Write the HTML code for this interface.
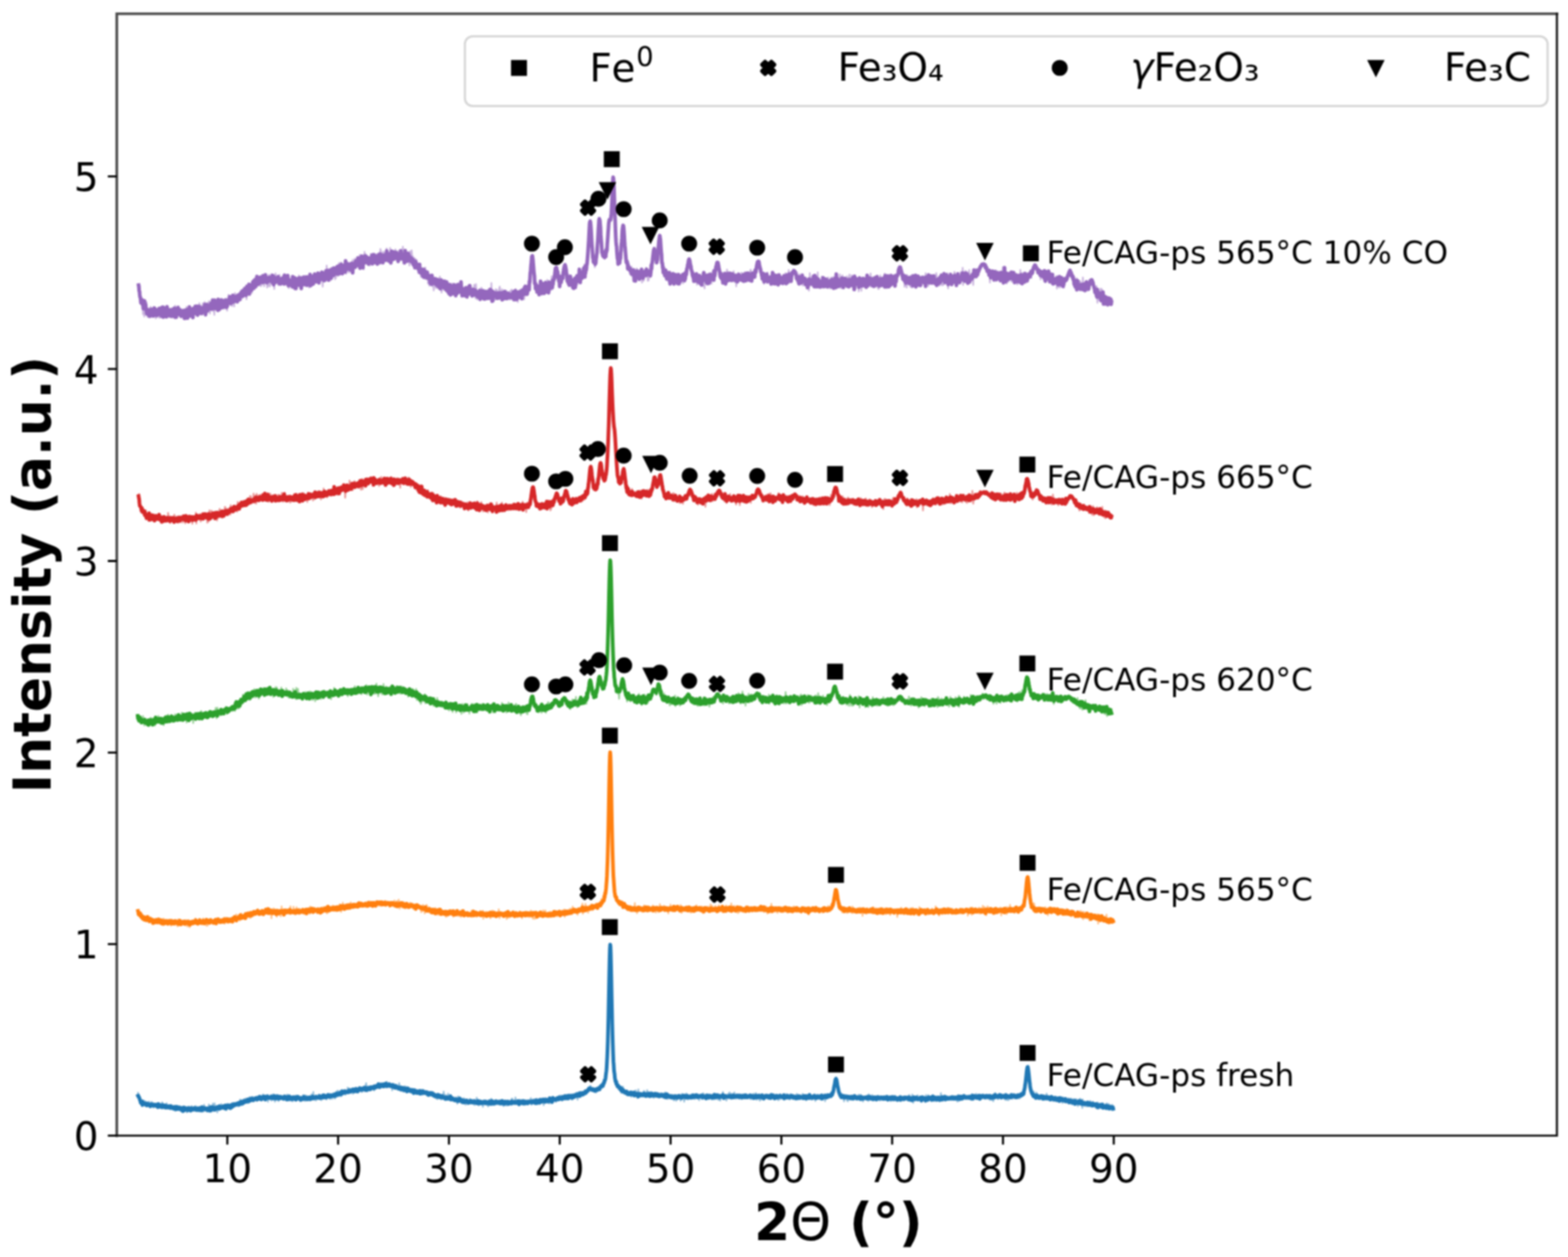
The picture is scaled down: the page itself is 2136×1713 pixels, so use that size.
<!DOCTYPE html>
<html><head><meta charset="utf-8"><title>XRD patterns</title>
<style>html,body{margin:0;padding:0;background:#fff;width:2136px;height:1713px;overflow:hidden}svg{display:block;filter:blur(0.9px)}</style>
</head><body>
<svg width="2136" height="1713" viewBox="0 0 2136 1713">
<rect width="2136" height="1713" fill="#fff"/>
<g fill="none" stroke-width="5.0" stroke-linejoin="round" stroke-linecap="square">
<path stroke="#1f77b4" stroke-width="2.2" stroke-opacity="0.5" d="M188.0,1489.2l.6,2.8 .6,1.8 .6,4 .6,.3 .6,2.3 .6,3 .6,1.1 .6,0 .6-1.8 .6-.5 .6,0 .6,1.2 .6,.8 .6-1.9 .6-.3 .6,3.4 .6-4.8 .6,3.9 .6,1.5 .6-3.2 .6-.2 .6,.9 .6,3.3 .6-1.7 .6-3.9 .6,3.3 .6,3.4 .6,0 .6-.8 .6-1.9 .6-3.7 .6,4.7 .6-.8 .6,.6 .6,3.5 .6-3.1 .6,.2 .6,.8 .6-1.9 .6-.9 .6-.1 .6,3.5 .6-.5 .6-2.3 .6,3.9 .6-2.2 .6-3.4 .6,4.5 .6-1.6 .6-2.6 .6,4.3 .6-1.9 .6,0 .6,2.3 .6-6.3 .6,2.2 .6,2 .6,1.7 .6-2 .6-.7 .6,0 .6,2.2 .6,1.9 .6-4.8 .6-1.3 .6,4.2 .6-.2 .6-1.1 .6,3.6 .6,.6 .6-3.1 .6,.6 .6,2.2 .6-2.2 .6-2.2 .6,3.2 .6-1.8 .6,2.9 .6-1.9 .6,.9 .6,1.7 .6-1.4 .6-1.1 .6-.8 .6,6.4 .6-1.4 .6-5.9 .6,1.1 .6,3.8 .6-2.6 .6,1.5 .6,1.9 .6-1.6 .6-.5 .6-.7 .6,.9 .6,1.2 .6,3.1 .6-1.5 .6-2.8 .6,2.6 .6-1.8 .6-3.7 .6,3.2 .6,2.6 .6-3.7 .6,3.6 .6-2.8 .6,.8 .6-2.8 .6,7.5 .6-3.7 .6,1.3 .6-3.3 .6-2.3 .6,6.1 .6-4.4 .6,5.5 .6-4.2 .6,4.2 .6-5.4 .6-2.4 .6,5.7 .6-1.7 .6,.1 .6,2.4 .6-4.4 .6-.9 .6,.3 .6-1.2 .6-.3 .6,1.2 .6,.8 .6,1.1 .6-1.7 .6,2.5 .6,2 .6-2.3 .6,1.5 .6-3.1 .6,2.7 .6,.4 .6-2.6 .6-2.1 .6,3.1 .6,.3 .6,3.3 .6-4.3 .6,4.7 .6-9.3 .6,4.7 .6-.4 .6,.2 .6-.4 .6,1 .6,3.9 .6-4.2 .6,3 .6-2.9 .6,.4 .6-5.7 .6,5.6 .6,1.1 .6-4 .6,1.2 .6-.6 .6,6.7 .6-7.1 .6,.5 .6-4.6 .6,2.6 .6,4 .6-3.4 .6-3.5 .6,5.6 .6,.8 .6,.3 .6,.2 .6-2.3 .6,7.7 .6-7.7 .6,2.3 .6-4 .6,1.4 .6-2.1 .6,3.9 .6-1.5 .6-1.4 .6-2.3 .6,5.7 .6,.6 .6-.1 .6-2.1 .6,1.7 .6,.4 .6-.9 .6,2 .6-3.7 .6,.7 .6-4 .6,8.1 .6-6.5 .6,2.3 .6,.6 .6-3.4 .6,1.6 .6,1.5 .6-1.9 .6-.7 .6-.1 .6-1.1 .6,1.1 .6,1 .6,.1 .6,1.2 .6-2.5 .6-1.5 .6,2.9 .6-1.3 .6,1.3 .6-2 .6,.6 .6-.5 .6,.6 .6-4.1 .6,1.8 .6,.5 .6,3.3 .6-4.3 .6,1 .6-1.6 .6-4.5 .6,7.4 .6-1.5 .6,1.1 .6-6.1 .6,3.6 .6-.4 .6-4.1 .6,4.4 .6-2.6 .6,2.3 .6-5 .6,1.6 .6,.2 .6-2.1 .6,3.4 .6,2.7 .6-3.2 .6,1.3 .6,1.7 .6-2.2 .6-2.3 .6-3.7 .6,5 .6-1.8 .6-.4 .6,2.5 .6-.6 .6-4.9 .6,3.9 .6-1.4 .6,2.5 .6-2.1 .6,2.1 .6-3.8 .6,.5 .6-.4 .6,.7 .6-.2 .6,3.2 .6-5.1 .6,2.4 .6-3 .6-.7 .6,1.9 .6-2.2 .6,3.8 .6-2.2 .6,.4 .6,2.2 .6,2.4 .6-4.8 .6-3.3 .6,3.5 .6,.8 .6,2.5 .6-2.7 .6-2 .6,4.1 .6,.3 .6-2.9 .6,1.1 .6,.1 .6,5.1 .6-7.3 .6,.4 .6,.8 .6,1.8 .6-2.3 .6,1.9 .6,.9 .6,2.4 .6-4.8 .6-.4 .6,0 .6-3.5 .6,1.6 .6,3 .6,0 .6,5.6 .6-3 .6-1.1 .6,1.6 .6-4.8 .6,.2 .6-.4 .6,1.4 .6,5.3 .6-5.5 .6-.9 .6,1.6 .6,1.9 .6-.8 .6,.8 .6-4.6 .6,.8 .6,1.4 .6,.8 .6,2.9 .6-5.9 .6,4.3 .6-1.9 .6,1.9 .6-2.8 .6-1.7 .6,5.9 .6-2 .6-5.1 .6,6.1 .6-3.9 .6,2.1 .6,.2 .6-3 .6,5.6 .6-3.7 .6,5 .6-2.6 .6,0 .6-.5 .6,3.9 .6-6.8 .6,.6 .6,.3 .6,4.1 .6-.2 .6-2.2 .6,.5 .6-4.4 .6,7.2 .6-3.9 .6,.8 .6-1 .6,2.2 .6-2 .6,.8 .6,0 .6-1.4 .6-.2 .6,2.3 .6,0 .6,.8 .6,1.6 .6-6.2 .6-1.3 .6,3.2 .6,3.9 .6-3.1 .6-4 .6,7.8 .6-2.5 .6-4.6 .6,1.5 .6,2.1 .6-1.5 .6,.9 .6,1.5 .6-1.2 .6,3.1 .6-3.7 .6,3.9 .6-4.8 .6-1.4 .6-2.2 .6,2.8 .6,2.2 .6,1.9 .6-10.1 .6,7.7 .6-2.2 .6,3.9 .6-2.9 .6,1.8 .6,3.4 .6-3.9 .6-.7 .6,2.6 .6-1.7 .6-1.1 .6-3.3 .6,2.8 .6-3.1 .6,4.2 .6,.8 .6-1.2 .6,4 .6-6.9 .6,3.5 .6-.9 .6-2.9 .6,3.8 .6,.7 .6,.6 .6-3 .6,1.8 .6-3.1 .6,4.9 .6,.6 .6-3.8 .6,.1 .6-3 .6,2.4 .6-1 .6,1.3 .6-3.8 .6,7.2 .6-3.8 .6,2 .6-1.5 .6-1.9 .6,4.9 .6-1.9 .6-6.1 .6,3.2 .6-.6 .6-1.5 .6,6.6 .6-7.8 .6,6.1 .6-7.6 .6,6.9 .6-4.5 .6-4.1 .6,5.6 .6,.3 .6-3.3 .6,4.4 .6-6.5 .6,6.2 .6-1.4 .6,2.6 .6-5.2 .6,2.8 .6-3.5 .6,3.1 .6-1.5 .6,1.1 .6-4.9 .6,3.9 .6-.4 .6,2.4 .6-4.3 .6,.2 .6,1.7 .6-.3 .6-7.1 .6,5 .6,2.5 .6-2.9 .6-3.6 .6,3.4 .6,.6 .6-2.3 .6,2.3 .6-2.8 .6,2 .6,.5 .6,3.8 .6-3.4 .6,2 .6-2.5 .6-3.2 .6-.2 .6,4.4 .6-5.6 .6-.1 .6,5.7 .6-4.1 .6-.8 .6,6.3 .6-5.9 .6,3.3 .6-1.6 .6,.3 .6-.3 .6,2.2 .6,.9 .6-5.6 .6,5.6 .6-4.1 .6,0 .6,1.8 .6-2.9 .6-.9 .6,5.5 .6-4.9 .6-3.6 .6-2.8 .6,8.1 .6-1.1 .6,4.2 .6-6.8 .6-.2 .6,2.8 .6,2.8 .6,.1 .6-3.3 .6-1.7 .6,1.7 .6,3 .6-3.8 .6-.9 .6,1.9 .6-.7 .6-.4 .6,4.4 .6-3.3 .6-1.4 .6-1.2 .6,0 .6,1.7 .6,.3 .6-3.2 .6,.1 .6,.5 .6-1.6 .6,4.5 .6-4.7 .6,2.3 .6,1.8 .6-4.6 .6,.2 .6,1.6 .6,1.3 .6-.8 .6-.3 .6,2.6 .6-4.2 .6-.3 .6,3 .6-1.2 .6,1.8 .6,.3 .6-5 .6-2.2 .6,6 .6-1.3 .6,.7 .6-2.6 .6,3.9 .6-2.2 .6,1.8 .6,.9 .6-1.7 .6-.3 .6-1.3 .6,7.9 .6-9.2 .6,4.9 .6-4.9 .6,1.7 .6,5.3 .6-4.7 .6,4.2 .6-3.1 .6,3.1 .6-5.1 .6,.8 .6,6.1 .6-2.4 .6-2.9 .6,1.4 .6-5 .6,5.8 .6-2.1 .6,1 .6,5.8 .6-4.5 .6,0 .6-1 .6,4.3 .6-.1 .6-3.1 .6-1.7 .6,3.5 .6,.9 .6-4.7 .6,7.3 .6-4.6 .6,2.4 .6-1.9 .6,.2 .6,3.9 .6-1.8 .6-3.6 .6,4.4 .6,1.2 .6-2.2 .6,3 .6-4.5 .6,4.4 .6-1.6 .6-.1 .6,2.9 .6-1.5 .6-2.2 .6,2 .6-2.6 .6,2.8 .6,1.9 .6-.1 .6-4.4 .6,1.2 .6,2.1 .6,0 .6-3 .6,2.3 .6,.5 .6,2.7 .6-2.9 .6-.6 .6-2.2 .6-.6 .6,5.4 .6-1.8 .6-1.1 .6,3.4 .6-1.1 .6-1.2 .6,2 .6-2.4 .6,2.7 .6-.7 .6-1.7 .6,.2 .6-.6 .6,3.8 .6-2.2 .6-1.9 .6,4.1 .6-.4 .6-.9 .6,.6 .6-1.2 .6-.4 .6,3.5 .6-4.4 .6-.8 .6,.6 .6,5.2 .6-4.3 .6,1.9 .6-.9 .6-.5 .6,2.1 .6,.2 .6,4.9 .6-5 .6,1.5 .6,4.1 .6-1.2 .6-1.6 .6,.8 .6-2 .6,2.1 .6-1.1 .6-2.4 .6,6 .6-3.8 .6,1.4 .6-2.3 .6-1.5 .6-1.1 .6-3.4 .6,9.1 .6-5.3 .6,2.9 .6,1.4 .6-3.3 .6,2.3 .6,2.2 .6-1.3 .6,2 .6-7.3 .6,7.5 .6,.7 .6-4.9 .6,5 .6-2.6 .6,.5 .6,1.9 .6-4.5 .6,5.4 .6-3.5 .6,3.6 .6-1.8 .6,.9 .6-2.4 .6,1.9 .6-2.5 .6,1.2 .6-1.5 .6,3.2 .6-2 .6,7.7 .6-7.2 .6-2.9 .6,7.7 .6-3.3 .6,2.1 .6-.9 .6-1.8 .6,.5 .6-1 .6,5.8 .6-1.6 .6-4.4 .6,5.3 .6-.8 .6-5 .6,2 .6,2.9 .6-.2 .6,4.1 .6-4.6 .6,2.3 .6-3.2 .6,.9 .6,.3 .6-.1 .6,.7 .6-.2 .6-3.9 .6,5.4 .6-4.1 .6,4.5 .6-.3 .6,.1 .6-2.9 .6,2.1 .6,1 .6-2.8 .6-2.2 .6,7.4 .6-4.5 .6-.6 .6-1.1 .6-.5 .6-3.3 .6,3.7 .6,0 .6,.5 .6,6.4 .6-4.7 .6-.6 .6,1.1 .6-1.9 .6,4.8 .6-.1 .6-4.6 .6,4 .6-.5 .6,4.4 .6-3.2 .6-6.1 .6,2.3 .6,2.8 .6-.5 .6,1.6 .6-3.2 .6,.9 .6,2.8 .6-2 .6-1.4 .6,5.6 .6-5.7 .6,.6 .6-2.4 .6,2.6 .6-4.5 .6,7.5 .6-8.7 .6,7.1 .6-3.9 .6,2.8 .6,2.6 .6-3.4 .6,1.1 .6-2.6 .6,.7 .6,3.5 .6-4.4 .6,3.7 .6-1.6 .6-1.4 .6,3.2 .6-4.4 .6,2.9 .6-3.8 .6,2.5 .6-2.4 .6,3.4 .6,1.6 .6,.3 .6-1.4 .6-.4 .6-1.6 .6,.2 .6-1.3 .6,6.9 .6-5 .6-.1 .6,.6 .6-2.2 .6,5.7 .6-4.8 .6-1.3 .6,6.4 .6-1.4 .6-1.2 .6-2.6 .6,4.4 .6-3.3 .6,.6 .6,2 .6-2.3 .6-1.4 .6-3.9 .6,7.5 .6-7.8 .6,3.4 .6-.4 .6,.8 .6,.2 .6,2 .6-1.9 .6-5.7 .6,6.4 .6-2.8 .6,1.8 .6-2 .6,2.6 .6-.4 .6,2.5 .6-.8 .6,1.2 .6-5.6 .6,6.5 .6-4.3 .6,2.1 .6,.6 .6,.2 .6-2.1 .6-2.9 .6,5.1 .6,1.1 .6-.2 .6-.1 .6,1.1 .6-1.6 .6-3 .6,2.6 .6-4.2 .6,2.3 .6,.4 .6,2.3 .6-3.3 .6,.2 .6-.8 .6,2.3 .6-5.1 .6-1.2 .6,8.9 .6-1.1 .6-1.3 .6-.7 .6-2.3 .6-2.1 .6,4.4 .6-3.6 .6,4.6 .6-1.6 .6-3.8 .6,3.7 .6-4.6 .6,2.3 .6,3.7 .6-3.8 .6,.9 .6-.9 .6,.2 .6,3.4 .6-1.3 .6,.1 .6-4.7 .6,2.9 .6-1.2 .6,2 .6-2.7 .6,4.4 .6,3.9 .6-5.9 .6-1.6 .6,3 .6-5.6 .6,2.4 .6,3.1 .6-2.9 .6,.7 .6,3.2 .6-2.7 .6,.7 .6-3.6 .6,7 .6-5.8 .6,1.8 .6-.9 .6-.4 .6-2.7 .6,2.1 .6,.8 .6,2.8 .6-2.8 .6-1.5 .6,1.4 .6-.2 .6-.6 .6,.7 .6,3 .6-3.8 .6-3 .6,1.6 .6,.5 .6-1.1 .6,1.9 .6,1.7 .6-6.7 .6,1.9 .6,1.3 .6,2.4 .6-5.6 .6,6.2 .6,1.1 .6-.9 .6-2.2 .6-3.6 .6,1.7 .6-.5 .6,1.6 .6,1.7 .6-.8 .6-3.4 .6,4 .6,.4 .6-4.9 .6-.2 .6,1 .6,1.7 .6-3.1 .6,4.8 .6-2.4 .6,1.4 .6-3.3 .6-.8 .6,2.8 .6,3.6 .6-3 .6,1.2 .6-4.1 .6-.5 .6,1.2 .6,1.3 .6-1.5 .6-2.9 .6-1 .6,4 .6-1.1 .6,6.4 .6-7.7 .6-.9 .6,3.6 .6-2.5 .6,.6 .6,2 .6-4.7 .6,1 .6-.6 .6-.3 .6-.1 .6,.7 .6,3.5 .6-3.7 .6-2 .6,1.6 .6-1.4 .6,1.3 .6-.7 .6-1.8 .6,.4 .6,.7 .6,.2 .6-2.8 .6,.9 .6-1.2 .6-3 .6,.6 .6-2.8 .6,2.6 .6,1.4 .6-.4 .6,1.7 .6-.4 .6,1.5 .6-1.5 .6,1.8 .6-.6 .6,.2 .6,1.4 .6-3.9 .6,5.6 .6-4.2 .6,.6 .6-1.4 .6-.8 .6-2.4 .6,1.7 .6-2.5 .6,0 .6,5.9 .6-3.9 .6-1.1 .6-2.2 .6,1.6 .6-.7 .6,.6 .6-2.6 .6-.4 .6,1.2 .6-3.1 .6-.7 .6-8.4 .6-.4 .6-1.7 .6-9.1 .6-7.9 .6-17.4 .6-17.5 .6-28.5 .6-27.9 .6-30 .6-26.5 .6-12.7 .6,7.5 .6,23.1 .6,29.5 .6,28.8 .6,27.9 .6,19.4 .6,14.5 .6,16.2 .6,8.1 .6,4.5 .6,.8 .6-.2 .6,9.2 .6,.1 .6,3.9 .6-5 .6-.8 .6,8.4 .6,2.2 .6-.5 .6-.4 .6-.5 .6,1.7 .6-2.4 .6,6.8 .6-.8 .6-7.4 .6,7.4 .6-7.8 .6,6.5 .6-1.2 .6,4.7 .6-2.8 .6-.5 .6,3.7 .6-4.3 .6,.2 .6,5.4 .6-1.8 .6-.5 .6-1.5 .6,1.3 .6-.4 .6,1.8 .6-.2 .6-.6 .6,.3 .6,3.7 .6-1.9 .6-.6 .6-1.1 .6,1 .6-.8 .6,.7 .6,.5 .6-2.5 .6-.1 .6-4 .6,3 .6,2.8 .6,4.5 .6,.2 .6-5.3 .6-6.5 .6,7.7 .6,.2 .6,2.5 .6-5.1 .6,1.1 .6,.1 .6,.7 .6-2.9 .6,3.8 .6-2.5 .6,1.9 .6-.5 .6-5 .6,5.7 .6-3.3 .6,.4 .6,.1 .6-.9 .6,2.6 .6-5.6 .6,4.6 .6,1.8 .6,.6 .6,1.7 .6,.1 .6-.2 .6-2.7 .6-1.4 .6-2.2 .6,2.7 .6,1.5 .6-1 .6-1.3 .6,4.3 .6,2.2 .6-4.9 .6,3.7 .6-1.7 .6-3.5 .6,2.5 .6-1.7 .6,4.3 .6,0 .6-1.7 .6-1.8 .6,1.9 .6-.3 .6,2.1 .6-.1 .6-.8 .6-4.6 .6,4.4 .6,1 .6-3.3 .6-1.2 .6,4 .6-4.5 .6,1.6 .6,.6 .6-1.5 .6-2.1 .6,8.6 .6-4.8 .6-2.3 .6,7.4 .6-3.6 .6,3 .6,.5 .6-5.7 .6,3.9 .6,.2 .6-3.7 .6-.2 .6,4.9 .6-2.1 .6-2.9 .6,.7 .6,1.9 .6-1.6 .6,6.1 .6,.7 .6-3 .6-3.1 .6-1.4 .6,1.3 .6,6.8 .6-2.2 .6-5.1 .6,1.1 .6,3.3 .6-3.2 .6-.1 .6,2.1 .6,.8 .6-1.8 .6,5.1 .6-5 .6-.9 .6-3.6 .6,1.7 .6,2.2 .6-.2 .6-2.7 .6,9.6 .6-5.2 .6-.5 .6-1.1 .6-.1 .6-4.3 .6,4.8 .6-2.6 .6-.6 .6,6.8 .6-3.7 .6,.7 .6-1 .6-.9 .6-1.7 .6,4.6 .6-4.1 .6-.5 .6,0 .6,3.7 .6,.2 .6,.5 .6-1.9 .6-.1 .6,3.4 .6-6.4 .6,4.9 .6-1.2 .6-1.5 .6-.9 .6-1.6 .6,.2 .6,.7 .6,1.9 .6,5.5 .6-6.2 .6,1.1 .6-.7 .6-2.2 .6,1.1 .6,5.6 .6-3.4 .6-3.5 .6-1.3 .6,7.9 .6-3.9 .6-2.4 .6,4.9 .6-2.3 .6-1 .6,1.4 .6,3.3 .6-5.4 .6,4 .6-1.5 .6-1.5 .6,4.8 .6-4.4 .6,1.2 .6-1.5 .6-1.9 .6,3.7 .6-3.2 .6,6.5 .6-.4 .6-4.9 .6-.1 .6-.6 .6,5.9 .6-6.7 .6,.2 .6,.3 .6,.2 .6,5.4 .6-4.2 .6,1.3 .6-.9 .6,.1 .6,4.9 .6-.4 .6-3 .6-2.7 .6,6.9 .6-5.1 .6-2.4 .6,.2 .6,2 .6,1.5 .6-8 .6,7.3 .6-1.1 .6,1.4 .6-3.2 .6,4.3 .6-3.4 .6,3.7 .6,2.8 .6-4.8 .6,.2 .6-.1 .6-4.6 .6,5 .6-4.6 .6-2.4 .6,5.8 .6,1.6 .6-3.5 .6-1.9 .6,7 .6-6.9 .6,6.2 .6-3.1 .6-2 .6,3.3 .6-6.4 .6,4 .6,1.6 .6-.1 .6,3.3 .6-5.6 .6,3.7 .6-1.6 .6,2.1 .6-.8 .6,1.7 .6-2.9 .6,3.6 .6-3.3 .6-1.7 .6,1.8 .6,.3 .6,3.2 .6-6.2 .6,2.7 .6-2.9 .6,5 .6-.1 .6-.5 .6-4.8 .6,.8 .6,2.3 .6,1 .6,.8 .6-2.7 .6,1.4 .6-1.2 .6-.2 .6,.3 .6-1.7 .6,4.7 .6,1 .6-1.8 .6-2.4 .6,4.4 .6-5.6 .6,4.9 .6-.4 .6,.5 .6-6.8 .6,4.9 .6-2 .6,3 .6-1.4 .6-5.3 .6,6.4 .6,2.7 .6-3.1 .6,.7 .6-1.4 .6,.9 .6-2.4 .6,5 .6,1.6 .6-7 .6,2.8 .6-2 .6,4.7 .6-3.2 .6,1.4 .6-2.4 .6,3 .6-.7 .6-1 .6,.5 .6-4.6 .6,5.3 .6-4.3 .6,1 .6,1.4 .6,1.6 .6,.4 .6-1.4 .6-.1 .6,1.1 .6-3.5 .6,1.9 .6-1.6 .6-2.4 .6,1.3 .6,5.1 .6-3.8 .6-2.5 .6,3.9 .6-1.5 .6,.3 .6,.3 .6,1.4 .6-.2 .6-.8 .6,.8 .6-.6 .6,1 .6,.8 .6-1.7 .6,4.7 .6-6.8 .6,1.1 .6,.8 .6,3.5 .6-.7 .6-1.4 .6-2.7 .6,2.9 .6-1.1 .6-.6 .6,3.5 .6,.7 .6-2.7 .6-2.2 .6,2 .6-2.8 .6-1.2 .6-.8 .6,3.5 .6-.2 .6-1 .6,.5 .6,.4 .6-1.7 .6,3.2 .6,2.8 .6-4.1 .6-3.4 .6,3.8 .6,.6 .6,.9 .6,1.1 .6-.6 .6,.6 .6-2.5 .6,1 .6-2.4 .6,.5 .6,2.8 .6-2.2 .6-2.8 .6-1.1 .6,6 .6-2.5 .6-.4 .6-.6 .6,2.7 .6-1.1 .6-.4 .6,0 .6,.3 .6,2.4 .6-1.6 .6,2.5 .6-7.2 .6,2.6 .6,3.5 .6-3.5 .6,1.3 .6-.4 .6,1 .6,.5 .6,3.7 .6-2.1 .6-1.9 .6,.8 .6,0 .6-1.2 .6-1.3 .6,2.4 .6,.5 .6-3.1 .6,1.3 .6,1.2 .6,0 .6,2.9 .6-4.3 .6-1.1 .6,2.7 .6-3.4 .6,1.8 .6-3.7 .6,5.2 .6,4.2 .6-6.1 .6,.1 .6,2.1 .6,.9 .6-5.8 .6,3 .6,.8 .6-.2 .6,.6 .6-1 .6-.2 .6-2 .6,6.3 .6-3.8 .6,2.5 .6-2.7 .6,.4 .6-.6 .6,1.6 .6-1.2 .6-3.6 .6,9.3 .6-5.4 .6-2.1 .6-1.8 .6,1.5 .6,1.2 .6-1.6 .6,3.3 .6-4.8 .6,3.5 .6,.1 .6-3 .6-.3 .6,.2 .6,1.6 .6-1.7 .6-.9 .6-.1 .6-.4 .6-4.9 .6-3.4 .6-2.2 .6-3.6 .6-2.7 .6-2.4 .6-.6 .6,1.3 .6,4.1 .6,2.5 .6,4.5 .6,3.3 .6,3.3 .6-.4 .6,5.5 .6,.2 .6-1.8 .6,.7 .6-3.3 .6,5.1 .6,.8 .6-3 .6,2 .6-2.3 .6,8.2 .6-6.9 .6,1.5 .6,1.1 .6-1.9 .6,1.7 .6,1.2 .6,2.5 .6-1.9 .6,2.5 .6-7.5 .6,.9 .6-.8 .6,2.5 .6-1.1 .6,.1 .6,1.2 .6,.5 .6-2.6 .6,2.3 .6-.4 .6-.3 .6,3.2 .6-6.7 .6,2.8 .6-.1 .6,.2 .6,0 .6-.6 .6,.4 .6,2.5 .6-.1 .6-4 .6-1.2 .6,2.7 .6-2.5 .6,4.3 .6,.2 .6-4.8 .6,5.4 .6-1.5 .6-2.1 .6,4.8 .6,2.7 .6-5.2 .6,.9 .6-2.8 .6,3.3 .6-1.9 .6,2.4 .6-1.8 .6,1.1 .6-1.8 .6-2.1 .6,4.1 .6,3.1 .6-9.2 .6,5.9 .6-2.8 .6-1 .6,3.7 .6-.8 .6,.6 .6,.5 .6-5 .6,7.6 .6-.3 .6-4.5 .6,1.3 .6-2.6 .6,3.2 .6-.3 .6,.3 .6-1 .6,1.7 .6-1 .6-.6 .6,1 .6,.8 .6,.2 .6-.6 .6,2.1 .6-3.8 .6,3.7 .6-3.9 .6,.2 .6,0 .6,2.9 .6-3 .6-1.3 .6,3.2 .6-2.7 .6,1.2 .6,.5 .6,.2 .6,2.1 .6-2.6 .6-2.6 .6,4.7 .6-3.5 .6-.8 .6,1.6 .6,2.6 .6-4.7 .6,1.3 .6,4 .6,1.6 .6-3.8 .6,1.9 .6-1.4 .6-.5 .6-2.2 .6,2.5 .6-1.4 .6,.6 .6,.8 .6,.5 .6-2.7 .6,.8 .6,2.7 .6,2.1 .6-3.4 .6,1.5 .6,0 .6-2.7 .6,2.7 .6-3.2 .6-1.4 .6,1.7 .6,2.2 .6-2.7 .6,3.6 .6-3.3 .6,2.8 .6-1.7 .6,3.4 .6-3.7 .6,.5 .6-.1 .6-1.9 .6,3.2 .6-2.9 .6,0 .6,1.1 .6,0 .6,3.9 .6-4.1 .6,4 .6-7.9 .6,6.4 .6-1.9 .6,4.4 .6-6.4 .6,2.3 .6,.3 .6-5.6 .6,5 .6,6.5 .6-6 .6,1.6 .6-2.1 .6,3.6 .6-4.9 .6-.6 .6,4 .6-4.5 .6,2.9 .6-4.5 .6,5.7 .6-2.4 .6,1.2 .6,.1 .6,.4 .6-1.6 .6-.4 .6,3.1 .6,.8 .6-5.9 .6,1.7 .6,.7 .6-.6 .6,3.6 .6-2.2 .6-.6 .6,1.5 .6,2.2 .6-7.5 .6,5.7 .6-1.6 .6-.4 .6,.6 .6-4.2 .6,4.2 .6,.9 .6-1.6 .6-1.9 .6,1.2 .6,3.3 .6,1.9 .6-3.6 .6,1.5 .6,1.3 .6-2.1 .6-2.7 .6,2.7 .6,3.1 .6-5.2 .6,.4 .6-1.6 .6,2.9 .6-2.4 .6,3.8 .6,.1 .6-3.1 .6,.5 .6,.8 .6-2.5 .6,1.1 .6,5.2 .6-3.9 .6-7.1 .6,10 .6-2.9 .6-.1 .6,3.2 .6-.3 .6-.4 .6,.4 .6-6.8 .6,5.8 .6-3.5 .6,1.2 .6,2.5 .6-.1 .6-1.5 .6-2 .6,3.7 .6-3.2 .6,1.2 .6,.1 .6,.4 .6-3.2 .6,3.7 .6-.5 .6-2.3 .6,2.1 .6,1.9 .6-5.5 .6,2.3 .6-1.6 .6,.8 .6,2.9 .6-2.6 .6-.8 .6,4 .6-1.4 .6,.7 .6,3.3 .6-5.7 .6-3.3 .6,8.4 .6-4.6 .6,.5 .6,1.3 .6-.5 .6-4 .6,.5 .6-.1 .6,.6 .6,1.7 .6,1.2 .6,0 .6-3.5 .6,1.9 .6-1.4 .6,.5 .6,2.6 .6-1.3 .6-2.4 .6,3.1 .6-.1 .6-.1 .6-.9 .6,.2 .6,2 .6-2.8 .6,1.5 .6-2.3 .6,3 .6,1.4 .6-3.3 .6,.7 .6,0 .6-.9 .6,3.8 .6-3.1 .6-3.1 .6,4.9 .6-3.4 .6,3.2 .6-6.7 .6,7 .6-4.6 .6,1.4 .6,1.2 .6,.7 .6-3.6 .6,3.7 .6,.3 .6-1.7 .6,.1 .6,2.4 .6-3.7 .6,2.4 .6-.8 .6-.6 .6-1.4 .6-1 .6,3.5 .6,.3 .6,.4 .6-2.1 .6,.8 .6-.3 .6,.6 .6-1.2 .6,3.1 .6-3.8 .6-1.7 .6,2.5 .6-.6 .6,5.2 .6-5.7 .6-1 .6,4.8 .6,1.5 .6,.6 .6-6.2 .6-.3 .6,7.8 .6-6.5 .6-2.3 .6,4.2 .6-6.5 .6,.6 .6,3.6 .6,1.8 .6-1.3 .6,.8 .6,1.7 .6,1.3 .6-5.5 .6,.2 .6,2.2 .6-1.7 .6-.7 .6,1.3 .6-2 .6,2.8 .6,1.4 .6-2.1 .6-1 .6-1.6 .6,1 .6-.1 .6,5.5 .6,1 .6-5.3 .6,1.4 .6,4.2 .6-6.7 .6,6.8 .6-5.9 .6-.8 .6,6.8 .6-6.1 .6,2 .6,1.2 .6-2 .6-2.2 .6,1.1 .6,2.7 .6,1.6 .6-1.8 .6-5 .6,4.6 .6-2.5 .6,4.2 .6-.9 .6-3.3 .6-1.1 .6,.9 .6,1.7 .6,.9 .6-3.3 .6,1.7 .6,3.2 .6-.2 .6-4.8 .6,5.1 .6-1.3 .6-2 .6,.9 .6-4.1 .6,1.9 .6,0 .6-.3 .6-4.1 .6,2.5 .6-4.2 .6-4.5 .6,.1 .6-5.4 .6-6.9 .6-6.2 .6-4.8 .6-4.2 .6-.8 .6,4.2 .6,5.7 .6,4.8 .6,5.5 .6,3.7 .6,3.2 .6,3.2 .6,5.4 .6,.2 .6,1.2 .6,2.7 .6-1.7 .6,3.3 .6-7.6 .6,5.9 .6,2.7 .6,2 .6-2.4 .6,.9 .6-7.6 .6,6.8 .6-.9 .6-2.4 .6,2.6 .6,.1 .6-.8 .6,2.2 .6,1.9 .6-1.5 .6,0 .6-3.5 .6,3.1 .6-.5 .6,.5 .6,1.7 .6-2.1 .6-2.4 .6,3.7 .6-2.9 .6,.9 .6-.1 .6,.7 .6-5.5 .6,3.6 .6,1.9 .6,.1 .6-.3 .6,.8 .6,.5 .6-2.9 .6,5.6 .6-3.6 .6,.7 .6-.6 .6-2.5 .6,.1 .6,2.6 .6,4 .6-5.7 .6,3 .6-3 .6,2.7 .6-2.4 .6-.4 .6,.2 .6,1 .6,1.6 .6-.7 .6-.8 .6,3 .6,0 .6-1.2 .6,1.9 .6-1.6 .6-2.4 .6,5.3 .6-3.1 .6-.1 .6,5.5 .6-7.8 .6,1.4 .6,.4 .6,4.4 .6-.6 .6-.1 .6-3.1 .6,.3 .6-.9 .6,4.3 .6-3.8 .6,.8 .6-1.9 .6,4.6 .6-1.7 .6,4.3 .6-2.2 .6-3.1 .6-1.6 .6,.7 .6,3.3 .6-1 .6,0 .6,1.4 .6-3.6 .6,.1 .6,1.9 .6,.3 .6-2 .6,6.2 .6-3.6 .6-2.8 .6,4.3 .6,1.6 .6,3.8 .6-6.5 .6,1.5 .6-2.6 .6,.4 .6-3.2 .6,4.5 .6,1.4 .6-4.1 .6,5.9 .6,5.1 .6-11.5 .6,5 .6-1.5 .6,1.1 .6-.2 .6,4.7 .6-3.1 .6,.2 .6,2.7 .6-3.7 .6,4.4 .6-5.8 .6,.3 .6,2.4 .6-.9 .6,.2 .6-.5 .6-3.3 .6,5.7 .6-2 .6,1.5 .6-1.4 .6,1.5 .6-4.3 .6,2.4 .6,.5 .6,1.1 .6,2.8 .6-1.1 .6,2.3 .6,.1 .6-3.7 .6,3.2 .6-1.2 .6-5.5 .6,3.8 .6,3.9 .6,.9 .6-4.6 .6-1 .6,2.9 .6-1 .6-.6 .6,1.5 .6-4.4 .6,5.4 .6,1 .6-2.7 .6-1.4 .6,2.6 .6,.8 .6-2 .6,1.6 .6-3.2 .6-2.2 .6,6.5 .6-1 .6,.5 .6-5.5 .6,3.5 .6,2.9 .6-4.8 .6,2.2 .6-1.8 .6,4.9 .6-.8 .6,2.3 .6-6.9 .6,3.9 .6-1.3"/>
<path stroke="#1f77b4" d="M188.0,1493.3l.4-.2 .4,1 .4,1 .4,.6 .4,.9 .4,1.5 .4,1.7 .4-.3 .4,3.1 .4-.2 .4,.4 .4,1.2 .4-.4 .4-1 .4,3.3 .4-4.9 .4,3 .4,.7 .4-.3 .4-1.2 .4,.7 .4,0 .4,.4 .4,0 .4,1.1 .4-1 .4-.5 .4,1.5 .4,.1 .4,.9 .4-2.6 .4,.8 .4-.4 .4,1 .4-.6 .4,1.5 .4-.7 .4-.5 .4,1.1 .4-.5 .4,.6 .4,1.6 .4-2.8 .4,.2 .4-.4 .4,1.7 .4-.2 .4-.3 .4,.4 .4-1.3 .4,1.6 .4-1 .4,1 .4-1.2 .4,.7 .4-.8 .4,1.4 .4-.2 .4-.4 .4,.4 .4-.7 .4-.3 .4,2 .4-.4 .4,0 .4-.6 .4,.6 .4,1.8 .4-4.5 .4,2.7 .4,.5 .4-1.4 .4,.5 .4,.2 .4,1.4 .4-1.9 .4,.3 .4,1.6 .4-1 .4-1 .4-.3 .4,3.1 .4-1.4 .4,.4 .4-.7 .4,.2 .4-1.5 .4,2.7 .4-2.4 .4,.1 .4,.3 .4,1.6 .4-.9 .4,2 .4-2.7 .4,2.4 .4-1.3 .4-.5 .4,.9 .4,.6 .4-.9 .4,1.4 .4-.6 .4,0 .4-1.3 .4,.6 .4-.6 .4,.9 .4,1.1 .4,.5 .4-2.4 .4-.3 .4,2.1 .4-.5 .4-.7 .4,1.8 .4-1.4 .4,.1 .4,.4 .4,.1 .4,1.7 .4-1.2 .4,.6 .4-1.2 .4-.7 .4,2.9 .4,.3 .4-2.2 .4-.8 .4-.1 .4,.8 .4-1 .4,3.3 .4-3.1 .4,2.3 .4-.7 .4-1.1 .4,1 .4,1.3 .4-1.6 .4,1.1 .4-1.7 .4,1 .4,.1 .4,.2 .4,1.9 .4-2.2 .4-.1 .4,.4 .4-.4 .4,1.1 .4,1.2 .4,1.9 .4-2.2 .4-1.6 .4,2.3 .4-3.4 .4,3.9 .4-3 .4,.4 .4-.2 .4,1.3 .4-1.3 .4,1 .4,.2 .4-.7 .4,.6 .4-.7 .4,2.5 .4-1.1 .4-.6 .4-1.6 .4,1.7 .4-1.5 .4,.3 .4,2.2 .4-1.3 .4-1.2 .4,2.2 .4,1.1 .4-3.5 .4,.8 .4,.3 .4,.8 .4-1 .4-.2 .4-.1 .4,1.6 .4-1.4 .4,1.1 .4-1.5 .4,1 .4-1.5 .4,.6 .4,.9 .4,0 .4-.4 .4,1.7 .4,.1 .4-1.5 .4-.9 .4,.2 .4,.2 .4,.7 .4,.4 .4,.6 .4-.4 .4,.8 .4-1.6 .4-1.5 .4,1.2 .4,1 .4,.9 .4-1.5 .4,.9 .4-.6 .4,1.7 .4-4.6 .4,1.8 .4,.5 .4,.9 .4-.8 .4-.6 .4,.6 .4,.4 .4-.7 .4-1.1 .4,.8 .4-.3 .4,1.7 .4-1.5 .4,.9 .4,0 .4-.8 .4,.8 .4,0 .4,1.8 .4-3 .4,.8 .4,.7 .4-1.2 .4-.1 .4,.2 .4,1.2 .4,1.9 .4-3.7 .4-1.2 .4,2.4 .4-1.5 .4-.5 .4,.3 .4-1 .4,3.8 .4-.2 .4-.4 .4-.3 .4-.7 .4-.8 .4-.6 .4,1.5 .4,1.7 .4-.3 .4-2.1 .4,1.2 .4-1.2 .4,1.2 .4-1.3 .4-.9 .4-.4 .4,1.7 .4,.2 .4-.7 .4-1.3 .4,0 .4,.2 .4,2.4 .4-3.7 .4,1.8 .4-.1 .4,.3 .4-1 .4,1.9 .4-.8 .4-.6 .4,.2 .4,0 .4,.2 .4-.9 .4-1 .4,1 .4,1.2 .4-1.2 .4-.5 .4,2.1 .4-2.4 .4,2.2 .4-3.3 .4,2.7 .4,1.6 .4-1.2 .4-1.7 .4,.5 .4,.4 .4,.2 .4-.7 .4-2.4 .4,2.5 .4-.5 .4-.9 .4,.5 .4-.7 .4,2.8 .4-3.1 .4,2.4 .4,1.2 .4-3 .4,1 .4-2.4 .4,3.2 .4-2.5 .4,.4 .4-.1 .4-2.1 .4,1 .4,1.6 .4-1.1 .4,.4 .4-2.2 .4,0 .4,1.5 .4-.5 .4-.5 .4,0 .4-.6 .4,1.3 .4-1.4 .4,.5 .4-.2 .4-.4 .4,.7 .4-1.5 .4,.5 .4,1.1 .4-1.4 .4,1.9 .4-2.8 .4,.5 .4-.2 .4-.3 .4,1.2 .4-2.3 .4,.4 .4,2.4 .4-1.7 .4,1.6 .4-2.8 .4,2.4 .4-1.9 .4,.1 .4,1 .4-1.4 .4-1.2 .4,1.7 .4-2.1 .4,1.2 .4,.4 .4-.1 .4-1.1 .4,1 .4-.7 .4,.1 .4-1.3 .4,0 .4-1.3 .4,1.3 .4-.3 .4,1.8 .4-.8 .4-1 .4-1.3 .4,2.3 .4-2.4 .4,1.2 .4,.4 .4-.4 .4-1.7 .4,.1 .4-.5 .4,1.3 .4,.9 .4-.9 .4,.3 .4,.9 .4-1.5 .4-.4 .4-.1 .4-.4 .4,0 .4-.3 .4,1 .4-1.4 .4,.8 .4,1 .4-.5 .4,1.1 .4-2.7 .4,1 .4-1.3 .4,.6 .4,1.4 .4-1.7 .4,.4 .4,.9 .4-.4 .4-2.3 .4,1.2 .4,1.8 .4,.3 .4-1.3 .4,1.6 .4-1.3 .4-.6 .4-.7 .4,.3 .4,0 .4-1.5 .4,1.3 .4,.2 .4,.1 .4-.7 .4,2.4 .4-3.5 .4,.4 .4,3.9 .4-3.3 .4,.8 .4-.8 .4-.5 .4,.2 .4,.1 .4-1.1 .4,2.2 .4-.2 .4-.9 .4,.6 .4,.8 .4-.5 .4-.1 .4,.2 .4,.2 .4-.8 .4,1 .4-.1 .4-2.4 .4,.9 .4,1.3 .4-.5 .4-.3 .4-.8 .4,2.5 .4-1.9 .4,.2 .4,.5 .4-2.4 .4,3.7 .4-1.6 .4,.1 .4-.5 .4,1.2 .4-2.2 .4,.8 .4,2.1 .4-1.5 .4-1.8 .4,1.9 .4-1 .4-.2 .4,2 .4-1.2 .4,2.2 .4-2.4 .4,1.3 .4-1.8 .4,0 .4,1.9 .4-1.4 .4,1.1 .4-.2 .4,.6 .4-.8 .4-.1 .4,.4 .4,.3 .4,0 .4-.8 .4,2.1 .4-2.3 .4,.3 .4-1.5 .4,1.4 .4,.7 .4,.7 .4-.5 .4,1 .4-.3 .4-1.3 .4,2.8 .4-1 .4,0 .4-2.8 .4,2.2 .4-2 .4,1.6 .4,1.5 .4-4.1 .4,2.5 .4,.8 .4-1.6 .4,.1 .4-.2 .4,1.3 .4,.1 .4,.6 .4-1.4 .4,1.9 .4-2.5 .4-.3 .4,.4 .4-.6 .4,.5 .4,.7 .4,.9 .4,.2 .4-.4 .4,.3 .4-2.2 .4,1.7 .4,1.8 .4-2.5 .4,.6 .4-.1 .4,.6 .4-.3 .4-2.4 .4,1.6 .4-.1 .4,.9 .4-1.1 .4,.1 .4,.9 .4,.3 .4,1 .4-2.1 .4,3.1 .4-2.2 .4,1.4 .4-1.3 .4-.5 .4,.9 .4-.8 .4,.9 .4-1.5 .4-.4 .4,2.1 .4-3.2 .4,2.5 .4-1.3 .4,1.4 .4-.8 .4-.1 .4,.2 .4-.3 .4,1.7 .4-.6 .4-1.4 .4,.1 .4,2.3 .4-1.7 .4,.9 .4-.9 .4,0 .4-1 .4,2.1 .4,.1 .4-2.3 .4,1.6 .4,.8 .4-1.3 .4-.6 .4-.5 .4,2 .4-1.2 .4,.3 .4-1.2 .4-.9 .4,.5 .4,.5 .4,.8 .4,.8 .4-.8 .4-.5 .4,.5 .4-.9 .4,.6 .4-1.2 .4,1.3 .4-1.6 .4,.7 .4,.4 .4,.4 .4-.3 .4,.1 .4,.3 .4-.4 .4,.4 .4-.3 .4-.2 .4-1.9 .4,2.9 .4-1.4 .4-.6 .4,1.7 .4-.8 .4-1.1 .4,.4 .4,.7 .4-.5 .4,1.1 .4-1 .4-2.3 .4,3.1 .4-2.4 .4-.8 .4,1.2 .4,1.2 .4-1.9 .4,.6 .4,1.6 .4,.3 .4-.6 .4-1.3 .4,.6 .4,.9 .4-1.2 .4,.8 .4-.6 .4-2.2 .4,1.2 .4,1.4 .4-1.2 .4-.6 .4,1.5 .4-1.3 .4,1.7 .4-1.9 .4,1.1 .4-1.1 .4,1.4 .4-1.6 .4,.6 .4-.6 .4,.8 .4-.6 .4,.6 .4-.8 .4-.3 .4,1.3 .4-.7 .4,.7 .4-2.2 .4,2.2 .4-1.5 .4-.4 .4-.9 .4-.3 .4,1.3 .4,.4 .4-.7 .4,.4 .4-1.7 .4,1 .4-.5 .4,1.4 .4-2.5 .4-.1 .4,1 .4-.1 .4-.4 .4,.3 .4,.2 .4-1 .4,1.9 .4-2.8 .4,1.7 .4-3.3 .4,3.3 .4-1.9 .4,.9 .4-.2 .4-.9 .4,.4 .4-.4 .4,0 .4,1 .4-2.3 .4,2 .4-1.4 .4,1.3 .4-.5 .4,.3 .4-.8 .4,.3 .4-.6 .4,.2 .4,.4 .4,.5 .4-.7 .4-.9 .4-1.1 .4,1 .4,.3 .4-.4 .4,1.2 .4,0 .4-.9 .4-1.3 .4,1.1 .4-.7 .4-1.2 .4,1.2 .4-.3 .4,.9 .4-2.3 .4,.1 .4,1.7 .4,1.2 .4-1.3 .4-.1 .4,0 .4-.7 .4-1.3 .4,1.5 .4-.3 .4-.9 .4,2.9 .4-2.8 .4,1.5 .4,1.4 .4-2.2 .4-.3 .4-.3 .4,1.2 .4-.6 .4-.1 .4-2.4 .4,2.4 .4-.6 .4,.7 .4-1.7 .4,1 .4,.2 .4,.1 .4,.2 .4-1.7 .4,1.8 .4-.3 .4-1.8 .4,1.1 .4,.1 .4-.3 .4-1.8 .4,1.9 .4,.8 .4-2.6 .4,1.8 .4,1.4 .4-2.2 .4,1.7 .4,.7 .4-2.1 .4,.8 .4,.2 .4-1.8 .4,.7 .4,.6 .4-.3 .4-.8 .4-.5 .4,1.6 .4,.7 .4-1.4 .4-.1 .4-1.7 .4-.1 .4,.3 .4,1 .4,.2 .4-.7 .4-.7 .4,.3 .4,.3 .4-.8 .4-.4 .4,2.3 .4-2.9 .4,.8 .4,1.5 .4-1.5 .4,1.1 .4-.7 .4-1.3 .4,.3 .4-.8 .4,1.2 .4,.2 .4-1.4 .4,1.2 .4-1.1 .4-2.4 .4,.6 .4,2.5 .4,.7 .4,.4 .4-2.9 .4,1.7 .4-.9 .4,0 .4-1.7 .4,2.4 .4-.9 .4,0 .4,.8 .4-.6 .4-1.5 .4,2.6 .4-3.2 .4,1.6 .4-.4 .4,1.8 .4-2.2 .4-.8 .4,1.9 .4-1.6 .4-1.2 .4,1.2 .4,1 .4-.8 .4,2.5 .4-2.6 .4,.3 .4,.2 .4,.9 .4,.4 .4-1.1 .4,.5 .4-1.6 .4,2.5 .4-.5 .4,0 .4,.7 .4-.5 .4-.9 .4,.3 .4,1 .4,.7 .4-2.1 .4,1.3 .4-1.2 .4,2.7 .4-.3 .4-1.9 .4,2.4 .4-2.1 .4,.7 .4,1 .4,1.1 .4-2.5 .4,2.4 .4-1 .4-.3 .4,.1 .4,.5 .4-.1 .4,0 .4,.6 .4-.4 .4,1.9 .4,.2 .4-.7 .4-.3 .4,1.1 .4-1.7 .4,1.3 .4,0 .4,1.3 .4-2.7 .4,1.8 .4,.9 .4-1.1 .4,.5 .4-.2 .4-1.3 .4,.6 .4,1.3 .4,1.4 .4-3 .4,1.3 .4,1.7 .4-1 .4,.1 .4-.1 .4-.7 .4-.8 .4,2.3 .4,.5 .4,1.1 .4-.9 .4-3.5 .4,2.7 .4-.7 .4,1 .4,.5 .4-1.8 .4,2 .4-.5 .4,.7 .4-.2 .4,.1 .4-1.6 .4,1.1 .4,.9 .4-1 .4,1.5 .4-2.3 .4,1.3 .4,.7 .4,.6 .4-1.5 .4,3.3 .4-2.4 .4-1.2 .4-.5 .4,.5 .4,.6 .4,.7 .4-.5 .4,2.2 .4-.3 .4-.3 .4,.9 .4-2.4 .4,.1 .4,.8 .4-.1 .4,.2 .4,1.6 .4-.1 .4-1.3 .4-1 .4-.6 .4,2.5 .4,1.4 .4-1.6 .4-.8 .4-.1 .4-.2 .4,1.3 .4-.7 .4,1.6 .4-3.3 .4,1.8 .4,1 .4-.9 .4,.1 .4,.7 .4-.1 .4-1.2 .4,1.3 .4-.5 .4,1 .4-1.7 .4,1.5 .4-1.3 .4,.1 .4,1.3 .4,0 .4,2.1 .4-1.6 .4,1.3 .4,.6 .4-2.7 .4,1.8 .4-.4 .4-1.4 .4,1.4 .4-.5 .4-1 .4,2.2 .4,0 .4-.2 .4-.1 .4,.3 .4,.5 .4-2.2 .4,2.8 .4-1.7 .4,2.1 .4-1.1 .4,0 .4,.2 .4,1.9 .4-.2 .4-1.5 .4,.3 .4,.6 .4-.5 .4,.3 .4-.5 .4,2.2 .4-2.7 .4-.2 .4,.5 .4,.7 .4,.5 .4-.3 .4,1.9 .4-2.5 .4,.6 .4,2 .4-1.3 .4,.6 .4,1.1 .4-1.7 .4,1 .4-.8 .4-.7 .4,.8 .4,.6 .4,1.3 .4-.2 .4,0 .4,0 .4-.7 .4,.3 .4-.2 .4,.5 .4,1.8 .4-1.5 .4-.1 .4,.8 .4-.5 .4-1.2 .4,1 .4,1.2 .4-.5 .4-.4 .4-.5 .4,0 .4,.5 .4,.4 .4-.8 .4,1.2 .4,.6 .4-4.1 .4,4.6 .4-.7 .4-.1 .4,.5 .4-1.7 .4,1.8 .4-1.7 .4,1.1 .4-.3 .4,1.3 .4-.2 .4-.1 .4,.3 .4,.9 .4-.7 .4-.4 .4,1.2 .4-1.1 .4-.3 .4,1.3 .4-.1 .4,.7 .4-2 .4,.3 .4,.4 .4,1.3 .4,.5 .4-.4 .4-.9 .4-.4 .4,0 .4-2 .4,3.1 .4-1.9 .4,.6 .4,.7 .4,1.6 .4-1.2 .4,.7 .4,1.4 .4-1.6 .4-.8 .4,1.9 .4-.2 .4-1.1 .4,2.4 .4-2.2 .4,.7 .4,.1 .4-1.3 .4,.4 .4,.7 .4,1 .4-.1 .4-.3 .4-1.9 .4,1.8 .4-.1 .4,1.3 .4-1.1 .4,1.6 .4-.8 .4-.5 .4-.6 .4,.7 .4-.8 .4,1.3 .4-2.3 .4,1.3 .4,.3 .4-1.6 .4,2 .4,.4 .4-.1 .4-.4 .4-.7 .4,0 .4,.8 .4,.7 .4-.7 .4-1.6 .4,1.2 .4,.1 .4,.6 .4-1 .4,.7 .4,.1 .4-.3 .4,1.5 .4-.9 .4,.4 .4-1.3 .4,.9 .4-2.2 .4,3.5 .4-1.9 .4,1 .4-1.8 .4,2.8 .4-2.8 .4,.5 .4,.5 .4,0 .4-.8 .4,.7 .4,1.5 .4-.9 .4,.9 .4-.1 .4-1 .4,.3 .4-.1 .4-1 .4,.9 .4,.5 .4-.9 .4,.5 .4-1.3 .4,2.2 .4-1.5 .4-.8 .4,2.1 .4,0 .4-.7 .4,.4 .4,0 .4-.5 .4,.2 .4-.2 .4,1.5 .4-1.7 .4-1.5 .4,1.5 .4,2 .4-2.6 .4-.4 .4,1 .4,2 .4-2.8 .4,1.1 .4-2.2 .4,2.1 .4-.9 .4,2.3 .4-2.9 .4,1.1 .4-.5 .4,2.1 .4,.3 .4-1.9 .4,.6 .4-.2 .4,.6 .4-1.4 .4-1.2 .4,1.8 .4-.4 .4,0 .4,0 .4-.6 .4,1.7 .4-.3 .4-.3 .4-.2 .4-.2 .4-.5 .4,1.8 .4,.5 .4-2.2 .4,.4 .4-.9 .4,1.6 .4,1.2 .4-1.3 .4,.8 .4-3.1 .4,.2 .4,3.4 .4-2.3 .4,.4 .4,0 .4,2.2 .4-2.3 .4-.6 .4,3 .4-1.8 .4,0 .4-1.4 .4,2.3 .4-.4 .4-.6 .4-.5 .4,1.3 .4-.6 .4-.4 .4-1.2 .4,1.7 .4,1.7 .4-2 .4,.8 .4-.7 .4-.1 .4,.7 .4-1.2 .4-.2 .4-.4 .4,1.7 .4,1 .4-3 .4,1.3 .4-.5 .4,.5 .4,.2 .4-.1 .4,.5 .4-.4 .4,.4 .4-1.6 .4,2 .4-1.4 .4,.3 .4,.2 .4-.4 .4,.2 .4,.9 .4,.2 .4-.5 .4,0 .4-1.8 .4,1.5 .4-2 .4,.3 .4,.4 .4,3.8 .4-2.9 .4-1.1 .4,2.2 .4,0 .4-.7 .4,.3 .4-1.5 .4,1.9 .4-2.4 .4,.7 .4,.4 .4-1.1 .4,.7 .4,2.5 .4-3.2 .4,2.5 .4-2.6 .4,.8 .4,2.3 .4-.6 .4-2.2 .4,2.3 .4-1.6 .4,1.3 .4-.3 .4-.5 .4-.1 .4-.5 .4,2.1 .4-2 .4-.6 .4,1.3 .4-1.4 .4,.8 .4,.5 .4-.8 .4-.4 .4,.8 .4-.2 .4-.3 .4-.4 .4,1.6 .4,.2 .4-1.3 .4-.5 .4,.4 .4-.9 .4,.7 .4,.3 .4-.2 .4,0 .4-.3 .4,1.9 .4-2.1 .4-.2 .4,2.8 .4-4 .4,3 .4-1.5 .4,1.6 .4,.8 .4-1.1 .4-1.8 .4,.1 .4-.7 .4,1.4 .4,.8 .4-1.8 .4,2.8 .4-2.6 .4-1.5 .4,2.9 .4-.5 .4,.1 .4-2.1 .4,1.3 .4-.6 .4,1.4 .4-.2 .4-1.2 .4,.4 .4-2.1 .4,1.4 .4,.3 .4,.4 .4,.5 .4-2 .4,.9 .4,1.8 .4-.3 .4-.3 .4-1.8 .4-.7 .4,1 .4-.6 .4,.9 .4,.2 .4,1.1 .4-2.4 .4,1.6 .4,.5 .4-1.4 .4-.2 .4-2.8 .4,3.2 .4-.2 .4,1.1 .4-2.6 .4,1 .4-.9 .4-.5 .4,4.5 .4-3.7 .4,2 .4-4.4 .4,3.1 .4-1.3 .4,1.4 .4-1.1 .4,.1 .4,.1 .4-.5 .4,.7 .4,.1 .4,.5 .4-1 .4-.1 .4-.1 .4-.3 .4-1.2 .4,.4 .4,1.2 .4,.4 .4-1 .4,.8 .4-2.6 .4,2.2 .4-.6 .4-.3 .4-.1 .4-.3 .4,.5 .4,.7 .4-.2 .4-.4 .4-1.4 .4-.5 .4,2.5 .4-2.9 .4,.5 .4,0 .4,1 .4-.5 .4-.1 .4-1 .4-1.1 .4,3.4 .4-.3 .4-1.4 .4,.6 .4-1.2 .4,1.5 .4,.5 .4-1.1 .4-2.2 .4,.4 .4,3.2 .4-.9 .4-2.5 .4,2 .4-2.5 .4,1.3 .4-.7 .4,1.4 .4,0 .4-1.7 .4,.8 .4,.9 .4,1.1 .4-1.8 .4,.2 .4-1.6 .4,.6 .4,2.1 .4-1.6 .4-.4 .4-.3 .4,1.7 .4-2 .4-.9 .4,.5 .4,.6 .4,0 .4-1.2 .4,1.5 .4-.5 .4,.6 .4-.9 .4-1.9 .4,.6 .4,1.3 .4-1.7 .4,.9 .4-1.1 .4,.8 .4,2.2 .4-4.2 .4,2.5 .4,.9 .4-2 .4,.9 .4-.1 .4-1 .4-.8 .4-.5 .4,1.5 .4,.5 .4-1.4 .4-.8 .4,1.4 .4-1.3 .4,.3 .4,.7 .4-1.8 .4,.9 .4-2.4 .4,2.5 .4-1 .4-1.6 .4,1 .4-.7 .4-.5 .4-1 .4,.9 .4-1.9 .4-.1 .4-.5 .4-1 .4,.2 .4-.2 .4-.3 .4,.5 .4-.3 .4,.1 .4,1.7 .4-.7 .4,.4 .4,.1 .4,.6 .4-1 .4-.2 .4,1 .4,.2 .4-.2 .4,0 .4,1.3 .4-1.5 .4,1.8 .4-1.3 .4,.1 .4-.1 .4-1 .4-.3 .4,1 .4-.5 .4,1 .4-1.4 .4-.6 .4-.2 .4,.4 .4-.1 .4-.7 .4,.5 .4,.9 .4-1.5 .4-1.1 .4-.1 .4-.4 .4-1.6 .4,1 .4,.3 .4-1.4 .4-1.1 .4-.3 .4,1.9 .4-1.6 .4-2.2 .4,.6 .4-2 .4,.4 .4-3.2 .4,.3 .4-1.1 .4-1.5 .4-3.7 .4-3.6 .4-2.7 .4-4.7 .4-7.5 .4-7.5 .4-10.5 .4-11.2 .4-15.8 .4-16.4 .4-19.9 .4-19.9 .4-20.5 .4-18.9 .4-13.5 .4-6.3 .4,2.1 .4,10.4 .4,16.6 .4,19.8 .4,21.1 .4,18.9 .4,19.5 .4,15.3 .4,13.1 .4,11.8 .4,10.4 .4,5.1 .4,7.1 .4,2.9 .4,2.6 .4,5.2 .4,1.6 .4,3.1 .4-.1 .4-.2 .4,3.8 .4,.3 .4,.3 .4,1.3 .4,1.3 .4,.3 .4-1.6 .4,1.4 .4,1.1 .4,.1 .4,.6 .4,.1 .4-.9 .4,2.4 .4-.4 .4-1 .4,3.3 .4-1.6 .4,1.2 .4-1.1 .4,1.3 .4,0 .4,2.2 .4-2.9 .4,2.2 .4-.4 .4,1 .4-.2 .4-.4 .4,1.5 .4-.6 .4,1.2 .4-.2 .4-.8 .4,1.4 .4-2.3 .4,1.5 .4,1.2 .4,.9 .4-1.7 .4-.2 .4,2.4 .4,.1 .4-.6 .4-.2 .4-.8 .4,1.3 .4-1 .4-.8 .4-.9 .4,3.1 .4-.3 .4-2.4 .4,1.4 .4-.1 .4-.1 .4-.5 .4,1.9 .4-.5 .4-.4 .4-2 .4,4.2 .4-1.9 .4,1.8 .4-1 .4-.7 .4-.2 .4,.8 .4,.7 .4-1.5 .4,1.4 .4-2.1 .4,1.4 .4,1 .4,.9 .4,.8 .4-2.8 .4-.4 .4-.4 .4-.1 .4-.1 .4,2.1 .4-.6 .4,.5 .4-1.4 .4,1.2 .4-.3 .4,.6 .4-.9 .4,.1 .4-.5 .4,1.5 .4-1.1 .4-.6 .4-1.1 .4,2.5 .4-1.4 .4,1 .4-.3 .4,1.7 .4-2.1 .4,.6 .4,1.6 .4-2 .4,.6 .4-1.3 .4,2.1 .4-.4 .4-.7 .4,1.2 .4-.9 .4,1.2 .4-3.4 .4,3.1 .4-1 .4,1.8 .4-.8 .4-.4 .4,.6 .4-2.3 .4,1.5 .4,.1 .4-2.2 .4,1.7 .4,1.1 .4-.6 .4-.5 .4,1.1 .4-1 .4,.6 .4-2 .4,1.7 .4-.1 .4-2 .4,.4 .4,2.4 .4-1.3 .4,1.5 .4-.2 .4-1.7 .4-.5 .4,1.1 .4-.1 .4-.7 .4,1.1 .4,.4 .4,1.4 .4-2 .4,.1 .4,1.5 .4,0 .4-1.5 .4-.2 .4-.2 .4,1.4 .4-1 .4-.3 .4,.5 .4,.9 .4-.3 .4,.2 .4,.9 .4-1.4 .4-.4 .4,2.7 .4-2.5 .4,.8 .4-1.9 .4,2.2 .4-.3 .4,2 .4-3.1 .4-1.1 .4,1.3 .4,.3 .4-.5 .4,2 .4,0 .4-1.2 .4,1.1 .4-.6 .4,.5 .4-.4 .4,1.5 .4-1.3 .4,.4 .4,.7 .4-.9 .4,.1 .4,1.8 .4-.8 .4-.1 .4-1.1 .4,1.5 .4-.2 .4-.4 .4,.1 .4-.6 .4,1.8 .4-2.4 .4,1.5 .4-1.3 .4,0 .4,.6 .4,.4 .4,.2 .4-.7 .4,0 .4,1.8 .4-2.5 .4,.6 .4,.8 .4-.8 .4,.9 .4-2 .4,1.2 .4-.6 .4,1.2 .4-1 .4,1.8 .4-1.3 .4,1 .4-.8 .4,1.5 .4-2.2 .4-.4 .4,1.3 .4-1.9 .4,1 .4-.3 .4,.5 .4-.2 .4-1.1 .4,.4 .4,1.7 .4,.4 .4-2 .4,.9 .4,.9 .4-.5 .4,1.2 .4-.4 .4-2.3 .4,2.1 .4-.4 .4,.1 .4,.6 .4,0 .4-.8 .4-.5 .4-.1 .4,.8 .4-.5 .4,1.3 .4-1.1 .4-.7 .4,.1 .4,1.5 .4,.1 .4-2.4 .4-.9 .4,2.6 .4-.8 .4-.5 .4-.7 .4,1.9 .4-.3 .4,.3 .4-2.2 .4,2.1 .4-.7 .4,.2 .4-.6 .4-1.4 .4,2.3 .4-.3 .4,.2 .4,.9 .4-1.2 .4-.8 .4,1 .4,.3 .4-.3 .4,.2 .4-.2 .4,.1 .4-1.2 .4,.7 .4,.4 .4-.2 .4-.3 .4,.8 .4-2.1 .4,.9 .4,2 .4-1.9 .4,1.1 .4-.2 .4-.8 .4,1.4 .4-.5 .4-.5 .4,1.2 .4-.7 .4-.7 .4,0 .4,2.9 .4-.8 .4-1.3 .4-2.2 .4,1.9 .4-1.1 .4,1.9 .4-.4 .4-.3 .4,1 .4-2.7 .4,2.7 .4-.9 .4-1.2 .4,1.7 .4-.2 .4,.3 .4-.8 .4-.4 .4-.2 .4,2.2 .4-1.2 .4-.2 .4-.8 .4,1.4 .4,.1 .4-2.9 .4,3.2 .4-4 .4,1.9 .4,0 .4,1.8 .4-.2 .4-1.4 .4,1.2 .4-1.1 .4,.4 .4-2.1 .4,2.8 .4-1.5 .4,1.2 .4,.4 .4-1.2 .4-.8 .4,1.3 .4,1 .4-.5 .4-.8 .4,1.1 .4-1.1 .4,.1 .4,.5 .4,.1 .4-1.8 .4,1.7 .4-.1 .4-.9 .4-1.7 .4,1.7 .4,1.9 .4,.9 .4-1.4 .4,.5 .4-1.1 .4,.1 .4,.2 .4-1.5 .4,1 .4,.4 .4-.3 .4,.1 .4-.3 .4-.1 .4,.5 .4-.5 .4,.9 .4-.3 .4-1.2 .4,1.4 .4-.3 .4-.9 .4,.3 .4,1 .4-1.9 .4,1.9 .4,.6 .4-1.7 .4,1.6 .4-.9 .4-.4 .4,.7 .4-.8 .4,.1 .4-1.6 .4,2.9 .4-2.1 .4,.1 .4,1.3 .4-.6 .4-.6 .4,.9 .4-.7 .4,.4 .4,.2 .4-.2 .4-1.5 .4,2 .4-.8 .4,.8 .4-1 .4,.4 .4,1.2 .4-2.3 .4-.2 .4,1 .4,.7 .4-.1 .4,.5 .4-.8 .4,1.2 .4-2 .4,1.3 .4,1 .4-1 .4-1.2 .4,1 .4-.8 .4,.3 .4-.3 .4-.2 .4-.5 .4,2.6 .4-.1 .4-1.5 .4-1.3 .4,2.6 .4-2.5 .4,1.2 .4,1 .4-1 .4,1.6 .4-1.4 .4-.1 .4,.1 .4,.6 .4-1 .4-.4 .4,.2 .4,.7 .4-.9 .4-.7 .4,1.9 .4,.5 .4-1.2 .4,.6 .4-.3 .4,0 .4-.9 .4,.5 .4,.3 .4,.5 .4-.3 .4,2.3 .4-2.2 .4,1.4 .4-.2 .4-1.9 .4-.3 .4,2.7 .4-2.9 .4-.1 .4,2.3 .4-.9 .4,.3 .4-.3 .4-.6 .4-.4 .4,2.2 .4-.6 .4,0 .4-2.1 .4,1.5 .4,.1 .4,.7 .4,.1 .4-1.3 .4,.4 .4,.3 .4,.6 .4-1.1 .4-1.7 .4,2.8 .4-2.2 .4,.5 .4,1.2 .4,0 .4,2.4 .4-2.5 .4,1.4 .4-2.1 .4,1.6 .4-1.9 .4,1.4 .4-1.9 .4,.4 .4,.3 .4,.2 .4-1.1 .4,.3 .4,1.3 .4,.6 .4-1.7 .4,2.5 .4-1.2 .4,0 .4-.7 .4,1.4 .4-1 .4-1.4 .4,3.3 .4-1.2 .4-.3 .4-2.9 .4,1.9 .4,.5 .4,.8 .4-.1 .4-1.1 .4,.4 .4-1.7 .4,1.7 .4-.4 .4,.5 .4,2.6 .4-1.3 .4-.1 .4-.5 .4-.8 .4,.2 .4,1.3 .4-2.8 .4,1.5 .4-.2 .4,1.6 .4-.3 .4-1.8 .4,1.5 .4-.8 .4-.5 .4,.5 .4-.6 .4-.6 .4-.5 .4,.8 .4,.1 .4,1.2 .4-.1 .4-1 .4,.6 .4,.3 .4,.6 .4-.8 .4,0 .4-1.3 .4,.9 .4-1.8 .4,4.5 .4-2.1 .4,1.2 .4-1.4 .4,1.3 .4-1 .4,.8 .4-.8 .4,.8 .4-1 .4-.4 .4-1.1 .4,2.5 .4-.8 .4-.3 .4,1 .4-1 .4-.1 .4,1.4 .4-1.6 .4,.2 .4,.4 .4-1.6 .4,1.4 .4-1.4 .4,2 .4-.9 .4-.3 .4-.7 .4,1.6 .4,.4 .4,.6 .4-1.8 .4,.2 .4,.3 .4,1.4 .4-1.9 .4,2.4 .4-.4 .4,.6 .4-.6 .4,0 .4-1.2 .4,.6 .4,.5 .4,.6 .4-2.1 .4-.7 .4,1.9 .4-.4 .4-1.7 .4,1.2 .4,.1 .4,1.4 .4-1.9 .4,1.1 .4-1.3 .4,.6 .4,.6 .4-.3 .4,.2 .4,.1 .4,0 .4,0 .4,0 .4,1.1 .4-3 .4,1.5 .4,.4 .4-.1 .4,.3 .4,.7 .4-3 .4,1.3 .4,.9 .4,1.5 .4-2.3 .4,.4 .4-.3 .4,1.1 .4-2.6 .4,2.3 .4-.5 .4-.8 .4,2 .4-.8 .4-3.5 .4,3.3 .4,.8 .4-.8 .4-1.3 .4,1.3 .4,.5 .4-.7 .4-.7 .4,.5 .4,.3 .4,.9 .4-.9 .4-1 .4-.6 .4,.7 .4,1.3 .4-.1 .4-1.2 .4-.7 .4,2.7 .4-2.5 .4,.7 .4,.2 .4,.5 .4,1 .4-.1 .4-2.3 .4,1.5 .4,0 .4-.5 .4-.6 .4,.1 .4,1.1 .4-.3 .4-1.3 .4,2.3 .4-1.6 .4,1.4 .4-1.4 .4-.2 .4-1.6 .4,1.1 .4,3.3 .4-1.2 .4-.2 .4-1.1 .4-.5 .4,1.7 .4-.6 .4-.5 .4-.6 .4-1.1 .4,1.6 .4-.3 .4-.4 .4-1 .4,2.8 .4-.8 .4-1.1 .4-.6 .4,1.9 .4-1.7 .4-1.2 .4,2.3 .4-.8 .4-.7 .4,.6 .4,.3 .4-1 .4-.5 .4,.6 .4,.3 .4,.4 .4-1.5 .4-.4 .4-2.1 .4,2.4 .4-1.8 .4-.9 .4-.9 .4-1.7 .4-1.9 .4-3 .4-1.5 .4-2.1 .4-2.2 .4-2.6 .4-2.1 .4-1.1 .4-.4 .4,.6 .4,1.3 .4,1.7 .4,2.9 .4,2.3 .4,1.9 .4,1.9 .4,2.1 .4,2.5 .4,.7 .4,1.8 .4,.8 .4,.5 .4,1.7 .4,.3 .4-.3 .4,1.4 .4,1.3 .4-2 .4,0 .4,.6 .4-1 .4,1.8 .4,.7 .4-1.1 .4,.2 .4-1.1 .4,2.5 .4-2.3 .4,1.1 .4,.2 .4,.4 .4-.3 .4-.5 .4,1 .4-1.6 .4,.8 .4,.2 .4-.3 .4,.8 .4-.9 .4,1.1 .4,.4 .4-.4 .4-1.1 .4,.9 .4,.6 .4-.6 .4,.5 .4,1 .4,0 .4,0 .4-.5 .4-2.1 .4,2.2 .4-.1 .4,.2 .4,.5 .4-1.2 .4,0 .4,0 .4-.2 .4-2.3 .4,1.7 .4,1 .4-1 .4-.4 .4,.5 .4,.6 .4-.9 .4,2.3 .4-1.9 .4,1.3 .4-.9 .4,.8 .4-1.3 .4,1.6 .4-1.1 .4-.2 .4,1.1 .4-.1 .4-1.5 .4-.2 .4,3 .4-2 .4-1 .4,1.5 .4-.2 .4,.6 .4-.7 .4-.4 .4,.6 .4,1.1 .4-1.4 .4-.2 .4,.3 .4,.2 .4-.6 .4,.4 .4-.7 .4-.1 .4,.5 .4,1.3 .4,.1 .4-.5 .4-.7 .4,.1 .4-1.5 .4,2.7 .4-1.9 .4-.1 .4,.7 .4,.4 .4-.3 .4-1.6 .4,2.8 .4-1.5 .4-.4 .4,.8 .4,1.1 .4,.1 .4-.7 .4-.4 .4,.6 .4-.8 .4,.3 .4-1 .4,2.6 .4-2.3 .4,.6 .4-.3 .4,.8 .4-.4 .4-1.1 .4,.1 .4,.6 .4,2.3 .4,.2 .4-1.8 .4-.4 .4-.7 .4,.8 .4-1.6 .4,.4 .4,1.2 .4,.8 .4-.5 .4-1.1 .4,.9 .4-.5 .4-.1 .4,.7 .4-1.2 .4,1.1 .4-.5 .4,.2 .4-.7 .4,1.6 .4-.7 .4,1.1 .4-1.2 .4-.5 .4,1.8 .4-2.3 .4,1.3 .4-.8 .4-.1 .4,1.8 .4-.1 .4-.8 .4-.1 .4-1 .4-.9 .4,1.3 .4,1.4 .4,0 .4,1.4 .4-2.4 .4,.1 .4,.1 .4-.5 .4,1.7 .4-1.1 .4-.4 .4,.3 .4,.8 .4-2 .4,1.3 .4-.4 .4,1.8 .4-1 .4-.9 .4-1.3 .4,2.9 .4-2.1 .4,1.4 .4,1.2 .4-2.4 .4,1.9 .4-2.8 .4,1.6 .4,.2 .4,1.2 .4,.1 .4-1.1 .4-.4 .4,1.4 .4-1.2 .4,.9 .4,1.3 .4-2.5 .4,.1 .4-.3 .4,.1 .4,1.7 .4-1.8 .4,.7 .4,.5 .4-2.4 .4,3.9 .4-.9 .4-.8 .4,.6 .4-.9 .4-.5 .4,.8 .4-1.2 .4,.3 .4,1.1 .4,.5 .4-1.8 .4,.9 .4-1.5 .4,2.3 .4-1.9 .4,1.1 .4-.1 .4,.1 .4-1.4 .4,.6 .4,.7 .4-.1 .4-1 .4,.3 .4,.1 .4,1.6 .4,.5 .4-3 .4,.9 .4-.4 .4,2.3 .4-1.9 .4,2.5 .4-1.9 .4,.5 .4,.2 .4,0 .4-.9 .4,2.8 .4-2.4 .4-.6 .4,.8 .4,.4 .4,.2 .4-2.5 .4,1.1 .4-.6 .4,2.2 .4,0 .4-.4 .4-1.7 .4,1.1 .4-.6 .4-.8 .4,.5 .4,1.7 .4-.6 .4,1 .4-.7 .4,.8 .4-.5 .4-.9 .4,.9 .4-.6 .4-.6 .4,1 .4,.4 .4-2.5 .4,2.8 .4-.8 .4,2.5 .4-3.6 .4,1.3 .4-.7 .4-1.7 .4,2.1 .4,.7 .4-1.7 .4-.1 .4-.1 .4,.5 .4-.3 .4,.1 .4,1.5 .4,2.1 .4-3.8 .4,1.7 .4-.6 .4,.5 .4-.3 .4,1.3 .4-1 .4,1 .4-2.1 .4-1.6 .4,1.8 .4-.8 .4,1.1 .4-1.1 .4-.1 .4,.1 .4,.4 .4-.3 .4,1.6 .4-2.7 .4,3.7 .4-1.9 .4,1.1 .4-1 .4-3.1 .4,2.9 .4,1.6 .4-2.7 .4,.6 .4,1.5 .4-1.6 .4-.1 .4-.5 .4,1.4 .4,0 .4,1 .4-.6 .4,1.4 .4-2 .4-1 .4,.1 .4,0 .4,.3 .4-.6 .4,2 .4,.5 .4-.3 .4,1.3 .4-1.4 .4-1.2 .4,.7 .4-1.2 .4,1.6 .4-2.1 .4,2.8 .4,.2 .4-3.5 .4,1.6 .4-.4 .4,1.3 .4-1.3 .4,.1 .4-.4 .4,.8 .4-2 .4,1.3 .4,1.2 .4,1.2 .4-3.4 .4,.7 .4,.6 .4,1 .4-.5 .4,.4 .4-1.3 .4,1.2 .4-1 .4,1.2 .4,0 .4-1.3 .4,.6 .4,.5 .4-.8 .4-.1 .4,.3 .4,.5 .4,.1 .4-1.9 .4,1.6 .4-.2 .4-.8 .4-.7 .4,2 .4-1.1 .4,1.2 .4-.2 .4-1.2 .4-.3 .4,1.9 .4-2.1 .4,1.1 .4-.3 .4,.3 .4,.6 .4,0 .4-1 .4,1.3 .4-2.4 .4,1.9 .4-2 .4,0 .4,1.2 .4,.1 .4-1.9 .4,2.4 .4,1.1 .4-.6 .4-2.1 .4-.2 .4-.6 .4,1.1 .4-.8 .4,2.9 .4-2.9 .4,2.4 .4-.7 .4,.5 .4-1 .4-.2 .4-.6 .4-1.6 .4,1.7 .4,.1 .4,.2 .4,0 .4-.5 .4,1.2 .4-1.2 .4,1.1 .4-.8 .4-.4 .4,1.2 .4-.6 .4-.2 .4,.2 .4,.6 .4,.2 .4-1 .4-.9 .4,1.6 .4-.6 .4-.7 .4,.5 .4,.8 .4-.3 .4,1.6 .4-1.2 .4-1.7 .4-1.4 .4,3.3 .4,1 .4-2.9 .4,.6 .4-.5 .4,1.4 .4-2.6 .4,2.1 .4-.9 .4,.1 .4,.5 .4-.8 .4,1.2 .4,.5 .4-.9 .4-1.2 .4,2.3 .4-1.6 .4,1.9 .4-2.4 .4,2.1 .4-.8 .4-2.3 .4,.9 .4,2.7 .4,.9 .4-2.1 .4-.8 .4-1.2 .4,.4 .4,.5 .4,.1 .4-.7 .4,1.1 .4,.3 .4-2.1 .4,1.6 .4-.5 .4,.1 .4-.1 .4,1.1 .4-.5 .4,.6 .4,.5 .4-2.2 .4,1.2 .4-1.2 .4-.3 .4,.8 .4-.1 .4-.6 .4,1.3 .4,.5 .4-.9 .4,.4 .4,.1 .4,.4 .4-.6 .4-1.4 .4,1.1 .4,1.4 .4-.9 .4-.9 .4,2.4 .4-1 .4-.3 .4,.5 .4-.8 .4,.9 .4-1.1 .4,1.5 .4-1.4 .4-1.6 .4,.8 .4,1.4 .4-.2 .4,.7 .4-3.8 .4,3.1 .4-1.4 .4,.2 .4,.3 .4,.3 .4-1.1 .4,.9 .4,0 .4,.9 .4-1.3 .4,1.1 .4-1.3 .4-.2 .4,.5 .4-1.8 .4,2.7 .4-.8 .4,0 .4-1.6 .4,1 .4,2.5 .4-1 .4-1.3 .4,.8 .4-.9 .4,.1 .4,0 .4,1.2 .4,.1 .4,0 .4,.3 .4-1.1 .4,.6 .4-1.7 .4,.6 .4,1.3 .4-2.8 .4,3.5 .4-1.2 .4,.8 .4-1 .4,.1 .4-.1 .4,0 .4,.2 .4-.7 .4,.3 .4,1 .4-.6 .4,.1 .4,.9 .4-.6 .4,.7 .4-2.4 .4-1 .4,1 .4-.4 .4,.8 .4,1.1 .4,0 .4-1.4 .4,1 .4,0 .4-.5 .4-1.1 .4,1.9 .4-.7 .4,1.2 .4-1.8 .4,.2 .4,.5 .4,.2 .4,1.4 .4-2.1 .4,1.7 .4-1 .4-.9 .4-.9 .4,2 .4-.6 .4,0 .4-.5 .4,.2 .4-.8 .4,.2 .4-.3 .4,1 .4-2.4 .4,1.7 .4-.7 .4,.5 .4-1.8 .4-.1 .4,1.2 .4-2.7 .4,1.7 .4-.2 .4-3 .4-2.3 .4-1.2 .4-2 .4-3.6 .4-2 .4-3.4 .4-4 .4-3.6 .4-4 .4-3.2 .4-2.8 .4-1.5 .4-.2 .4,1.7 .4,2.8 .4,3.1 .4,4 .4,4 .4,4 .4,2.6 .4,4 .4,2.4 .4,1.7 .4,2.3 .4,.4 .4,2.2 .4,.2 .4,1.5 .4-.1 .4,1 .4,1.1 .4,1 .4-2.4 .4,2.3 .4,.6 .4-1.5 .4,1.2 .4-.7 .4,2.1 .4-1.1 .4,2 .4-2 .4-1.7 .4,1.8 .4-1.2 .4-.2 .4,3 .4-1.8 .4-.2 .4,1.7 .4-.4 .4,1 .4-1.4 .4,.6 .4-.1 .4-1.3 .4,0 .4,1.5 .4-2.1 .4,1.2 .4,.4 .4,1.3 .4-2.1 .4,.6 .4,2.7 .4-2.6 .4-1 .4,1.5 .4,.3 .4,.2 .4-.7 .4,1.8 .4-.6 .4-.7 .4-.9 .4,.9 .4-1 .4,1.6 .4,.8 .4-.5 .4-.9 .4,.1 .4-.8 .4,.6 .4,1.5 .4-.3 .4-.9 .4-.5 .4,.1 .4,3 .4-.4 .4-1.6 .4,.1 .4-2.1 .4,3.4 .4-2 .4,1.7 .4-.4 .4,.1 .4-.3 .4-.5 .4,.6 .4,1.4 .4-2.3 .4,1.3 .4-1 .4-.5 .4,1.9 .4-.2 .4,.1 .4,1.4 .4-2.2 .4,.5 .4,.6 .4,.1 .4,.3 .4,1 .4-3 .4,2.4 .4,.7 .4,.6 .4-2.1 .4-2 .4,.5 .4,2.2 .4-1.5 .4-.6 .4,1.4 .4,1 .4,0 .4,.3 .4-1.7 .4,.7 .4,1.1 .4-1.2 .4,1.3 .4-1.2 .4,.1 .4,1.1 .4-.4 .4-1.8 .4,3.5 .4-.2 .4-1 .4-.1 .4,.5 .4,.1 .4,.6 .4-1.3 .4,1.1 .4,.2 .4-1.2 .4-.3 .4,3.1 .4-3.2 .4,2.8 .4-.7 .4,.5 .4-1.1 .4-.2 .4,.9 .4-1.5 .4,.5 .4,1.2 .4,1.4 .4-1.6 .4,0 .4,.3 .4,1.3 .4-2.6 .4,0 .4,1.1 .4-1.4 .4,4.3 .4-1.9 .4,0 .4-.5 .4,0 .4-.8 .4,1.6 .4-1.3 .4,.1 .4,.8 .4,0 .4,1 .4-.7 .4-.7 .4-1.8 .4,3.4 .4-1.9 .4,1.5 .4,.6 .4-2 .4,1.2 .4-2.4 .4,2.2 .4,.7 .4,1.1 .4-1 .4-.1 .4-1.1 .4,.9 .4-.4 .4,.9 .4-1 .4,2 .4-1.9 .4,.1 .4,0 .4,.9 .4,.4 .4-1 .4,.1 .4,1.1 .4-.3 .4-1.6 .4-.3 .4,.7 .4,.7 .4,1.9 .4-.6 .4,.8 .4-1.8 .4,.9 .4-1.7 .4,2.4 .4-.9 .4,1 .4-.7 .4,.8 .4,.8 .4-1 .4,1 .4-3 .4,1.7 .4,1 .4-.4 .4-.9 .4-.5 .4,.5 .4,.4 .4-.4 .4,0 .4,1.1 .4-1.7 .4,.9 .4,.3 .4,1.6 .4,1 .4-3.2 .4,4.1 .4-1.8 .4-1.4 .4,1.3 .4,.2 .4-.7 .4-.9 .4,.7 .4-.1 .4,1.4 .4,.1 .4-.1 .4-2.6 .4,2.7 .4-1.6 .4,2.7 .4-2.1 .4-1.7 .4,2.9 .4,1.6 .4-1.7 .4-.9 .4,1.4 .4,.4 .4-.4 .4,.5 .4-.1 .4,.7 .4-.8 .4-2.1 .4,3.4 .4-1.7 .4,1 .4,0 .4-.8 .4,1.3 .4-2.5 .4,2.1 .4-1.2 .4,1 .4,1.5 .4-.7 .4-.4 .4-1.3 .4,1.5 .4-1.4 .4,.4 .4,.8 .4-.2 .4,.6 .4-1.4 .4,.7 .4-.6 .4,2.2"/>
<path stroke="#ff7f0e" stroke-width="2.2" stroke-opacity="0.5" d="M188.0,1242.6l.6,4.7 .6,1 .6-3.3 .6,1.2 .6,0 .6,3.3 .6-1 .6,2.5 .6-6 .6,9 .6-3.8 .6,2.3 .6-1.7 .6-.3 .6,2.4 .6,1.1 .6-2.3 .6,.3 .6,2.2 .6-3.7 .6-1.5 .6,4.9 .6-2.6 .6-3 .6,2.9 .6,1 .6-1.7 .6-.6 .6,3.9 .6,2.3 .6-2.7 .6-1.2 .6,2.9 .6,1 .6-2.5 .6,2.2 .6,1.4 .6-3 .6-1.5 .6,3 .6-.1 .6,2.2 .6-5.9 .6,1.7 .6-.4 .6-2.1 .6,4.7 .6,1.1 .6-3.1 .6,5.4 .6-1.4 .6-.4 .6-.5 .6,1.5 .6-5.7 .6,5 .6,0 .6-5.8 .6,5.3 .6-1.4 .6,2.6 .6-3 .6,1.1 .6,1 .6-3 .6,3.7 .6-1.7 .6,1.5 .6-2.5 .6,4.1 .6-1.2 .6-1.9 .6,2.1 .6,1.6 .6,1.4 .6-8.4 .6,6.2 .6-1.1 .6-1.3 .6-2.3 .6,5.7 .6-6.3 .6,4.6 .6,1.9 .6-7.3 .6,3.3 .6-2.5 .6,3.9 .6,3.2 .6,1.2 .6-9.5 .6,3.1 .6,3.2 .6,2.1 .6-2.8 .6-3 .6,2.6 .6-.7 .6-.5 .6-1.4 .6,2.8 .6-.2 .6-1 .6-.3 .6-2.7 .6,2 .6,4.3 .6-3.5 .6-3.2 .6,6.9 .6-2 .6,4 .6-5.2 .6-1.3 .6-2.5 .6,6.9 .6,3.1 .6-8.4 .6,.4 .6,3.1 .6-3.6 .6,1.4 .6-.3 .6,1.4 .6,2.2 .6-2.7 .6,2.2 .6-3.3 .6,1.8 .6-6.2 .6,1.7 .6,5.6 .6-3.5 .6,2.9 .6-.1 .6,1.9 .6-1.3 .6,.5 .6-2.8 .6-1.5 .6-.1 .6,.5 .6-1.6 .6,1.4 .6,1.1 .6,.9 .6-1.5 .6-4 .6,4.6 .6,.7 .6,2.1 .6-1.3 .6-3.1 .6-.2 .6,6.8 .6-3.2 .6,2.7 .6,.7 .6-7.4 .6,2.9 .6,.2 .6,.2 .6-.1 .6-.9 .6-.1 .6-4.2 .6,3.3 .6-1.5 .6,2.1 .6-1.5 .6,2.7 .6,.4 .6-1.3 .6,0 .6-.6 .6-1.4 .6,.7 .6-.9 .6,2.2 .6-1 .6,1.4 .6-4.9 .6,5.5 .6-4.1 .6,0 .6,1.3 .6-1 .6,2.1 .6-2.2 .6-1.3 .6,.5 .6,5.4 .6-3.2 .6-3.1 .6,2.9 .6-4 .6,8.3 .6-8.3 .6,4.9 .6,.2 .6-5.1 .6,4.3 .6,1.7 .6-1.3 .6-.6 .6,1.6 .6-2 .6,.3 .6-1.2 .6,1.8 .6-4.1 .6,4.2 .6-3.3 .6-1.6 .6,3.5 .6,3.2 .6-2 .6-3.8 .6,2.9 .6-3 .6,.6 .6,.4 .6-6.2 .6,6.2 .6-3.3 .6,.7 .6-2.1 .6-.3 .6,1.3 .6,4.2 .6,1.9 .6-4.4 .6,2.6 .6-3.6 .6-4.3 .6,5 .6,.6 .6-2.4 .6,1.6 .6,.5 .6-3.8 .6-1.7 .6,3 .6-.2 .6-.6 .6,3.2 .6,1.7 .6-5.6 .6,2.6 .6,.5 .6-.8 .6,.7 .6-3.8 .6,2.6 .6,3.1 .6-3.3 .6-3.7 .6,2.9 .6,1.5 .6-2.4 .6-2.5 .6,5.1 .6-7.1 .6,4.2 .6-1.4 .6-3.1 .6,5.9 .6-2.3 .6-3.9 .6,4.3 .6-2.7 .6-3.7 .6,2.9 .6,2.3 .6,.8 .6-1.2 .6-.4 .6,1 .6-1.8 .6,3.4 .6-2.6 .6,.4 .6,.5 .6-4 .6,.9 .6,5.5 .6-3 .6-1.5 .6,1.5 .6-2.1 .6,1.9 .6-2.4 .6,2.3 .6-4.6 .6,7.2 .6-4.6 .6-2.7 .6,3.4 .6-.4 .6,1.3 .6-3.3 .6,3.9 .6,8 .6-12.3 .6,4.1 .6-1.7 .6,1.3 .6-5.1 .6,1.7 .6,4 .6-1.3 .6,4.2 .6-5.9 .6,2.2 .6,6.8 .6-9.2 .6-.3 .6,2.1 .6,0 .6,2.2 .6-1.8 .6-2.2 .6,2.4 .6,6.1 .6-3.5 .6-10.1 .6,6.6 .6-1.9 .6,3.8 .6-2 .6,5.2 .6-2.5 .6-.1 .6-1.8 .6-.6 .6,1 .6,2.4 .6-1.9 .6-2.3 .6,4.1 .6-2.7 .6-.7 .6-1.8 .6,.5 .6-.1 .6-5.4 .6,9.5 .6-1.2 .6-1.9 .6,3.1 .6-1.5 .6-.2 .6-7.1 .6,5.6 .6,1.9 .6,2.7 .6,.5 .6-1 .6-6.5 .6-2.6 .6,6.9 .6-1.4 .6,2.4 .6-2.8 .6,.9 .6-4.3 .6,4.8 .6-2.2 .6,2 .6,.2 .6-1.4 .6,1 .6-.8 .6,1.9 .6-.7 .6-2.6 .6-.1 .6,5.8 .6-4.6 .6,2.7 .6-1.5 .6-2.4 .6-.5 .6,2.1 .6,.4 .6,.8 .6-4.7 .6,1.7 .6,1.2 .6,4.2 .6-9.9 .6,7 .6-2.5 .6,2.4 .6-2.4 .6,2.2 .6,2.9 .6-3 .6,.1 .6-.2 .6-2.8 .6,3.2 .6-1.9 .6-1.6 .6,1.9 .6-.5 .6,2.4 .6-2.1 .6-1.2 .6,4.9 .6-1.2 .6,.6 .6-1.7 .6-1.8 .6-.9 .6,.3 .6,3 .6-2.1 .6-4.1 .6,3.6 .6-3.5 .6,3.9 .6-3.5 .6-.2 .6,3.4 .6-.6 .6-4 .6,5.9 .6,3.5 .6-9.2 .6,8.2 .6-6.4 .6,.5 .6,.7 .6-3.3 .6,6.8 .6-2.1 .6-3.2 .6,1.1 .6-3.1 .6,2.8 .6,3.1 .6-6.7 .6,3.1 .6,1.4 .6,2.2 .6,.7 .6-4.6 .6-.8 .6,2.9 .6-2.2 .6,.1 .6,3.4 .6,1.4 .6-3.6 .6-1.2 .6,1.8 .6-6.3 .6,4.6 .6-2.7 .6,8.6 .6-4.3 .6-1.5 .6-.9 .6-5.9 .6,8 .6,2.2 .6-6 .6,3.4 .6,0 .6-5.7 .6,6.1 .6,1 .6-2.9 .6-.8 .6,2 .6-5.9 .6,4 .6,2.3 .6-5.8 .6,5.5 .6-3.6 .6-4.3 .6,4.9 .6-2.2 .6,3.1 .6-3.8 .6,5.5 .6-4.6 .6,2.7 .6-2.5 .6,.6 .6,3.7 .6-2.5 .6-1.6 .6-2.2 .6,5.9 .6-1.1 .6-2.7 .6,1.3 .6-3.2 .6-.1 .6,.4 .6,2.9 .6-.2 .6-2.7 .6,3.7 .6,0 .6-1.6 .6,2.1 .6-3.3 .6,.3 .6,1.4 .6-1.3 .6,2 .6-5.1 .6,6.6 .6-5.6 .6,1.5 .6-3.1 .6,4.9 .6,1.7 .6-.6 .6-.6 .6-6.1 .6,1.9 .6,.8 .6-1.2 .6,5.1 .6-2.4 .6-.6 .6,1.3 .6-3.7 .6,.1 .6,.1 .6,3.4 .6-.4 .6,.5 .6,1.2 .6-6.1 .6,2 .6,1.8 .6-3.8 .6,2 .6,3.9 .6,.2 .6-.1 .6-2.6 .6-.6 .6,3.2 .6-3.6 .6,1.7 .6,2.5 .6-4.2 .6-.6 .6,1.5 .6,1.5 .6-.3 .6-.8 .6,1 .6-5.3 .6,1.8 .6,2.6 .6-2.7 .6-1 .6,.3 .6,.8 .6,1.8 .6-2 .6,3.1 .6,3.7 .6-4.6 .6,3.6 .6-2.4 .6-3.5 .6,2.2 .6-1.8 .6,4.4 .6-4.8 .6,6.3 .6-1.9 .6-6.4 .6,7 .6,2 .6-5.8 .6,4.5 .6-7 .6,5.2 .6-4.7 .6,5.4 .6-5.7 .6-2 .6,7.6 .6,4.8 .6-7.2 .6,3.6 .6-1.7 .6-1.1 .6,2.4 .6,2.6 .6-7.1 .6,4.5 .6-.5 .6-4.4 .6,7.7 .6,.9 .6-7.2 .6,6.8 .6-4.2 .6-.5 .6,4.3 .6-3.1 .6,.3 .6,3.1 .6-.5 .6-.9 .6-5.7 .6-.3 .6,6.9 .6-5.1 .6,2.8 .6-2.9 .6,2.3 .6-2.6 .6,7.4 .6-6.5 .6,2.4 .6,0 .6,3.6 .6-6.4 .6,3.6 .6-.3 .6,2 .6,0 .6-2.2 .6,1.9 .6-1.4 .6,2.3 .6-1.3 .6-1.3 .6,1.8 .6,1.1 .6,4.9 .6-6.7 .6,2.1 .6,3.1 .6-8.7 .6,1 .6,1.5 .6,2.9 .6,6.5 .6-5 .6,2.2 .6-3.4 .6-5.5 .6,.6 .6,8.4 .6-1.9 .6-3.6 .6,6.2 .6-6.5 .6,6.9 .6,.9 .6-5.4 .6-.7 .6,5 .6-4.8 .6,5.1 .6-5.1 .6,5.2 .6-1.7 .6-1.2 .6-1 .6,2.9 .6-5.2 .6,4.1 .6-.2 .6,2.8 .6-4.8 .6,7.5 .6-4.9 .6-2 .6,6.3 .6,.8 .6-4.6 .6-1.7 .6,2.3 .6-1.7 .6,1 .6,4.8 .6-2.9 .6-.6 .6,.6 .6-1 .6,2.3 .6,.1 .6-3 .6,1.2 .6,5.8 .6-4.9 .6-1.5 .6,5.6 .6-5 .6-2.7 .6,4.4 .6-3.8 .6,1 .6,2.1 .6-1.1 .6-1.5 .6,.5 .6,0 .6,4.4 .6-4.7 .6,.5 .6,6.5 .6-6.4 .6,5.1 .6-.4 .6-3.6 .6-3.1 .6,4.7 .6,.6 .6,.8 .6-2.2 .6,2.8 .6,.5 .6-6 .6,6.2 .6-3.1 .6-1.8 .6,.7 .6,5.5 .6-2.2 .6-6.9 .6,4.7 .6-.5 .6-.1 .6-.8 .6-2.3 .6,5.8 .6-4.5 .6,1.5 .6-.6 .6-.2 .6,3.7 .6-.9 .6-2.6 .6-.7 .6,1.3 .6,3.6 .6-2.1 .6,.3 .6-1.4 .6,.2 .6,1.2 .6-5.1 .6,8.7 .6-6 .6,.6 .6,4.7 .6-2.7 .6-.5 .6-1.5 .6-2.4 .6,4.4 .6,2.5 .6-5.2 .6,5.7 .6-6.2 .6,1 .6,3.1 .6-1.3 .6,1.8 .6-3.6 .6-.7 .6-2.1 .6,1.7 .6,.3 .6-.9 .6,4.4 .6-2.4 .6-3.3 .6,11.1 .6-8.2 .6-1.1 .6,6.3 .6-.2 .6-5.8 .6-.8 .6,1.2 .6,5.3 .6-3.6 .6-1.3 .6,2 .6,3.1 .6-6.5 .6,2.5 .6-2.5 .6,8.9 .6-.9 .6-2.2 .6-2.7 .6,2 .6-6.9 .6,6 .6-4.1 .6,.1 .6,1.5 .6,.9 .6,2.3 .6,.3 .6-1.1 .6-3 .6,4.1 .6-2 .6,3.2 .6-5.2 .6-4.6 .6,5.7 .6,6.5 .6-4.2 .6-1.6 .6,2.7 .6-1 .6-.1 .6-2.4 .6,1.5 .6,.3 .6-2.1 .6-1.2 .6,3.1 .6,2.1 .6-.8 .6-.4 .6,0 .6,5.2 .6-5.8 .6,2 .6,2.3 .6-4.8 .6,.5 .6,2 .6,1.6 .6-3.5 .6,.2 .6-.7 .6-3.3 .6,5.8 .6-3.4 .6-3.6 .6,3.9 .6-4 .6,1.8 .6,2.6 .6-2.3 .6,4.9 .6-6.3 .6,4.3 .6,.8 .6,2.2 .6-1.3 .6-1.7 .6-.4 .6-.4 .6,3 .6-4.5 .6,3 .6-1.6 .6,.9 .6-1.3 .6,6 .6-7 .6,2.3 .6,.1 .6,.8 .6-.4 .6-.1 .6,1.4 .6-6.2 .6,3.8 .6-3.1 .6,3.6 .6-3.5 .6,.6 .6,2.2 .6,3.7 .6-2.1 .6-.7 .6,2.8 .6-5.9 .6-2.9 .6,4.2 .6,.4 .6,3.7 .6,2.3 .6-8.7 .6,9.6 .6-2.3 .6-1.8 .6-1.2 .6,5.1 .6-5.8 .6-1.4 .6,1.5 .6-3.8 .6,4.6 .6-1.4 .6,1.1 .6,.1 .6-3.6 .6,5.9 .6-5.8 .6,4.8 .6-6.2 .6,4.9 .6-3 .6,2.1 .6-1.7 .6-3.8 .6,2.7 .6,2.9 .6,1.4 .6-5.2 .6-1.7 .6,3.2 .6,1.6 .6-1.1 .6-.4 .6,4.2 .6,.2 .6-.5 .6-4.2 .6,2.5 .6-.7 .6-3.1 .6,5.7 .6-2 .6-1.4 .6,4.7 .6-1.7 .6,.2 .6,.8 .6-1.2 .6-5 .6,2.1 .6,3.5 .6-4.5 .6,1.9 .6,.9 .6,2.5 .6-.4 .6-1 .6-2.8 .6,2.7 .6-1 .6-1.8 .6,3.7 .6-2.2 .6-3.2 .6,4.9 .6-3.8 .6,2 .6-5.4 .6,3.7 .6-2.4 .6-.1 .6-2.5 .6,10.1 .6-5.9 .6,.9 .6,2.1 .6-3.2 .6,1.5 .6-4.7 .6,3.7 .6-1.6 .6,2.2 .6-.9 .6-4 .6-1.3 .6,2 .6,4.3 .6-.9 .6-.2 .6-6.1 .6-1.8 .6,5 .6,.7 .6-.8 .6,2.2 .6-1.4 .6-2.6 .6,.6 .6,2.5 .6-.3 .6-.5 .6,5.7 .6-6.4 .6,.8 .6-2.9 .6,1.5 .6,2.1 .6-.1 .6-1.9 .6,1.3 .6-1 .6-5 .6-3.6 .6,13.9 .6-3.9 .6-2.3 .6-4.3 .6,1 .6,6.4 .6-10.5 .6,6.1 .6,2.8 .6-1.9 .6,1.4 .6-2.4 .6,6.2 .6-8.7 .6-1 .6,4 .6,2.7 .6-3.8 .6,2.6 .6-4.1 .6-1.8 .6,6.3 .6,.3 .6-.3 .6-5.1 .6-1.9 .6-.3 .6,2.2 .6,1.8 .6-.4 .6-5.1 .6,3.9 .6-.7 .6-.1 .6-.6 .6-.8 .6,1.6 .6-1.5 .6-.2 .6-2.7 .6,2.2 .6-1.8 .6-5.6 .6,5.9 .6-2.6 .6,2.1 .6-3.7 .6-.9 .6-.6 .6-2.2 .6-3.1 .6-6 .6,4.9 .6-13.3 .6-5 .6-9.4 .6-16.8 .6-21.4 .6-27.2 .6-31.4 .6-33.2 .6-24.7 .6-11.8 .6,10.6 .6,25.5 .6,32 .6,32.5 .6,29 .6,18.3 .6,15.9 .6,14.3 .6,7.5 .6,8.8 .6,1.6 .6,.7 .6,.6 .6,2.9 .6,.2 .6-1.9 .6,4.3 .6,.3 .6,.5 .6,.1 .6,5.8 .6-2 .6,1.1 .6-3.3 .6-.6 .6,2.3 .6,1.7 .6-1 .6,.8 .6,3.3 .6-1.3 .6-2.8 .6,1.8 .6-.3 .6,2.5 .6-3.1 .6,2.8 .6,2.5 .6-1.4 .6-2.2 .6,1 .6,2 .6,1.1 .6,.9 .6-2.3 .6-2.9 .6,6.9 .6-2.8 .6,.3 .6-.2 .6-3.3 .6,1.8 .6,1.5 .6,1.9 .6-2.4 .6-7.9 .6,7.2 .6,1.5 .6,2.4 .6-1.4 .6,4.4 .6-2.6 .6-.2 .6-1 .6-5.8 .6,5.6 .6-.6 .6-2.8 .6,2.8 .6-.4 .6-2.2 .6,.9 .6-.4 .6,1.3 .6-1.7 .6,2.5 .6-6.2 .6,4.1 .6-3.5 .6,3.1 .6,2.5 .6-1.3 .6-.3 .6,.5 .6,3.7 .6-6.7 .6,5 .6-6 .6,2.7 .6,1.5 .6-2.5 .6,2.7 .6,1.3 .6-4.8 .6,2.8 .6-.8 .6-3.9 .6,4.4 .6-1.5 .6,5.3 .6-5.5 .6,6.4 .6-5.5 .6,6.1 .6-3.5 .6-.2 .6,.9 .6,.3 .6,1.2 .6,.8 .6-5.1 .6-2.3 .6-3.6 .6,5.8 .6,2.8 .6-.9 .6-.7 .6-1.1 .6-.8 .6,.9 .6,1.7 .6-5.4 .6,6.3 .6-5.5 .6,3.3 .6-1.2 .6,.6 .6-1.7 .6-.2 .6,2.3 .6-2.2 .6,8.9 .6-7.2 .6-.6 .6,.3 .6-1.3 .6-3.5 .6,5.5 .6,1.4 .6-4.5 .6,3.8 .6-3.1 .6,3 .6,1 .6,.3 .6-.1 .6-2.9 .6,4 .6-3.3 .6,2 .6,.8 .6-2.5 .6-2.4 .6,4.7 .6-4.3 .6,.6 .6-.6 .6,4.9 .6-2.5 .6-5.2 .6,7.4 .6,3.4 .6-.7 .6-5.9 .6,1.6 .6,1.1 .6,.9 .6-2.1 .6-2.8 .6,4.6 .6-.4 .6-4.8 .6,2.4 .6,1.6 .6-.7 .6,1.3 .6,.7 .6-.6 .6-1.7 .6-3.1 .6,4.9 .6,2 .6,1.4 .6-5 .6,0 .6,3.7 .6,0 .6-2.7 .6,.9 .6-3.7 .6,3.4 .6-3.6 .6,1.7 .6,.1 .6-.9 .6-4.1 .6,3.2 .6,2.9 .6-.9 .6-.9 .6,2.1 .6,.6 .6,.4 .6-4.1 .6,2.1 .6-.9 .6-1.4 .6-1.5 .6,3.5 .6-2 .6,7.6 .6-5.6 .6-.4 .6-.4 .6,5.7 .6-7 .6,1.9 .6-1.5 .6,1.6 .6,.2 .6,2.9 .6-6.3 .6,3.5 .6,4.1 .6-5.4 .6,.9 .6-1.8 .6-4.3 .6,6.2 .6,3.3 .6-4.2 .6-3.4 .6,5.3 .6-.5 .6,2.3 .6-.2 .6-3 .6,1.7 .6-5.5 .6,7.3 .6-2.3 .6,2.2 .6,0 .6-3.4 .6,.3 .6-1.8 .6-3 .6,4.9 .6,.7 .6-3.1 .6,4.5 .6-1.5 .6,.9 .6-3.1 .6-2.5 .6,6.4 .6-.5 .6-1.8 .6-.7 .6,.3 .6,.4 .6-1 .6-3.7 .6,7 .6-5.7 .6,2.9 .6,.1 .6,1.4 .6-4.7 .6,7 .6-1.3 .6,.2 .6,1.3 .6-5.2 .6-5.8 .6,8.7 .6,2.4 .6-.4 .6-4.2 .6,1.1 .6,1 .6-5.3 .6,2.9 .6,.1 .6,5.5 .6-5.6 .6,5.6 .6-3.9 .6-4.2 .6,9.7 .6-8 .6,4 .6,2.7 .6-5.6 .6-1.7 .6,5.7 .6-2.5 .6-3.2 .6,.4 .6,1.7 .6,3.4 .6-3.1 .6,2.3 .6,2.5 .6-.9 .6,.4 .6-.5 .6-7.1 .6,7.1 .6-2.3 .6-1.1 .6-2.4 .6-1.3 .6,1.2 .6,2.8 .6-2.9 .6,.9 .6,.5 .6,3.2 .6-2.4 .6,.4 .6,3.6 .6-4.1 .6,2.3 .6-4.1 .6,3.5 .6-.6 .6,.2 .6-1.6 .6-1.4 .6,1.8 .6-.4 .6,3.8 .6-.4 .6-5.2 .6,4.6 .6-2.8 .6,2.3 .6-2.3 .6-2.5 .6,6.2 .6-1.4 .6-4.1 .6-1.7 .6,3.4 .6-1.6 .6,2 .6,2.5 .6,2.1 .6-4.5 .6,4.3 .6-.5 .6-4 .6-3.1 .6,6.3 .6-.6 .6,4.4 .6-2.3 .6-1.6 .6,2.2 .6-6.8 .6,3.1 .6-1.2 .6,5.1 .6-2.9 .6-9.1 .6,11.1 .6-5.7 .6,4.2 .6-3.1 .6,1.8 .6,1 .6-1.1 .6-2.9 .6,5.9 .6-2.5 .6-1 .6,1.8 .6-3.1 .6,6.1 .6-4.2 .6,.4 .6-.1 .6-3.1 .6-.6 .6,3.4 .6,.4 .6,2.5 .6-2.3 .6-3.8 .6,4 .6,.8 .6,.5 .6-1.7 .6-3.9 .6,6 .6-4.8 .6,3.3 .6-5.3 .6,5.8 .6-3.9 .6,4.7 .6,1.7 .6-1.5 .6-5.8 .6,.6 .6,.2 .6,3.8 .6-.8 .6-.5 .6,.4 .6,.7 .6,.2 .6,2.6 .6-4.4 .6,.7 .6-5.1 .6,1.3 .6,1.6 .6-1.3 .6,3.6 .6,2 .6-3.7 .6-.1 .6-.1 .6,1.7 .6-1.7 .6,2.4 .6-.3 .6,.1 .6,1.1 .6-1.9 .6,.3 .6,4.1 .6-4.5 .6,2.1 .6-1.9 .6-1.3 .6,0 .6-.9 .6,2.1 .6-1.5 .6,.4 .6,4.2 .6-3.4 .6,3.2 .6-2.2 .6,1.5 .6-3.7 .6,1.9 .6,6.2 .6-4.5 .6,.5 .6-2 .6,1.6 .6-5 .6,.7 .6,3.2 .6,1 .6-3.1 .6,.6 .6-.4 .6,.4 .6-2.5 .6-.6 .6,3.4 .6-4.2 .6,1.9 .6,.8 .6-1 .6,3.2 .6-1.7 .6,.9 .6-2.3 .6,.7 .6,3.1 .6-.4 .6-2.1 .6,2.1 .6-.5 .6-.1 .6,3.6 .6-5 .6,2 .6,0 .6-1.6 .6-2.4 .6,4.6 .6-1.1 .6-.6 .6-.1 .6-.1 .6-2.3 .6,2.8 .6-5.3 .6,4.3 .6-3.8 .6,2.7 .6,2.5 .6-2.7 .6-.9 .6,1.9 .6-2.5 .6-1.3 .6-1.3 .6,1.5 .6-4.2 .6-3.5 .6-5.4 .6-2.4 .6-4.7 .6-1.5 .6-1 .6,3.1 .6,1.4 .6,6 .6,3.7 .6,0 .6,4.8 .6,5.2 .6,1.3 .6-4.9 .6,3.2 .6-1 .6,.7 .6,1.3 .6,6.4 .6-4.1 .6-.7 .6-.1 .6,2.6 .6,.1 .6-3.9 .6,6.1 .6-6.3 .6,2 .6,1.9 .6,3.2 .6-5.1 .6,1.7 .6,2.5 .6-1.6 .6,1.3 .6-.2 .6-1.9 .6,.9 .6,.8 .6-2.3 .6,4 .6-8.9 .6,2.7 .6,5.9 .6-2.5 .6-2.6 .6,2.5 .6,1.8 .6-4.1 .6,3.4 .6-2.2 .6,0 .6,.1 .6,3 .6-5.5 .6,1.9 .6,2.5 .6-4.6 .6-.9 .6,5.4 .6-1.4 .6-.4 .6,.8 .6-2.8 .6,9.7 .6-9.7 .6,1.4 .6-2.5 .6,2.6 .6,4.8 .6-3.7 .6,1.4 .6-2.7 .6,5.8 .6-4.1 .6-3.5 .6,5 .6-2.8 .6,2.5 .6-1.2 .6,.3 .6-.3 .6-2.6 .6-1.4 .6,6.2 .6-2.8 .6,1.1 .6-1.9 .6-3.9 .6,1.9 .6,6.7 .6-5.4 .6,1 .6-2.7 .6,2.3 .6,.4 .6,.4 .6,.4 .6-1.4 .6,.2 .6,1.4 .6,.8 .6-1.1 .6,4.7 .6-3.8 .6-.1 .6-2 .6,4.2 .6-5.1 .6-1.5 .6,1.6 .6,4 .6-4.4 .6,6.1 .6-3.3 .6-3.7 .6,3.2 .6,5.1 .6-6.6 .6-1.1 .6,4.5 .6,2 .6-.7 .6-3.3 .6,1.3 .6,.3 .6,2.2 .6,2.4 .6-5.6 .6,3.5 .6-4.1 .6,2.3 .6-3.7 .6,.4 .6,2.9 .6-3.2 .6,4.4 .6-3.5 .6,1.5 .6-.4 .6-.6 .6,1.2 .6,2.4 .6,5.1 .6-10.8 .6,3.8 .6-1.2 .6-1.9 .6,3.1 .6-3 .6,2.1 .6,3.3 .6-8.2 .6,5.7 .6,.5 .6-3.5 .6,3.7 .6-.4 .6-1.8 .6,4 .6-6.3 .6,4.8 .6-2.1 .6-2.1 .6,2.2 .6-.4 .6,2.9 .6-5.8 .6,3.3 .6-.7 .6,5.1 .6-6.7 .6,5.4 .6-7 .6,5.3 .6-1.2 .6,1.3 .6-2.7 .6-3.2 .6,1.1 .6,7.1 .6-2.7 .6-2.7 .6,4.4 .6-4.1 .6,0 .6-1.2 .6,6 .6,1.9 .6-7.3 .6,3.2 .6,1.7 .6,2.8 .6-11.3 .6,6.4 .6,1.3 .6-5.4 .6,4.8 .6-.6 .6,1.4 .6-3.3 .6,2.5 .6-2.6 .6,3.1 .6-1.2 .6-1.3 .6-2.6 .6,7.7 .6-1.4 .6-.6 .6-3.8 .6,.8 .6,5 .6-2.3 .6-4 .6,2.2 .6,.3 .6-.9 .6-1.8 .6,5.5 .6-1.7 .6-2 .6-3.4 .6,2.5 .6,1.4 .6,2.2 .6-3.1 .6,3.7 .6-2.5 .6-2.2 .6-5.1 .6,4 .6-.7 .6,3.3 .6,1.2 .6,2.6 .6-3.5 .6-2.8 .6,8.7 .6-5.1 .6-1.4 .6,0 .6-2.8 .6,5 .6-.7 .6,3.1 .6-1.3 .6-.5 .6,.9 .6-3.8 .6-.4 .6,.9 .6-3 .6,2.8 .6-.5 .6,2.5 .6-1.7 .6-4.8 .6,4.9 .6,3.4 .6-8.1 .6,2.7 .6,1.9 .6-3.4 .6,2 .6,1.5 .6-3.5 .6,4 .6,.3 .6-4.2 .6,3.3 .6,2.6 .6-3.2 .6,1.5 .6,.6 .6-2.3 .6,3.1 .6-1.5 .6-3.5 .6,3.8 .6,.8 .6-.1 .6-3.7 .6,2.8 .6,2.3 .6-2.9 .6,2.4 .6,.3 .6-3.4 .6,1.7 .6-2.4 .6,3.4 .6-2.9 .6-1.1 .6,1.3 .6-.2 .6,1.2 .6,.2 .6-4.1 .6,1.2 .6,2.5 .6,.3 .6-1 .6,6.4 .6-3.8 .6-3 .6,2 .6,1.5 .6-2.4 .6-5.3 .6,4.6 .6-.1 .6,5.2 .6-10 .6,8.5 .6-4.3 .6,2.7 .6-3.1 .6,1.2 .6,2.4 .6-2.6 .6,2.4 .6-2.9 .6-.8 .6,.4 .6-.7 .6,1 .6,3.7 .6-6.4 .6-1.2 .6,4.1 .6,4.2 .6-1.6 .6,.7 .6-.2 .6-4.9 .6,2.1 .6-7 .6,5.1 .6,3.1 .6-5.5 .6-1.2 .6,1.9 .6,3.7 .6,2.4 .6,3.5 .6-2.9 .6-7.3 .6-2 .6,6.1 .6,2.3 .6-6.7 .6,2.7 .6,.2 .6,1.2 .6-.5 .6,1.7 .6,1.3 .6-2.4 .6,1.7 .6,3.1 .6-7.6 .6,0 .6,3.8 .6,3.4 .6-4.2 .6,2.3 .6-3.5 .6,3 .6-3.8 .6,3.2 .6-.7 .6,0 .6,2.5 .6-.8 .6-4.2 .6,3.7 .6-6.4 .6,6.7 .6,4.4 .6-5.6 .6,0 .6-1.2 .6,2 .6-3.2 .6,2.8 .6-2.4 .6-.4 .6,1.4 .6-.5 .6-4.2 .6,9.5 .6-4.8 .6-4.6 .6,6.9 .6-2.8 .6,.6 .6,1.2 .6-4 .6-5.1 .6,7.1 .6,.8 .6,1.9 .6-4.4 .6,1.2 .6,1.6 .6-1.8 .6,.1 .6,1.2 .6-3.1 .6,6.4 .6-6.3 .6,2.3 .6-1 .6-1 .6,3.1 .6,1.1 .6,1 .6-2.3 .6-2.7 .6,3.1 .6-5.9 .6,3.5 .6,.9 .6-.2 .6-4.6 .6-1.2 .6,7 .6-6 .6-3.7 .6-.6 .6,.3 .6-1.2 .6-6.2 .6-3.7 .6-7.4 .6-6.4 .6-5.8 .6-4.6 .6-.3 .6,2.6 .6,5.3 .6,7.4 .6,4.8 .6,6.6 .6,3.1 .6,4.6 .6,1.7 .6,5.4 .6-1 .6,1 .6,4.5 .6-10.7 .6,4.7 .6-3.7 .6,7 .6,1.3 .6,.7 .6-.8 .6-2.7 .6,6.7 .6-3.5 .6-1.4 .6-2 .6,3.9 .6-2.2 .6,.1 .6,1.7 .6,.1 .6-2.6 .6,5.2 .6-5.6 .6-.2 .6,3.6 .6-.5 .6-.1 .6-1.2 .6,1.2 .6-1.5 .6-2.7 .6,6 .6-4.3 .6,2 .6,2.4 .6-1.7 .6,6.8 .6-10.3 .6,1.6 .6,2.2 .6,3.2 .6-4 .6-2.9 .6,6.5 .6-5.1 .6,1.8 .6,2.8 .6-3.8 .6,.6 .6,2.4 .6-1.7 .6,1.3 .6-3 .6,2.1 .6-2.3 .6-1.1 .6,8.3 .6-3.2 .6,1.3 .6-4.7 .6,2.4 .6-.3 .6-3 .6,5 .6-3.1 .6,1.4 .6-3.2 .6,6.3 .6-.5 .6-.8 .6-3.2 .6,1.1 .6,4.5 .6-3.7 .6,1.4 .6-.2 .6-3 .6,6.7 .6-8.7 .6,5.6 .6-.7 .6-3.7 .6,4.9 .6,.6 .6-1.1 .6-2.1 .6,3.3 .6,1.8 .6-2.2 .6,3.9 .6-2.1 .6-.1 .6,1.6 .6-5 .6,.4 .6,2.7 .6,.1 .6,2.6 .6-.8 .6-2.4 .6,.2 .6-1.1 .6-.1 .6-.2 .6,3.5 .6-3.3 .6,.4 .6,1.3 .6-1.6 .6,.8 .6-4.7 .6,6.4 .6-1.6 .6,1.4 .6,.5 .6-5.4 .6,10.7 .6-5.5 .6,.2 .6-4.8 .6,6.1 .6-.4 .6-1.8 .6,1.7 .6,2.7 .6-3.9 .6-1.3 .6,5.7 .6-2.6 .6-1 .6,6.3 .6-5.2 .6-.7 .6,1.2 .6-1.6 .6,1.7 .6-.1 .6-1.9 .6,1.1 .6,1.6 .6,.3 .6,.6 .6,.6 .6-1.2 .6,.7 .6-2.1 .6,.4 .6,3.4 .6-7.4 .6,5.9 .6,7.1 .6-12.4 .6,8.5 .6-8 .6,5.4 .6,3.3 .6-.3 .6-5.9 .6-.8 .6-.2 .6,5.5 .6-2.7 .6,1.1 .6,.8 .6,.5 .6,.4 .6-.9 .6-4.2 .6,7.8 .6-10.4 .6,10.1 .6-4.5 .6,1.2 .6-.7 .6,.5 .6,1 .6-.5 .6-1.9 .6,5 .6-3.4 .6,4.9 .6-3.6 .6-1.2 .6,3 .6,1.2"/>
<path stroke="#ff7f0e" d="M188.0,1241.4l.4,1.7 .4,3 .4-2 .4,.9 .4,1.7 .4-1.2 .4-1.1 .4,1.4 .4,2.8 .4,.7 .4,.3 .4,.1 .4-1.7 .4,2.6 .4,.9 .4-2 .4,2.3 .4-1.4 .4,.9 .4,.4 .4-2 .4,3.7 .4-2.6 .4,1.1 .4-.3 .4,1.2 .4,.1 .4-.4 .4,1.8 .4-1.3 .4-.7 .4-2.9 .4,3.2 .4,.1 .4-.6 .4,0 .4,1.9 .4,.6 .4,1.1 .4-.8 .4-2.2 .4,1.3 .4-1.9 .4,2.6 .4-.4 .4-1.1 .4,.7 .4-.1 .4-.4 .4,2.4 .4,2.2 .4-2.6 .4,.3 .4-1 .4-.5 .4,3.1 .4-3 .4,1 .4-.6 .4,.9 .4-.7 .4,.9 .4-2.2 .4,1.4 .4,1.9 .4-2.9 .4,.5 .4,2.5 .4-1.1 .4,.9 .4-3.9 .4,2.9 .4-1.7 .4-.1 .4,2.3 .4,.9 .4-3.1 .4,.5 .4,.7 .4,.6 .4-1.4 .4,4.3 .4-1.9 .4-1.1 .4-.2 .4,3.5 .4-.1 .4-3.2 .4,1 .4,1.1 .4-2.9 .4,.8 .4,2.4 .4-2.5 .4,.4 .4-1.1 .4,.8 .4,1.7 .4-1.7 .4-.6 .4,.8 .4,3 .4-1.9 .4-.9 .4,.9 .4,.4 .4-.4 .4-2.3 .4,2.6 .4-.6 .4,1.3 .4-2.6 .4,2.9 .4-1.9 .4-1.4 .4,3.7 .4-2.2 .4,1.1 .4-.7 .4,1.6 .4,0 .4,0 .4-.5 .4-2.8 .4,0 .4,2.3 .4-1.4 .4,1.7 .4-.4 .4-1.9 .4,.5 .4-.1 .4,.3 .4,.8 .4,1.1 .4,.8 .4-2.8 .4,.5 .4,2.6 .4-.8 .4-.8 .4-3.1 .4,1.6 .4,1.4 .4-.9 .4,3.1 .4-2.3 .4,.2 .4-1.6 .4,0 .4,.5 .4,0 .4,.5 .4,.7 .4-.1 .4,.9 .4-2.9 .4,1.9 .4,0 .4,1.7 .4-2.2 .4,.6 .4-1.4 .4,1.5 .4,0 .4-1.3 .4,.3 .4,.4 .4,.8 .4-2.1 .4,2.4 .4-1.5 .4,2.7 .4-.5 .4-2.3 .4-.2 .4,3.7 .4-2.2 .4-.1 .4-1.2 .4,.3 .4,1.1 .4-.2 .4-1.8 .4,2.5 .4-1.1 .4-1.6 .4,2.4 .4-1.5 .4,1.2 .4-1.6 .4,1.1 .4-2.5 .4,2.4 .4-2.3 .4,2.1 .4-3.3 .4,2.9 .4,1 .4-.3 .4,.8 .4-2.7 .4,3.1 .4,.1 .4-3.4 .4,.4 .4,.3 .4,.6 .4,.3 .4-3.3 .4,3.7 .4-1 .4-1 .4,2.4 .4-1.6 .4,1.8 .4-.8 .4-1 .4,1.8 .4-.5 .4-1.6 .4-1.4 .4,1.3 .4,1.4 .4-1.1 .4,2.4 .4-1.8 .4-.1 .4,.2 .4-1.6 .4,.9 .4-.6 .4-2.1 .4,.7 .4,3 .4-1.5 .4,.4 .4-1.7 .4,1.1 .4,1.6 .4-.8 .4-.8 .4,2.4 .4-1.9 .4-.4 .4,1.8 .4-3.5 .4,2.7 .4-2 .4,.4 .4,.1 .4,.9 .4,0 .4,.2 .4-.2 .4,1.4 .4,.4 .4-1.3 .4,.1 .4-1.4 .4-.9 .4,2 .4-.7 .4,1 .4-3.3 .4,5.4 .4-4.8 .4,1.5 .4,1.2 .4-2.9 .4,.9 .4-1.8 .4,.7 .4-.6 .4,2.4 .4,.2 .4-.8 .4,1.9 .4,.2 .4-1.8 .4-.3 .4-.1 .4-.2 .4,2.1 .4-1.3 .4-.7 .4,0 .4,.9 .4-1.1 .4,.8 .4-.4 .4,1.6 .4-.3 .4-3.1 .4,1.5 .4,1 .4-1.4 .4,1.4 .4-.6 .4,.3 .4-.8 .4,.4 .4,.2 .4-2.4 .4,.6 .4-.1 .4,3.2 .4-1.7 .4,0 .4-.3 .4-.9 .4-.3 .4,1.8 .4-1.5 .4,2.3 .4-1.8 .4-.1 .4-.5 .4,.1 .4,.1 .4,1.7 .4,.9 .4-4.3 .4,1.6 .4,.4 .4-2 .4,.2 .4,.2 .4-2.5 .4,3.6 .4-.9 .4-.2 .4,.1 .4,.1 .4,2.4 .4-2.7 .4,.7 .4-1.8 .4,1 .4-.9 .4,0 .4-1 .4,0 .4,1.4 .4,.3 .4-.5 .4-1.5 .4,1.1 .4-3.6 .4,4.1 .4-1.3 .4,.2 .4,1 .4-2.1 .4,1.6 .4-1.8 .4,1 .4-1.2 .4,.7 .4,1.2 .4-2.6 .4-.1 .4,.2 .4,.7 .4,2.8 .4-4.2 .4-1.8 .4,1.5 .4-1.2 .4,1.1 .4,.5 .4-1.3 .4,.3 .4-1.6 .4,2.3 .4-1.2 .4,2.1 .4-.2 .4-2.4 .4,.5 .4,.4 .4,.7 .4-3 .4,1.8 .4,2.2 .4-2.4 .4,.2 .4-.4 .4-1.5 .4,2.5 .4-.9 .4-.3 .4,.6 .4,0 .4-3.3 .4,2.7 .4-1.4 .4,.8 .4-1.1 .4-.3 .4,2.1 .4-1.2 .4-.4 .4-.1 .4,.4 .4-.2 .4-2.9 .4,1.7 .4,.7 .4,1.1 .4,.7 .4-2.8 .4,3.4 .4-2.3 .4,.5 .4-1.3 .4-.1 .4,2.4 .4-2 .4,.1 .4,1.5 .4,.6 .4-3.9 .4,1.6 .4,.2 .4,2.1 .4,.8 .4-3 .4,.5 .4,.5 .4,.4 .4-1.8 .4,1.4 .4-1.9 .4-2.4 .4,1.5 .4,2 .4,.6 .4-3.6 .4,.5 .4,2.1 .4-4 .4,4.7 .4,.6 .4-4.9 .4,4.5 .4-1.2 .4,2 .4-1.4 .4-.6 .4,.4 .4,1 .4-1 .4-.1 .4-1.8 .4,2.3 .4-.6 .4,2.2 .4-2.3 .4-.1 .4-.6 .4,1.6 .4-1.1 .4-.6 .4,2.7 .4,.2 .4-2.7 .4-.7 .4,2.6 .4-2.3 .4,4.4 .4-3.6 .4,1.3 .4-2.7 .4,1.5 .4,1.3 .4-.8 .4-1.1 .4,3.5 .4-2 .4-1.2 .4-.5 .4,.4 .4,2 .4-2.6 .4,1 .4-1.1 .4,2.5 .4-1.7 .4,1.3 .4-.4 .4-1.4 .4,1.5 .4,.3 .4-2.5 .4,2.2 .4,3.5 .4-4.7 .4,1.1 .4-2.4 .4,2.2 .4-1.3 .4,1.7 .4-1 .4-1.4 .4,2.7 .4-1.6 .4-.9 .4,1.3 .4-1.3 .4,1.7 .4-.6 .4-.4 .4,1.3 .4-2.4 .4,2.7 .4-3.6 .4,4.4 .4-1.8 .4-.5 .4-.6 .4,1.6 .4-.9 .4,0 .4,1.4 .4-1.7 .4,.2 .4,.8 .4,.8 .4-1.5 .4,.3 .4-.1 .4,.8 .4,.9 .4-2.9 .4,.9 .4,.1 .4,.8 .4,1.1 .4-1.8 .4,.2 .4,1.1 .4-2.9 .4,.6 .4,.4 .4,.5 .4,.3 .4-.9 .4,2.7 .4-3 .4,.6 .4,1.6 .4-.4 .4-1 .4,.5 .4,.5 .4-1 .4,.8 .4-1.9 .4,1.2 .4-2.1 .4,.9 .4-.3 .4,2.9 .4-2.1 .4,.9 .4-1.5 .4,.9 .4-.2 .4-.7 .4,2.1 .4-3.1 .4,2.8 .4,2.5 .4-4.3 .4,1 .4-1.9 .4,1.8 .4-2.1 .4,2.9 .4-1.4 .4-1.7 .4,.7 .4-.4 .4,1.6 .4,1.4 .4-1.6 .4-1 .4,.4 .4,1.2 .4-3.2 .4,3.7 .4-.3 .4-3.5 .4,4.4 .4-3.4 .4,1.7 .4,1.7 .4-3.5 .4-.3 .4,.9 .4,0 .4,1.1 .4-.5 .4,0 .4,0 .4,.3 .4-.8 .4,1.4 .4-.4 .4-1.3 .4,3.4 .4-3.8 .4,2.4 .4-1.8 .4,1.3 .4,.2 .4,.4 .4,.6 .4-2.8 .4,4.5 .4-3 .4-1.6 .4-.7 .4,4.5 .4-.9 .4-2 .4,.9 .4,.6 .4-1.5 .4-.7 .4,.4 .4,1.1 .4-1.1 .4-1.6 .4,2.4 .4-3 .4,1.1 .4,2.4 .4-1.3 .4,0 .4-.2 .4,1.1 .4-1.4 .4-2.4 .4,2.6 .4-4.1 .4,1.2 .4,4.4 .4-.7 .4-1.9 .4,.5 .4,.1 .4,1.1 .4-2.3 .4-.1 .4,.2 .4,.9 .4,.1 .4-.8 .4,1.3 .4-2.2 .4,1.1 .4-.8 .4-.5 .4,2.7 .4-1.9 .4-.9 .4,1.2 .4-1.3 .4,1.9 .4,.2 .4,.2 .4-2.6 .4,1 .4,2.4 .4-2.5 .4,1.7 .4,.3 .4-3.6 .4,3.1 .4-.6 .4,.1 .4,.9 .4-1.6 .4-.5 .4,.6 .4-1.2 .4,.9 .4-3.1 .4,4.5 .4-2.8 .4,1.3 .4-.4 .4-.3 .4,0 .4-.1 .4-2.2 .4,1.3 .4,2.1 .4-2.8 .4-.1 .4,3.8 .4-1.1 .4,.3 .4-1.9 .4,.2 .4,.6 .4-.3 .4-.9 .4-1.7 .4,.8 .4-1 .4,3.7 .4-2.4 .4,.2 .4,.5 .4-.4 .4,.6 .4-1.5 .4-1.2 .4,4 .4-3.1 .4,.3 .4-.5 .4,.2 .4,.7 .4,.8 .4-2.2 .4,1.6 .4-1.3 .4,2.3 .4-3.1 .4,1.6 .4,.7 .4-2.6 .4,1.8 .4-.1 .4-1.2 .4,.7 .4,1.4 .4-.9 .4-.9 .4,.2 .4,.7 .4,1 .4-.6 .4-.2 .4,1 .4-3.8 .4,.1 .4-1.1 .4,3.7 .4-3.8 .4,2.7 .4,.9 .4-2.7 .4,.9 .4,.4 .4,1.2 .4-2.8 .4,2.2 .4,.4 .4-.7 .4,0 .4,1.2 .4-1.3 .4-.3 .4-.4 .4,1.1 .4-1.1 .4,1.1 .4-.7 .4,1.2 .4-2.4 .4,1 .4,.3 .4,.1 .4,.8 .4-.9 .4,.5 .4,1.3 .4-1.4 .4-2.3 .4-.5 .4,2.5 .4-1.3 .4,.8 .4-.6 .4,1.7 .4-.1 .4-2.8 .4,1.6 .4-.7 .4-1.2 .4,2.3 .4-1 .4,.7 .4,2.4 .4-1.4 .4-.3 .4-1.8 .4-1 .4,2.9 .4-1.9 .4,.4 .4-.5 .4,.6 .4,2.7 .4-3.2 .4,0 .4,.5 .4,.1 .4-1.8 .4-.7 .4,1.5 .4,.4 .4-.7 .4-.3 .4,.1 .4,.6 .4,.3 .4-1.8 .4,1.3 .4,1.1 .4-.6 .4-1.5 .4,1.2 .4,.4 .4,1 .4-2.9 .4,2.8 .4-1.4 .4,.8 .4,.6 .4-1.9 .4,.1 .4,.9 .4,1 .4-1.5 .4-1.1 .4,.9 .4,1.3 .4,.9 .4-2 .4,.3 .4,.2 .4,0 .4-.9 .4,.6 .4,.8 .4-.1 .4-.1 .4-1.2 .4,.5 .4-.1 .4,2.1 .4,.5 .4-1.3 .4,1.5 .4-2.2 .4,0 .4-1.2 .4,1.8 .4-.8 .4,.7 .4,.5 .4-.8 .4-1.1 .4,1.4 .4,0 .4,.1 .4,.8 .4-1 .4-.1 .4,2.4 .4-.7 .4-1.4 .4-1 .4,.7 .4,1 .4,.5 .4,1.9 .4-3.1 .4,.5 .4-.6 .4,.6 .4-.5 .4-.8 .4,2.5 .4-1 .4,1.4 .4-2.1 .4,.9 .4,.5 .4-2.9 .4,.7 .4,2.4 .4-.7 .4-2.3 .4,1.4 .4-.4 .4,.7 .4,2.5 .4-2.5 .4,3.1 .4-2.6 .4-.6 .4,2.8 .4-.7 .4,.5 .4,.7 .4-1 .4,.3 .4-3.5 .4,1.1 .4,1.6 .4-.2 .4,.6 .4-1.3 .4,1.9 .4,1.2 .4-1.7 .4,.4 .4-.3 .4,.5 .4-.7 .4-.8 .4,.9 .4-.1 .4-1.8 .4,2.1 .4-.1 .4,.3 .4-.8 .4,1.3 .4,.2 .4-1.5 .4,1.3 .4,.7 .4,0 .4-1.9 .4,0 .4,1.3 .4-1.2 .4,4.3 .4-3.8 .4,.1 .4,1.8 .4-1.2 .4-2.2 .4,2.7 .4-.9 .4,.7 .4-1.2 .4,.9 .4,1 .4,.2 .4-1.2 .4,.6 .4-.1 .4,1.3 .4-.2 .4-1.2 .4,2.3 .4-1.5 .4,1.4 .4-1.4 .4,1.5 .4-.4 .4,.3 .4,.7 .4,0 .4-.2 .4,.1 .4-1.6 .4,1.5 .4-2.4 .4,0 .4,2.4 .4,.2 .4,2.2 .4-.9 .4,.6 .4-1.6 .4,1 .4,1 .4-.7 .4-.1 .4-.2 .4-1.1 .4,.1 .4-.5 .4,2.2 .4-.7 .4-.3 .4,1.3 .4-1 .4,2 .4,1.1 .4-1.7 .4-1.2 .4-.9 .4,4.2 .4-1.7 .4-1.9 .4,2.8 .4-3.2 .4,1.5 .4,.3 .4-.1 .4-.8 .4,4.3 .4-3.3 .4,1 .4-.4 .4-1.8 .4,1.3 .4,.9 .4,.9 .4-1.4 .4,.9 .4-.8 .4,1.1 .4-3.6 .4,3.7 .4-1.4 .4,.1 .4-2.6 .4,2.1 .4,2 .4,2.1 .4-3.6 .4,.1 .4,1.4 .4-.2 .4-1 .4,.5 .4-.2 .4,1.2 .4,.3 .4,1.2 .4-1 .4-.3 .4-.5 .4,.9 .4-2.2 .4,3.7 .4-2.2 .4,1.4 .4-2.6 .4,2.2 .4-.7 .4-.7 .4-.5 .4-.2 .4,3.2 .4-.7 .4-1.3 .4,.2 .4-1.1 .4-1.3 .4,.1 .4,1.4 .4,.6 .4-1.2 .4,2.4 .4-.3 .4-.4 .4-2.3 .4,1.9 .4,.2 .4-1.4 .4-1.1 .4,5 .4-1.6 .4-1.1 .4,2.4 .4-.6 .4-.8 .4-.2 .4,.7 .4,.8 .4-1.6 .4-.3 .4,1 .4-4.1 .4,3.5 .4-.6 .4,.5 .4-.1 .4,.6 .4-.2 .4-.1 .4-.2 .4,.8 .4-1.2 .4,1.8 .4-3.1 .4,2.2 .4,.4 .4-2.1 .4,1.1 .4,2.1 .4-1.7 .4-.9 .4-2.5 .4,4 .4-.3 .4,.7 .4,1.7 .4-2.4 .4,.2 .4-1 .4,.8 .4,0 .4,1 .4-.2 .4-1.6 .4,.4 .4,2.2 .4-2.8 .4,2.1 .4,1.1 .4-1.2 .4-.4 .4,1.3 .4-1.2 .4-.4 .4-.2 .4,1.6 .4-.5 .4,1 .4-2.2 .4,0 .4-.1 .4,.9 .4-1.2 .4,2 .4-.7 .4-1.6 .4-2.4 .4,1.4 .4,4 .4-1.8 .4,.2 .4-.6 .4,1 .4-2.8 .4-.1 .4,.5 .4,2 .4,.8 .4-.3 .4-.7 .4-1.4 .4,2.5 .4-1.2 .4,.3 .4-.1 .4-.4 .4-.3 .4,.1 .4-.8 .4,1.9 .4-.5 .4,1.4 .4-3.4 .4,3.6 .4-1.5 .4-.1 .4-.8 .4,0 .4-.8 .4,2.9 .4-1.3 .4,1.1 .4,.1 .4-1.6 .4,.4 .4-.2 .4,1.7 .4-1.1 .4,.1 .4,.6 .4-.9 .4,2.5 .4-3.5 .4,2.6 .4,.2 .4-3.1 .4,2.4 .4-.7 .4,.7 .4-2.5 .4,1.8 .4-1.5 .4,.8 .4,2.1 .4-1.9 .4-2.5 .4,1 .4,.3 .4,2.6 .4-2.1 .4-1 .4,3.2 .4-1 .4,.1 .4-1.4 .4,2.7 .4-1.9 .4-2.2 .4,1 .4,.4 .4,.8 .4,1.1 .4-1.8 .4,.1 .4,3.4 .4-2.5 .4-.8 .4,.7 .4-1.5 .4,2.1 .4,.5 .4-1.8 .4,1.9 .4-1.6 .4,.7 .4-1.2 .4-.1 .4-.8 .4,2 .4-.6 .4,.1 .4-1.1 .4,0 .4,.6 .4,1.3 .4-.2 .4-1.2 .4,1.2 .4,1.8 .4-2 .4,2.3 .4-1.9 .4,1.1 .4-2.3 .4,2.1 .4-2.9 .4,1.8 .4-.7 .4-2 .4,.7 .4,3 .4-.8 .4,1 .4-1.3 .4-3.7 .4,3.8 .4-1 .4,.1 .4,0 .4-.4 .4-.2 .4,2.6 .4-.9 .4-1.3 .4,.2 .4,1.7 .4-.7 .4-.2 .4-1.7 .4,.9 .4-.8 .4-1 .4,3.4 .4-1.4 .4-.1 .4-.7 .4,2.1 .4,1.6 .4-1.9 .4,.5 .4-2.7 .4,1.8 .4,0 .4,1.5 .4-1.7 .4-1.2 .4,1.1 .4-.5 .4,2.3 .4-1 .4-.4 .4-.1 .4,.7 .4-1.6 .4-.5 .4-1.1 .4,3.7 .4-.9 .4,.2 .4-.7 .4,1.9 .4-3.1 .4,2.6 .4-2.5 .4,.5 .4-.9 .4,1.5 .4-.4 .4,.8 .4-1.2 .4-1 .4,2.4 .4,.9 .4-.7 .4-.9 .4,.5 .4-2.5 .4,1.6 .4,1.8 .4-.8 .4-1.6 .4,2 .4-1.2 .4,1.1 .4-2.6 .4,1.1 .4,1 .4,0 .4,.3 .4-.7 .4-.2 .4,.8 .4,.4 .4-2.8 .4,1.4 .4,.2 .4,.4 .4,1 .4-2.8 .4,2.2 .4-2.7 .4,1.2 .4,.3 .4,.3 .4-.4 .4,.1 .4,.2 .4,.1 .4-1.9 .4,.5 .4,1.2 .4,1.1 .4,.6 .4,2.2 .4-3.3 .4-1 .4,1.1 .4,.6 .4-.6 .4-1.5 .4,1.2 .4,0 .4-1.6 .4,.2 .4,2.9 .4-4.1 .4,2.9 .4-.5 .4,1.9 .4-.9 .4-1.7 .4,2.5 .4-2.2 .4,3.1 .4-.4 .4-2.1 .4,1 .4-.7 .4-1.3 .4,2.3 .4-.7 .4,.5 .4,.3 .4,.4 .4-.5 .4-1.3 .4,.2 .4,.4 .4-.7 .4-.1 .4,2.5 .4-1.6 .4,1.6 .4-3.2 .4,.9 .4-.5 .4,.1 .4,.1 .4,.2 .4-.4 .4,2.6 .4-1.3 .4-1.7 .4,.2 .4,1.5 .4-.3 .4-1.4 .4,1.8 .4-2.8 .4,1.1 .4,2.6 .4-5.2 .4,2.9 .4,1.3 .4-1.3 .4-.8 .4-.2 .4-1.4 .4,.8 .4,1.6 .4-.8 .4,.7 .4-.2 .4,.4 .4-2.3 .4,1.6 .4-.1 .4,0 .4-.8 .4-1.6 .4,3.4 .4,.1 .4,1.8 .4-2 .4,1.1 .4-1.3 .4-1.2 .4,1 .4-2.1 .4,1.6 .4-.4 .4-1.2 .4,2.7 .4-.2 .4-.9 .4,.4 .4,.9 .4-2.1 .4-1.5 .4,.4 .4,1.9 .4-.6 .4-2.1 .4,3.2 .4-1.4 .4,1.6 .4-.6 .4-1.9 .4,.6 .4-1.1 .4-.2 .4,.6 .4,.9 .4,.9 .4-2.7 .4,1.8 .4-.8 .4-.4 .4,1.5 .4-1.8 .4,2 .4-2.1 .4-.8 .4,1.9 .4-2.7 .4,.3 .4,1.1 .4,.1 .4-.4 .4-2.1 .4,.7 .4,2.2 .4-.1 .4-1.9 .4,1.4 .4-.1 .4,.9 .4-2.2 .4,2.5 .4-2.1 .4,2 .4-.7 .4-2.4 .4,.8 .4,.6 .4,.8 .4-3 .4,1 .4,1.3 .4-.3 .4-1.9 .4,.1 .4,1.5 .4-1.8 .4,1.4 .4,.7 .4-1.1 .4-3.3 .4,4.5 .4-.1 .4,.2 .4-.7 .4-3.1 .4,3.6 .4-1.4 .4,.6 .4-1.4 .4-.2 .4,0 .4,2.1 .4-1.7 .4-.7 .4-1.3 .4,2 .4-.7 .4,.1 .4,.9 .4-.4 .4-.9 .4,.1 .4-.2 .4,.6 .4-.1 .4-.7 .4-1.3 .4,1.9 .4,0 .4-2.5 .4,1.7 .4-1.1 .4-2.2 .4,2.4 .4,1.1 .4-2.1 .4-.1 .4,2 .4-2.7 .4,.1 .4,.6 .4,1 .4-.1 .4-1.5 .4,.1 .4,.3 .4-.7 .4-.7 .4-.5 .4,2 .4-1.3 .4,3.5 .4-2.9 .4-1.9 .4,.7 .4,.2 .4-.2 .4-.2 .4-.3 .4-1 .4,.7 .4,1.5 .4-3.5 .4-.3 .4,.9 .4,.2 .4-1 .4,0 .4-2.1 .4-.8 .4,.4 .4-.7 .4,.4 .4-1.1 .4-5 .4,1.8 .4-3.1 .4-3.4 .4,.8 .4-3.3 .4-3.5 .4-5.4 .4-5.2 .4-6.3 .4-10.2 .4-10.1 .4-13.6 .4-16.5 .4-18.5 .4-20.9 .4-22.3 .4-21.2 .4-18.1 .4-12.7 .4-4.8 .4,4.5 .4,13 .4,17.9 .4,21.5 .4,22 .4,20.9 .4,18.6 .4,16.3 .4,13 .4,11.8 .4,9.8 .4,5 .4,6.1 .4,5.2 .4,5.4 .4,1.7 .4,3.2 .4,1.4 .4-.7 .4,1.6 .4-.4 .4,3.7 .4,.2 .4,.5 .4,.7 .4,.3 .4,.2 .4,.5 .4,1.5 .4-2 .4,.1 .4,1.6 .4,1.7 .4-.8 .4-.2 .4,1.6 .4-.6 .4-2.1 .4,1.4 .4-1 .4,2.5 .4,0 .4,1.4 .4,2.2 .4-2.9 .4,1 .4-.2 .4-2.7 .4,2.7 .4,.3 .4,1.4 .4-1.1 .4-.3 .4,2.5 .4-.6 .4-.8 .4,.3 .4,.8 .4,1.5 .4,.8 .4-3.1 .4,3.1 .4-1.2 .4,.4 .4,.9 .4-2.3 .4,2.2 .4-2.5 .4,1 .4-.4 .4,3.1 .4-.1 .4-1 .4-.3 .4-1.2 .4,2.7 .4-.3 .4-.6 .4-1.2 .4-.3 .4,.4 .4,1.7 .4-2.7 .4,1.3 .4,1.8 .4-.9 .4,1.1 .4-1.6 .4,0 .4,1.2 .4-.9 .4-.3 .4-1 .4-1.2 .4,3.6 .4-2.3 .4-.4 .4,2 .4-2.1 .4-.6 .4,1 .4,.6 .4,.4 .4,.3 .4,.6 .4-1.3 .4,.6 .4-.6 .4-.6 .4,1.2 .4,0 .4,1.8 .4-1.5 .4-1.5 .4,1.5 .4-1 .4,2.2 .4-3.9 .4,1.2 .4,0 .4,1 .4-.3 .4-1.8 .4-.3 .4,2.5 .4,1.5 .4,0 .4-2.2 .4,1 .4-1.6 .4-.6 .4,3.1 .4-.6 .4-1.2 .4-.1 .4,1.6 .4-.7 .4-.8 .4,.7 .4-.3 .4-.5 .4-.3 .4,1.9 .4-1.6 .4-.9 .4,3.6 .4-.7 .4-.8 .4-.7 .4,.3 .4-2 .4,1.7 .4,.4 .4-.6 .4,.8 .4-1.4 .4,1.1 .4-2.1 .4,1.8 .4-.7 .4-.8 .4,1.1 .4,.5 .4-.7 .4,1.8 .4-2 .4,2 .4-.3 .4-1.5 .4,2.4 .4-3.3 .4,2.2 .4-.5 .4,.8 .4-2.8 .4,.5 .4,.4 .4,1 .4,.1 .4-.1 .4-.3 .4-.6 .4-.7 .4,1.1 .4,1.1 .4,.6 .4-1.8 .4,1.8 .4-2.8 .4,2.5 .4-2.2 .4,1.6 .4-1.4 .4-.1 .4,.5 .4,2.4 .4-2.5 .4,1.5 .4-.5 .4,.1 .4,.1 .4,.3 .4-2.1 .4,1.4 .4,.4 .4-1.1 .4,1.1 .4-1.6 .4,2.1 .4-1.7 .4,.5 .4,1.2 .4,.4 .4-2 .4,0 .4,1.9 .4-4.6 .4,5 .4-.1 .4-2.7 .4,2.6 .4-1 .4,.1 .4-3.2 .4,2.1 .4,.4 .4-.3 .4,.1 .4,.1 .4-3 .4,3.1 .4-.6 .4,.7 .4-.5 .4,.6 .4,.3 .4,1.8 .4-3 .4,2.9 .4-2.3 .4-.7 .4-.7 .4,2.7 .4-2.8 .4,2.9 .4-.7 .4-1 .4-.2 .4,1.4 .4-.4 .4,.7 .4-.9 .4-.6 .4,1.3 .4-2.1 .4,2.4 .4-.9 .4-1.4 .4,.1 .4,.8 .4-1.7 .4,3.8 .4-.5 .4-2.5 .4,1.2 .4,2.1 .4-1.5 .4-1.7 .4-1.3 .4,.6 .4,3.3 .4-1 .4-1.9 .4,2.4 .4-1.3 .4-.4 .4,.2 .4,.1 .4,2.5 .4-3.1 .4,.7 .4,2 .4,.2 .4-2.9 .4,3.6 .4-1.2 .4-3 .4,3.9 .4-3.9 .4,2.5 .4-2.1 .4-.8 .4,3.2 .4-.6 .4-.6 .4,.4 .4-.4 .4-.2 .4-.9 .4,1.9 .4-.6 .4-.3 .4-.4 .4,.3 .4-1.5 .4,1.5 .4-.8 .4,2.7 .4-2.7 .4,.6 .4,.6 .4,.9 .4-.4 .4-.5 .4,2.5 .4-2.6 .4,.4 .4,2.9 .4-4.3 .4,2.2 .4-.6 .4-2.1 .4,.8 .4,1.7 .4-2.7 .4,1.5 .4,1.4 .4-1.4 .4,.6 .4-1.1 .4,0 .4,0 .4,.3 .4,1.2 .4-.7 .4,2.3 .4-1.7 .4-.3 .4,2.3 .4-2.8 .4-.8 .4,1.1 .4-1.4 .4,1.9 .4,1 .4-.9 .4-1.2 .4,.3 .4,.7 .4,.9 .4-1.9 .4,0 .4,1.8 .4-1.1 .4,.2 .4,.1 .4-1.5 .4,.8 .4,1.4 .4-1.4 .4-.1 .4,.6 .4,.1 .4,2.6 .4-4 .4,1.1 .4,2.3 .4-2.4 .4,.4 .4-2.2 .4,2.9 .4-.1 .4-.1 .4-1.1 .4,.6 .4-.5 .4,1.1 .4-1 .4,.9 .4-2.5 .4,1.2 .4-3 .4,3.2 .4,1.1 .4-1.2 .4,3.1 .4-4 .4,.8 .4-.7 .4,.5 .4,0 .4-1.2 .4,.6 .4,3.6 .4-2.7 .4,1.4 .4-2.6 .4,1.3 .4,.8 .4-.8 .4-.4 .4,.3 .4,.3 .4,1 .4,.4 .4-3 .4-.9 .4,2.2 .4,.3 .4,.8 .4,.4 .4-2 .4,3.2 .4-2.1 .4-2.4 .4,3.2 .4-.8 .4,0 .4-2.2 .4,1.5 .4,.6 .4-.4 .4,1 .4,.7 .4,.3 .4-.3 .4-1.7 .4,2.2 .4-1.7 .4,.7 .4-1.3 .4-1.4 .4-1 .4,2.9 .4-1 .4,.8 .4,1 .4-2.9 .4-.2 .4,2.4 .4,.1 .4-.7 .4-.3 .4-1.3 .4,1.8 .4-.8 .4,1.4 .4,.6 .4-1.8 .4,1.2 .4-.3 .4,.6 .4,1 .4-1 .4,0 .4,.1 .4-1.4 .4,.5 .4,.4 .4,1.1 .4,0 .4,1.2 .4-4 .4,1.3 .4-2.1 .4,1.5 .4-1.4 .4,3.4 .4-.5 .4-2.2 .4,1.7 .4,.5 .4,1.2 .4-1.1 .4-.8 .4-.3 .4,.9 .4-.4 .4-.9 .4-.9 .4,2.7 .4-2.1 .4,.5 .4,1.3 .4-1 .4,1.4 .4-2.7 .4,2.3 .4-2.5 .4-.2 .4,.5 .4,1.4 .4-.9 .4-.9 .4,3.1 .4-2.6 .4,1 .4,.5 .4-.9 .4,1 .4,.3 .4-.8 .4,1.3 .4-1.9 .4-.6 .4,1.5 .4-1.4 .4,1.6 .4-.5 .4-.5 .4,1.3 .4,0 .4-4.2 .4,3.1 .4,.6 .4,.4 .4-1.2 .4-.7 .4,1.5 .4,.6 .4-3.2 .4,.6 .4,1.1 .4-2.3 .4,2.3 .4,1.7 .4-2.2 .4,1.4 .4-1.2 .4,1.6 .4,.2 .4,.8 .4-1.4 .4,1.1 .4-.7 .4-1.1 .4,2.4 .4-2.5 .4,.9 .4,2.7 .4-1.9 .4-2 .4,1.4 .4-1 .4,.4 .4-1.6 .4,2.1 .4-2.1 .4,2.3 .4,0 .4,.6 .4,1.6 .4-4.6 .4,.5 .4,.3 .4,.5 .4,1.7 .4-1.4 .4-.3 .4-.7 .4,.6 .4,.3 .4,.4 .4-1.6 .4,1.6 .4,.8 .4-.3 .4-1.9 .4,2.5 .4,0 .4-.6 .4-1.8 .4-.3 .4,1.8 .4-1.3 .4-.4 .4,2.7 .4,0 .4-.3 .4,.8 .4-.5 .4-2.4 .4,2.7 .4-1.2 .4,.4 .4,1.4 .4-1.4 .4,1.4 .4-1.8 .4-.6 .4-.3 .4,.6 .4-1.8 .4,1.9 .4,0 .4-.5 .4-2 .4,.1 .4,3.4 .4-2 .4,2.8 .4-2.5 .4,1.3 .4-2.2 .4,1 .4,.5 .4,1 .4,1.3 .4-.9 .4-2.9 .4,1.8 .4-.2 .4-.6 .4,1.5 .4,1.2 .4-2.4 .4,1.9 .4,.3 .4-2.9 .4,3.4 .4-.1 .4-1.7 .4,1.7 .4-1.8 .4,1.1 .4-.6 .4-1.8 .4,1.4 .4-.5 .4-.4 .4-.8 .4,.4 .4-.5 .4,2.9 .4-3.8 .4,2.5 .4-.8 .4-.8 .4,2.4 .4-1.8 .4,2.4 .4-1.7 .4,.6 .4-.5 .4,.9 .4,.4 .4-1.7 .4,.5 .4,2.2 .4-2.8 .4,2.8 .4-2.6 .4-.2 .4-1.4 .4,1.1 .4-1.1 .4,1.4 .4,1.5 .4-.9 .4-.6 .4-.5 .4,.4 .4-.9 .4,.2 .4,3.8 .4-2 .4-1.4 .4,1.9 .4,1 .4-2.5 .4,.6 .4-1.4 .4-.4 .4,3.6 .4,2.5 .4-5 .4-1.1 .4,3.7 .4-.5 .4-.7 .4,1.2 .4-2.1 .4,.7 .4,.6 .4-1.3 .4,.9 .4-.8 .4,.8 .4-.3 .4-2.6 .4,2.5 .4-1.8 .4,.7 .4-1 .4,3 .4-1.4 .4-.1 .4,2 .4-.7 .4-1.1 .4-2.2 .4,3.3 .4-1.1 .4-.2 .4,1.4 .4-1.7 .4,.7 .4,1.1 .4-.3 .4-1.5 .4,2.5 .4-.4 .4,.9 .4-2.3 .4,.3 .4,1 .4-.7 .4-.4 .4-.3 .4-.2 .4-.5 .4,0 .4,1.3 .4-.9 .4-1.3 .4,1.7 .4,1.9 .4-.3 .4-4.1 .4,1.4 .4,1.9 .4-.9 .4,0 .4-.3 .4,.2 .4-1.3 .4,2.6 .4-2.7 .4,1 .4,2 .4-.6 .4-1.4 .4,0 .4-.8 .4,0 .4,.2 .4,1.8 .4-2.2 .4,1 .4-.4 .4-.2 .4-1.1 .4,.8 .4-1.1 .4-.6 .4-1.3 .4-2.5 .4,1.7 .4-1.4 .4-2.6 .4-1.7 .4-1.9 .4-3 .4-1.8 .4-2.7 .4-2.5 .4-2.2 .4-2 .4,0 .4,.3 .4,1.8 .4,2.2 .4,2.5 .4,2.3 .4,4 .4,1.1 .4,1.5 .4,3.3 .4-.3 .4,4.3 .4,.4 .4,1.2 .4,.5 .4-.1 .4-1.4 .4,1.1 .4,1.7 .4-.7 .4,.9 .4-1.1 .4,0 .4,1.4 .4,.7 .4-.8 .4-1.1 .4-.7 .4,4.5 .4-3.7 .4,.4 .4,.2 .4,2 .4-2 .4,1.6 .4-.2 .4-1.7 .4,1.6 .4-1.6 .4,1.3 .4,1.1 .4-1.1 .4-.8 .4,.6 .4,.3 .4,.6 .4-3.1 .4,.6 .4,2.8 .4-.7 .4,.2 .4,.2 .4-.4 .4-.3 .4,.6 .4,.7 .4-.4 .4-.3 .4-1.3 .4,1.6 .4-1.7 .4,.6 .4,1 .4,0 .4,1.2 .4-.3 .4-.4 .4-1 .4,.4 .4-.3 .4,2.4 .4-1.5 .4-1.3 .4-.2 .4,2.5 .4-2.5 .4,1.5 .4-.3 .4,1.1 .4-2.3 .4,1.6 .4-.3 .4,.7 .4,.7 .4-1.5 .4-.3 .4,1.3 .4-2.7 .4,1.9 .4-1.4 .4-.2 .4-.5 .4-.1 .4,3 .4,.1 .4-.9 .4,1.1 .4-1.2 .4-.6 .4-.7 .4,2.2 .4,.1 .4,.5 .4-2.4 .4,.6 .4-1.3 .4,3 .4-.5 .4-.2 .4-.6 .4-.2 .4-.2 .4,1.7 .4-2 .4,1.8 .4-.7 .4-1.5 .4-.5 .4,.8 .4,.8 .4-1.4 .4,2.3 .4,.6 .4-.7 .4-2.7 .4-.7 .4,3.8 .4,.7 .4-2.2 .4,1.1 .4-.9 .4-.5 .4,2 .4-1.8 .4,1.6 .4,1.1 .4-2.2 .4,2.4 .4-3.8 .4,2.7 .4-1.1 .4,3 .4-3 .4-.9 .4,2.9 .4-3.8 .4,2.4 .4-1.5 .4,2.6 .4-1.8 .4,1.2 .4-1.1 .4-1.2 .4-1.3 .4,4.7 .4-1.8 .4-1.7 .4,1 .4,1.6 .4-2.9 .4,4.5 .4-3 .4-.2 .4,2 .4-1.3 .4-1.4 .4,2.3 .4-.6 .4,.8 .4-2.4 .4-.2 .4,2.1 .4-1.3 .4-2 .4,1.8 .4,1.5 .4-1.6 .4,2.4 .4-2.1 .4,.5 .4-1.9 .4,1 .4,.8 .4,.9 .4-.5 .4,1.1 .4-3.9 .4,2.7 .4-.2 .4-1.1 .4,1.2 .4-.8 .4,1.4 .4-.9 .4,1 .4-1.7 .4,2.6 .4-1 .4,1.6 .4-2.3 .4-.4 .4,.8 .4-.7 .4-.7 .4,1.3 .4-.1 .4-.7 .4,.3 .4-.7 .4,1.3 .4-1.7 .4,3.6 .4-2 .4,1.1 .4-2.5 .4,1.8 .4-.5 .4,1.3 .4-.1 .4-3 .4,3.3 .4-3.2 .4,3.5 .4-1.7 .4-1.4 .4,2.3 .4-.8 .4-1.2 .4,.3 .4,1.5 .4-2.3 .4,.7 .4,3.2 .4-3.1 .4,1.4 .4,0 .4,.7 .4-.1 .4-4.1 .4,2.4 .4,2.1 .4-2.4 .4,3.1 .4-1.9 .4-1.7 .4,2.1 .4,1.7 .4-3.1 .4,1.4 .4-1.7 .4,.4 .4,.8 .4,.5 .4-.2 .4-.2 .4,2.7 .4-4.2 .4-.9 .4,2.9 .4-.5 .4-1.9 .4,3.8 .4-2.9 .4-.9 .4,2.2 .4,.3 .4,2.1 .4-4.7 .4,.3 .4,1.2 .4-.2 .4,.5 .4-.8 .4-1 .4,1.3 .4,1.4 .4,.1 .4-1.7 .4,1.4 .4-.1 .4-1.1 .4,.1 .4,.5 .4,3.4 .4-3.2 .4-1.3 .4,.9 .4-.5 .4,2.1 .4-4 .4,1.3 .4,2.3 .4-.5 .4-.5 .4,.9 .4-2.5 .4,2 .4-1.8 .4-.2 .4,2.2 .4-1.6 .4,.6 .4,1.1 .4-2 .4,2 .4,2 .4-3 .4,1.5 .4-.3 .4-2.4 .4-.2 .4,1.7 .4-2.6 .4,2.6 .4,.3 .4,.3 .4-.1 .4,1.1 .4-2 .4,2 .4-1 .4,0 .4-.8 .4,1.3 .4-2 .4,1.8 .4,.4 .4-2.1 .4-.4 .4,.2 .4,.9 .4,.5 .4,.6 .4,1.3 .4-.4 .4-1.6 .4-.8 .4-1 .4,2.4 .4-.3 .4-1 .4,.1 .4,.1 .4-3 .4,3 .4,.5 .4-.6 .4-1.1 .4,1.3 .4,.6 .4,1.6 .4-.9 .4-.6 .4-.8 .4-1.6 .4,1.1 .4-1.1 .4,1.5 .4,1.4 .4,0 .4-.2 .4-1.1 .4,1.2 .4-1.5 .4-2.1 .4,2.6 .4-.2 .4-2.1 .4,1.4 .4-2.3 .4,2.4 .4,2 .4-2.2 .4,2.3 .4-1.3 .4-1.2 .4-1.2 .4,3 .4-.1 .4-2.6 .4,1.3 .4,1.8 .4-2.2 .4,1.3 .4-2.8 .4,1.2 .4,2 .4-2.3 .4-.3 .4,0 .4,1.3 .4-1.5 .4,1.8 .4,.8 .4,1.1 .4-2.3 .4,2.4 .4-1.3 .4-.9 .4,.9 .4,1.2 .4-.1 .4-.9 .4-1 .4,1.1 .4-.7 .4-.1 .4,.1 .4,1.9 .4-3.7 .4,1.4 .4-1.3 .4,2.4 .4,.3 .4,.3 .4-2.1 .4,.5 .4,.8 .4-.7 .4,.1 .4-.1 .4,.1 .4-.5 .4,.7 .4-2.3 .4,1.2 .4-1.1 .4,1.5 .4-.8 .4,1.5 .4,.9 .4-3 .4,.5 .4,1.4 .4,1.3 .4-.8 .4-.4 .4-.7 .4-.4 .4,1 .4,.1 .4-.4 .4-.9 .4-1.3 .4,.9 .4,.6 .4-1 .4,1.8 .4-2.1 .4,1.3 .4,.8 .4,.6 .4-.7 .4,1.1 .4-2.2 .4-.2 .4,2.3 .4-2.4 .4,.8 .4-1.9 .4,3.5 .4-.5 .4-1.8 .4-1.2 .4,2.4 .4,0 .4,1.1 .4,.8 .4-2 .4-.6 .4,0 .4-.1 .4-1.3 .4,.6 .4,1 .4-1.9 .4,.4 .4,3 .4-2.3 .4,1.8 .4,.3 .4-1.3 .4,1 .4-1.2 .4-.9 .4,.9 .4,.2 .4,.1 .4-.1 .4-.5 .4,1.7 .4-1.5 .4-.3 .4,1.6 .4-2.3 .4,1.2 .4,1.8 .4-1.8 .4,1.7 .4-2.1 .4-.3 .4,.4 .4-.4 .4,.2 .4-.1 .4,1.5 .4-.5 .4-.8 .4-.6 .4,4.8 .4-4.2 .4,2 .4-3.2 .4,.6 .4,2.3 .4-2.8 .4,0 .4,1.3 .4-.9 .4,.6 .4,.5 .4,.8 .4-.8 .4,.1 .4,1.3 .4,.1 .4-2.2 .4-1.8 .4,1 .4,2.5 .4-1.8 .4-.3 .4,.3 .4,2.4 .4-1.8 .4-.6 .4-.4 .4-.4 .4,4.7 .4-3.5 .4,.2 .4-.5 .4,1.6 .4-2.5 .4-1.1 .4,1.6 .4,1.1 .4,2.3 .4-2.8 .4-.9 .4,.7 .4-.6 .4-.1 .4,1.1 .4,.2 .4-1.1 .4,2.1 .4-1.4 .4,.2 .4-.8 .4,1.1 .4,0 .4,.3 .4-1.8 .4,1.8 .4-1.5 .4,.8 .4,.8 .4,.9 .4-2.4 .4-.8 .4,1.5 .4,1.3 .4-1.8 .4,3.3 .4-5.2 .4,4.1 .4-.5 .4,0 .4-2.4 .4,2.7 .4-.3 .4,.1 .4-1.8 .4,0 .4,1.8 .4-1.1 .4-.9 .4-.5 .4,1.3 .4-2 .4,2.3 .4-.5 .4-2.1 .4,2.4 .4,.9 .4-1.1 .4-2 .4,.9 .4,1.7 .4-2.6 .4,1.1 .4,1.8 .4-1.7 .4-.4 .4,1.7 .4,.9 .4-1.5 .4-2.1 .4-.4 .4,1.7 .4-2 .4,2.1 .4,1.2 .4-4.4 .4,3 .4,.5 .4-1.1 .4,1.1 .4,.1 .4,.6 .4,1.9 .4-3 .4-1.5 .4-.3 .4-.3 .4,2.2 .4-.6 .4,0 .4-.5 .4,1.5 .4-.8 .4-.3 .4-2.3 .4,0 .4-1.5 .4,.2 .4,.2 .4-2.2 .4-.4 .4,1.4 .4-3.9 .4-3.1 .4-2.1 .4-2 .4-2.7 .4-4.4 .4-3.7 .4-4.6 .4-4.7 .4-3.2 .4-3.3 .4-1.2 .4-.5 .4,1.7 .4,2.9 .4,3.9 .4,4.5 .4,4 .4,4.9 .4,3.4 .4,4.2 .4,1.8 .4,3.5 .4,2.1 .4,.3 .4,4.1 .4,0 .4-.2 .4-.1 .4,.6 .4,.3 .4,.9 .4-1.4 .4,1.7 .4-.6 .4,2.9 .4-.9 .4,1.2 .4,1 .4-2.2 .4,2 .4-1.9 .4,.4 .4-1.8 .4,1.3 .4,1.7 .4-1.1 .4-1 .4,.6 .4-.9 .4,.1 .4-.9 .4,3.2 .4,0 .4-1.4 .4-1.5 .4,1.4 .4,2.7 .4-4 .4,1 .4,.1 .4,1.5 .4-2.4 .4,1.8 .4-1.3 .4,.6 .4-1 .4,2.1 .4-1.2 .4-.1 .4,2.1 .4-.9 .4,2.4 .4-2.3 .4-.4 .4,.1 .4,3.2 .4-1.8 .4-1.8 .4,.7 .4-1 .4,1.5 .4-1.4 .4,0 .4,1.2 .4,1.1 .4-.5 .4-.1 .4-.9 .4-2.9 .4,2.7 .4,0 .4,1 .4,1.5 .4-1.2 .4-3 .4,2.2 .4-.3 .4,1.2 .4-.9 .4-2.2 .4,1.2 .4,.8 .4-2.1 .4,2.4 .4-.1 .4,1.6 .4-1.4 .4-.5 .4,.6 .4,.2 .4,1.2 .4-2.2 .4-1.6 .4,6.2 .4-2.4 .4-.8 .4,2.9 .4-4.3 .4,.5 .4,.5 .4,1.2 .4-1.1 .4,1.5 .4-1.3 .4,2.1 .4-1 .4-2.5 .4,2 .4-1.3 .4,1.3 .4,.2 .4,2.8 .4-3 .4-1.6 .4,2.2 .4-1.5 .4,3.7 .4-1.3 .4,1.1 .4-2.4 .4-.7 .4,1.7 .4-2 .4,.6 .4,.3 .4,.8 .4-1.6 .4-.6 .4,4.3 .4-2.3 .4,.5 .4,1 .4-.1 .4-1.3 .4,.3 .4,2.6 .4-.4 .4-.5 .4,1.1 .4-4.2 .4,2.5 .4-.4 .4-2 .4,2.8 .4,.5 .4-.4 .4-2.5 .4,2 .4,.6 .4-.5 .4,.7 .4,.3 .4,1.2 .4-1.4 .4,3 .4-2.8 .4,.1 .4,.7 .4-1 .4-.3 .4,2 .4-4.1 .4,.5 .4,4.8 .4-1.6 .4-.1 .4-.3 .4,.1 .4-1.5 .4,.9 .4-.9 .4,2.8 .4-.6 .4-.4 .4,.2 .4-.6 .4-1.1 .4,3.5 .4-1.2 .4-1 .4,1 .4,.9 .4,0 .4-.6 .4,.3 .4-1.2 .4,2 .4-.5 .4,.1 .4-2.7 .4,2.5 .4,.1 .4,.2 .4-4.1 .4,1 .4,2.7 .4-1.5 .4,1.7 .4-.5 .4,1.2 .4-1.6 .4-.6 .4,2 .4-.9 .4-1 .4-.9 .4,6.3 .4-4.2 .4,.2 .4-2 .4,1.2 .4,1.1 .4,.7 .4,.6 .4-1.8 .4,1.6 .4,.9 .4-1.9 .4,.6 .4-2.1 .4,1.3 .4-.6 .4,2.6 .4-1 .4,2.3 .4-1.7 .4,.9 .4-.3 .4-.3 .4-1.5 .4,3.4 .4-2 .4-2.1 .4,1.6 .4-.5 .4,2.9 .4-.1 .4,.7 .4,.9 .4-3.5 .4-1.4 .4,1.2 .4,1.8 .4-3.8 .4,2.7 .4,1.9 .4-2 .4,1 .4-.9 .4,3.4 .4,.3 .4-3.6 .4,.3 .4,1.3 .4,.8 .4-.2 .4,.3 .4,.6 .4,.3 .4,1 .4-2 .4-.7 .4,.6 .4,2.9 .4-1.6 .4-.1 .4,.9 .4,0 .4,1.5 .4-3.9 .4,1.4 .4,.7 .4,.2 .4-1.4 .4-1.5 .4,1.8 .4-.4 .4,.8 .4,1.6 .4-.4 .4-2.2 .4,.6 .4,1.2"/>
<path stroke="#2ca02c" stroke-width="2.2" stroke-opacity="0.5" d="M187.6,974.0l.6,4.9 .6,.5 .6,1.2 .6,3.7 .6-8.8 .6,2.4 .6-1.8 .6,4.4 .6,4 .6-3 .6,2.1 .6-7.7 .6,7.1 .6-3.2 .6,9 .6-2.7 .6,.4 .6-3.3 .6,2.3 .6,.2 .6-3.2 .6-.5 .6,1.2 .6-1.6 .6,0 .6,1 .6-1.5 .6,4.9 .6-7.8 .6,7.9 .6-4.8 .6,.2 .6-2.7 .6,3.9 .6-.4 .6,1.4 .6-2.5 .6,2 .6,5.6 .6-4.7 .6-3.4 .6,5 .6-3.7 .6,2.3 .6,0 .6-3.4 .6-5.2 .6,5.2 .6,2.8 .6-3.1 .6,2.6 .6,1.7 .6-5.2 .6,5.8 .6,1.2 .6-1.9 .6,.2 .6-.3 .6,3.7 .6-6.9 .6-.7 .6,1.9 .6-5.1 .6-2.2 .6,2.1 .6,4.1 .6,.2 .6-6.7 .6-1.2 .6,5.1 .6,.3 .6,.4 .6,2.3 .6,1.8 .6-3.4 .6,1.2 .6-5.7 .6-.3 .6,4.6 .6,1.4 .6,.1 .6-.5 .6,.6 .6,0 .6-8.5 .6,3.3 .6,3.9 .6,.4 .6-7 .6,8.8 .6-5.4 .6,.6 .6,1.6 .6,1.6 .6-7.3 .6,7.9 .6-3 .6-2.9 .6,1.6 .6-6.3 .6,5 .6,2.7 .6-3 .6,1.2 .6,.5 .6,.6 .6,3.2 .6-3.5 .6-.8 .6,2.5 .6,5.1 .6-8.1 .6,2.8 .6-7 .6,9.6 .6-2.3 .6,2.2 .6-4.7 .6-3.3 .6,6.4 .6-.5 .6-5.4 .6-2.1 .6,6.3 .6-2.1 .6,9.1 .6-10.7 .6,.2 .6,1.4 .6-5.2 .6,2.5 .6,8.3 .6-6 .6-1.6 .6-2.2 .6,6 .6,.2 .6-1.4 .6-2.2 .6,2.2 .6,.2 .6-3.6 .6,4.3 .6-9.1 .6,2.6 .6,3.2 .6,.6 .6-3.6 .6,4.8 .6,2.4 .6-2.1 .6-.8 .6,1.9 .6-1.5 .6-5.2 .6,3 .6,4.9 .6-8.2 .6,3.9 .6-1.6 .6-1.8 .6-.4 .6,3.5 .6,.6 .6-.1 .6-5.9 .6,3.7 .6,2 .6,1.9 .6-1.1 .6,.4 .6,.8 .6-1 .6-5.6 .6,2.8 .6-2.7 .6-5.6 .6,2.1 .6,12.3 .6-10.7 .6-3.9 .6,5.4 .6,6.8 .6-5.4 .6,1.4 .6-2.4 .6,.4 .6,4.3 .6-1.7 .6-3.1 .6,3.1 .6,.4 .6-4.4 .6,1.4 .6-.2 .6-3.2 .6,5.8 .6-4.6 .6-1.6 .6-3.7 .6,1.1 .6,9 .6-9 .6,4.9 .6-2.9 .6,2.7 .6,0 .6-4.8 .6,1.3 .6,1 .6-.2 .6-.8 .6-1.2 .6,2.8 .6,2 .6-2.9 .6-4.5 .6,3.4 .6-1.4 .6,1 .6,4.2 .6-7.2 .6,.3 .6-3.3 .6,1.6 .6-1.4 .6,6.8 .6-4.8 .6-3.3 .6,7.8 .6-11.3 .6,6.8 .6,0 .6-2 .6-3.2 .6-.1 .6-1.2 .6,3.2 .6-10.8 .6,5.5 .6,1.7 .6-2.9 .6-4.6 .6,4.7 .6-2.1 .6,4.6 .6,1.5 .6-4.8 .6-7 .6,5.3 .6-2.8 .6,4.9 .6,2.9 .6-4.9 .6,5.3 .6-2 .6-3 .6-5.4 .6,3.3 .6-5.4 .6,8 .6-3.2 .6,4 .6-3.8 .6-7.5 .6,8.4 .6,.7 .6,2.3 .6-8.9 .6,0 .6,3.1 .6-3.9 .6-1.2 .6,.7 .6,12 .6-10.8 .6-1.4 .6,1.7 .6,1.3 .6,4.2 .6-1.3 .6-.6 .6-2.6 .6,.3 .6-2.7 .6-2.9 .6,11.6 .6-8.2 .6,4.8 .6-4.4 .6,.7 .6-.2 .6-4 .6,4.3 .6,1.5 .6,1.6 .6-1.1 .6,1.8 .6-2.3 .6-1 .6-6.4 .6,4.8 .6,7 .6-4.6 .6,2.3 .6-3.3 .6-1.4 .6,9.1 .6-5.5 .6,3.9 .6-3.1 .6-2.6 .6-6.4 .6,7.8 .6-5.3 .6-2.1 .6,11.5 .6-1.6 .6-.2 .6-1.8 .6-.2 .6,1.6 .6-.8 .6-.2 .6,2.2 .6-10.4 .6,11.1 .6-5 .6,5 .6,1.1 .6-6.6 .6,5.5 .6,0 .6-4.9 .6,.7 .6,2.1 .6-7.6 .6,5.9 .6,2.2 .6-2 .6-3.8 .6,4.1 .6,6.4 .6-.6 .6-4.7 .6-2.2 .6,2.7 .6,.2 .6-2.2 .6,1.2 .6,3.2 .6,1.1 .6-11 .6,11.3 .6-2.7 .6,3.5 .6-3.8 .6,1.5 .6,4.1 .6-15.2 .6,15.2 .6-4.6 .6-6.6 .6-2.7 .6,9.9 .6-4.4 .6,6.8 .6-2.6 .6-1.1 .6,3.8 .6-2.6 .6,1.9 .6,.3 .6-1.6 .6,1.6 .6,0 .6-7.1 .6,3.6 .6,.6 .6-.8 .6-4 .6,3.4 .6,3 .6-.5 .6,4.4 .6-7 .6,.6 .6-.5 .6,.8 .6-.9 .6-4.2 .6,7.3 .6,2.1 .6,.4 .6-7.3 .6,2.9 .6,6.7 .6-6.5 .6,1.5 .6-1.7 .6,3.8 .6-.2 .6,4.5 .6-6.1 .6-.2 .6-5.6 .6,2.6 .6-1 .6,1.2 .6-3.3 .6,8.3 .6-7.6 .6,4.3 .6-5.1 .6,5.2 .6,4.3 .6-8.3 .6,3.9 .6-1.5 .6,1 .6,.4 .6-3.6 .6,1.5 .6-1.5 .6-.8 .6-1.4 .6,7.1 .6-5.7 .6,4.6 .6-.5 .6-5.2 .6,6.7 .6-6.4 .6,4.9 .6,2.6 .6-7.2 .6-.8 .6-.1 .6,10.6 .6-8.9 .6-3 .6,6.8 .6-3.4 .6,.4 .6-3.2 .6-4.2 .6,4.9 .6-1.1 .6-2 .6,1.7 .6,.4 .6,5.7 .6-.4 .6-.7 .6-3.5 .6-2.4 .6,5 .6,.5 .6,1.7 .6-3.5 .6-.4 .6,1.4 .6-4.1 .6,.3 .6,4.7 .6-6.4 .6,3.9 .6,2.7 .6-1.9 .6,.6 .6-5.1 .6,3.1 .6-.5 .6,2.8 .6-.7 .6-1.4 .6,6.1 .6-4.5 .6-2.8 .6-1.2 .6,1.8 .6-1.8 .6,7.2 .6-3.6 .6-3 .6-1.2 .6-1.4 .6,2.5 .6,5.2 .6-1.6 .6-3.1 .6,.6 .6-6.7 .6,8.6 .6-3.3 .6,5.2 .6-5.2 .6-1.1 .6,2.3 .6-2.9 .6,6.5 .6-3.6 .6,.2 .6-.2 .6-2.3 .6,2.7 .6-1.1 .6,5.2 .6-5.6 .6,.9 .6-2.7 .6,.2 .6,.2 .6,5.2 .6-4 .6,2.9 .6-4.1 .6-.4 .6-5.2 .6,9.1 .6,4 .6-7.5 .6,5.4 .6-1.9 .6-5.1 .6,4.7 .6-5.5 .6,2 .6,5 .6-3.5 .6-4.4 .6,8.5 .6-8.3 .6,3.1 .6-.6 .6,.6 .6-2.3 .6-2.6 .6,11.5 .6-9.2 .6,.2 .6-5.1 .6,8.3 .6,4 .6,.4 .6,4.5 .6-4.2 .6-3.6 .6-1.2 .6,4.6 .6-4.8 .6,.8 .6-3.8 .6,3.5 .6,6.2 .6-6.7 .6,1.5 .6-9.2 .6,12.4 .6-3.2 .6,3.4 .6-3.8 .6-3.6 .6-1.7 .6,6.1 .6-1.7 .6-3.1 .6,3 .6-1.9 .6,4.5 .6-3.8 .6-2.6 .6,3.7 .6-1.5 .6,6.7 .6-6.4 .6-2.8 .6,4.1 .6-.6 .6,1.7 .6-.1 .6-4.1 .6,3.2 .6-.1 .6-3.6 .6,2 .6,2.6 .6-5.9 .6,1.7 .6,2.1 .6,1.2 .6,2 .6-6.1 .6,5.5 .6,1.1 .6,3 .6-6.4 .6-1.6 .6-2 .6,6.9 .6,2.5 .6-6.4 .6,3.8 .6,1.5 .6,.5 .6-4.4 .6,3.7 .6-2.1 .6-2.8 .6,4.2 .6,.5 .6-4.2 .6,4.9 .6,5.3 .6-11.3 .6,7.5 .6,.9 .6-2.6 .6,1.2 .6-1.7 .6,5.5 .6-7.3 .6,2.9 .6-5.7 .6,7.7 .6,.4 .6-6.5 .6,2.9 .6,4.8 .6-3 .6-2.1 .6-4 .6,9.7 .6,5.5 .6-7.6 .6,3.2 .6,.2 .6-1.3 .6,.8 .6,.4 .6-3 .6,11.4 .6,1 .6-7.7 .6,5.2 .6-8.4 .6,2.2 .6,4.8 .6-7.3 .6-.2 .6,5.6 .6-7.4 .6,12.5 .6-3 .6-1.5 .6,1.7 .6-5 .6,.1 .6,6 .6,.6 .6-2.5 .6-.4 .6-1.5 .6,6.5 .6-9.3 .6,2.2 .6,1.3 .6-3.1 .6,.8 .6,1.1 .6,6.9 .6,2.8 .6-4.6 .6-6.3 .6,3.5 .6,1.7 .6-.3 .6-.2 .6,3.1 .6-7.9 .6,4.7 .6,2.7 .6,1.9 .6-1.3 .6-.7 .6-.3 .6-1.6 .6,2.6 .6-.8 .6-1.4 .6,6.4 .6,.1 .6-4.9 .6,3.4 .6,2.1 .6-3 .6-.3 .6,1.4 .6-6.9 .6,.9 .6,6.6 .6-.7 .6,3.7 .6-6 .6,5.4 .6,.1 .6,3.1 .6-9 .6,1.6 .6,2.2 .6,.1 .6-4 .6,1.5 .6-2.3 .6,12 .6-7.7 .6,.3 .6-1.9 .6,2.2 .6,2.6 .6-3.6 .6,1.1 .6,7.4 .6-4 .6-2.2 .6-2.1 .6,1.4 .6-2.3 .6,3.4 .6-3 .6-.2 .6,1.1 .6-2.1 .6,4.2 .6,7.7 .6-10.3 .6-3.4 .6,8.6 .6-3.5 .6,6.9 .6-5.2 .6,1.8 .6-5.6 .6-2.7 .6,4.6 .6,2.8 .6-5.1 .6-2.4 .6,3.3 .6,.5 .6,.3 .6,1 .6,8 .6-7.8 .6-1.8 .6-1.9 .6,6.2 .6-7.9 .6,10 .6-4.8 .6-4.9 .6,5.5 .6-.9 .6,4.4 .6-9 .6,5.6 .6-.7 .6,3 .6-6.7 .6,1.1 .6,9.1 .6-4.7 .6-6.7 .6,6 .6-3.7 .6,.3 .6-1.7 .6,7.2 .6-5 .6,2.4 .6-.4 .6-5.2 .6,2.5 .6,5 .6-7.7 .6,6 .6-1.2 .6,2.5 .6,.1 .6,.5 .6-2.5 .6,.6 .6-3.1 .6,.5 .6,4.8 .6-5 .6,5.4 .6-.1 .6-5.9 .6,4.5 .6-4.6 .6,3.8 .6-3.6 .6,3.6 .6-.5 .6-4 .6,10.2 .6-3.6 .6-8.4 .6,6.4 .6-2.6 .6,8.2 .6-6.9 .6,1.4 .6-1.8 .6,2.6 .6-3.8 .6-1.2 .6,1.3 .6,.3 .6,3.4 .6-1.8 .6-1.7 .6,.1 .6-1.7 .6,3.5 .6-7.1 .6,5.9 .6,4.7 .6-5.1 .6-1 .6,2.3 .6-3.2 .6,.6 .6,4.8 .6-4.3 .6,8.6 .6-4.7 .6-2 .6-1.7 .6,1.3 .6-6.6 .6,8.4 .6,2.2 .6-1 .6-3.2 .6,3.5 .6,.1 .6-2.4 .6,1.6 .6,2.4 .6-1.8 .6-2.7 .6,1.4 .6,.5 .6-5.7 .6,5.8 .6-.8 .6-6.6 .6,1.6 .6,11.6 .6-5.5 .6,4.1 .6-5.6 .6,6.4 .6-3.1 .6-4.1 .6,3.2 .6,4.3 .6,2.7 .6-6.1 .6-3.2 .6-1.3 .6,5.1 .6,1.3 .6-3.2 .6-.8 .6,3 .6-1.2 .6-.4 .6-6.4 .6,3.8 .6,7.1 .6-6.4 .6,7.5 .6-6.9 .6-2.6 .6,.9 .6-.4 .6-4.6 .6-.1 .6-3.5 .6-.8 .6-4.5 .6-1.5 .6-1.2 .6,1.3 .6,3.2 .6,1.7 .6,3.3 .6,3.1 .6,2.5 .6-3.9 .6,4 .6,3.1 .6-3.8 .6-1.8 .6,2.1 .6,7.7 .6-5.2 .6,5.1 .6-6.1 .6,5 .6-8.7 .6,3.9 .6,1.1 .6,5.4 .6-4.3 .6,2 .6-5.2 .6-.1 .6,5.5 .6,.4 .6-.8 .6-.3 .6-5.8 .6,8.7 .6-6.8 .6,3.5 .6-1.9 .6-8.5 .6-.8 .6,1 .6,4.9 .6,3.6 .6-4.7 .6,3.3 .6-6.9 .6,1.7 .6-1.1 .6,2.4 .6-3.7 .6,2.1 .6,.4 .6-2.9 .6-1.6 .6-.6 .6-1.4 .6-.2 .6,1.8 .6,.6 .6-1.2 .6,2.4 .6,2.3 .6,1.6 .6,.2 .6,1.3 .6-2.8 .6,0 .6-.9 .6,3.4 .6-1.5 .6,1 .6-3 .6-4.4 .6-1.8 .6-1 .6-.4 .6,.6 .6-.5 .6,.4 .6,3 .6,2.9 .6,1.4 .6,3.2 .6-3.4 .6-1.1 .6,.9 .6-3.1 .6,2.1 .6,6.5 .6,2.7 .6-2.7 .6-3.2 .6-1.8 .6,1.6 .6-7.1 .6,8.1 .6,.6 .6-3.1 .6,.5 .6-5.8 .6,8.1 .6,0 .6-11.9 .6,7.1 .6,2.9 .6,4.3 .6-8.6 .6,2.6 .6,4.8 .6-3.5 .6-2.5 .6-1 .6,1.3 .6-2.9 .6,5.7 .6-6.5 .6,4.5 .6,.9 .6,.7 .6-3.9 .6-.7 .6,.7 .6-1.2 .6,2.8 .6-4.5 .6,5.4 .6,1 .6-11.3 .6,.6 .6-6.1 .6,0 .6-4.8 .6-5 .6-4.1 .6-1.3 .6,1.7 .6,2.8 .6,2.8 .6,2.4 .6,4 .6,.8 .6,0 .6,1.9 .6,5.1 .6-.7 .6-.6 .6-4.5 .6-1.6 .6,5.5 .6-5.4 .6,.7 .6-6.9 .6-1.4 .6-5.2 .6-4.2 .6-2.2 .6,1.2 .6,1.6 .6,2.2 .6,3.8 .6-.2 .6,8.5 .6,1.2 .6-3.9 .6,2.6 .6-10.4 .6,10.9 .6-3 .6-2.8 .6-1.3 .6-6 .6-9.9 .6-7.9 .6-10.8 .6-14 .6-22.2 .6-25.1 .6-25.1 .6-26.2 .6-15.9 .6-6 .6,9.2 .6,21.8 .6,27 .6,25.7 .6,26 .6,12.4 .6,21.9 .6,7.1 .6,10.7 .6,8.3 .6-5 .6,2.1 .6,5.3 .6-2.6 .6,0 .6,7.8 .6,4.2 .6-4.9 .6,3.2 .6,8.7 .6-10.2 .6-2.9 .6-1.5 .6-1.6 .6-4 .6-2.3 .6-2.9 .6-.4 .6,1 .6,2.9 .6,2.9 .6,2.6 .6,4.8 .6,2.2 .6,3.6 .6,.5 .6,.1 .6,9 .6-5.5 .6,3.4 .6-7 .6,7 .6,.9 .6-2.2 .6-4.2 .6,7.3 .6-6.3 .6-2.6 .6-.1 .6,5.8 .6-1.7 .6,4.4 .6-.3 .6,2.5 .6-3.4 .6-.6 .6-.3 .6-2.5 .6-.1 .6,.4 .6,3.2 .6-3.6 .6,2.6 .6,3.9 .6-11.6 .6,5.1 .6-.4 .6,3.2 .6-4.9 .6,2.7 .6,9.8 .6-12.2 .6,4.2 .6,.9 .6-1.7 .6-3 .6,7.2 .6-9.7 .6,3.1 .6,2.3 .6-1.4 .6,5.9 .6-5.1 .6,7.3 .6-6.5 .6,4.9 .6-3.9 .6-2.4 .6-.4 .6,3.3 .6-5.1 .6,.4 .6-2.8 .6-3.3 .6,2 .6-2.2 .6-3 .6-.1 .6-.2 .6-.3 .6,1.7 .6,3.1 .6,1.4 .6-1.4 .6,3.2 .6-6.5 .6-3.8 .6-3 .6-.1 .6-1.5 .6,1.3 .6,2.2 .6,2.9 .6,3.3 .6,4 .6,2.4 .6,1.1 .6,2.8 .6-3.5 .6-1.2 .6,3.4 .6-6.3 .6,9.8 .6-.9 .6,.3 .6-5.2 .6,2.2 .6,1.9 .6-3.3 .6,0 .6,3.1 .6,1.3 .6-2.5 .6,5.8 .6,4.1 .6-5.3 .6-2.4 .6-.3 .6,6.5 .6-4.2 .6,1.1 .6-1.1 .6-2.6 .6,7 .6-5.8 .6,1.3 .6-7.6 .6,14.4 .6-4.7 .6-2.8 .6-2.2 .6,.6 .6-3.6 .6,7.2 .6-4.4 .6,4.3 .6,.1 .6,4.9 .6-5.7 .6,.3 .6,.6 .6-3.7 .6,1.2 .6,1.8 .6,2.4 .6-1.5 .6-3.3 .6,3.6 .6-4.7 .6-3 .6,5.1 .6-3.8 .6-1.8 .6-1.8 .6-.3 .6,.4 .6-1 .6,2 .6-.3 .6,2.5 .6,.2 .6,.4 .6,.9 .6,1.1 .6-1.8 .6,.1 .6,4.9 .6,3.1 .6-3.1 .6-.2 .6-3 .6,6.8 .6-.2 .6-7.2 .6,4.1 .6-1.3 .6-3.8 .6,10.3 .6-1.3 .6-2.9 .6,3.7 .6-6.4 .6,2.7 .6,3.6 .6-5.5 .6,2 .6-4.2 .6,5.4 .6,1.7 .6-7.1 .6,.6 .6,2.4 .6,4.8 .6-6.3 .6-1.1 .6,2.4 .6,4.1 .6-8.9 .6,4.5 .6,4.8 .6-4.5 .6-.9 .6,3.7 .6-6.9 .6,10.7 .6-5.3 .6-2.9 .6,1.4 .6-.7 .6-.9 .6-3.1 .6,2.9 .6-4.7 .6,8.5 .6-7.2 .6,.5 .6-.8 .6,1.8 .6-2.6 .6,.5 .6-3.1 .6-.6 .6-.8 .6-.1 .6,1.5 .6,1.3 .6,1.6 .6-2.5 .6,3.6 .6-2.2 .6,.2 .6-1.5 .6,2.4 .6,4.6 .6,2.7 .6,1.3 .6-8.4 .6,.9 .6,2.7 .6-.3 .6,.2 .6-6.5 .6,5.1 .6,2.5 .6-1 .6-1.4 .6-2 .6,2.1 .6,5.5 .6-3.7 .6,1.8 .6,2 .6-9.1 .6,5.8 .6-.7 .6,2.8 .6-5.2 .6,0 .6-1.4 .6,2.7 .6-1.5 .6,.4 .6,1.6 .6-2.3 .6-1.8 .6,1.7 .6-.5 .6,3.2 .6,2.7 .6-5.2 .6-7 .6,10 .6-2.1 .6-2.9 .6,2.3 .6,6.9 .6-11 .6,1 .6,3.7 .6-10.1 .6,8.7 .6,4.8 .6-1.5 .6-.5 .6-2.4 .6,.6 .6,9.6 .6-8.3 .6,3.7 .6-8.7 .6,5 .6,.4 .6-.7 .6-7.7 .6,5.7 .6,6.2 .6-3 .6-4.5 .6,5.4 .6-9 .6,7.8 .6-.9 .6-3.1 .6-1.3 .6-1.8 .6,3.5 .6,3.9 .6-2.9 .6-1.7 .6-.3 .6-2.9 .6,.5 .6-3.6 .6,2.2 .6,.4 .6,1.1 .6,.8 .6,2 .6-1.4 .6,4 .6-2.2 .6,3.4 .6-1.7 .6,2.4 .6-1 .6-3.2 .6,2.6 .6-4.8 .6,4.5 .6,1.1 .6-2.1 .6,.4 .6,3.8 .6,.7 .6,.8 .6-6.6 .6,.5 .6,4.1 .6,.3 .6-8.9 .6,12.5 .6-2.7 .6-7.9 .6,7.9 .6-5.1 .6,.9 .6-2.8 .6,.6 .6,1.4 .6,1.6 .6-4 .6,3.5 .6-2.1 .6,.6 .6-1.2 .6,.9 .6,7.3 .6-10.6 .6,1 .6,4.1 .6-1.4 .6-1.8 .6,4.8 .6-5.2 .6,3.8 .6,3.2 .6-1.3 .6-2.8 .6,.9 .6,.6 .6,1.4 .6-5.1 .6,7.3 .6-1.7 .6,3.7 .6-3.4 .6,.6 .6-13.1 .6,8.3 .6,7.6 .6-4.9 .6-2.8 .6,3.8 .6-2 .6,1.1 .6-3.7 .6,4.1 .6,3.3 .6-4.3 .6,.7 .6-3.8 .6,3.9 .6-2.9 .6-3.1 .6,3.1 .6,.6 .6,2.6 .6,1.3 .6-3.8 .6-.6 .6,3.3 .6-5.1 .6,1.9 .6,.3 .6,.3 .6-1.4 .6,7.3 .6-2.2 .6-3.7 .6-4.2 .6,3.1 .6,3.6 .6-8.4 .6,14.7 .6-8.5 .6,.1 .6,2.3 .6-6.8 .6,4.9 .6-.2 .6,2.4 .6-5.7 .6,5.4 .6,1.9 .6-2.9 .6-2.8 .6-1 .6-3 .6,4 .6,3.5 .6,3.3 .6-1.5 .6,.6 .6-5.5 .6,.1 .6-3.6 .6,2.9 .6-1.6 .6,3 .6,3 .6-2.6 .6-.6 .6,3.3 .6,2.8 .6-1.4 .6-9.2 .6,11.4 .6-7.2 .6-3.3 .6,3.6 .6,4.5 .6-12.1 .6,13.2 .6-3.6 .6,1.1 .6-6.4 .6,2.7 .6-1.9 .6,7.7 .6-6.5 .6,3.8 .6-3.4 .6-3.3 .6,8.4 .6,1 .6,1.1 .6-6.9 .6,2 .6,2.1 .6-1.2 .6-.5 .6,7 .6-9.2 .6,4.2 .6-4.8 .6,6.2 .6-5.6 .6-2.6 .6,4.9 .6-2.7 .6-2 .6-.6 .6-2.2 .6,.3 .6-2.6 .6-1 .6-4.8 .6-.7 .6-1.8 .6-1 .6,3 .6-.3 .6,4.5 .6-.7 .6,5.3 .6,.7 .6,1.6 .6-3.2 .6,3.8 .6,6.3 .6-1 .6-1.8 .6,.1 .6-1.5 .6,7.1 .6-4.7 .6,3.8 .6-8.4 .6-.1 .6,9.8 .6-7.3 .6,2.3 .6,2.3 .6,1.6 .6-.9 .6-.2 .6,3.6 .6-4.5 .6,2.2 .6-2.8 .6,.5 .6,5.8 .6-7.1 .6-7.6 .6,8.7 .6,.5 .6,5.4 .6-7.3 .6-2.5 .6,4.2 .6,5.8 .6-7.3 .6,5.4 .6-2.5 .6,.5 .6-4.9 .6,3 .6-2.9 .6,2.7 .6-2.3 .6,6 .6-5.5 .6,1 .6-6.6 .6,4.1 .6,11.5 .6-9.5 .6-4 .6,5.3 .6-.7 .6-.9 .6,.7 .6-.6 .6,4.7 .6-7.1 .6,4.8 .6,2.1 .6-5.8 .6,10.5 .6-7.3 .6-.5 .6-1.5 .6,4.5 .6-8 .6,7.3 .6,5.5 .6-6.2 .6,1.7 .6-5.9 .6,5.7 .6-5.1 .6,1.1 .6,1.5 .6,6.4 .6-8.3 .6-4.5 .6,6.9 .6,2.2 .6-.4 .6-1.4 .6,3.8 .6-1.6 .6-.1 .6-4.2 .6-3.4 .6,10.2 .6-8.2 .6,7.2 .6-.4 .6-7.8 .6,1.8 .6,3.5 .6,1.9 .6-6.4 .6,2.2 .6-2.5 .6-.6 .6,4.4 .6-1.9 .6-5.2 .6,8.1 .6-2.6 .6-.1 .6-3.1 .6,6.8 .6-1.3 .6-.1 .6-1.2 .6,1.4 .6,4.1 .6-4.7 .6,.2 .6-2.3 .6,3.7 .6-3 .6-1.6 .6,6.2 .6-4.4 .6-2.3 .6,.5 .6,.5 .6-1.8 .6,8.2 .6-2.9 .6-6.3 .6,7.9 .6-5 .6,1.6 .6-2.1 .6,1.6 .6-.8 .6-.1 .6-1 .6-5.5 .6,1.8 .6-.4 .6-.6 .6-.9 .6,1.2 .6,1 .6-1.5 .6,2.2 .6,3.5 .6-2.3 .6,1.8 .6,.8 .6,1.8 .6,1 .6,1.3 .6-2.8 .6,.4 .6-1 .6,1.2 .6-1 .6,3 .6-.1 .6-6.9 .6-2.9 .6,8.9 .6-3.1 .6-3.4 .6,8.3 .6,1.9 .6-8.8 .6,.7 .6,.9 .6-.4 .6,2.2 .6-3.3 .6,3.7 .6-1.3 .6,4.8 .6-3.8 .6,3.3 .6,2 .6-3.2 .6,.4 .6-3.8 .6,1.7 .6,7.5 .6-3 .6-4.4 .6-1.4 .6,.8 .6,4.1 .6-10.4 .6,7.6 .6-5.2 .6,9.1 .6-9.5 .6,7.8 .6-4 .6,1 .6,5.5 .6-5.5 .6,2.3 .6-1 .6-5.1 .6,3.7 .6,3.4 .6-2.1 .6-.5 .6-3 .6,7.5 .6-7 .6,7.8 .6-5.3 .6,1.7 .6-7.1 .6,5.1 .6-3.5 .6,3.4 .6,3.8 .6-2.9 .6-.3 .6,2.4 .6-7.2 .6,4.3 .6-2.4 .6,5.7 .6-6 .6,7.7 .6,1.4 .6-13.8 .6,6.5 .6-4.8 .6,9.4 .6-7 .6,5 .6-1.1 .6-4.2 .6-1.9 .6,8.7 .6-5.7 .6,2.9 .6,3.8 .6-4.9 .6-.9 .6-2.4 .6,4.9 .6-4.3 .6-2.9 .6,3.7 .6-.2 .6-3.4 .6,4.6 .6,3.5 .6-.8 .6,4.8 .6-3 .6-2.9 .6-7.7 .6,7.5 .6,3.3 .6-5 .6,5.7 .6-7.9 .6,3.9 .6,1.9 .6,2.9 .6-5.9 .6,6.7 .6-7.8 .6-4.8 .6,5.6 .6,4.9 .6-5.8 .6,6.7 .6-6.3 .6,7.1 .6-13.9 .6,15.1 .6-14.7 .6,6.7 .6-3.9 .6,5.1 .6-1.9 .6-.3 .6,3.1 .6,1.1 .6-4.4 .6,5.3 .6-10.2 .6,2.3 .6-1.1 .6,6.2 .6,1.4 .6-4.6 .6-.7 .6-2 .6,6.3 .6,1.6 .6-5.8 .6,1.2 .6-.8 .6,1.2 .6,1.6 .6-9.1 .6,5.6 .6,4.4 .6-5.7 .6,7 .6,.4 .6-7.7 .6,.4 .6,6.5 .6-9.3 .6,1.8 .6-1.8 .6,4.7 .6,.8 .6,.1 .6-.8 .6-4.6 .6,6.4 .6-3.4 .6-1 .6,4.5 .6-3.9 .6,.1 .6,.7 .6,1.9 .6-4.2 .6,1 .6-5.6 .6,2.2 .6,5 .6-.2 .6-3.7 .6-1.2 .6-.8 .6,.4 .6,1.2 .6-1.9 .6,3.2 .6,.1 .6-2 .6,0 .6,.4 .6,1.6 .6,.8 .6,2.2 .6-5.8 .6,3.7 .6,1.2 .6,.9 .6,1.7 .6-3.6 .6,5 .6,3.4 .6-5.7 .6,3.6 .6-1.7 .6-1.7 .6-2.1 .6,1.6 .6,5.9 .6-6.5 .6-2.9 .6,1 .6,4.2 .6-4.7 .6,5.2 .6-.6 .6-1.7 .6,4.8 .6-10.1 .6,2.5 .6,1.3 .6,1.9 .6-6 .6,2.7 .6,6.3 .6-5.8 .6,4.4 .6-4 .6-1.8 .6,4.3 .6,2.7 .6-4.7 .6-4.3 .6,1.7 .6,1.1 .6,.6 .6-2.3 .6,5.5 .6-6 .6,6.9 .6-7 .6,.2 .6,7.1 .6-1.4 .6-3.6 .6-1 .6,1.3 .6,.8 .6,.7 .6,2.6 .6-6.4 .6,2.8 .6,.1 .6-4.9 .6,8.5 .6,1.6 .6-5.8 .6-6 .6,3 .6,5.8 .6-10.2 .6-.1 .6,4.8 .6,3 .6,.9 .6,.1 .6-11.3 .6,5 .6-2 .6-1.2 .6,2.6 .6-3.3 .6-5 .6-1.8 .6-3.7 .6-2.8 .6-4.4 .6-.9 .6-.4 .6,2.8 .6,2.9 .6,4 .6,3.2 .6,5.9 .6-1.6 .6,1.4 .6,2.4 .6,4 .6,1.8 .6-1.7 .6-1.5 .6,1.2 .6-.7 .6,4.1 .6-1.5 .6,.9 .6-.4 .6,.1 .6,3.6 .6-5.2 .6,3 .6,.1 .6-3.8 .6,7.7 .6-4.5 .6-4.4 .6,6.8 .6-1.3 .6,.5 .6-2.9 .6-.5 .6,1.7 .6-4.9 .6,5 .6-.3 .6,2.7 .6-3.5 .6,2.6 .6-6.5 .6,2.2 .6,5 .6,2.3 .6-1.8 .6-7.7 .6,1.5 .6,1.5 .6,6 .6-5.9 .6,2.8 .6,.8 .6,0 .6-1.8 .6,1.6 .6,1.7 .6-2.1 .6-.6 .6,2.8 .6,2.4 .6,3.1 .6-11.5 .6,4.6 .6-.4 .6-3.8 .6,2.7 .6-1.2 .6-.9 .6,1.3 .6,4 .6-5.1 .6,1.6 .6,1.2 .6-2.5 .6-.6 .6-1 .6,2.5 .6,6 .6-8.4 .6,6.6 .6-4.5 .6-.1 .6,3.8 .6-.7 .6-.1 .6-1.5 .6,1.3 .6-2.8 .6,1.3 .6,.5 .6-1.6 .6-1.2 .6,2.9 .6-2.3 .6-.8 .6,2 .6,.9 .6-.4 .6-1.7 .6,2.1 .6,.8 .6,1.1 .6-2.7 .6,.6 .6,3.1 .6,.2 .6,1.4 .6,2.1 .6-5.4 .6,.8 .6,1.7 .6,5.8 .6-4.3 .6,3.6 .6-9.3 .6,7.8 .6,2.3 .6,1.8 .6-6.3 .6,8.7 .6-8.7 .6,7.5 .6,1 .6-5.5 .6-3.9 .6,11.6 .6-5.7 .6-5 .6,5.7 .6-4.9 .6,4.1 .6-4 .6-3.7 .6,9.8 .6-4.4 .6,2 .6,.9 .6-.8 .6-1.6 .6,3.6 .6,1 .6-1.1 .6-1.8 .6,1.5 .6,4.9 .6-.8 .6-4.6 .6,3 .6,.1 .6,.2 .6-1.6 .6,1.6 .6-2.5 .6,3.5 .6-.4 .6,.6 .6,.1 .6-.2 .6-4.2 .6-1.1 .6,4.4 .6-1.6 .6,3.8 .6-4.3 .6,.7 .6-2.8 .6,4.2 .6-.8 .6,5.2 .6-3.4 .6,4.5 .6-6.9 .6-2.5 .6,8.8 .6-1.7 .6,3.6 .6-7.1 .6-3.3 .6,11 .6-4 .6-2.7 .6,9.1 .6-6.6 .6-2.7 .6,4.1 .6-2.8 .6-.8 .6,4.2 .6-1.1 .6-.5 .6,.4 .6-3.9"/>
<path stroke="#2ca02c" d="M187.6,975.7l.4,3.4 .4-2.2 .4,2.9 .4,2.3 .4-3.7 .4-.4 .4-.2 .4,1.3 .4,2.7 .4-1.5 .4,2.9 .4-3.3 .4,4.8 .4-3.6 .4,.7 .4,.5 .4-.4 .4,.4 .4,1.6 .4-1.2 .4,1.2 .4-2.2 .4,.1 .4-1.1 .4,4.3 .4-3 .4,2.6 .4-.6 .4,.1 .4-.7 .4,1.6 .4-.2 .4,2.3 .4-3.7 .4-.3 .4-1.6 .4,6.6 .4-5.6 .4,2.9 .4-.1 .4-3.9 .4,1.1 .4,2.6 .4-1.4 .4-2.6 .4,2.7 .4,2.7 .4-2.3 .4,.4 .4,1.3 .4,1.7 .4-4.2 .4-1.3 .4,1 .4-.8 .4-1.8 .4,2.3 .4-1.7 .4,4.3 .4-2.7 .4-5 .4,3 .4,2.7 .4-1.9 .4-.6 .4,.4 .4-.6 .4,2.8 .4-2.2 .4-1 .4,3.4 .4-4.1 .4,2.7 .4-2.4 .4,1 .4-.2 .4-1.3 .4,1 .4,4 .4-5.2 .4,6.1 .4-2.4 .4,1.4 .4-4.1 .4,3 .4-1.8 .4,3.6 .4-5 .4,3.3 .4-3.7 .4,3.9 .4-3.6 .4-1.5 .4-.6 .4,1.5 .4,4.2 .4-5.8 .4,1.1 .4,1.2 .4,.2 .4,.4 .4,2.6 .4-3.6 .4-2.5 .4,4.3 .4-2.4 .4,.4 .4,.6 .4,2.9 .4-.7 .4-2.4 .4-.9 .4,1.6 .4-2.5 .4-2 .4,2.1 .4,3.3 .4-3.4 .4,.3 .4,3.9 .4,0 .4,0 .4-4.5 .4,2.5 .4,1.7 .4-.7 .4-2.9 .4,.3 .4-1.1 .4,.4 .4,1.8 .4-.1 .4-2.5 .4,3 .4-.9 .4,2.1 .4-3.7 .4,1.5 .4-4.9 .4,6 .4-.5 .4,.6 .4-1.7 .4-.1 .4-.2 .4,2.6 .4-4.4 .4,1.7 .4,1.3 .4-1.9 .4-1.2 .4,1.3 .4,1.1 .4,2.5 .4-4.2 .4-3.3 .4,6.3 .4-2.1 .4,1.2 .4-1.4 .4,.1 .4-3.8 .4,4.9 .4-3.4 .4,3.5 .4-5.2 .4,6.1 .4-2.7 .4-4.3 .4,4.8 .4-.1 .4,0 .4-2.5 .4,6.6 .4-5.5 .4,3 .4-7 .4,6.1 .4-.2 .4-1.1 .4,2.5 .4-3.7 .4,2 .4-1 .4,.6 .4-2.5 .4,3.2 .4-.3 .4-.5 .4,0 .4-1.4 .4-.5 .4,.7 .4,1.2 .4-3.2 .4,2.2 .4,3.2 .4-1.7 .4-3.3 .4,4.3 .4-5.8 .4,2.9 .4,2.5 .4-.9 .4-.7 .4-2.7 .4-1.3 .4,4.2 .4-.5 .4,2.7 .4-4.5 .4-1.1 .4,1.1 .4-2.6 .4,2.8 .4,.5 .4-.3 .4,3.9 .4,.1 .4-4.4 .4-.5 .4,3.6 .4-.5 .4-4.6 .4,.9 .4-.1 .4-1.1 .4,1.4 .4-1.4 .4,3.9 .4-.6 .4-4.4 .4,2.1 .4,0 .4,3.9 .4-4.1 .4,3 .4,1.4 .4-5 .4,2.7 .4-.9 .4,1.5 .4-4.5 .4,1.9 .4-2.6 .4,4.6 .4-5.4 .4,4 .4-3.4 .4,1.6 .4-.2 .4,1.7 .4,.8 .4,1.2 .4,.4 .4-2.8 .4-2.3 .4,4.5 .4-5 .4,2.4 .4-1.5 .4,.1 .4,1.5 .4-2.7 .4,2 .4-.1 .4,2.2 .4,.1 .4-.8 .4-1.6 .4,3.3 .4-1.6 .4-4.6 .4,3.1 .4,.2 .4-2.7 .4,2 .4-1.2 .4-1.3 .4,1.8 .4-1.4 .4-1.3 .4,2.3 .4-3.8 .4,5.9 .4-3.1 .4,.7 .4,1.7 .4-.2 .4-2.6 .4,1.1 .4,1.2 .4,.8 .4-4.6 .4,2.1 .4-2.9 .4,.2 .4,1.5 .4-.4 .4-1.9 .4,.3 .4,1.4 .4-2.8 .4,3 .4-2.9 .4,5.1 .4-2.7 .4,1 .4-2.4 .4,2.8 .4-1.4 .4,.3 .4-1.4 .4,.8 .4-1.6 .4,1.2 .4-2 .4-.2 .4,.7 .4-.3 .4-.5 .4-1.6 .4,.8 .4,2.2 .4-1.8 .4,.2 .4-1.9 .4,3.6 .4-3.5 .4,1.3 .4-1.3 .4,2.2 .4-5.8 .4-1.3 .4,3.2 .4-4.6 .4,3.1 .4-.1 .4,.6 .4,1.6 .4-4.4 .4,3.5 .4,1.1 .4,.5 .4-5.8 .4,1.2 .4,4.3 .4-6.2 .4,4 .4-1.9 .4,.1 .4-4.9 .4,.2 .4,.7 .4,2.7 .4,.1 .4-3.6 .4,1.9 .4-.7 .4-2.5 .4-.7 .4-2 .4,1.2 .4,.3 .4,3.8 .4-1.1 .4-2.4 .4,.7 .4-2.7 .4-3.3 .4,4.9 .4,.3 .4-3 .4,3.7 .4-.6 .4-.7 .4-5.7 .4,3.6 .4,.9 .4-3.3 .4,.5 .4,2.6 .4,2.2 .4-2.7 .4-1.4 .4-1.7 .4-1.3 .4,.3 .4,2.3 .4-1.9 .4,3.6 .4-5.6 .4,.3 .4,2.1 .4,.4 .4-.3 .4-2.5 .4,.6 .4,3.2 .4-2.7 .4-.4 .4,2.2 .4-.6 .4-.9 .4,3.2 .4-6.2 .4,3.4 .4-2.1 .4,3.1 .4-4 .4,3.1 .4-2.2 .4,5.8 .4-4.7 .4,3.8 .4-5.8 .4,0 .4,1.9 .4-4.3 .4,1.5 .4,4.8 .4-.9 .4-2.7 .4,2.6 .4-1.3 .4-.1 .4-2.9 .4,3.8 .4-3.1 .4,4.1 .4-5.1 .4,7.1 .4-6.4 .4-1.4 .4,.5 .4,3 .4-.2 .4-2 .4,3 .4,2.4 .4-3.7 .4,1.3 .4,.3 .4,0 .4-5.2 .4,6.6 .4-3.1 .4,.4 .4,2.2 .4-7.7 .4,7 .4-.9 .4,2.8 .4-2.6 .4,2.1 .4-.5 .4-4.5 .4,2.3 .4-1.2 .4,1.3 .4-1.5 .4-1.3 .4,2.9 .4-.3 .4,1.6 .4,2.5 .4-4 .4,.3 .4,3 .4-.5 .4-5 .4,3.2 .4-3 .4,1.4 .4,.7 .4,.8 .4-.3 .4,1.1 .4,.3 .4,2.5 .4-1.5 .4-3.6 .4,4.9 .4-2.1 .4-2.9 .4,.4 .4,2.1 .4,.2 .4,.5 .4-3.7 .4,2.5 .4,4.8 .4-7.6 .4,.9 .4,2.8 .4,.5 .4-1.7 .4,1.5 .4-.4 .4-1.5 .4,1.7 .4-.5 .4,1.4 .4,.7 .4-3.1 .4,1.6 .4-1.8 .4,1.4 .4,1 .4,1.3 .4-3 .4,2.9 .4-1.4 .4-.3 .4,.1 .4-.6 .4,1.9 .4-3.1 .4,3.4 .4-1.9 .4,4 .4-3.8 .4,1.7 .4,.8 .4,.2 .4,1.6 .4,.2 .4-3.4 .4-.6 .4,3.8 .4-1.9 .4-1 .4,.3 .4,1.8 .4-.1 .4-5.8 .4,2.8 .4,.5 .4-.9 .4,4.3 .4,.3 .4-2.7 .4,3.2 .4-3.4 .4,3.4 .4-1.1 .4-1 .4,.6 .4-1.9 .4,3.3 .4-3 .4,1.9 .4-2.6 .4,.1 .4,1.8 .4,.1 .4,2.3 .4-2.9 .4,1.1 .4,.1 .4,3.2 .4-3.6 .4-2.5 .4-.7 .4,2.1 .4,.9 .4-2.5 .4,0 .4,.4 .4,1.8 .4,1.2 .4-2.6 .4-.2 .4,4.1 .4,1 .4-2.4 .4-2.3 .4,0 .4,2.5 .4-4.8 .4,.3 .4,5 .4-4.7 .4,1.3 .4,5.6 .4-5.1 .4,3.6 .4-3.2 .4-1.6 .4,3 .4-1.1 .4,1.9 .4-4.6 .4,3.9 .4-.5 .4,1.1 .4-1.1 .4-2.5 .4,4.6 .4-.9 .4,.1 .4-.7 .4-.5 .4-1.9 .4-2.4 .4,.4 .4,2.7 .4-4.2 .4,3.2 .4,2.9 .4-3.6 .4,5.6 .4-7.2 .4,4.6 .4-5.2 .4,4.5 .4,2.5 .4-3.9 .4-1.9 .4,.2 .4,3.5 .4,.3 .4-.9 .4-1.9 .4-1.2 .4,.4 .4-.4 .4-1.2 .4,5.3 .4,.3 .4,0 .4,.8 .4-4.8 .4-2.4 .4,4 .4-1 .4-1.8 .4,3.1 .4-1.8 .4,2.1 .4-.5 .4-2.6 .4,1.6 .4-1.1 .4,1.7 .4-.9 .4-1.8 .4,2.7 .4-1.4 .4,.1 .4,.5 .4,4.1 .4-3.7 .4-1.2 .4-.9 .4-2.1 .4,3.2 .4,0 .4-1.1 .4,2.5 .4-.7 .4,.5 .4-1.9 .4,3.5 .4-1.9 .4-2.5 .4,1.3 .4,1.9 .4-3.3 .4,3.8 .4-3.4 .4-2.9 .4,5 .4-2.4 .4,1 .4-.4 .4,2.3 .4-2.1 .4,1.7 .4-3.5 .4,1.8 .4-1.4 .4,1.1 .4,4.3 .4-5.9 .4,2.3 .4-1.5 .4,1.4 .4-2.5 .4,.5 .4-2.3 .4,5.7 .4-2.3 .4,.3 .4-3.1 .4,5.4 .4-.8 .4-2.9 .4,1.2 .4-1.1 .4,2.3 .4-6.2 .4,4.6 .4,.1 .4,1.1 .4-3.7 .4,.5 .4-.7 .4,3.9 .4-1.1 .4,1.3 .4-.6 .4-.3 .4-3.6 .4,1.8 .4,3 .4-2 .4-2.6 .4,.2 .4,.8 .4,.3 .4,.7 .4-.3 .4,.8 .4,1.2 .4-.9 .4-3.3 .4,6 .4-4.5 .4-.9 .4,3.4 .4,.5 .4-1.8 .4,1.5 .4-2.9 .4,0 .4-1.9 .4,4.2 .4-1.7 .4,2.8 .4-3.9 .4,2.8 .4-2 .4,3 .4-3.3 .4,2.7 .4-4.8 .4,1.2 .4-.3 .4,3 .4-6.1 .4,1.7 .4,2.7 .4-.6 .4,0 .4,.8 .4-1.3 .4,1.7 .4,1.2 .4-4.4 .4,4.2 .4-4 .4-1.1 .4,2.3 .4-.1 .4,.7 .4-2.8 .4,1.9 .4-1 .4,3.3 .4-2.1 .4-1.3 .4-.9 .4,2 .4,3.7 .4-7.1 .4,2 .4,3.7 .4-.5 .4-2.4 .4,.1 .4-.6 .4-.9 .4,1.2 .4,1.5 .4-.3 .4-3.6 .4,2.5 .4-.9 .4,3.6 .4-5 .4,.4 .4-.4 .4,9.6 .4-3.6 .4-3.8 .4,2.3 .4-5.2 .4,2.9 .4,4.9 .4-4.8 .4-2.3 .4,1.4 .4,0 .4,.9 .4,0 .4-.7 .4-2 .4,2.9 .4,0 .4-3.1 .4,4.3 .4-1.4 .4,3.7 .4-2.4 .4-2.3 .4-.4 .4,5.3 .4-1.2 .4-1.2 .4,.6 .4-4.4 .4,5 .4-2.5 .4,.2 .4,2.1 .4-.9 .4-4.1 .4,4.4 .4-1.7 .4,2.7 .4-1.9 .4,.9 .4-3.1 .4,.3 .4-.6 .4,2.9 .4-2.4 .4,1.2 .4,5 .4-2.4 .4,3.1 .4-6.2 .4-.2 .4,.9 .4,2.2 .4-2.9 .4,5.6 .4-5.7 .4,4.5 .4-4.7 .4,.3 .4,2.4 .4-.8 .4-.6 .4-.3 .4,1.5 .4-1.7 .4,4.8 .4-2.1 .4-.6 .4-2.9 .4,7.6 .4-5.1 .4-1.9 .4-.5 .4-3.3 .4,3.8 .4-2.8 .4,1 .4,5.6 .4-3.4 .4-.9 .4,5 .4-4.7 .4,5.5 .4-4.7 .4,1.4 .4-1.5 .4-.4 .4,1.6 .4,2.4 .4-2.6 .4-2.1 .4-1.5 .4,5.9 .4-3.8 .4-.7 .4,3.1 .4,.1 .4,.3 .4-2.4 .4-2.6 .4,4.9 .4-1.1 .4,0 .4-1.7 .4,2.9 .4-.9 .4,.4 .4,2 .4-2.9 .4-.2 .4,.1 .4-2.5 .4,2.5 .4,2.8 .4-.4 .4-2.6 .4-1.2 .4,3.4 .4-.7 .4,.3 .4,2.8 .4-3.3 .4,2.8 .4-1.5 .4,1.2 .4-3 .4,1.4 .4,.9 .4-.8 .4,.6 .4-.6 .4,4.3 .4-7.9 .4,6.2 .4-1.2 .4-2.3 .4,1.2 .4-1.6 .4,4.4 .4,.4 .4-.5 .4,2.7 .4-6.5 .4,1 .4,1.8 .4,2.5 .4-.3 .4-2.9 .4,2.4 .4,1.6 .4-4.3 .4,4.3 .4,.9 .4,.5 .4,.1 .4-2.5 .4-3.5 .4,1.7 .4,1.1 .4,1.5 .4,2.2 .4-1.3 .4,.8 .4,2.4 .4-5.8 .4,3.9 .4,1 .4,1.4 .4,2.1 .4-2.2 .4-4 .4,3.5 .4-2.7 .4,2.7 .4-1.9 .4,.4 .4,1.8 .4-1.7 .4,1.6 .4-.1 .4,1.3 .4-2 .4-1 .4-1.1 .4,4.7 .4,.4 .4-3.2 .4-1.5 .4,5.3 .4-1.2 .4,1.7 .4-1.4 .4,2.6 .4-1.6 .4-.8 .4,2.2 .4-4.1 .4,2.3 .4,.4 .4-.7 .4,1.4 .4-1.4 .4-2.4 .4,7.3 .4-3.8 .4-.4 .4-2.2 .4,3 .4-.3 .4-2.3 .4,5.2 .4-.3 .4-5.4 .4,5.3 .4-2.9 .4,3.1 .4-.4 .4,1.1 .4-.8 .4,2 .4-3.5 .4,.1 .4,.2 .4-.2 .4,5.3 .4-3.8 .4,2.3 .4-1.9 .4-.6 .4,2.2 .4-3.1 .4,2.8 .4,1.3 .4-2.2 .4,.2 .4-1 .4,2.3 .4,.6 .4,.3 .4-2.8 .4,1 .4-1.6 .4,2.5 .4,.7 .4-1 .4-.3 .4,1 .4-.1 .4,.4 .4-2.2 .4-.1 .4,.7 .4-.7 .4,2.5 .4,3.4 .4-3.6 .4-3.4 .4,1.8 .4-.3 .4,3 .4-.4 .4,3.1 .4-3.2 .4-.4 .4,2.9 .4-4.3 .4,1.9 .4,2.4 .4-1.6 .4,.4 .4-2.6 .4-1.1 .4,2.5 .4,2.7 .4-3 .4-1 .4-.8 .4,6.8 .4-6.7 .4,1.9 .4-1 .4,3.8 .4-4.7 .4,.7 .4,3.2 .4-3.5 .4,4.3 .4,1.4 .4-2.1 .4-5.2 .4,3.8 .4,.9 .4,3.2 .4,.4 .4-.9 .4-1.9 .4-.5 .4,.3 .4-1 .4,.5 .4-.3 .4,1.2 .4,2.6 .4-5.2 .4,6.5 .4-2.5 .4,.6 .4-1.8 .4,0 .4,2.6 .4-3.2 .4-1 .4,1.7 .4-1 .4,3.9 .4-2.4 .4,.8 .4-.9 .4-.1 .4,2.3 .4-1.6 .4,2.3 .4-6.6 .4,4.6 .4,.9 .4-1.9 .4-3.5 .4,3.5 .4-.5 .4,3.2 .4-.2 .4-.3 .4-1.6 .4,.3 .4-.2 .4,1.7 .4-2 .4,1.2 .4,.5 .4-1.9 .4,.5 .4-1.6 .4-.9 .4,.9 .4-.2 .4-1.6 .4,3.3 .4,1.4 .4,.1 .4,1.2 .4-3.4 .4,4.9 .4-5.2 .4,1.1 .4,2.3 .4-5.9 .4,4 .4-.1 .4,3.6 .4-5.5 .4,1.6 .4-5.2 .4,4.8 .4-3.1 .4,.5 .4,3.8 .4-2.6 .4-1.4 .4,4.1 .4-1.1 .4-1.2 .4-2.3 .4,1.6 .4-1.1 .4,2 .4-.2 .4,.5 .4-1.1 .4,.7 .4,2.4 .4-2.8 .4,2.7 .4-.2 .4,0 .4-5.1 .4,5.1 .4-1.3 .4,.6 .4-1.4 .4,0 .4-1.7 .4-.2 .4,3 .4-2.4 .4,.8 .4,2.8 .4,.8 .4-2.9 .4-3.7 .4,4.7 .4,1.2 .4-1.7 .4-.9 .4-1.5 .4,2.6 .4,5.1 .4-4.1 .4-1.9 .4-1.2 .4,2.7 .4-3.6 .4,1.7 .4,.5 .4,0 .4,1.3 .4-.9 .4-2.3 .4-1.8 .4,4.4 .4-5.5 .4,2.5 .4,6.9 .4-5.6 .4,4.3 .4-4.1 .4,2 .4,.6 .4,.9 .4-2.8 .4-1.7 .4,2.2 .4-3 .4,.1 .4,4.9 .4-3.7 .4,4.2 .4-.1 .4-4 .4,.8 .4,.4 .4,2.5 .4-2 .4,2.4 .4-2.4 .4,2.4 .4-2.7 .4,3.1 .4-1 .4,1.1 .4-.7 .4-5.3 .4,7.1 .4-3.5 .4-3.1 .4,1.6 .4-.6 .4,3.1 .4-2 .4,.8 .4,1.9 .4-5 .4,.1 .4,3.4 .4-3.4 .4,4.7 .4-4 .4,.4 .4,3.5 .4,1.6 .4-3.1 .4-.8 .4-1.9 .4,2.1 .4-.1 .4-1.3 .4,1.3 .4,2.7 .4-1.4 .4-5.3 .4,8.4 .4-1 .4-4.7 .4,5.1 .4-4.8 .4,3.5 .4-.7 .4-2.2 .4,2.7 .4-.4 .4,.2 .4-2.9 .4,4.1 .4-1.9 .4,3.3 .4-1 .4-.3 .4-3.4 .4,6.1 .4-3.2 .4-.7 .4-1 .4,1.1 .4,2.3 .4-6.2 .4,5 .4-3.4 .4,.7 .4,2.8 .4,.1 .4-1.5 .4,1.2 .4,2.3 .4-2.7 .4-2.4 .4,1.5 .4,0 .4,3.5 .4-3.6 .4-2.6 .4,.7 .4,5 .4-1.4 .4-3.3 .4-.6 .4,4.3 .4-4.1 .4,1.9 .4,2 .4-.4 .4-3.2 .4,2.8 .4-4.3 .4,3.4 .4-1.8 .4-2.7 .4,5.7 .4-3.1 .4,.8 .4-2.1 .4,4.5 .4-3.1 .4-3.6 .4,1.3 .4-2.9 .4-1.3 .4-4.6 .4-.4 .4-2.4 .4-.9 .4-.9 .4,.2 .4-.1 .4,1.9 .4,1.1 .4,3.3 .4,1.4 .4,2.1 .4,2 .4,1.1 .4-.9 .4,1.9 .4-2.6 .4,2.8 .4,.5 .4,.5 .4,1.4 .4-.5 .4,3.5 .4-1.4 .4-1.6 .4-.7 .4-.4 .4,3.5 .4-3.9 .4,3.4 .4-4 .4,2 .4-2.4 .4,3.5 .4-.6 .4-1.4 .4-2.3 .4-2.3 .4,4.3 .4,3.1 .4-4.1 .4,2.3 .4-2.4 .4,3.1 .4-3.2 .4,4.3 .4-4.5 .4,1.2 .4,3.9 .4-2.9 .4-.5 .4-.6 .4,1 .4-2.9 .4-.4 .4,5.1 .4-3.1 .4,.3 .4-.5 .4,.1 .4,2 .4-2.1 .4-.7 .4-1.2 .4,1.5 .4,1.7 .4-3.4 .4,.1 .4,2.9 .4-2 .4,1.4 .4-4.2 .4,.3 .4-.7 .4,2 .4-3.3 .4,2.3 .4-1.4 .4-.1 .4-.6 .4-.9 .4-3 .4,1.1 .4-.4 .4-1 .4,.5 .4,.3 .4,.7 .4-.5 .4,2.6 .4-1.6 .4,2.4 .4,.8 .4,.5 .4,.2 .4,2.1 .4-1 .4-.3 .4,1.5 .4-4.9 .4,1.8 .4-1.5 .4-.3 .4,3.4 .4-1.8 .4,1.4 .4-2 .4-4.8 .4,2 .4-1 .4-1.1 .4,.2 .4-1.9 .4,0 .4-.6 .4,.2 .4,.3 .4,1.9 .4,.2 .4,.2 .4,1.8 .4-.8 .4,3.9 .4-2.7 .4,1.1 .4,1.8 .4-1.8 .4,4.6 .4-2.5 .4,.4 .4,0 .4-.1 .4,.3 .4,3.7 .4-4.3 .4-1.6 .4,4.6 .4-.6 .4-2.8 .4-.1 .4,3.5 .4-2.3 .4-.5 .4-.2 .4-1 .4,2.5 .4-4 .4,.3 .4-1.3 .4,2.3 .4-1.1 .4,2.8 .4-2.1 .4,1 .4,1.6 .4-1.2 .4-1.6 .4,.2 .4-.6 .4,1.6 .4-.1 .4,2.4 .4-1.3 .4-.8 .4-2.2 .4,1.8 .4-2.9 .4-1.9 .4,4.6 .4,.5 .4-8.3 .4,8.3 .4-5.6 .4,1.1 .4,2.8 .4-1.6 .4,.1 .4-2.2 .4,4.4 .4-3 .4-.3 .4,3.5 .4-3.5 .4,.9 .4,.1 .4-1.9 .4-3 .4,3.2 .4-2.9 .4,2.9 .4-1.3 .4-7.9 .4,6.6 .4-6.4 .4,.1 .4-2.1 .4-3.1 .4-2.4 .4-2.4 .4-3.3 .4-2.6 .4-1.4 .4-.5 .4,.6 .4,1.7 .4,2.1 .4,3.2 .4,1.4 .4,1.8 .4,4.6 .4,0 .4,3.5 .4-.5 .4-.8 .4,2.7 .4,3.1 .4-4.8 .4,.9 .4-2.5 .4,3.2 .4-1.2 .4,3.4 .4-8.4 .4,3.5 .4-2 .4-1 .4-3 .4-1.8 .4-3.2 .4-2.6 .4-2 .4-4.2 .4-.7 .4-1.9 .4-.1 .4,1.2 .4,1.6 .4,1.7 .4,2 .4,1 .4,3.2 .4,1.3 .4,.9 .4,.1 .4,2.1 .4,1.4 .4-1.9 .4-1.9 .4,3.5 .4-3.5 .4-.1 .4-.5 .4-1.6 .4-2.8 .4-1.6 .4-1.3 .4-4.2 .4-3.3 .4-4.4 .4-6.6 .4-11.7 .4-9.6 .4-11.8 .4-13.9 .4-15.2 .4-17.4 .4-18.7 .4-16.8 .4-14.1 .4-10.6 .4-5 .4,1.5 .4,8.2 .4,12.5 .4,16.1 .4,18.3 .4,19.8 .4,15.4 .4,13.6 .4,12.7 .4,11.5 .4,9.2 .4,10.9 .4,2.4 .4,7.7 .4,2.1 .4,4.8 .4,4 .4,.1 .4,1.7 .4-.5 .4,1.3 .4,5.5 .4-3.6 .4,1.5 .4-1.5 .4,3.6 .4-2.3 .4,2.4 .4-1.1 .4-.6 .4,1.5 .4,.2 .4-3.6 .4,1.8 .4-2.4 .4-1 .4-1.8 .4-3.3 .4-2 .4-1.7 .4-1.2 .4-1.9 .4,1.4 .4,.6 .4,1.3 .4,3 .4,2 .4,4.7 .4,.3 .4,1.8 .4,2 .4,.7 .4,2.8 .4,1.7 .4,.1 .4-1.2 .4,3.8 .4-1.5 .4,.1 .4,2.9 .4-1.5 .4-5.5 .4,6.7 .4-4.6 .4,1.5 .4,1.8 .4,1.2 .4,.5 .4-1.4 .4,2.6 .4-.7 .4-1.3 .4-2.4 .4,4.3 .4-3.3 .4,.8 .4,.7 .4-.2 .4-3.1 .4,4.5 .4-1.7 .4,.5 .4,2.9 .4,2.2 .4-2.9 .4-2 .4,.3 .4,3.6 .4-2.2 .4-2.3 .4,6.8 .4-2.8 .4-2.8 .4,0 .4-1.9 .4-1 .4,4.5 .4-2 .4,4.3 .4-3.9 .4,1 .4,2 .4-4.5 .4,3.7 .4-4.2 .4,8 .4-7.4 .4,.9 .4,6.6 .4-5.8 .4,2.3 .4-1.6 .4-4.4 .4,4.7 .4-2.1 .4,5.4 .4-5.8 .4,5.6 .4-4.2 .4,1.5 .4,4.3 .4-6 .4,0 .4,2 .4-3.5 .4,3.7 .4,0 .4-1.8 .4-3.7 .4-1.1 .4,2.8 .4,.6 .4-3.8 .4,3.7 .4,.3 .4-.4 .4,1.5 .4-3.4 .4,.4 .4-2.3 .4,.9 .4-2.4 .4-1.3 .4-1.1 .4-2.4 .4,.2 .4-1.3 .4-.2 .4,.2 .4,1.7 .4-.2 .4,.5 .4,1.1 .4,.4 .4,.1 .4,.5 .4,.6 .4-3.4 .4,.4 .4-2 .4-1.5 .4-1.4 .4-2.2 .4-2 .4,.5 .4,.3 .4,1.1 .4,1.2 .4,3.3 .4,1 .4,1.4 .4,4.6 .4-3.4 .4,5.3 .4,1 .4-.4 .4-.1 .4,4.6 .4,.1 .4,1.2 .4-2.7 .4,0 .4,.3 .4-2.4 .4,5.5 .4-.1 .4-.8 .4-4.1 .4,2.5 .4,1.2 .4,.5 .4-2.5 .4,3 .4,2.2 .4-5.8 .4,1.6 .4-1.7 .4-.2 .4,1.8 .4,2 .4,.5 .4-1.2 .4,2.4 .4-.6 .4-2.1 .4,2.2 .4-1 .4,.1 .4-2.3 .4,3.5 .4-2.6 .4,4.4 .4-3.2 .4,2 .4-2.3 .4-2.5 .4,3.7 .4-2.4 .4,2 .4-.7 .4,5 .4-4.6 .4,.4 .4-.2 .4,3.7 .4-2.9 .4-.3 .4,3.4 .4-.6 .4-3.2 .4-2.7 .4,4.6 .4-1.5 .4-1.5 .4,2.6 .4-.5 .4-2.8 .4,3.9 .4-.8 .4,2 .4-3.1 .4,3.2 .4-2.8 .4-.3 .4,.5 .4,.8 .4-3 .4,4.1 .4-1.9 .4,1 .4-1.6 .4,.2 .4-.7 .4-2.8 .4-.5 .4,1 .4,2.1 .4-4 .4,.6 .4-.4 .4-1.8 .4-.3 .4-1 .4,.2 .4-.7 .4-.7 .4,.6 .4,.1 .4,1.2 .4,.5 .4,.6 .4,2.8 .4,0 .4,.9 .4,1.5 .4,1 .4-.9 .4-3 .4,5.1 .4-.7 .4-4.1 .4,2.9 .4-1.2 .4-.1 .4,4.1 .4-3.1 .4,1.1 .4-1 .4,3.7 .4-5.1 .4,2.6 .4,2.1 .4-1.8 .4-1.6 .4-1.5 .4,5.6 .4-1.1 .4-.5 .4-.7 .4,1.7 .4-.5 .4-4.1 .4,2.9 .4,2.1 .4,.9 .4-7.6 .4,6.2 .4,1.8 .4-2.2 .4,2.1 .4-3.6 .4,1 .4-1 .4-.3 .4,2.3 .4-1.7 .4,2.3 .4-.9 .4-3.3 .4,4.1 .4-6.7 .4,4 .4-.6 .4-.9 .4,2.6 .4,2.3 .4-1.1 .4-1 .4-3.2 .4,3.6 .4-2.2 .4,0 .4,1.7 .4-2.2 .4,0 .4,2.1 .4-1.9 .4,2.8 .4-4.4 .4,4.2 .4-.3 .4-1.1 .4-2.4 .4,3.6 .4-3.1 .4,3.4 .4-1.3 .4-3 .4,2.5 .4,.3 .4-.4 .4-1.3 .4-.3 .4,2.2 .4-2.8 .4-.1 .4-1.3 .4-2.4 .4,1.1 .4-1.5 .4-.7 .4-1 .4-.9 .4-.5 .4-.4 .4,.4 .4-.2 .4,.5 .4,.3 .4,1.8 .4,0 .4,.9 .4,1.1 .4-.8 .4,1.6 .4,1.3 .4,2.5 .4-2.5 .4-.3 .4,1.1 .4-1 .4-2 .4,2.2 .4-.2 .4,1.3 .4-6.2 .4,5.9 .4-.4 .4,.5 .4-1.2 .4,.9 .4-3.4 .4,1.9 .4-.7 .4,4.3 .4-1.3 .4-2.3 .4-2.4 .4,3.7 .4,.8 .4-3.2 .4,2.3 .4-.7 .4,1.5 .4-.7 .4-1.3 .4,.4 .4,3.4 .4-1.2 .4,1 .4-2.1 .4,.1 .4,2.3 .4-3.8 .4,1.1 .4,.3 .4-3.2 .4,6.9 .4-7.7 .4,.5 .4,1 .4,2.3 .4,1.3 .4,1.7 .4-2 .4-2.9 .4,2.5 .4-4.2 .4,6.3 .4-3.4 .4-4.5 .4,4.6 .4,1 .4-3.4 .4,1.4 .4,.3 .4,.8 .4-2.6 .4,3.9 .4-2 .4-4 .4,2.4 .4,4.8 .4,.9 .4-2.1 .4-1.2 .4-1.2 .4-2 .4,.1 .4,6 .4-7.9 .4,5.3 .4,3.3 .4-2.5 .4-3.9 .4,2.2 .4,1.8 .4-3.2 .4,1.3 .4,2.6 .4-4 .4,2 .4,1 .4-.6 .4-.1 .4,1.4 .4,.5 .4,.6 .4,.1 .4-1.6 .4-2.2 .4-.7 .4,3.5 .4-3 .4-1.7 .4,2.7 .4-1.5 .4,1 .4-2.9 .4,2.1 .4,3.3 .4-2 .4-2.6 .4,.8 .4,2.5 .4-1.4 .4,.3 .4-3.3 .4,2.3 .4-.8 .4-.3 .4,2.3 .4-3.4 .4-.6 .4-.1 .4-1.6 .4,0 .4-.8 .4,.4 .4-.5 .4-.8 .4,.9 .4-.1 .4-.2 .4,1.7 .4,2.1 .4-3.5 .4,3.3 .4,2.5 .4,.1 .4,1.2 .4,1.4 .4-2 .4,2.4 .4,0 .4-3 .4-1.9 .4,7.4 .4-1.8 .4-2.4 .4-1.5 .4-1.4 .4,3.6 .4-1.1 .4-1 .4,.8 .4,1.8 .4-.7 .4,.5 .4-3.4 .4,6 .4-2.2 .4-.7 .4,.4 .4-2.3 .4,2.3 .4-.5 .4-.1 .4,3.1 .4-1.5 .4-2.8 .4-1.3 .4,3.4 .4-2.4 .4,1.1 .4-.3 .4-2.7 .4,4.5 .4-1.9 .4-.9 .4,1.9 .4-1 .4-.9 .4-4 .4,5.6 .4,2.5 .4-2.4 .4,0 .4-.3 .4-.7 .4-2 .4,8.4 .4-5.3 .4-.4 .4,1.3 .4,3.5 .4-8.4 .4,4.9 .4-3.9 .4,1.5 .4,1.1 .4-.9 .4,1.1 .4-1.6 .4,6.9 .4-7 .4-2.1 .4,4 .4,.1 .4-3.4 .4,5.1 .4-2.6 .4,2.6 .4-.9 .4,2 .4-2.7 .4-2.1 .4,.7 .4,1.1 .4-.9 .4,0 .4,1.8 .4-.7 .4-.8 .4-1.9 .4-.2 .4,3 .4,1.7 .4-.7 .4-4.7 .4,3 .4,.5 .4,1.3 .4-.8 .4-2.1 .4-1 .4,.9 .4,.9 .4-.9 .4,4.5 .4,.8 .4-4.7 .4,.1 .4-2.9 .4,6.2 .4-1.3 .4,.4 .4-2.6 .4,.1 .4-.1 .4,.6 .4,1.6 .4,.7 .4-2.9 .4-1.5 .4,4.8 .4-7.3 .4,5.3 .4-2.3 .4,1.5 .4-2.5 .4,1.1 .4,1.9 .4-1.5 .4,2.5 .4-4.5 .4,2.6 .4,.9 .4,.6 .4,1.1 .4,.2 .4,3.9 .4-3.6 .4-3.1 .4,4.2 .4,.7 .4-4.9 .4,2.1 .4,.2 .4-3.3 .4,2.4 .4-3.2 .4-.7 .4,5.6 .4-.4 .4,1.8 .4-5.8 .4,1.2 .4-.8 .4,1 .4-2.4 .4-1.4 .4,7.6 .4-3 .4-2.3 .4,1.6 .4,2.3 .4-3 .4,1.9 .4,0 .4,.6 .4,.1 .4-3.5 .4,1.8 .4,.8 .4,0 .4-1.4 .4-2.8 .4,3.9 .4-1.1 .4,1 .4-.1 .4-.3 .4-1.5 .4,.2 .4,0 .4,2.7 .4-2.1 .4,.2 .4,1.2 .4-.3 .4-1.6 .4,2.7 .4-1.5 .4,1.2 .4-3.4 .4,.4 .4,6.6 .4-2.4 .4-2 .4-.6 .4,4.8 .4-5.4 .4,2.5 .4-1.1 .4-2.4 .4,5.9 .4-4.1 .4,1.7 .4-1.9 .4,2.3 .4,.5 .4-4.5 .4,1.4 .4,5.5 .4-3.7 .4-2.7 .4,4.9 .4-1.4 .4,.1 .4-3.3 .4,3.4 .4-1.2 .4,1.2 .4-.6 .4-1 .4-.5 .4,1.8 .4,1.1 .4-3.7 .4,1.4 .4,4.1 .4-4.2 .4,2.3 .4,.8 .4-4 .4-.9 .4,.1 .4,1.6 .4,1.1 .4-.3 .4,.1 .4-6.5 .4,3 .4,4.9 .4-5.2 .4-.1 .4,1.9 .4,1.3 .4-.1 .4-6.1 .4,1 .4-.1 .4,.6 .4-1.2 .4-2.1 .4,.2 .4-.7 .4-2.5 .4-1.2 .4-2.4 .4-1.7 .4-1.2 .4,.2 .4-1.1 .4,.4 .4,1.5 .4,1.1 .4,1.3 .4,2.6 .4,1.1 .4-.1 .4,2.7 .4,2.9 .4,1.5 .4,1 .4-1 .4-.5 .4-1.3 .4,3.5 .4,1.6 .4-1.9 .4,2.1 .4,3.2 .4-2.8 .4,.9 .4-1.6 .4-.1 .4,4.5 .4-4.7 .4-1.5 .4,1.6 .4,.1 .4,3.8 .4-2.5 .4,1.3 .4-1.4 .4-2.3 .4,.3 .4,3.2 .4-.8 .4-1.6 .4,1.5 .4-2.4 .4,3 .4-1.4 .4,3.2 .4-1.8 .4,.3 .4-1.6 .4,.2 .4,.6 .4-.3 .4-1.2 .4-.6 .4,2.5 .4-.7 .4-4 .4,3.4 .4,.3 .4,.6 .4-.3 .4,.5 .4,1.4 .4-.4 .4-2.2 .4,2.7 .4-2 .4-.8 .4,4.4 .4-3.9 .4,1.4 .4-2.7 .4,2.9 .4-4.4 .4,.7 .4,1.9 .4,1.4 .4-.9 .4,2.7 .4-.6 .4,0 .4,.2 .4,1.7 .4-.1 .4-3.7 .4,2.3 .4-1.2 .4,.2 .4,0 .4,.7 .4-5.4 .4,4.5 .4,1.2 .4-1 .4-3 .4,4 .4-.2 .4-.1 .4-3.4 .4,6 .4-3.9 .4-1.1 .4,.9 .4,2.7 .4-4.8 .4,.9 .4,2.4 .4-.1 .4-2.4 .4,.9 .4,2 .4,4.2 .4-1.7 .4-8.6 .4,5.9 .4-2.3 .4,2.3 .4,.4 .4-2 .4,1 .4-.4 .4,.4 .4,1 .4-.6 .4-.5 .4,3.1 .4-1.8 .4-1.2 .4-.3 .4,1.1 .4,2.6 .4-1.9 .4,2.6 .4-5.5 .4,1.4 .4-1.1 .4-.8 .4,4 .4-.4 .4,.3 .4,.9 .4-4.3 .4,1 .4,.9 .4-3 .4,1.7 .4,1.7 .4,1.1 .4-1.1 .4-.8 .4-1.8 .4,.8 .4,2.3 .4-.1 .4-.2 .4,1.5 .4,1 .4-3.2 .4,1.2 .4-.4 .4,.6 .4-.6 .4-2.9 .4,1 .4,.8 .4-.4 .4,.2 .4-1.7 .4,.6 .4,1 .4,1.7 .4-.8 .4,.6 .4-1.7 .4-.9 .4,3.4 .4,.3 .4,.1 .4-3.8 .4-.8 .4,5.1 .4-1.5 .4-1.1 .4-1 .4-2.8 .4,6 .4-2.2 .4,1.8 .4,1 .4-4.4 .4-1.5 .4,3.2 .4,.2 .4-2.8 .4-.1 .4-1.6 .4,5.3 .4,.5 .4-2.1 .4,1.1 .4-2.5 .4-.4 .4,1.7 .4-1.4 .4,1.8 .4,1.2 .4-2.6 .4,1.8 .4,.5 .4-2.6 .4,.6 .4,.1 .4,0 .4-.5 .4-.1 .4-1.3 .4,.7 .4-1.4 .4,.8 .4-2.3 .4-.7 .4,.1 .4-.8 .4,0 .4-.6 .4,1.2 .4-1.3 .4,.6 .4,.8 .4-.7 .4,2.6 .4,1.6 .4-2.3 .4,.6 .4,2.1 .4,.5 .4,.2 .4-1.2 .4,0 .4,.9 .4,.3 .4,1.2 .4-.6 .4,2.5 .4-1.6 .4-.7 .4,1.6 .4,0 .4-.8 .4-1.7 .4,1.6 .4,0 .4,1.3 .4-.5 .4,.9 .4-1.1 .4,1.1 .4-1.2 .4-.4 .4-.9 .4,1.8 .4-.9 .4-.3 .4,.8 .4,.7 .4-2.6 .4-2.4 .4,1.5 .4,2.4 .4-.5 .4,.2 .4-1.3 .4-2.3 .4,6.8 .4-4.7 .4,.5 .4,3.8 .4-2.2 .4,1.4 .4-2.3 .4,1.2 .4,.4 .4-3.5 .4,4.9 .4-3.6 .4-.2 .4,3.9 .4-.5 .4-1.8 .4,3.3 .4-6.2 .4,0 .4,6.7 .4-5.1 .4,.9 .4,2.1 .4-.3 .4,.1 .4,.8 .4-3.3 .4-.1 .4,2.1 .4,1.1 .4-2 .4-3.6 .4,2.3 .4-.6 .4,4.5 .4-2.5 .4-.4 .4-.6 .4,.4 .4-2.9 .4,3 .4,.5 .4,1.2 .4-1.9 .4-1.9 .4,3.4 .4-2.9 .4,2.9 .4,.6 .4,.4 .4-2.3 .4,2.9 .4,2 .4-6.2 .4,2.1 .4-.4 .4,1.7 .4-.7 .4-1.1 .4,4.1 .4-3 .4,.4 .4-2.5 .4,.1 .4-.8 .4-1.8 .4,7.1 .4-1.3 .4,.4 .4,1.3 .4-2.6 .4,.2 .4-1.9 .4,2.2 .4-3.2 .4-1.2 .4-.4 .4,1.5 .4,2.4 .4-.1 .4,.1 .4,1.1 .4-1.7 .4-1.3 .4,1 .4,3.1 .4-4.5 .4,.8 .4,3.6 .4-2.2 .4-2.7 .4,1.3 .4,1.6 .4,.8 .4-.9 .4-1.4 .4,1.1 .4,2.4 .4-1.7 .4-3.4 .4-.2 .4,.7 .4,2.8 .4-.7 .4-1.1 .4,1.7 .4-2.5 .4,.1 .4,1 .4,1 .4-6.6 .4,8 .4-1 .4-3 .4,1.7 .4,.4 .4-2.4 .4,1.6 .4,1.3 .4-1.9 .4-.7 .4,.6 .4,1.4 .4-2.1 .4,.3 .4-1.6 .4-.3 .4,3.5 .4-1.2 .4-1.4 .4,4.6 .4-5.2 .4,3.7 .4,.5 .4,3 .4-5.3 .4,.7 .4-2.3 .4,1.7 .4,2.4 .4,.6 .4-2.1 .4-.5 .4,2.2 .4-4 .4,4.6 .4-3.2 .4-2.4 .4,3.9 .4,.2 .4-3.8 .4,6.1 .4-2.3 .4-5 .4,3.5 .4-1.8 .4-1.6 .4,3.3 .4,.8 .4-2.1 .4,1 .4,.1 .4-.8 .4-1 .4,1.1 .4,2.4 .4,0 .4-.5 .4,.5 .4-2.5 .4-1.3 .4-1.3 .4,4.9 .4-.8 .4-2 .4,.7 .4,.8 .4-1.4 .4-.1 .4,1.3 .4-3.3 .4-.7 .4,3.6 .4-1.4 .4,.5 .4,2.5 .4-1.8 .4,1.6 .4-1.7 .4,3.1 .4-5 .4,2.2 .4-1.1 .4-.8 .4,2 .4-.7 .4-.6 .4-.6 .4-3.6 .4,3.4 .4-4.1 .4,8.8 .4,1.3 .4-5.2 .4,3.5 .4-6.8 .4,2.3 .4,.6 .4-1.4 .4-.9 .4,1.4 .4,.9 .4,1.7 .4-1.8 .4,.8 .4-3.9 .4-.5 .4,2.2 .4,.3 .4-1.5 .4,.2 .4,1 .4,1.2 .4,0 .4-3.7 .4,0 .4,.5 .4,.7 .4-1.5 .4,.5 .4-.7 .4,.5 .4-.7 .4,.6 .4-.3 .4-1.7 .4,1.7 .4-.9 .4,.2 .4,1.3 .4-.5 .4-.7 .4,.2 .4,.4 .4-2.2 .4,1.3 .4,1.2 .4,.1 .4-1.5 .4,1.4 .4,1.7 .4,.5 .4-.9 .4-1.1 .4,0 .4,1 .4-1 .4,1 .4-2.3 .4,5.2 .4-1.8 .4,.7 .4-3.3 .4,1.8 .4,1.2 .4,.2 .4-.1 .4-1.6 .4,2.1 .4-2 .4,3.9 .4-3.3 .4,2.1 .4-.5 .4-2.3 .4,2.1 .4,1.3 .4-1.4 .4-1.1 .4,1.2 .4,.1 .4-3.6 .4-1.7 .4,3.1 .4-.2 .4,2.8 .4-.4 .4-2 .4,2.3 .4-.5 .4,2.4 .4-1.1 .4-4.6 .4,2.9 .4,.6 .4-.5 .4,.4 .4-3.9 .4,3 .4-.6 .4-.6 .4,2.1 .4-2.5 .4,0 .4,3.4 .4,.8 .4-1.3 .4-.3 .4,.9 .4,0 .4-2.5 .4-.7 .4-1 .4,3.6 .4-1 .4,1.2 .4,.1 .4-.1 .4-.7 .4-1.1 .4,1.3 .4,0 .4,.1 .4-2 .4,1.3 .4-3.9 .4,5 .4,.5 .4-1.8 .4,.3 .4-2.9 .4,5.2 .4-8.8 .4,6.3 .4-4.7 .4,2.6 .4,1.6 .4-2.9 .4,1.8 .4-.1 .4,.1 .4,.9 .4-.9 .4,.4 .4,.2 .4-2.3 .4-1.2 .4,5.6 .4-.8 .4-2.8 .4,0 .4,3.8 .4-2.5 .4-4.3 .4,4 .4,1.8 .4-4.5 .4,1.5 .4-1.2 .4,2.7 .4,.4 .4-2.8 .4-1.3 .4,5.2 .4-3.8 .4-2.3 .4,4 .4,2.5 .4-4 .4-.7 .4-.2 .4-1.2 .4-2 .4-.2 .4-1.4 .4-1.3 .4,.6 .4-4.5 .4-3.2 .4-2.4 .4-1.3 .4-3.1 .4-1.9 .4-2.1 .4-1.4 .4,.2 .4,.8 .4,.6 .4,1.1 .4,3.2 .4,1.3 .4,5.2 .4-.6 .4,4.9 .4,0 .4,0 .4,3.9 .4,.4 .4,.6 .4,3.6 .4-1.5 .4,.1 .4,1.2 .4-1.5 .4,1.8 .4,2.2 .4,1.6 .4-2 .4-4.3 .4,2.7 .4,0 .4,0 .4,1.2 .4,1.7 .4-1.4 .4-2.4 .4,2.3 .4-.1 .4,.1 .4-.5 .4-1 .4-.7 .4,5.6 .4,.4 .4-2.4 .4-1.4 .4,2.8 .4-1.8 .4,1.1 .4-2.7 .4,.4 .4,.2 .4,.5 .4-1.5 .4-.1 .4,2 .4-2.2 .4,1.1 .4,0 .4,1.1 .4-3.9 .4,2.6 .4,2 .4-.4 .4,2.9 .4-5.4 .4,4.4 .4-.7 .4-3.1 .4,1.4 .4,.8 .4-2.5 .4,.6 .4,.4 .4,.2 .4-.9 .4,1 .4,3.7 .4-3 .4,1.6 .4-3.7 .4,2 .4,1.5 .4-.1 .4,.7 .4-.6 .4,1.8 .4-5.5 .4,2.8 .4,1.8 .4-1.2 .4-4.2 .4-3.3 .4,4.4 .4,1.5 .4,1.8 .4,3.5 .4-2.2 .4-.4 .4,1.1 .4-2.3 .4,.4 .4-1.5 .4,.4 .4,1.7 .4-3.4 .4,3.1 .4-.9 .4-1.5 .4,.1 .4-.1 .4,5.3 .4-4.1 .4,.8 .4-1.8 .4,3.1 .4-1.1 .4-2.6 .4,2.9 .4,2.9 .4-6.3 .4,7 .4-3.7 .4,3.2 .4-4.7 .4,2.7 .4-.6 .4-.9 .4,1 .4-1.8 .4,.5 .4,0 .4-1 .4,1.2 .4-2.6 .4,2.4 .4,1 .4-2.4 .4-.2 .4,2.5 .4-1.5 .4-.5 .4-.4 .4,1.1 .4-1.8 .4,.5 .4-.2 .4-.9 .4,1.7 .4-.6 .4,0 .4,.1 .4,1.3 .4,.1 .4,.4 .4,.7 .4,1.2 .4-2.1 .4,1.8 .4,0 .4,1 .4-1.9 .4,1.5 .4,2 .4-2.8 .4,1.5 .4-1.9 .4,1.8 .4,.7 .4,1.9 .4-.2 .4-2.2 .4,3 .4-1.5 .4,1 .4-.7 .4,.8 .4,1.8 .4,.3 .4-1.9 .4,.9 .4,1.1 .4-1.7 .4,2.9 .4-.6 .4-1.4 .4-2.8 .4,.6 .4,1.8 .4,.6 .4,2.2 .4-1.7 .4-.9 .4-2.4 .4,5.3 .4-1.1 .4,1.6 .4,.5 .4-.2 .4-1.3 .4,3.4 .4-1.8 .4-4.3 .4,4.1 .4-3.2 .4,3.9 .4-1.9 .4,.7 .4,2.1 .4-1.4 .4,.4 .4-1.9 .4-.8 .4,.8 .4,2.8 .4,2.3 .4-2.4 .4,5.6 .4-8 .4,.1 .4,3.4 .4-1.3 .4-1.6 .4,.3 .4,1.9 .4-.5 .4-.2 .4-.7 .4,1.8 .4-2 .4-1.2 .4,3.8 .4-2.4 .4-.6 .4,2.5 .4,.5 .4-3.5 .4-.2 .4,7.2 .4-3.4 .4-.5 .4,1.1 .4-1.5 .4,.6 .4,.1 .4-.5 .4,.7 .4-.1 .4,.3 .4,1.3 .4,.4 .4-2.8 .4-2 .4,5 .4-1 .4,.7 .4-1.9 .4,2 .4,.5 .4,1.8 .4-6 .4,2.6 .4,.5 .4,1.7 .4-3 .4,.6 .4,.5 .4,1 .4-3.9 .4,5.8 .4-4.9 .4,4.3 .4-1.6 .4,0 .4-2.8 .4,4.6 .4-6.1 .4,3.4 .4,2.2 .4-.2 .4,.7 .4-2.6 .4,5.7 .4,.4 .4-3.7 .4-.5 .4-1.5 .4,3.8 .4-2.2 .4-.9 .4,2.4 .4,.3 .4,1.6"/>
<path stroke="#d62728" stroke-width="2.2" stroke-opacity="0.5" d="M188.8,684.7l.6-11.6 .6,15.8 .6,0 .6,5.7 .6-1.4 .6,5.7 .6-4.5 .6-.7 .6,4.2 .6,.3 .6-1.8 .6,1 .6,3.7 .6,.5 .6-3.1 .6,1 .6-3.9 .6,11.4 .6-5.4 .6,5.3 .6-2.4 .6,5.1 .6-.9 .6-3.5 .6,3.9 .6-7.3 .6,6.9 .6-8.4 .6,5.8 .6,2.3 .6-2.5 .6-1.8 .6-1.3 .6,1.6 .6,4.4 .6-.5 .6-3.5 .6-3 .6,6.1 .6-6.5 .6,2.9 .6-.6 .6,4.6 .6-1.5 .6,.8 .6-.5 .6-2.9 .6,3.8 .6,2.8 .6-4.5 .6,2.1 .6-2.3 .6,3.7 .6-1.1 .6,.7 .6-1.6 .6,4 .6-6.1 .6,.1 .6-.8 .6,3.8 .6-3.8 .6,0 .6,4.3 .6,1.3 .6-1.8 .6-10 .6,5.4 .6-.4 .6-.4 .6,2.5 .6,6.9 .6-6.5 .6-1.3 .6,4.4 .6-1.9 .6,.2 .6-2.5 .6,2.1 .6,1.4 .6-7.3 .6,1 .6,8.3 .6-.7 .6-4.2 .6-1.6 .6,2.6 .6-3.1 .6,2.6 .6,6.2 .6-4.7 .6,3.2 .6-4.3 .6,1.8 .6,3.2 .6-8.5 .6,3.1 .6,.5 .6,1.4 .6,3.9 .6-2.7 .6-6.8 .6,3.7 .6-1.9 .6-.1 .6,9 .6-9.6 .6,4 .6-3 .6,4.8 .6-1.6 .6-.7 .6-.7 .6,3.7 .6-6.5 .6,.6 .6-1.3 .6,7.6 .6-5.2 .6-2.3 .6,1.8 .6,9 .6-8.1 .6,2.8 .6-1.2 .6-1.6 .6-2.2 .6,1.1 .6-.2 .6-5.8 .6,14.8 .6-5.2 .6-2.6 .6-1.1 .6-1.9 .6,5.3 .6-3.6 .6,2 .6-5.9 .6,5.4 .6,5 .6-7.2 .6,3.3 .6-2.5 .6,3.3 .6-.2 .6-3.2 .6-2.1 .6,2.6 .6-.9 .6-2.1 .6,3.3 .6-.2 .6-4.2 .6,2.4 .6,9.3 .6-6.6 .6-2.4 .6,7.4 .6-9.2 .6-6.4 .6,1.7 .6,1.1 .6,5.4 .6,2.1 .6-9.8 .6,10.1 .6-7.4 .6,4.5 .6,.5 .6-.2 .6-1.4 .6,.4 .6-4.2 .6,4.3 .6,2 .6-.2 .6,5.1 .6-4.9 .6-1.2 .6,2.7 .6-4.5 .6-4.9 .6-3.1 .6,10.8 .6-2.3 .6,.7 .6-3.8 .6,2 .6,4.6 .6-5 .6-4.6 .6,1.9 .6,5.5 .6-7.8 .6-4.8 .6,.7 .6,2.8 .6,6.4 .6-2.4 .6-2.8 .6-1.9 .6,3.4 .6-.4 .6-1.5 .6,.8 .6-1.9 .6,7.7 .6-13.2 .6,7.4 .6-3.8 .6,5.1 .6-3.2 .6,1.5 .6,.2 .6-1.3 .6,2.2 .6-7.7 .6,6.9 .6-3.9 .6,1.5 .6,3.4 .6-1.7 .6,2.4 .6-13.4 .6,3.7 .6,5.6 .6-6.8 .6,2.7 .6,5.5 .6-2.8 .6-6 .6,4.1 .6,.3 .6-2 .6-.8 .6,.5 .6-5.3 .6,4.8 .6-3.7 .6,4 .6-.1 .6-4.4 .6,4.4 .6-1.1 .6-1.5 .6,2.1 .6-3.5 .6-.1 .6,.8 .6-.7 .6,3.4 .6-11.1 .6,6.1 .6-5.6 .6,4.4 .6,2.1 .6-1.1 .6,2.7 .6-2.3 .6-9.7 .6,4.8 .6,8 .6-.2 .6-4.7 .6-5.4 .6,11.4 .6-13.5 .6,7.3 .6-1.3 .6,.8 .6-4.6 .6,2.3 .6,4.4 .6-4.9 .6-2.9 .6,4.2 .6,.3 .6-.8 .6-2 .6,4.1 .6-2.1 .6-3.2 .6,4.3 .6-.7 .6,.5 .6-5.7 .6,2.9 .6,3.9 .6,1.5 .6-1.8 .6-.5 .6,1.8 .6,.8 .6,2.5 .6-3.9 .6-3.2 .6,3.3 .6-7.5 .6,6.3 .6-1.5 .6,1.4 .6,1.6 .6-1.3 .6-4.6 .6,3.4 .6-1.3 .6,2.5 .6,1.2 .6-4.1 .6,5.3 .6,1.8 .6-4.8 .6,3.1 .6-6.8 .6,2.9 .6,4.7 .6-8.4 .6,3.9 .6-1.2 .6,6.3 .6,0 .6-5.5 .6,2.4 .6-8.5 .6,10.7 .6-1.6 .6,3.1 .6-11.6 .6,8.5 .6-2.2 .6-7 .6,5.9 .6,1.9 .6,2.7 .6-1.9 .6-2.3 .6,3 .6-1.8 .6-1.7 .6-1.1 .6,3.5 .6,0 .6,5.2 .6-7.1 .6,6.3 .6-3.9 .6,2.5 .6-6.5 .6,0 .6,1.7 .6,3.7 .6-2.3 .6,1.8 .6-1.4 .6,2.1 .6-2.6 .6-2.3 .6,3.1 .6-1.3 .6,5 .6-5.9 .6,.7 .6-1.3 .6,4.4 .6-.9 .6-.8 .6-5.9 .6-.9 .6,5.4 .6,1.4 .6,2.2 .6-10.2 .6,5 .6-4.8 .6,2.2 .6,2.2 .6,3.6 .6-4.7 .6-.7 .6,1.2 .6,4.8 .6,3.5 .6-12.4 .6,3.9 .6-.6 .6,4.9 .6-2.4 .6,3.4 .6-8 .6,3.1 .6-1.6 .6-2 .6,2.8 .6-3.3 .6,10.3 .6-5.5 .6-4.5 .6,1.2 .6,7.1 .6-6.9 .6,3.5 .6-.4 .6,1.5 .6-1.5 .6-2.7 .6-1.3 .6-3.7 .6,5.2 .6,.5 .6-1.6 .6,.5 .6-3.4 .6,10.4 .6-8.4 .6-1.8 .6,1.3 .6,1.2 .6,2.7 .6-9.9 .6,9 .6-3.7 .6,1.3 .6,3.5 .6-.9 .6-4.6 .6,1.7 .6,6 .6-1.8 .6-1.6 .6-2.8 .6,2.8 .6-1.9 .6-3.1 .6-1.6 .6,4.6 .6-.6 .6,2.4 .6-5.4 .6,5.7 .6-5.6 .6,4.9 .6-2.4 .6-3.6 .6-1.3 .6,2.4 .6-.6 .6,3.5 .6-5.2 .6-2.6 .6,4.4 .6,5.9 .6-1.1 .6-7.2 .6,1 .6,1.6 .6-3.2 .6,1.2 .6-.3 .6-2.5 .6,1.1 .6,.3 .6,2.1 .6-4.6 .6,3.9 .6-3.6 .6,.4 .6-1.1 .6,15.8 .6-8.7 .6,.1 .6-1.8 .6-3.4 .6,.7 .6,.5 .6,.4 .6,.2 .6,2.7 .6-14.1 .6,7.3 .6,3.6 .6-3.4 .6,.4 .6,4.9 .6-4.2 .6,4.7 .6-5.8 .6,.6 .6-4.2 .6-3.1 .6,4.6 .6,1.3 .6-1.5 .6-3.3 .6,6 .6-2 .6-.4 .6-2.7 .6,7.4 .6-.8 .6-3.8 .6-1.5 .6,.9 .6,4.3 .6,3.3 .6-8.9 .6-1.6 .6-4.4 .6,14.1 .6-12.3 .6,6 .6-1.4 .6,2.5 .6-7 .6-2.5 .6,5.3 .6,.7 .6,2.2 .6-8.9 .6,3.7 .6,.4 .6-3.4 .6,3.6 .6,2.9 .6-2.7 .6-4.4 .6,5.4 .6,1.6 .6-1.1 .6,.8 .6-7.6 .6,6.5 .6,.4 .6-3 .6,1 .6-2.2 .6,6.2 .6-4.7 .6-2 .6,3.5 .6-.3 .6,1.8 .6-4.7 .6,.5 .6,3.3 .6,5.7 .6-5.5 .6-5.6 .6,4.7 .6-2.9 .6-3.4 .6,3.7 .6,.3 .6,3.1 .6,2.8 .6-.6 .6-1 .6-3.9 .6,1.9 .6-.6 .6,4.5 .6-6.4 .6,.3 .6,6.3 .6-2.8 .6-3.2 .6,1.9 .6,0 .6,.1 .6,1.9 .6-1.4 .6-1.7 .6-1 .6-3.8 .6,4 .6,4.9 .6-2.8 .6-2.7 .6,1.2 .6-1.9 .6,3.6 .6,5.3 .6-.6 .6-1.9 .6-1.3 .6-3.1 .6-3.2 .6,3.9 .6-1.4 .6,4 .6-2.1 .6-2.3 .6,3.2 .6,7.7 .6-11.9 .6,6.3 .6-1.6 .6-2.2 .6-2 .6,2.4 .6,.7 .6,1.7 .6-.1 .6-1.2 .6-3 .6,3.1 .6-2.4 .6-1.7 .6,6.1 .6-4.7 .6-1.6 .6,4 .6-6.1 .6,5.9 .6,1.7 .6-2.6 .6,2.1 .6,6.1 .6-2.1 .6-1.3 .6-.7 .6-3 .6,1.6 .6,0 .6,1.5 .6,.8 .6-2.3 .6,8.1 .6-7.6 .6,4.9 .6,2.7 .6-2.7 .6-1.4 .6,2.8 .6,6.4 .6-3.5 .6-2.4 .6,3.1 .6-2 .6-4.8 .6,7 .6,2.8 .6,.8 .6-3.4 .6-3.8 .6,8.5 .6-3.9 .6,3.2 .6,1.6 .6-2.1 .6-.9 .6-1.4 .6,1 .6,1.8 .6-1.2 .6,2.9 .6-6.8 .6,3.3 .6,3.3 .6-1.7 .6,.8 .6-1.5 .6,5.9 .6,3.3 .6-7.9 .6,7 .6-7.8 .6,5.3 .6-6.4 .6,8 .6-1.2 .6,.6 .6,3.6 .6-1.7 .6-1.7 .6-2.2 .6,2.9 .6-2.1 .6,1.1 .6,6.1 .6-1.7 .6-1.7 .6,1.3 .6-6.3 .6,5 .6-5.4 .6,3.4 .6,3.3 .6,.2 .6,1.2 .6-1.6 .6-.1 .6,0 .6,4.5 .6-.2 .6-8.4 .6,5.1 .6,3.7 .6-4.6 .6,1.6 .6-2.4 .6-1.8 .6,4.3 .6-1.6 .6,.9 .6-3.8 .6,1 .6,3.3 .6-.9 .6,3.2 .6-4.9 .6,5.6 .6-.3 .6-1.4 .6,1.8 .6-2.1 .6-.3 .6,.7 .6-3.8 .6,3.9 .6,2.7 .6-7.3 .6,7.2 .6-4 .6,.9 .6,1.5 .6,.6 .6,3.5 .6-4.5 .6,5.8 .6-5.1 .6,1.5 .6,.7 .6-4 .6-1.3 .6,3.9 .6,1.9 .6,.6 .6-3.7 .6,6.7 .6-5.8 .6-1.6 .6,5.8 .6,.4 .6-6.7 .6,5.7 .6-6.4 .6,4.2 .6,7 .6-2.9 .6-1.7 .6-.1 .6-4.5 .6,3.7 .6,.5 .6-4.5 .6,3.9 .6,1.2 .6-1 .6,.8 .6-1.9 .6-2.7 .6,3.6 .6-5.9 .6,3.8 .6,5.7 .6,2.2 .6-4.2 .6-8.6 .6,11.7 .6-2.4 .6-2.2 .6,3 .6-.6 .6-5.3 .6-.2 .6,7.3 .6-10.3 .6,9 .6-.8 .6,2.1 .6,2.5 .6-1.2 .6,.7 .6-2.2 .6-.9 .6,1.8 .6-3.3 .6-2.7 .6,2.6 .6-4.7 .6,3.3 .6,8.1 .6-4.7 .6-2.1 .6-1.3 .6-3.6 .6,3.8 .6-.7 .6,2.4 .6,.3 .6-.5 .6-5.7 .6,10.4 .6-3.1 .6-1.3 .6-1.1 .6,2.4 .6,2.5 .6-2 .6-5.5 .6-.3 .6-3.5 .6,7.7 .6,1.8 .6,1.5 .6-3.4 .6,2.1 .6-5.4 .6,4.4 .6-2 .6-1.7 .6-3.2 .6,8.7 .6-10.5 .6,8.8 .6-4.4 .6,4.3 .6-3.6 .6,4 .6-3.1 .6-2.6 .6,1.6 .6-3.4 .6,5.8 .6,2.3 .6-2 .6-1 .6,3.7 .6-7.7 .6,5.3 .6-1.7 .6-1.6 .6,3.2 .6-5.3 .6,3.1 .6,1.4 .6-4.7 .6,2.8 .6,2.3 .6,1.3 .6-5.9 .6,5.7 .6-3.8 .6,1.2 .6-2 .6,4.1 .6-4.7 .6,3 .6,.3 .6,1.1 .6-5.6 .6,5.6 .6-2.3 .6,4.4 .6-5.6 .6-.8 .6,1.6 .6-.8 .6,.4 .6-3.5 .6-2.5 .6,1.8 .6,2.7 .6,3.1 .6-2.3 .6-2.1 .6,2.4 .6,.6 .6,8.2 .6-4.7 .6-3.5 .6-5.3 .6,3.7 .6-.8 .6,1.9 .6,3.3 .6-7.3 .6-6.1 .6,1.7 .6-5.7 .6-.4 .6-4.3 .6-4.5 .6-3.1 .6,1.1 .6,3.8 .6,2.3 .6,4.5 .6,5 .6,3.6 .6,1.6 .6,2.4 .6,.8 .6-1.4 .6,2 .6,1.4 .6-3.9 .6,4.1 .6-.2 .6,1.2 .6-.3 .6-4.3 .6-.6 .6,4.6 .6-1.3 .6,.7 .6-2.1 .6-2.3 .6,4.7 .6-1.3 .6,2.2 .6,1.4 .6-.2 .6-.4 .6-6.2 .6-3.7 .6,4.5 .6-2 .6-.4 .6,6 .6-7.2 .6,7.7 .6,.4 .6,4.6 .6-5.2 .6,3 .6-8.5 .6-.4 .6,4.3 .6-6.9 .6,5.5 .6-4.5 .6-4.5 .6,4.4 .6-6.2 .6,.8 .6-4.8 .6-.6 .6,.9 .6,1.5 .6,.5 .6,3.9 .6,2 .6,2.1 .6-3.8 .6,2.9 .6,1.7 .6,2.8 .6-2 .6-1.7 .6-.7 .6,3.9 .6-6.6 .6,.6 .6-5.9 .6,2.4 .6-4.2 .6-3.7 .6,.1 .6,1 .6,1.7 .6,2.1 .6,3.7 .6-.2 .6,2.6 .6,1 .6,2 .6-2.6 .6,7.4 .6-4.2 .6-2.8 .6,2.7 .6,1.7 .6-1 .6,3.2 .6-4.6 .6-1.4 .6,3.8 .6,2.3 .6-7.1 .6-2.1 .6,2.7 .6,1.6 .6-3.2 .6,3.5 .6-3.4 .6,5.2 .6-6.7 .6,.6 .6,2.8 .6,1.6 .6,.4 .6-5.2 .6,1.8 .6,1.3 .6,2.4 .6-7.5 .6-1.5 .6,5 .6-2.7 .6,4.5 .6-4.6 .6,.3 .6-4.1 .6,2.3 .6,1.5 .6-5.8 .6-4.4 .6,2 .6-6.5 .6-4.3 .6-6.8 .6-4.7 .6-6.9 .6-3.1 .6,.5 .6,3.3 .6,3.3 .6,8.2 .6,2.2 .6,6.3 .6,1.3 .6,2.4 .6-.6 .6-.6 .6,3.6 .6-.1 .6,1.6 .6-2.5 .6-5 .6,2.2 .6-1.5 .6-7.4 .6-6.6 .6-6.4 .6-4.6 .6-4.8 .6,0 .6,1.5 .6,4 .6,5.5 .6,2.1 .6,2 .6,4.7 .6,5.4 .6-4.9 .6,4.5 .6-9.1 .6,3.3 .6-1.4 .6-.9 .6-15.5 .6-4 .6-12.9 .6-11.8 .6-18.7 .6-19 .6-22.2 .6-19.9 .6-14.8 .6-6.1 .6,3.2 .6,12 .6,15.6 .6,18.3 .6,8.7 .6,10.3 .6,7.8 .6,5.3 .6,5.4 .6,7.8 .6,10.7 .6,10.8 .6,9.6 .6,7.5 .6,9.7 .6,2 .6,7.1 .6,3.6 .6-2.1 .6,1.5 .6,.1 .6,2.8 .6-2.5 .6-3.6 .6-1.3 .6-2.5 .6-5.7 .6-3.8 .6-2.2 .6,.7 .6,4 .6,5 .6,4.6 .6,6.9 .6,1.3 .6,2.9 .6,3 .6,2.5 .6-5.6 .6,6.7 .6,3.5 .6-6.7 .6,4.9 .6-2.4 .6-1.2 .6,4 .6-.9 .6-5.9 .6,4.8 .6,4.4 .6-4.2 .6-.3 .6,1.2 .6-.1 .6,3.7 .6-4.8 .6-.9 .6,5 .6,1.7 .6-.8 .6,.5 .6-4.6 .6-2.5 .6,2.4 .6,2.1 .6-5.2 .6,4.3 .6,2.7 .6-4 .6,8.2 .6-3.8 .6-6.1 .6,.2 .6,1.3 .6,4.3 .6-.8 .6-3.3 .6,2.2 .6,1.9 .6-1 .6-6.6 .6,1.5 .6,.4 .6-2.6 .6,7.8 .6-4.7 .6-.3 .6-.7 .6,3 .6,.2 .6-.5 .6,.3 .6-6.8 .6,3.2 .6-2 .6-7.8 .6-3.3 .6-2.8 .6-1.9 .6-.9 .6,1.4 .6,5.3 .6,.6 .6-1.3 .6,6.9 .6,1.5 .6,0 .6-2.6 .6-2.2 .6-7.6 .6-3.4 .6-1.8 .6,2.2 .6,1.8 .6,2.9 .6,3.2 .6,6.7 .6,2.1 .6,4 .6-1.2 .6,1.4 .6,4.3 .6-1.3 .6,2.8 .6-1.7 .6-.2 .6,2.3 .6-1.9 .6,1.8 .6,1.1 .6-2.8 .6,1.4 .6,.9 .6,2 .6-1.2 .6,.2 .6,.9 .6-2.2 .6,2.2 .6-3.2 .6-3.2 .6,7.1 .6-7.2 .6,5.7 .6,5.4 .6-2.4 .6-5.2 .6,5.5 .6-1.4 .6-3.2 .6,2.3 .6-1.2 .6,.8 .6,2 .6-5.7 .6,7.4 .6,3.6 .6-6.6 .6-2.5 .6,1.8 .6,5.1 .6-5.3 .6,3 .6,5.5 .6-9.2 .6,2.5 .6-2.1 .6,.5 .6,1.2 .6-2.7 .6,2.9 .6-1.4 .6,1.3 .6-2.3 .6-2.1 .6-.3 .6-3.8 .6-1.1 .6-2.2 .6,.3 .6-.8 .6,2 .6,.5 .6,2.7 .6,.1 .6,1.8 .6,.8 .6,4 .6,1.2 .6,1.3 .6-.4 .6-1.3 .6,2.8 .6,2.9 .6-5.6 .6-1 .6,4.1 .6,4.6 .6-6.4 .6-.7 .6-2.1 .6,1 .6-.7 .6-.1 .6,6.2 .6,.6 .6-3.7 .6-.1 .6,2.1 .6-2.6 .6,.2 .6,1.3 .6-2.1 .6,3.9 .6,5.9 .6-10.1 .6,.7 .6-3.6 .6,1.1 .6,1.5 .6,.9 .6-1.9 .6-3.2 .6,4.8 .6-2.8 .6,2.8 .6-1.9 .6,.2 .6,.1 .6-6.3 .6,10.2 .6-6.6 .6,3.6 .6,.4 .6-3.4 .6-2.4 .6,4.6 .6-4.3 .6,1.2 .6-.1 .6-2.7 .6-2.7 .6-.2 .6-.4 .6-1.7 .6,.6 .6-.7 .6,1.2 .6,.5 .6,2 .6,4.8 .6-.1 .6-.6 .6-.1 .6,5 .6-2.9 .6-2.2 .6,7.6 .6-8.3 .6,4.6 .6,1.5 .6,1.1 .6,3.2 .6-3.4 .6-4.7 .6,5.7 .6-2.6 .6-4.6 .6,.4 .6,.9 .6-4.1 .6,8 .6,.4 .6-.2 .6-4.1 .6,2.4 .6,3.9 .6-2.5 .6-1.6 .6-1.8 .6,2.1 .6,4.1 .6-3.8 .6,7 .6,.4 .6-5.2 .6-7.3 .6,4.3 .6,4.7 .6-5.6 .6-.4 .6,2.2 .6,8.2 .6-9.7 .6-4.6 .6,6.9 .6,.4 .6,1.1 .6-2.1 .6,.8 .6-2.5 .6,4.4 .6-3 .6,1.7 .6-3.9 .6,6.6 .6-3.6 .6-2.1 .6,1.5 .6-3.6 .6,1.5 .6,4.4 .6-.7 .6,.7 .6-.5 .6-3.1 .6,1.1 .6,5.4 .6-6.2 .6-4.5 .6,4.5 .6-1.4 .6,.7 .6,0 .6-3.2 .6,3.2 .6-2.2 .6,.6 .6-3.6 .6-1.7 .6-.7 .6,0 .6-3.9 .6,.6 .6-.7 .6,1.3 .6,.4 .6,2.3 .6,1.7 .6,4.4 .6-2.3 .6,1.7 .6-1.5 .6,3.2 .6-2.5 .6,2.1 .6,1.6 .6,.7 .6-4.3 .6,.1 .6,6.4 .6-5.2 .6,2.2 .6-1.4 .6-4 .6,4.6 .6-.1 .6,5.9 .6-11.4 .6,4.3 .6,3.5 .6-3.5 .6-5.1 .6,8.6 .6-1.4 .6-3.1 .6-.5 .6,1 .6,2.7 .6-1.2 .6-1.5 .6,3.1 .6,2.2 .6-5.1 .6,6.7 .6-4.8 .6,1.8 .6-.5 .6,.2 .6-.8 .6-7.7 .6,4.1 .6,5.6 .6-5.9 .6,3.6 .6-5.2 .6,3 .6,6.6 .6-3.9 .6-3.4 .6,.7 .6-3.3 .6,6.7 .6-2.1 .6,3 .6,.2 .6-3.4 .6-2 .6-.7 .6,2.5 .6,1.3 .6,4.2 .6-7.2 .6,4.3 .6-4.5 .6,1.4 .6,3.9 .6-.9 .6-3 .6-.5 .6,3.9 .6-3.3 .6-.8 .6-1.8 .6,4.6 .6-2.1 .6-2.2 .6,1.4 .6-1.6 .6-.3 .6,1.8 .6,2.3 .6-3.2 .6,5.1 .6,.9 .6,1.5 .6-1.9 .6,2.1 .6-7.7 .6,5 .6,3.4 .6-1.2 .6-.8 .6-4.5 .6,3.4 .6-4.7 .6,4.7 .6,1.8 .6-2.5 .6,3.1 .6-1.4 .6,2.8 .6-3.7 .6-3.8 .6,1.1 .6,1.6 .6,2.4 .6,.4 .6-2.6 .6,2.7 .6-2.3 .6,4 .6-6 .6,7.7 .6-2.6 .6-2.1 .6-2 .6,5 .6-3.5 .6,3.9 .6,3.7 .6-5.1 .6,.3 .6,.9 .6-3.3 .6,7.7 .6-6.6 .6,2.9 .6-1.1 .6-2.8 .6,6 .6-3 .6-3.1 .6,0 .6-3.9 .6,2.7 .6,5.9 .6,0 .6-5.5 .6,4.8 .6,1.1 .6-.6 .6,1.5 .6-9.8 .6,6.5 .6-3.6 .6,5 .6-4.4 .6,2.6 .6,2.3 .6-7.6 .6,2.8 .6-.3 .6,2 .6-4.9 .6,7.1 .6,3.2 .6-6.9 .6,1.9 .6-9.3 .6,3.5 .6,3.8 .6-2.1 .6-1 .6-1 .6-4.4 .6-2.9 .6-2.6 .6-1.8 .6-2.3 .6,1.7 .6-.7 .6,2.3 .6,3.8 .6,3.7 .6,1.9 .6,3.9 .6-2.3 .6,.6 .6,3.9 .6-3.9 .6,4.2 .6,1.3 .6-.4 .6-6.9 .6,5.7 .6-5.5 .6,9.1 .6-3.9 .6,4.5 .6,1.1 .6-8.2 .6,7 .6-1.5 .6,3.4 .6-8.4 .6,0 .6,1.5 .6-3.2 .6,6.1 .6-2.6 .6,2.9 .6,.4 .6,1.6 .6-6.7 .6,6.4 .6,0 .6-5.3 .6,1.2 .6-2.6 .6,8.3 .6,.4 .6-6.8 .6,2.3 .6,1.6 .6,1 .6-2.4 .6,5.3 .6-7.9 .6,5.5 .6-2.3 .6,.6 .6-3.1 .6-3.1 .6,3.8 .6,3.1 .6-4.1 .6-2.6 .6,4.7 .6,.5 .6-3 .6,2.8 .6,1.6 .6-.6 .6,2.3 .6,.8 .6-3.7 .6-2.4 .6-2.8 .6,8.5 .6-2 .6,2.1 .6-5.6 .6,3 .6-2.9 .6-.2 .6-1.7 .6,3.8 .6,2.2 .6,1 .6-1.6 .6-1.6 .6,7.1 .6-1.4 .6-1.6 .6-2.6 .6,3.5 .6-6.2 .6-1.6 .6,5.9 .6-1.4 .6,2.8 .6-5.7 .6,3.4 .6-4.1 .6,2.1 .6,2.6 .6-1.7 .6-2.7 .6-1.5 .6,3.2 .6-1.6 .6-1.6 .6,4.7 .6-3.1 .6,6.7 .6,2.5 .6-2.9 .6,5.1 .6-12.4 .6-1.5 .6,4.8 .6-5 .6,5.9 .6,2.3 .6-.4 .6,.6 .6-3.7 .6,.5 .6,.9 .6-1 .6,3.1 .6-4.2 .6,1.1 .6-2 .6,5 .6-2.6 .6,0 .6-2 .6-4 .6,4 .6-5.4 .6,6.3 .6-3.6 .6,7.3 .6-5.8 .6,1.3 .6-1.5 .6-2.1 .6-1.5 .6-2.5 .6,2.7 .6-3.3 .6,2.4 .6-4.2 .6-.9 .6-.8 .6-.4 .6,1.3 .6,.7 .6,1.3 .6,2.1 .6,4.1 .6,.5 .6-4.4 .6,4.6 .6-1.2 .6,2.8 .6,2.1 .6-1.5 .6,2 .6,3.4 .6-10.3 .6,5.3 .6,.4 .6,1.2 .6-1 .6,2.6 .6-2.9 .6,1.4 .6-6.1 .6,5.4 .6-4.3 .6,5.5 .6,3.7 .6-5.6 .6,1.5 .6,.9 .6,2 .6-1.8 .6,1.4 .6-5.5 .6,1.4 .6-4.2 .6,11.3 .6-10.5 .6,6.5 .6-2.4 .6-.1 .6-4 .6,3.5 .6,.4 .6,.9 .6-2.3 .6,1.8 .6-3.7 .6,6.7 .6-5.8 .6,13.1 .6-12.1 .6-1 .6,2.5 .6-1 .6,3.8 .6,.4 .6-5.7 .6-.1 .6-.3 .6,3.8 .6,1.5 .6-1 .6-2.5 .6,.5 .6,1.9 .6,1.8 .6-4 .6,3.7 .6-4.7 .6,1.6 .6,2.8 .6-6.2 .6-2.7 .6,1.9 .6,2.9 .6-2.8 .6,2.7 .6,4.5 .6-5.3 .6,5.1 .6-1.5 .6-6 .6,6.1 .6-.3 .6,.2 .6-2.4 .6,.1 .6-2.6 .6-1.1 .6,2.5 .6,2.3 .6-4.1 .6,6.8 .6-6.5 .6,2.3 .6-5.2 .6,8.9 .6-2.6 .6,1.7 .6-7.8 .6,8.1 .6-3.1 .6-3.4 .6,.6 .6-3.5 .6,4.1 .6,3.2 .6-5.5 .6,3.8 .6-5 .6-4.5 .6,7.5 .6,5.1 .6-.9 .6-5.9 .6,5.9 .6-.7 .6-2.2 .6-2.3 .6,4.1 .6-3.4 .6-1 .6,4.4 .6-5.4 .6,4.2 .6,2.4 .6-6.7 .6,2.6 .6,1 .6-7.1 .6,3.8 .6-.2 .6,0 .6-1.1 .6,6.6 .6-6.8 .6,2.4 .6,2.1 .6,3 .6-9.8 .6,.8 .6,.7 .6,2.3 .6,3.8 .6-3.4 .6,.9 .6,4.2 .6-5.8 .6,1.5 .6,5.5 .6-3.7 .6-4.3 .6-.2 .6,5.4 .6-7 .6,.7 .6,5.1 .6,1.5 .6,.9 .6-8 .6,4.4 .6-11.2 .6,7 .6,10.6 .6-4.1 .6-2.5 .6-4.5 .6-.9 .6,5.7 .6-3.3 .6-1.7 .6,3.1 .6-.4 .6-3.1 .6,.2 .6,4.2 .6-5.7 .6,2.6 .6-2.8 .6-.6 .6-.5 .6,.5 .6-.3 .6,.2 .6-1.5 .6,.6 .6-.9 .6-.2 .6,.9 .6-.1 .6-1.2 .6,1.4 .6-1.3 .6,.9 .6,2.9 .6,.3 .6-1.3 .6,1.4 .6,1.4 .6,1.3 .6,.5 .6-4 .6,1.6 .6,.6 .6-5.2 .6,3.7 .6,2.9 .6-1.4 .6-.8 .6-1.4 .6,1.6 .6,1.6 .6-.8 .6,4.2 .6-.8 .6-6.1 .6,6.6 .6-2.6 .6,2.2 .6-4.2 .6,4.7 .6-4.9 .6,5.3 .6-3.2 .6-.7 .6-3.2 .6-.9 .6,7.6 .6-6.1 .6-.1 .6,4.8 .6-1.1 .6,1.7 .6-5.8 .6-2.5 .6,3.7 .6,5.9 .6-3.2 .6,1.5 .6,.2 .6-1 .6,0 .6-1.2 .6,1.3 .6,.3 .6-3 .6,3.9 .6-1.9 .6-.3 .6-.2 .6,3.2 .6-3.2 .6,4.1 .6-6.8 .6,4.9 .6-6.6 .6,4.9 .6-1.7 .6,.1 .6-1.8 .6,3 .6,1.7 .6-7.4 .6,5.3 .6,.8 .6,1.3 .6-.9 .6-4.5 .6,6.3 .6-5.9 .6,4 .6-1.1 .6-2.6 .6-1.3 .6,1.7 .6,3.9 .6-3.2 .6-4.2 .6,1.3 .6-.5 .6-2.3 .6-8.5 .6-.4 .6-3.4 .6-3.7 .6-1.8 .6,1.8 .6,1.1 .6,1.9 .6,3.6 .6,5.4 .6,5.5 .6,.6 .6-1.8 .6,6.6 .6-7.1 .6,8.5 .6,.4 .6,2.8 .6-2.4 .6,.1 .6-3.1 .6-1.6 .6-.4 .6,1.1 .6-4.6 .6-1 .6-1.2 .6,.5 .6,1 .6,3.1 .6,2.7 .6,1 .6,1.4 .6-.8 .6-2.5 .6,4.8 .6,.2 .6-3.1 .6,4.3 .6,2.5 .6-5.5 .6,5.7 .6-1.3 .6-2.8 .6,2.1 .6,2.2 .6-2.8 .6,.5 .6,4.4 .6-2.3 .6,.1 .6-3.1 .6,3.8 .6,2.6 .6-7.5 .6-2.1 .6,2.7 .6,2.2 .6-2.6 .6-2.1 .6,10.5 .6-6.3 .6-1.2 .6-6.3 .6,11.8 .6-7.5 .6,9 .6-2.3 .6-1 .6-1.2 .6,3.7 .6-4.7 .6,3 .6-2.6 .6,.6 .6,6 .6-1.4 .6-6.3 .6,.3 .6,2.9 .6-.5 .6,2 .6-2.7 .6-1.9 .6,5.5 .6-3.1 .6,2.6 .6-4.6 .6,6.4 .6-3.5 .6-.3 .6-.1 .6-4.6 .6,4.3 .6-2.8 .6-1.5 .6,1.6 .6,.8 .6-3.6 .6,1.3 .6-3.7 .6,1.1 .6-1 .6,.2 .6,.9 .6-.3 .6-.6 .6,2.6 .6-.8 .6,1.3 .6,.6 .6,2.2 .6,.7 .6,3.8 .6-1.2 .6,1.5 .6-1 .6,3.6 .6-4.7 .6-.7 .6,6.6 .6,.1 .6-1.6 .6,6.8 .6-9 .6,7.2 .6,.6 .6-8.2 .6,5.7 .6,1 .6-2.7 .6,.2 .6,.4 .6-2.3 .6-1.4 .6,6.9 .6-1.5 .6-.5 .6,1.8 .6-4.1 .6,.7 .6,4.8 .6-2.4 .6,1.7 .6,2 .6,2.3 .6-8.2 .6,1.2 .6-2.5 .6,2.5 .6,4 .6-3.1 .6,8.7 .6-8.1 .6-4 .6,2.9 .6,9.6 .6-9.2 .6,2.8 .6-2.2 .6-.7 .6,7.3 .6-7.2 .6-1.7 .6,3.5 .6,.4 .6,3.7 .6-.8 .6,3.7 .6-4.3 .6,2.2 .6,.4 .6,1.8 .6-6.8 .6,3 .6-7.3 .6,6.2 .6-1.1 .6,1.3 .6,7.8 .6-1.5 .6-7.7 .6,10.6 .6-1.4 .6-3.3 .6-.6 .6,.1 .6,.5 .6,2.3 .6-2.6 .6,4.1 .6-3.9 .6-.9 .6,1.9 .6,1.7 .6,.5 .6-1.2"/>
<path stroke="#d62728" d="M188.8,676.1l.4,2.7 .4,1.7 .4,4.9 .4,3.8 .4,.2 .4,1 .4,.2 .4,1.2 .4,.2 .4,4 .4-3.7 .4,1.3 .4,3.2 .4-1.1 .4,2.4 .4-1.7 .4,2.2 .4,0 .4-2.4 .4,3.9 .4,1.8 .4-3.3 .4,1.4 .4,1.9 .4,2.1 .4-1.9 .4,4.1 .4-4.8 .4,4.7 .4-4.7 .4,1.6 .4-1.4 .4,3.9 .4-.4 .4-4.3 .4-1.5 .4,9.3 .4-4.5 .4-2.5 .4,1.5 .4,.9 .4,4 .4-2.1 .4-.7 .4-1.9 .4,3.2 .4-4.6 .4,5.5 .4-.2 .4-2.7 .4-1.9 .4,1.7 .4,1 .4,4.1 .4-.5 .4-4.4 .4-.2 .4-1.1 .4,3.4 .4-1.8 .4,2.5 .4-1.2 .4-1.1 .4-.9 .4-1.1 .4,4.2 .4-3.6 .4,3.9 .4-4.4 .4-1.7 .4,4.9 .4-1.1 .4,2.9 .4-1.7 .4-.1 .4,1.8 .4-2.8 .4,2.5 .4,3.5 .4-4.2 .4-2.2 .4,1.7 .4-1.4 .4,.9 .4,3.9 .4-5.1 .4-.4 .4,3.3 .4-1.7 .4,.5 .4-.8 .4,1.6 .4,2.4 .4-1.6 .4-2 .4,.2 .4-1 .4,0 .4,3.5 .4-.7 .4-.2 .4,.1 .4-2.1 .4,1.2 .4,1 .4,2.1 .4-2.5 .4-.4 .4-1.6 .4,3.5 .4-2.4 .4,.9 .4,.3 .4-2.2 .4,2 .4,1.6 .4-3.8 .4,.7 .4-.5 .4,1.7 .4,3.8 .4-3.3 .4,1.7 .4-1.9 .4-1.2 .4,.8 .4,.4 .4-.8 .4,.3 .4,.3 .4-1.4 .4,4.1 .4-2.1 .4-1 .4-.9 .4,1.8 .4-2.1 .4-.9 .4,1.6 .4,3 .4-2.7 .4,.7 .4-2.1 .4,2.7 .4-2 .4,0 .4-.4 .4,1.1 .4-1.7 .4,1.2 .4,.4 .4-1.5 .4-1.9 .4,4.5 .4-3.2 .4-1.4 .4,3.7 .4-.1 .4,2.1 .4,.3 .4-6.6 .4,3.1 .4,1.5 .4-3 .4,4.6 .4-1.5 .4-2 .4,.3 .4,1.5 .4,3.3 .4-.3 .4-6.4 .4,3.8 .4-3.9 .4,2.4 .4-1.6 .4,1.2 .4-.3 .4,1.5 .4-2.2 .4,2.7 .4-1.6 .4-1.5 .4,4.4 .4-2.1 .4-1.1 .4,.5 .4,1.1 .4-1.6 .4-1 .4,.8 .4-.8 .4,0 .4,4 .4-1.6 .4,1 .4-3.5 .4-2.4 .4,2.5 .4,1.6 .4-1.9 .4,1.2 .4-2.2 .4,2.7 .4-1.8 .4,.7 .4,1.2 .4-2.7 .4-.6 .4,.4 .4,2.5 .4-1.7 .4,2.5 .4-1 .4,1 .4-1.8 .4,1.9 .4-1 .4-5 .4,6.2 .4-1.1 .4-2.4 .4-1.6 .4-1.3 .4,3.8 .4-2 .4-.6 .4,.3 .4-1.3 .4,4.8 .4-3.5 .4,1.6 .4,.2 .4,.4 .4-1.1 .4,1.8 .4-2.7 .4,5.1 .4-7.1 .4,4.3 .4,2.7 .4-6 .4,4.4 .4,1.2 .4-4.8 .4,3.7 .4-4.1 .4,1.6 .4-1 .4-1.5 .4-.3 .4,.9 .4-1.8 .4,3.1 .4-.2 .4,1.8 .4-1.4 .4-1.2 .4-.3 .4,5.2 .4-7.7 .4,.3 .4,6.7 .4-2.3 .4-1.7 .4,.6 .4,.8 .4-4.8 .4,2.1 .4,1.9 .4-.2 .4,.8 .4-1.8 .4-1.2 .4-.5 .4,2.2 .4-1.3 .4,.9 .4,1.6 .4-.4 .4-4.8 .4,4.5 .4-4.1 .4-1.4 .4,7 .4-3.5 .4-1.8 .4,.2 .4,2.4 .4,2 .4-1.4 .4-3 .4-1.9 .4,1.9 .4,2 .4-1.1 .4-3.5 .4,2.6 .4,.8 .4-3.1 .4,3.3 .4,1 .4-1.2 .4-3.5 .4,.9 .4,.2 .4-.7 .4,2.2 .4-1.7 .4-.3 .4,.4 .4-1.6 .4-1.9 .4,2.6 .4-1 .4,1.7 .4-1.1 .4-1.1 .4,2.4 .4-2.3 .4-2.6 .4,5.1 .4-.9 .4-2.4 .4-3.2 .4,.9 .4,3.5 .4-2.2 .4-.7 .4,1.3 .4-2.1 .4-.1 .4,3 .4-1.5 .4,.3 .4-.5 .4,.6 .4-.6 .4-3.3 .4,1 .4,3.3 .4-3 .4,2.7 .4-4 .4-2.2 .4,2.6 .4-1.3 .4-.6 .4-.3 .4-2.6 .4,4.7 .4-1.5 .4-1.6 .4-1.5 .4,4.1 .4-1.4 .4,1.1 .4-.7 .4,.5 .4-1.6 .4-2.9 .4,2.9 .4,1.2 .4-4.5 .4,1.6 .4,3.4 .4-5.2 .4,4.6 .4-4.4 .4-1.5 .4,1.9 .4-.4 .4,2.7 .4-5.9 .4,2 .4-.2 .4-.5 .4,2 .4-1.4 .4,.8 .4-.7 .4,2.3 .4-3.4 .4,1.1 .4,1.3 .4-.8 .4-1.1 .4,1.4 .4-.9 .4-.1 .4-.9 .4,1.6 .4,0 .4-3.2 .4,2 .4-.4 .4,.4 .4-2.8 .4-1 .4,1.7 .4,2.3 .4-4 .4,3.6 .4-1.9 .4,.2 .4-.1 .4-1.1 .4,.1 .4,1.6 .4,1.6 .4-2.6 .4,.4 .4-2.5 .4,1.3 .4,2.2 .4,0 .4-2.6 .4,.4 .4-.7 .4-.8 .4,2.5 .4-1.7 .4,3.6 .4-6.9 .4,.7 .4,.9 .4,2.5 .4-.4 .4-1.2 .4-4.5 .4,6.3 .4-3.3 .4,5.6 .4-2.3 .4-1.6 .4,.9 .4,3.5 .4-3.6 .4-1.5 .4-2.7 .4,4.6 .4-1.1 .4,3.6 .4-1.9 .4,1.8 .4-2.8 .4-.8 .4,3.5 .4-2.1 .4-1.1 .4,1.3 .4,2.1 .4-3.1 .4,4.9 .4-2.7 .4-3.1 .4,.2 .4,1.9 .4-.5 .4,0 .4,.5 .4,.8 .4-1 .4-.5 .4-2.5 .4,6.6 .4-2.8 .4,.9 .4-.7 .4,2.1 .4-2.4 .4,2.3 .4-3.4 .4,.7 .4,1.4 .4,.2 .4,1.1 .4-3.3 .4,2 .4-1.9 .4-1.7 .4,4.5 .4-1.9 .4-1.8 .4,.5 .4,2.4 .4-1 .4-.2 .4,1.4 .4-1.3 .4-3.3 .4,4.9 .4-2.5 .4,.2 .4-3.8 .4-1.6 .4,6.2 .4-1 .4,.8 .4,.6 .4,1.1 .4,.8 .4-.2 .4-4.2 .4,.4 .4,1.7 .4,2.4 .4-.6 .4-3.1 .4-1.3 .4,2.8 .4-.9 .4,1.6 .4,.2 .4-.9 .4-2.3 .4-.7 .4,1.8 .4,1.4 .4-1.1 .4,1.4 .4-2.1 .4,2.8 .4-1.4 .4-1.3 .4-.8 .4,1.1 .4,.3 .4,2.8 .4-2.8 .4,1 .4-5.1 .4,5.7 .4-2.1 .4-1.6 .4-2.6 .4,2.7 .4,4.6 .4-1.6 .4-.1 .4-2.4 .4,2 .4,0 .4-.6 .4-2.4 .4,.5 .4,.5 .4,6.2 .4-9.4 .4,6.8 .4-.6 .4-2.2 .4,1.1 .4-.9 .4,.3 .4-2.2 .4-2.7 .4,8.7 .4-1.8 .4-6 .4,4.8 .4-3 .4,1.6 .4-2.9 .4-.1 .4,5.5 .4-4.5 .4,.7 .4,1.4 .4,1.4 .4-3.7 .4,2 .4,.2 .4-2.6 .4,0 .4,2.2 .4-1.4 .4,3.1 .4-6.4 .4,4.3 .4-1.3 .4-2.4 .4,2.3 .4-2.5 .4,2 .4,2.6 .4-3.4 .4,2.4 .4-.6 .4-1.6 .4,.4 .4,.8 .4,.2 .4-1.6 .4,.6 .4,1.7 .4-3.4 .4-.4 .4,2.7 .4,.3 .4-5.3 .4,4.5 .4,2.3 .4-1.1 .4-2.3 .4,1.4 .4-3.9 .4,4.2 .4-.7 .4,1.1 .4-2 .4,1.5 .4-2.2 .4,2.8 .4-1.2 .4-4.3 .4,.2 .4,4 .4,.8 .4,.5 .4-3.4 .4,1.3 .4-1.1 .4-.7 .4,.7 .4,2.7 .4-3.3 .4,4.2 .4-5.9 .4,1.7 .4,1.6 .4-.1 .4-.8 .4-3.5 .4,2.5 .4,3.1 .4-1.5 .4-.3 .4-.3 .4-1.1 .4,.1 .4-1.2 .4,3.6 .4-1.8 .4-.2 .4-.5 .4-.9 .4-2.4 .4,2.6 .4-1.3 .4,.1 .4,1.3 .4,2 .4-4.5 .4,1.9 .4,2.9 .4-5.5 .4,3.3 .4-2 .4,2.2 .4,1.4 .4-3.2 .4,1.9 .4-1.3 .4,2.9 .4-10.2 .4,4.6 .4,1.4 .4,.3 .4,2.9 .4-1.1 .4-3 .4-2.1 .4,4.8 .4-1.8 .4-1.1 .4,2 .4,1.7 .4-2.8 .4,1.9 .4-6.2 .4,4.9 .4,2.7 .4-2.2 .4-3.5 .4-1.2 .4,2.8 .4-2.4 .4,.5 .4-2.5 .4,1.3 .4,2.9 .4-2.7 .4-.2 .4-1 .4,2.1 .4,.8 .4-.6 .4-5.6 .4,5.2 .4-1.9 .4,1.5 .4-2 .4,4.1 .4,1.4 .4-2 .4,1.5 .4-3 .4-1 .4-3.5 .4,2.5 .4,.3 .4,3.7 .4-4.9 .4,1.8 .4,1 .4-1.2 .4-.3 .4,1.9 .4-3.8 .4,1.6 .4,.2 .4,2.5 .4-.6 .4-1.6 .4,.4 .4-5.8 .4,4.5 .4-1.8 .4-2 .4,4 .4-2.2 .4-.6 .4-2.2 .4,3.5 .4,1.8 .4-2.1 .4,.9 .4,.4 .4-2.1 .4-.8 .4-.6 .4,.4 .4-.6 .4,1 .4-1.1 .4,2.8 .4-3.9 .4,4.6 .4-4.1 .4-.1 .4,2 .4-2.8 .4-2.3 .4,5 .4,1 .4-6.5 .4,4.5 .4-2.1 .4,.5 .4,3.3 .4-5.7 .4,1.4 .4,3.3 .4-2 .4,.2 .4-2.2 .4-.4 .4,0 .4,1.8 .4-1.4 .4,1.5 .4,4.1 .4-8.4 .4,3.7 .4-.7 .4-1.9 .4,2.2 .4-2.1 .4-1 .4,2.5 .4,2.9 .4-3.4 .4,1.1 .4-2.1 .4-.2 .4-1.4 .4,2.7 .4,.8 .4-4.2 .4-.4 .4,4.6 .4-2.3 .4-1.8 .4,4.2 .4-1.7 .4-.3 .4,.7 .4-1.2 .4,6.6 .4-9.5 .4,3.2 .4,2 .4-.3 .4-3 .4,1.6 .4,.5 .4,2.7 .4,.5 .4,.1 .4-2.8 .4,2.3 .4-1.5 .4-1.5 .4-.1 .4,1.9 .4-.7 .4-1.6 .4-.8 .4,0 .4,4.4 .4-3.1 .4,.7 .4,2.6 .4,.1 .4-1.2 .4-.9 .4-1.6 .4,.9 .4,.4 .4,.8 .4-2.4 .4,2.7 .4,.4 .4-1.3 .4-3.3 .4-.9 .4,4.8 .4-4.6 .4,3.7 .4,5 .4-5.6 .4-2.4 .4,4.3 .4-2.6 .4,.7 .4-3.1 .4,2.1 .4,3.8 .4-3.1 .4-.9 .4,1.3 .4,.4 .4,1.5 .4-.6 .4,.5 .4-4.2 .4,1.8 .4-3 .4,6.5 .4-4 .4,.4 .4,4.1 .4-1.7 .4-2.3 .4,.1 .4-.3 .4,2.4 .4,4.1 .4-8.3 .4,5.4 .4-.4 .4-3.2 .4,1.5 .4-.1 .4-1.9 .4,.2 .4,3.9 .4-1.8 .4-1.6 .4-1 .4,1.5 .4,.3 .4,1.5 .4,1.4 .4-2.9 .4-1.8 .4,2.5 .4-.5 .4-1.3 .4,2.4 .4-1.5 .4,.8 .4-.7 .4,.9 .4,.3 .4-3 .4,3.6 .4-1.7 .4-3.1 .4,2.5 .4,3 .4,.4 .4-3.9 .4,1.8 .4-2.9 .4,3.3 .4-5.1 .4,1.1 .4,4 .4,.2 .4-2.1 .4,2.2 .4,2.1 .4-3.2 .4,1.4 .4-2.6 .4-.8 .4,5.8 .4-3 .4-1.4 .4-2 .4,4.5 .4,.6 .4,1 .4-3 .4,2.3 .4-1.6 .4-1.6 .4,1.8 .4-.8 .4-.3 .4,.7 .4,3.1 .4-1.2 .4-1.2 .4,1.5 .4,.3 .4,.5 .4,.9 .4-1.4 .4,4.5 .4-4.4 .4,1.4 .4-1 .4,2.2 .4,.2 .4,1.8 .4-2.8 .4,3.6 .4-3.2 .4,5.9 .4-3 .4,3.6 .4,.9 .4-4.7 .4,6.3 .4-3.5 .4-4 .4,4.9 .4,.2 .4,3.2 .4-6.7 .4-2 .4,5.9 .4-.5 .4-.7 .4,2.1 .4,3.7 .4-3.3 .4,2.1 .4-2.9 .4-.9 .4,1.9 .4,4.7 .4-.7 .4-.8 .4-1.9 .4,1.6 .4,.7 .4-3.9 .4,2.6 .4,4.5 .4-6.1 .4,3.3 .4-1.1 .4,.5 .4,2.8 .4-3.3 .4,3.3 .4-1.3 .4,2.4 .4-3.6 .4,4.2 .4-2.1 .4-.8 .4-.2 .4-2.3 .4,6 .4-3.2 .4,4 .4,2.4 .4-7.5 .4,3.9 .4-1.8 .4,1.8 .4,.8 .4-3.1 .4,4.6 .4-2.2 .4,3.7 .4-3 .4,.5 .4-.1 .4,5.5 .4-6.2 .4-3.5 .4,6.5 .4-1.5 .4,1.6 .4,.8 .4,.7 .4-2.3 .4,.5 .4,1.4 .4,.7 .4-5.2 .4,6.4 .4-5.7 .4,2.7 .4,1.9 .4-3.1 .4,.1 .4,4.1 .4,0 .4-5.5 .4,2.8 .4,.9 .4,2.2 .4-1.9 .4,1.1 .4-.8 .4,.8 .4,3.6 .4-3.7 .4-.2 .4-3.7 .4,.9 .4-.5 .4,2.6 .4-.4 .4-.7 .4,2.8 .4-4.2 .4,3.4 .4-.6 .4-1.1 .4-.1 .4,.9 .4,2.5 .4,.4 .4-4.7 .4,3.2 .4-1.4 .4,3.3 .4,.6 .4-.6 .4-.6 .4,.4 .4-4.6 .4,4.3 .4-.2 .4-.8 .4-1 .4-.9 .4,.8 .4,.5 .4-3.8 .4,4.9 .4,.7 .4,2.8 .4,.1 .4-2.1 .4-.7 .4,0 .4,1.7 .4,.4 .4-5 .4,4.6 .4-2.3 .4,.9 .4-.6 .4,1.5 .4-2.6 .4,2.1 .4-2.9 .4,4.9 .4-.3 .4-2.3 .4,.6 .4-.9 .4,2.6 .4-.3 .4-1.8 .4,.6 .4,.9 .4-1.9 .4,2 .4,.5 .4,3.8 .4-3.9 .4-1.9 .4,3.7 .4-1.7 .4-1.4 .4,2.5 .4-2.6 .4,3.9 .4-1.3 .4-2 .4,.6 .4,4.1 .4-4.4 .4-.2 .4,2.2 .4-1 .4-.6 .4,1.7 .4-5 .4,4 .4,2.6 .4-.1 .4-4 .4,1.5 .4,1.6 .4-2 .4,1.6 .4,0 .4-4.3 .4,4.8 .4-1.2 .4-.3 .4-.3 .4-3.5 .4,4 .4,2.1 .4,.7 .4-2.1 .4-.6 .4-.4 .4,3.3 .4,1.5 .4-3.8 .4-5 .4,5.5 .4,2.5 .4-5.4 .4,1 .4-1.4 .4,3.4 .4,4.1 .4-2.4 .4-5 .4,.6 .4,3.6 .4-1.6 .4-2.6 .4,3.9 .4-2.3 .4,2.6 .4,.2 .4-.4 .4-2.6 .4,.5 .4,1.2 .4-.7 .4,3.1 .4,.3 .4-1.8 .4,1.4 .4,1.2 .4-4.7 .4,1.1 .4,4.5 .4-4 .4-.7 .4,1.2 .4,.8 .4-3.7 .4,2.9 .4,1.8 .4-2.6 .4-.1 .4,2.8 .4-3.4 .4-.8 .4,2 .4,1.7 .4-1.9 .4-4.5 .4,3.7 .4,2.1 .4,2.5 .4-3.4 .4,5 .4-6.7 .4,.9 .4,1.2 .4,1.3 .4-2 .4,1.8 .4-1.8 .4,1.5 .4,.1 .4-.7 .4,0 .4-.8 .4-.9 .4,7 .4-7.3 .4,4.3 .4-.6 .4-2 .4-.1 .4-1.4 .4,1.8 .4-2.5 .4,2.1 .4,3.8 .4-1.6 .4-4.9 .4,2.9 .4-1 .4-1.9 .4,4.7 .4-5.6 .4,4.4 .4,2.6 .4-.6 .4-5.3 .4,1.8 .4,.1 .4,.2 .4,1.9 .4-.6 .4,2.2 .4-4.6 .4,2 .4,1.5 .4-1.4 .4-4.5 .4,3.7 .4,.2 .4-.4 .4-1.9 .4,3.2 .4-1.3 .4-1.7 .4,2.4 .4-1.2 .4-.8 .4-.3 .4-.8 .4,2.1 .4-1.2 .4,3 .4-2.2 .4,1.5 .4-2.9 .4,.5 .4,1 .4,1.3 .4,.3 .4-1.5 .4,.1 .4,.7 .4,.3 .4,.5 .4-5.2 .4,4.8 .4-1.8 .4,.3 .4-1.7 .4,2.9 .4,.8 .4,0 .4-3.5 .4-1.7 .4,5.3 .4-3.3 .4-2.4 .4,5 .4-5.9 .4,5.9 .4-2.9 .4,4.5 .4-3.4 .4-1.3 .4,1.3 .4-1.8 .4,.4 .4,1.9 .4-.7 .4-2.4 .4,1.5 .4,4.2 .4-6 .4,3.6 .4,3.6 .4-6.3 .4,3 .4-1.4 .4-2 .4,3.3 .4-.2 .4-1.5 .4-1.4 .4,3.3 .4-.8 .4-1.8 .4-1.2 .4,1 .4-.5 .4-.3 .4,3.3 .4-2.8 .4,2.6 .4-.8 .4-.8 .4-1.4 .4-1.7 .4-.9 .4,1.8 .4-2.9 .4-3.7 .4-1 .4-3.6 .4-2.3 .4-3.4 .4-2.6 .4-2.4 .4-1.2 .4-.4 .4,.3 .4,1.9 .4,2.1 .4,2.7 .4,3.4 .4,1.5 .4,4.6 .4,1.9 .4,1.4 .4,1 .4,.4 .4,4.4 .4-2.3 .4-.1 .4-.3 .4,.8 .4,1.2 .4-.1 .4,2.1 .4-2 .4-.6 .4,2.7 .4-2.4 .4,4.9 .4-5.9 .4,2.2 .4-1.2 .4,2.1 .4,1.9 .4-3.4 .4-2.2 .4,3.6 .4-.5 .4,1 .4-2.8 .4,.2 .4-.2 .4,.3 .4,.8 .4,2.7 .4-1.8 .4-1.7 .4-2.1 .4,5.4 .4-1.5 .4,1.3 .4-8 .4,9.7 .4-6.5 .4-.3 .4,.6 .4,.3 .4,3.5 .4-7.1 .4,5.4 .4,1.3 .4-.4 .4-1 .4,.4 .4-2.6 .4-.8 .4,0 .4-2.2 .4,4.9 .4-2.1 .4,.5 .4,1.7 .4-.6 .4-1.9 .4-2.8 .4-1.9 .4,2.7 .4-4.1 .4,.4 .4-1.3 .4-1.9 .4-1 .4-1.2 .4-1.1 .4-1.5 .4-.5 .4,.8 .4,.6 .4,1.2 .4,2.1 .4,2.1 .4,.6 .4,1.4 .4,2.1 .4,.3 .4-2 .4,1.3 .4,.6 .4,3.4 .4-4.8 .4,2 .4-4.7 .4,3.9 .4-.9 .4-.5 .4,2.1 .4-2.9 .4,2.2 .4-2.7 .4-1.8 .4-2.2 .4,.6 .4-3 .4-1.1 .4-1.5 .4-2.2 .4-.4 .4,.4 .4,.5 .4,.7 .4,2.9 .4,.9 .4,1.1 .4,1.9 .4,3.6 .4-1.7 .4,1.4 .4-.1 .4,4.2 .4-.4 .4,2.1 .4-.9 .4-.6 .4,1.9 .4-.7 .4-1.4 .4,.9 .4,2.4 .4-2.5 .4-4.6 .4-.9 .4,2.2 .4,3.8 .4-1.2 .4,.5 .4-1.8 .4-.2 .4-.8 .4,.5 .4,0 .4-.3 .4-2.1 .4-.6 .4,5 .4-2.3 .4,.3 .4-2.1 .4,1 .4,.8 .4-1.8 .4-1.2 .4,2.5 .4,0 .4-3.8 .4,.3 .4,4.1 .4-4.3 .4-.3 .4-.1 .4,1.8 .4-.8 .4,1.5 .4-3.9 .4,.7 .4,1 .4-.4 .4-2 .4,.9 .4-1.1 .4,.7 .4-2.1 .4,3.9 .4-2.9 .4-.7 .4-4.8 .4,3 .4,1.3 .4,0 .4-4.7 .4,3.6 .4-1.2 .4-6.5 .4,0 .4-5.4 .4-2 .4-3.9 .4-3.8 .4-4.6 .4-4.2 .4-3 .4-1.8 .4-.6 .4,1.8 .4,2.1 .4,3.8 .4,4.2 .4,2.5 .4,4.1 .4-.3 .4,4.6 .4,5.6 .4-2.9 .4,.9 .4,3.9 .4-1.7 .4-.2 .4,.3 .4,2.7 .4-2.7 .4-3.1 .4,4.9 .4-.8 .4-2.1 .4-2.6 .4-3.1 .4,2.1 .4-7.4 .4,.8 .4-3.7 .4-4 .4-4.1 .4-3.7 .4-3.8 .4-2.1 .4-1.2 .4,.3 .4,1.7 .4,2.7 .4,3.9 .4,1.6 .4,3.5 .4,4.2 .4-.1 .4,3 .4,.8 .4-1.6 .4,3.1 .4,1.3 .4-2.2 .4,1.5 .4-1.9 .4-1.7 .4-5.4 .4,1.5 .4-3.5 .4-3.3 .4-5 .4-8.1 .4-6.6 .4-9.2 .4-8 .4-12.3 .4-10.6 .4-14.1 .4-15.6 .4-13.1 .4-13.8 .4-11.5 .4-6.8 .4-3.8 .4,1.7 .4,6 .4,8.8 .4,11.7 .4,10 .4,10.1 .4,8.7 .4,6.6 .4,7.4 .4,4.8 .4,4.1 .4,2 .4,2.9 .4,4.9 .4,5.6 .4,7 .4,7.2 .4,6.9 .4,6.3 .4,7.2 .4,5.8 .4,5.2 .4,5.6 .4,1.1 .4,2 .4-1.4 .4,7.4 .4-2.4 .4,2.5 .4-.3 .4,2.1 .4-.7 .4-.3 .4-1.3 .4,1.1 .4-3.9 .4-.9 .4-.7 .4-4.5 .4-.7 .4-4.2 .4-1.6 .4-1.5 .4-1 .4,1.2 .4,2.5 .4,2.7 .4,4.6 .4,2.6 .4,2.5 .4,4.3 .4,1.5 .4,4.6 .4-2.8 .4,6.2 .4,2 .4,.3 .4-1.9 .4-3.4 .4,2.7 .4,2 .4,3.1 .4-2.1 .4-1.3 .4,2 .4,2.3 .4-3.3 .4,1.1 .4,.5 .4,.6 .4,.9 .4,.7 .4-5.3 .4,4.2 .4-1.2 .4-1.4 .4,2.2 .4-.3 .4-.4 .4,1.5 .4-1.5 .4,1.2 .4-.3 .4-.1 .4-.2 .4-.5 .4,3.2 .4-1.2 .4-.6 .4,1 .4-2.8 .4,4.1 .4-6 .4,2.5 .4-2.6 .4,2.2 .4,1.8 .4-.6 .4,3.7 .4-3.4 .4,.4 .4-1 .4-1.9 .4,3.5 .4,1.2 .4-5 .4-1.5 .4,.3 .4,2.7 .4,1.1 .4,.7 .4-5.7 .4,1.3 .4,3.3 .4,.5 .4-1.7 .4-.4 .4,2 .4-2.2 .4-2 .4,5.8 .4-.9 .4-2.5 .4,.4 .4-1.5 .4,4.7 .4-2.3 .4,.9 .4-2.5 .4-1.6 .4,6 .4-3.6 .4,.9 .4,.4 .4,.5 .4-2.9 .4-4 .4,2.6 .4-2.6 .4-.7 .4,.1 .4-2.7 .4-2.6 .4-2.1 .4-2.1 .4-2 .4-2.4 .4-2.6 .4-.3 .4,.1 .4,1.2 .4,1.8 .4,2.1 .4,2.4 .4,1.4 .4,2.5 .4,2.2 .4-2.1 .4-1.1 .4,.8 .4-.7 .4-1.8 .4-2.4 .4-2 .4-1.7 .4-2.2 .4-2.5 .4-.7 .4-.2 .4,1.5 .4,2.5 .4,2.4 .4,3.1 .4,1.8 .4,3.5 .4,.7 .4,3.8 .4,1.7 .4,.1 .4,2.1 .4,1.6 .4,1.1 .4,3.5 .4-.3 .4-3.3 .4,4.5 .4-2.8 .4,4.6 .4-3.8 .4-1.5 .4,2.2 .4-.7 .4,2.8 .4-3.2 .4,0 .4-3.6 .4,4.1 .4-.6 .4,.1 .4,3.5 .4-.4 .4-1.4 .4-.2 .4-1.2 .4-.3 .4,3.2 .4-.5 .4-2.4 .4,2 .4-.4 .4,.7 .4,3.2 .4-4.3 .4,4 .4-.5 .4-1.7 .4,1.7 .4-.8 .4-1.2 .4-2.9 .4,1 .4,.7 .4,1.3 .4,.6 .4,2.8 .4-2.3 .4,3.3 .4-1 .4-.1 .4-2.2 .4,.4 .4,1.2 .4-1.8 .4,.8 .4-3.4 .4,4.4 .4-.4 .4-1.5 .4,3.6 .4,.4 .4-2.2 .4-2.1 .4,2.2 .4-.4 .4,1.2 .4-2.5 .4,1.8 .4,.2 .4-.4 .4-.2 .4-.9 .4-.9 .4-1.3 .4-1.9 .4,0 .4,1.9 .4,.1 .4,2.2 .4-1.6 .4-2.4 .4-.3 .4-1.1 .4-1 .4,1.2 .4-3.2 .4-.5 .4-1.4 .4-1.4 .4-.3 .4-.8 .4,.4 .4,.8 .4,.2 .4,1.9 .4,.3 .4,1.3 .4,1.5 .4,2.3 .4-1 .4,2.4 .4-1 .4,3.1 .4,2.7 .4-5.6 .4,2.8 .4-.4 .4,.5 .4-1.9 .4,3.2 .4-1.4 .4,.5 .4,2 .4-1.3 .4-.5 .4,4.8 .4-3.1 .4-.8 .4,.5 .4,.2 .4-.3 .4,1.3 .4-2.6 .4,4.2 .4-2.3 .4,1.9 .4-2.7 .4,3.9 .4-2.3 .4-.9 .4,2.9 .4-2.9 .4,1.2 .4-2.2 .4,5.9 .4-5.4 .4-1 .4,1.3 .4,1.4 .4-3.7 .4,3.4 .4-2.8 .4-.6 .4-.7 .4,4.3 .4-5.2 .4,.9 .4,0 .4,.9 .4,.7 .4-1.9 .4-.1 .4-3.2 .4,6.6 .4-1.5 .4,1.1 .4-1 .4-4 .4,4.7 .4,1.2 .4-5.8 .4,4.9 .4-3.5 .4,.4 .4-1.4 .4,.6 .4,1.8 .4,.8 .4-.1 .4,.1 .4-1.9 .4,1.5 .4,.1 .4,.4 .4-1.1 .4,1.3 .4-2.8 .4-3.6 .4,3.6 .4-1 .4-.3 .4-2.8 .4,1 .4-1.5 .4-1.8 .4-.9 .4,0 .4-.3 .4-.9 .4-.5 .4,.6 .4,.1 .4,1 .4,1.2 .4,.7 .4,2 .4-1.4 .4,2.4 .4,1.8 .4-.3 .4,1.7 .4-1.4 .4,2.1 .4-2.6 .4,2.1 .4-.2 .4,1.7 .4-2.1 .4,1.3 .4-6.1 .4,5.4 .4,2 .4,1.2 .4-1.4 .4-.7 .4,3.6 .4-3.6 .4-.4 .4,1 .4-.7 .4-1.8 .4-1.2 .4,1.2 .4,2.6 .4,.6 .4-.2 .4-2 .4,.2 .4,2.6 .4-3 .4,.5 .4,3.6 .4-2.5 .4-1.2 .4-.3 .4,3.6 .4-2.3 .4,.4 .4,0 .4-4.1 .4,2.1 .4,2.1 .4-.6 .4,.9 .4-2.4 .4,.1 .4,2.5 .4,2.4 .4-5 .4,1.7 .4-1.6 .4-1.3 .4,2.9 .4-.3 .4-4.3 .4,3.5 .4-.1 .4-1.6 .4,1.2 .4,4.9 .4-7.6 .4,1.6 .4,4.7 .4-1.6 .4,.6 .4-.8 .4,0 .4-1.2 .4,3.3 .4-5.9 .4,4.3 .4-4.6 .4-.4 .4,3.9 .4,3.5 .4-2 .4-1.1 .4,3.4 .4-3.5 .4-1.3 .4,2.7 .4-3.9 .4,6.8 .4-3.5 .4-.9 .4-1 .4,2.6 .4,1.9 .4-4.9 .4,1.5 .4,.1 .4-2.2 .4,4 .4-1.7 .4-1.6 .4,2.5 .4-3.3 .4,2.3 .4-.3 .4-2.2 .4,.5 .4,1.5 .4-4 .4,3.4 .4,.6 .4-.6 .4-.5 .4-2.5 .4,1.6 .4-.1 .4,.6 .4-1.2 .4,.3 .4-2 .4-.6 .4-.7 .4-1.7 .4-.3 .4-2.8 .4-.7 .4,0 .4-1.4 .4,.1 .4,.2 .4,.8 .4,.4 .4,1 .4,2.8 .4-.4 .4,1.3 .4,1.7 .4,.4 .4,0 .4-.2 .4,1.2 .4,1.8 .4,.3 .4,1.1 .4,.3 .4,2.8 .4-1.2 .4-2.2 .4,.3 .4,0 .4-.4 .4,.4 .4,.2 .4-1.5 .4-.8 .4,.7 .4,2.4 .4,1 .4-1.6 .4-.7 .4,1.5 .4-1.5 .4,.7 .4,1.4 .4-5.2 .4,1.4 .4,6.2 .4-4.5 .4-1.1 .4-.7 .4,1.3 .4-1.4 .4,1.1 .4,.2 .4,3 .4-3.3 .4,2.3 .4-2.9 .4,7.1 .4-7.9 .4,2 .4,.6 .4-.5 .4,1.8 .4-.2 .4-1 .4,3.2 .4-4.5 .4,.8 .4-.2 .4,.6 .4,.5 .4-.7 .4-.8 .4-.2 .4,.5 .4-1.1 .4,.4 .4-1 .4-2 .4,5.4 .4-2.9 .4,3.5 .4-3.6 .4,2.6 .4-3 .4,4.6 .4-3.9 .4-1.3 .4,2.1 .4-1.1 .4,7.2 .4-7.4 .4,3.7 .4-6.1 .4,6 .4-3.9 .4,1.8 .4-1.2 .4,3 .4-2.5 .4,1.8 .4,.7 .4,.3 .4-1.6 .4,3 .4,0 .4-3.7 .4,2 .4,1.1 .4,2.3 .4-5.4 .4,2.8 .4-1.1 .4-2 .4,1.7 .4-2.8 .4,2 .4,4.2 .4-2.4 .4,.5 .4-1.5 .4-1.4 .4-1.3 .4-1.4 .4,.6 .4,3.5 .4-3.4 .4,.2 .4,.3 .4-2.3 .4,.8 .4-1.4 .4,.5 .4-.7 .4,2.2 .4-.5 .4,1.4 .4-1.4 .4,1.8 .4-.7 .4,4.5 .4-3 .4,1.3 .4,1.3 .4-1.6 .4,2.1 .4-1.2 .4,.8 .4-1.4 .4,3 .4,1.1 .4-5.1 .4,3 .4-.7 .4,1.2 .4,1.2 .4-1.9 .4,.3 .4,.3 .4-.3 .4,1.5 .4-3.3 .4,2 .4,.9 .4,1.6 .4,1.3 .4-2.9 .4-.4 .4-2.2 .4,.4 .4,2.5 .4-.9 .4,1.4 .4-5.8 .4,3.7 .4,1.4 .4-.7 .4-.3 .4-1 .4,1.1 .4-.3 .4-.1 .4,1.3 .4,1.3 .4-1.5 .4-1.9 .4,4.8 .4-4.1 .4,1.6 .4,.5 .4-.7 .4-2.5 .4,1.5 .4-1.8 .4,5.8 .4-4.6 .4,5 .4-1.8 .4,.1 .4-1.4 .4-2 .4,1.2 .4,.5 .4,4.5 .4-3.5 .4-2.8 .4,1.7 .4,3.5 .4-2.3 .4,.1 .4-1.4 .4-1.8 .4,5.7 .4-.8 .4-5.3 .4,2.8 .4-.5 .4,3.2 .4-2.8 .4-2.2 .4,5.8 .4-3.1 .4,.5 .4-.1 .4,.1 .4-3.3 .4-1.6 .4,4.6 .4,.9 .4-1.1 .4,2.8 .4-3.8 .4-2.3 .4,5.4 .4-.8 .4-1.6 .4-4.6 .4,7.6 .4-4.4 .4,2.8 .4-2.8 .4,4.7 .4-2.8 .4-2.6 .4-2.1 .4,5.6 .4-4.8 .4,3 .4,1.5 .4-4.2 .4,3.9 .4-1.3 .4-1.7 .4,.6 .4,.9 .4-2 .4,1.6 .4-2.3 .4-.1 .4,0 .4-.4 .4-2.1 .4-.9 .4,.3 .4-3.4 .4-3.4 .4,.4 .4-2.5 .4-1.1 .4-1.6 .4-.6 .4,.1 .4,.2 .4,.6 .4,2.2 .4,.6 .4,2.8 .4,1.6 .4,1 .4,1.6 .4-.3 .4,2 .4,6.1 .4-6.5 .4,5.3 .4-2.6 .4,1.3 .4-2.5 .4,1.8 .4,1.9 .4,1.7 .4,1.3 .4,.6 .4-2.6 .4-1.5 .4,3.9 .4-1.6 .4-2.7 .4,6.2 .4-1.8 .4,.7 .4-2.4 .4-1.4 .4,2.8 .4-2.1 .4,3.8 .4-3.7 .4,0 .4,3.3 .4,.1 .4-1.8 .4,1.4 .4-1.3 .4-2.1 .4,3.6 .4-4.4 .4,2.1 .4-.5 .4-.5 .4-.4 .4,1.5 .4-.9 .4,.6 .4-.5 .4-.7 .4,.8 .4,1.8 .4-1.2 .4-1.8 .4,1.2 .4-1.5 .4,1.7 .4,1 .4-1 .4,.5 .4,2.3 .4-2.9 .4,1.6 .4-2.3 .4,4.4 .4-3.1 .4,.3 .4-1.6 .4,3 .4,.3 .4,1 .4-3.5 .4,2 .4-4.6 .4,.9 .4,4.9 .4,.1 .4-2.3 .4,.2 .4,4.4 .4-3.2 .4,.8 .4-1 .4-1.1 .4-2.2 .4,3.1 .4-.7 .4,0 .4,.9 .4-1 .4,2.9 .4-5.1 .4,3.3 .4-2.7 .4,1.2 .4-1.8 .4,2.3 .4,2 .4-.9 .4-1.2 .4,3.4 .4-4.9 .4,5.1 .4-3.7 .4,2.9 .4-2.3 .4-.7 .4,3.8 .4-4.4 .4,2.2 .4,.6 .4,.7 .4-4 .4,3.9 .4-4.3 .4,2.8 .4,.9 .4-.1 .4-.8 .4-.2 .4,.7 .4-1.9 .4,3.6 .4-.3 .4-2.2 .4,1.8 .4-2.1 .4,1.5 .4-1.9 .4,2 .4,.2 .4-1.6 .4-2.6 .4,5.9 .4-1.2 .4-.3 .4,.5 .4-1.5 .4,1.2 .4-.5 .4-3.4 .4,.7 .4-1.3 .4,1.2 .4,.5 .4-.3 .4-2.9 .4,4.1 .4-1.7 .4-.7 .4,3.2 .4,1.5 .4,.4 .4-1.1 .4,.4 .4,3 .4-6.5 .4,3.7 .4-2.9 .4,2.1 .4-1.2 .4,.6 .4-.8 .4-.5 .4-.8 .4,3.7 .4-.4 .4-.2 .4-1.7 .4-2.5 .4,2.5 .4,2.2 .4-4.8 .4,4.8 .4-.8 .4-1.3 .4-1.8 .4,4.1 .4-5.1 .4,2.1 .4-.7 .4,1.4 .4,.5 .4-.4 .4-2 .4,.4 .4,1.6 .4,.4 .4,3.3 .4-1.1 .4-3.1 .4,.6 .4,1.2 .4-.5 .4-1.5 .4,1.7 .4-1.4 .4-2.5 .4-2.6 .4,.8 .4,1.4 .4,.5 .4,.2 .4,1.7 .4-4 .4-.8 .4,1.9 .4-1.3 .4-1.3 .4-.8 .4-2.9 .4,.3 .4-.1 .4-1.3 .4-.7 .4-1.1 .4-.9 .4-.5 .4,.6 .4,1.1 .4,1.2 .4,2.2 .4,1.1 .4,.6 .4,.2 .4,.6 .4,1 .4-1.3 .4,3.7 .4-.4 .4-.3 .4,1.5 .4,.1 .4-1.2 .4,3.1 .4-.2 .4-.4 .4,2.7 .4-.4 .4-2 .4-2 .4-.6 .4,3.4 .4-.9 .4,2.7 .4-3.3 .4,2 .4-2 .4,.4 .4,3.3 .4-3.3 .4-.3 .4,1.4 .4,4.2 .4-6.9 .4,3.3 .4-4.4 .4,2.7 .4,1.2 .4,.3 .4,1.6 .4-5 .4,.4 .4,1.7 .4,.5 .4-.6 .4-.3 .4-.7 .4,2 .4-1.4 .4-.3 .4,3.3 .4-.2 .4-1 .4,0 .4,.5 .4,2.4 .4-3.4 .4-1 .4,.3 .4,.7 .4-2.3 .4,1.5 .4-1.9 .4,1.4 .4,1.1 .4-.5 .4-2.7 .4,.3 .4,1.1 .4,1.4 .4-2.8 .4-1.4 .4,3.5 .4,1.7 .4,1 .4-1.1 .4-.4 .4-.3 .4,1.5 .4-2.5 .4-.3 .4-1.4 .4,.5 .4,.3 .4-1.1 .4,2.7 .4,.7 .4-2.7 .4,2.8 .4-1.7 .4,3.7 .4-4.2 .4,1.1 .4,.6 .4,.6 .4,1.2 .4-2.2 .4,4.3 .4-5.5 .4,.4 .4,4.1 .4-4 .4-.3 .4,1.5 .4-2.9 .4,3.9 .4-3.8 .4-1.2 .4,1 .4,2.2 .4,1.3 .4-.5 .4,.6 .4-2.5 .4-.6 .4,2.8 .4-4.8 .4,3.2 .4-.9 .4,.9 .4-4.7 .4,2.2 .4,1.8 .4,.2 .4-4.4 .4,5.2 .4-.3 .4-.9 .4-1.3 .4,.2 .4,5 .4-4.2 .4,.3 .4,2.7 .4-2 .4-.9 .4-3.3 .4,4.3 .4-3.7 .4,.9 .4,2.7 .4-1.7 .4-1.1 .4,2.3 .4,1.6 .4-1.4 .4-.8 .4-1.1 .4,1.7 .4,.3 .4-4 .4,4.5 .4-6 .4,5.4 .4-2.9 .4,.1 .4,3.2 .4-.6 .4-1.5 .4-1.2 .4,.3 .4,2.8 .4-4 .4-1 .4,2.6 .4,.3 .4-.8 .4-2.9 .4,4.8 .4-3.5 .4,.6 .4,3 .4-1.7 .4-2.3 .4,3.1 .4-1.1 .4,1.7 .4-.3 .4,3 .4-3 .4,1 .4-2.6 .4,.1 .4-1.2 .4,1.1 .4,.1 .4,.8 .4-5.5 .4,5.3 .4-2.3 .4,4.1 .4-4.6 .4,1.3 .4-1.1 .4,2.8 .4-2.8 .4-.5 .4,.5 .4,1.8 .4-.4 .4-2.2 .4-2.2 .4,5.2 .4,.3 .4-3.7 .4,1.9 .4,.7 .4-2 .4,1 .4-3.2 .4,1.7 .4,1.9 .4-1.4 .4,2.8 .4-.4 .4-1 .4,.6 .4,1 .4-2 .4,2 .4-1.5 .4,1.2 .4-3.7 .4,.2 .4,2 .4-2.1 .4,2.7 .4-.9 .4,0 .4,3.3 .4-7.3 .4,5.9 .4-1.5 .4,2.3 .4-4.5 .4-.7 .4,1.1 .4-.1 .4,2.8 .4-2.6 .4,.9 .4-.1 .4,.1 .4-.3 .4-1 .4,.6 .4,1.9 .4-.9 .4-1.6 .4,.8 .4,1 .4-4.5 .4,1.8 .4,.8 .4-.5 .4,1.7 .4-1.7 .4-.4 .4-2 .4,4.1 .4-1.7 .4-2.7 .4,.8 .4-.7 .4,2.2 .4-1.7 .4-.2 .4-1 .4-2.2 .4,2.4 .4-.8 .4,0 .4-.6 .4-.1 .4-.4 .4,.2 .4-.2 .4,.3 .4-.3 .4-.6 .4-.2 .4,1.3 .4-1 .4,1 .4,.5 .4-.9 .4-.6 .4-.2 .4,1.3 .4,.6 .4-1.1 .4,.2 .4,1.2 .4-.2 .4,1.2 .4-.6 .4,1.2 .4-.1 .4,.7 .4,0 .4,.1 .4,.3 .4-.6 .4,.4 .4-1.8 .4,4.5 .4-1.4 .4-1.1 .4-3.5 .4,3.1 .4,1.3 .4,2.9 .4-1.7 .4-.5 .4,.8 .4,2.1 .4-6.2 .4,3.3 .4,1.2 .4,2.6 .4-1.1 .4-4.6 .4,3.6 .4-.7 .4-1.2 .4-3.4 .4,4.9 .4-1.6 .4,2.1 .4-4 .4,.5 .4,3.5 .4-5.1 .4,3.7 .4-.2 .4-.6 .4,2.1 .4,2.2 .4-4.1 .4,.3 .4,.1 .4,.5 .4,.6 .4,.8 .4-1 .4,.1 .4-1.3 .4,4.4 .4-5 .4-.5 .4,1.1 .4-.8 .4-1.4 .4,3.6 .4-2.7 .4,5.9 .4-5.9 .4,1 .4-2.4 .4,6.1 .4-4.4 .4-1.3 .4,2.9 .4-2.4 .4,2.7 .4-.6 .4,1.3 .4,2.4 .4-2.2 .4-3.1 .4-2.4 .4,8 .4-2.8 .4-2.5 .4,1.6 .4,.4 .4-2.8 .4,3.4 .4,.7 .4-1.6 .4,.4 .4-1.9 .4,1.2 .4-3.7 .4,2.7 .4,6.7 .4-6.4 .4-.1 .4-.2 .4,2.3 .4-.7 .4,1.5 .4-3.4 .4,0 .4,1.3 .4-1.1 .4-1.2 .4,.3 .4,.4 .4,4.9 .4-5.4 .4,5.1 .4-4.7 .4-2.3 .4,4.3 .4-.5 .4,2.2 .4-5.2 .4,4.8 .4-7.3 .4,.1 .4,4.3 .4,1 .4-2 .4-4.1 .4,1.8 .4-.1 .4-1.4 .4-2 .4-1.7 .4-3 .4-3.2 .4-.7 .4-2.4 .4-2.2 .4-3 .4-.5 .4,.4 .4-.3 .4,1.9 .4,.7 .4,2.9 .4,.5 .4,4.3 .4,1.7 .4,1 .4,2.2 .4,1.9 .4,.3 .4,1.2 .4,4.7 .4-1 .4-.7 .4,2.8 .4-.7 .4-3.4 .4,.4 .4,3.2 .4-2.5 .4,2.4 .4-1.6 .4-1.2 .4,.2 .4-2.4 .4,3 .4-2 .4-1.3 .4,0 .4-1.9 .4-1.4 .4,.4 .4,.1 .4,.2 .4,1.8 .4,.2 .4,1.3 .4,1.9 .4,.5 .4-.1 .4,1.7 .4,.8 .4,3.5 .4-2 .4-2.5 .4,2.2 .4,.2 .4,1.5 .4-1.8 .4-.1 .4,3.4 .4-2.7 .4,4.1 .4-1.9 .4-.5 .4-.1 .4,1.3 .4,.1 .4-2.5 .4,4.2 .4-2.8 .4,2 .4-1.2 .4,3.8 .4-3.7 .4-1.2 .4,1.5 .4,2 .4-2.2 .4-2.9 .4,3.5 .4-1.1 .4,3.8 .4-1.9 .4-.5 .4,2.3 .4-2.3 .4-3.8 .4,3.3 .4-.5 .4,1.7 .4-2.8 .4,2.2 .4,.4 .4-1 .4-.9 .4,3.7 .4-3.9 .4,4.8 .4-1.2 .4-.6 .4-1.5 .4,.8 .4,.2 .4-1.3 .4,.1 .4,2.1 .4-2.3 .4,2.1 .4-1.5 .4-.7 .4,3.2 .4-2.2 .4-.8 .4,.9 .4,2.2 .4-2.6 .4,1 .4-2.4 .4,3.2 .4-.5 .4-1.8 .4,3.2 .4,.1 .4,.5 .4-2.7 .4-1 .4,4.7 .4-5.9 .4,3.5 .4-.1 .4,.6 .4-.7 .4,.2 .4-.9 .4,.8 .4-.8 .4,.5 .4,2.9 .4-5.6 .4-1.7 .4,3.2 .4,1.9 .4-4 .4,1.9 .4-1.6 .4-.1 .4-1.3 .4,.8 .4-1.6 .4,.4 .4-.2 .4-.7 .4-.9 .4-1.4 .4,.4 .4,.1 .4-.4 .4,.1 .4,.1 .4,1.4 .4-.1 .4,.3 .4,.6 .4,1.1 .4,.8 .4-.3 .4,1.3 .4,1 .4,.4 .4,2.6 .4-.9 .4,.4 .4-3.2 .4,3.4 .4,2.7 .4,1.3 .4-1.2 .4,.8 .4-1.7 .4-.1 .4,.5 .4,2.8 .4-1.2 .4-1.8 .4,4.2 .4-3.1 .4-.4 .4,1.6 .4,1.5 .4-1.5 .4,2.2 .4-1.3 .4,2.4 .4-2.2 .4,1.8 .4-2.2 .4,2 .4-.7 .4-2 .4,4.7 .4-3.1 .4,1.4 .4-1.5 .4,1.2 .4-.1 .4-.8 .4,1.4 .4-.1 .4,1.2 .4-1.4 .4,2.1 .4-2 .4,0 .4,.3 .4-.1 .4,.7 .4,1.1 .4-.3 .4-2 .4-1.2 .4-.1 .4,6.6 .4-5.6 .4,2.1 .4,3.9 .4-2.3 .4-.4 .4-1.4 .4,.1 .4,1.5 .4,1.1 .4,.4 .4-.2 .4-3 .4,1.1 .4,.8 .4,.9 .4,2.6 .4-2.9 .4-.7 .4,1.6 .4-.1 .4,1.4 .4-1.6 .4-.7 .4-1.7 .4,2.2 .4,1.1 .4-.8 .4,2 .4-.4 .4,.2 .4-3.8 .4,5.4 .4-.9 .4-5.8 .4,3.7 .4-2.9 .4,2.9 .4-.4 .4-.4 .4,3.7 .4,.7 .4-2.2 .4-1.4 .4,4.5 .4-3.3 .4,1.1 .4,1.4 .4-1.1 .4-.7 .4,.8 .4,1.3 .4,.5 .4-1.6 .4-2 .4,3.7 .4-.4 .4,2.1 .4-1.7 .4-1.2 .4-.2 .4,2.7 .4-4.5 .4,3.6 .4-2.2 .4,3.1 .4-.4 .4,.1 .4,.8 .4,1.5 .4,.4 .4-3.1 .4,3.3 .4-1.8"/>
<path stroke="#9467bd" stroke-width="2.2" stroke-opacity="0.5" d="M188.8,395.3l.6-3.9 .6,1 .6-3.2 .6,14.8 .6,9.8 .6-3.9 .6,4 .6,4 .6-7.8 .6,18.1 .6-16 .6,6.9 .6,12.3 .6-12.8 .6,1.9 .6-2.2 .6,4.9 .6-11.1 .6,7.8 .6,11.9 .6-6.5 .6-1.7 .6,3.4 .6,.6 .6-1 .6,2.3 .6-10.7 .6,10.8 .6-6 .6,7 .6-3.9 .6-4.7 .6,4.4 .6-4.4 .6,9.7 .6-5 .6,4.2 .6-9.5 .6,13.2 .6-9.3 .6,8 .6-2.4 .6-9.4 .6,6.8 .6-4.1 .6,4.6 .6,4.9 .6-3.6 .6,1.8 .6-10.7 .6,6.6 .6,.7 .6,3.5 .6-8.2 .6,5.7 .6-.6 .6-9.4 .6,2.3 .6,7.1 .6-7.8 .6-.2 .6,10.2 .6-2.9 .6-2.5 .6,1.6 .6-2.4 .6-.7 .6,.4 .6,4 .6,4.5 .6-8.6 .6,2 .6-.8 .6-5 .6,7.3 .6,3 .6-8.3 .6,8.1 .6-6.8 .6,8.3 .6,.3 .6-7.6 .6-7.8 .6,7.9 .6-5 .6,.4 .6,5.1 .6,7.7 .6-6.9 .6-.7 .6-7.8 .6,6 .6-3.8 .6,9.2 .6-5.1 .6,2.3 .6,.1 .6-.9 .6,5.5 .6-2.3 .6-3.9 .6,2.2 .6,1.9 .6,3.8 .6-6 .6,6.3 .6-9.9 .6,1.6 .6-6.1 .6,11 .6-9 .6-.1 .6,9 .6-6.7 .6-1.2 .6,8.1 .6-5.6 .6,5.2 .6-6.5 .6,5.4 .6,1.5 .6-4.9 .6,8.2 .6-10.7 .6,.8 .6,1.2 .6,4.3 .6-6.3 .6-.8 .6,3.2 .6,4.6 .6-8.1 .6-4.3 .6,5.4 .6,3.5 .6-5.8 .6,3.1 .6-9.7 .6,8.9 .6,.3 .6,2.3 .6-1.6 .6,2.1 .6-8.6 .6,7.8 .6-11.2 .6,4.9 .6,8 .6-1.3 .6-13.1 .6,11.6 .6-5.1 .6-1.7 .6,4.6 .6-.5 .6,5.9 .6-13.7 .6,4.7 .6,1.3 .6-8.3 .6,14.3 .6,2.7 .6-11.5 .6,4.7 .6-3.3 .6,2.5 .6-4.7 .6,7.1 .6-9.7 .6,12 .6-5 .6,9.8 .6-19.7 .6,7.3 .6-5.8 .6,5.3 .6,2.6 .6-6.6 .6-2.7 .6-1.5 .6,9.2 .6,4.9 .6-.7 .6-5.6 .6-5 .6,2.7 .6-5.6 .6-.5 .6,12.5 .6-6.7 .6,2.7 .6-3 .6,7.5 .6,.3 .6-10.8 .6,1.7 .6-1.7 .6,9.4 .6-.6 .6-7.6 .6,12.2 .6-11.2 .6-6.2 .6-4.2 .6,8.8 .6,1.9 .6-4.6 .6,4.2 .6,3.7 .6-6.3 .6,4 .6,3.6 .6-5.9 .6-5.5 .6,4.5 .6,.1 .6,7.4 .6-12.7 .6-5.7 .6,8.5 .6-.2 .6-4 .6,4.4 .6-1.6 .6,3.9 .6-10.2 .6,.3 .6,2.9 .6-2.7 .6,8.1 .6-3.6 .6-3.3 .6,7.1 .6-5.4 .6,2.1 .6-1.3 .6-5 .6-.3 .6,.3 .6-5.7 .6,3.2 .6,5.3 .6-3.1 .6-6.5 .6,15.4 .6-16.8 .6,7.4 .6,0 .6,2.1 .6-10.8 .6,3.7 .6-1.6 .6,5.9 .6-4.2 .6-.4 .6,0 .6,6.3 .6-6.7 .6,.5 .6-9.3 .6,7.3 .6-9.8 .6,10.1 .6-4.3 .6-5.4 .6-1.7 .6,4.6 .6,.7 .6-3.7 .6,.8 .6-.3 .6-1.3 .6,1.3 .6,2 .6,4.7 .6-3.3 .6-5.9 .6,10.4 .6-2.2 .6-6.9 .6,6.1 .6-7.4 .6-1.1 .6,.2 .6,11.3 .6-7.1 .6,.9 .6-1.2 .6-2.2 .6,4.2 .6,1 .6,6.2 .6-13.4 .6,11.4 .6-4.1 .6-11.5 .6,13 .6,3.1 .6-2.4 .6-4.1 .6-.3 .6-10.3 .6,11.1 .6-.7 .6-5.3 .6,5.5 .6-4.1 .6,14 .6-16.7 .6,1.6 .6-6.1 .6,8.5 .6,2.4 .6-.5 .6-3.1 .6,7.3 .6-3 .6,4.5 .6-6.2 .6-7.9 .6,7.8 .6-4.2 .6,8.9 .6-6.9 .6,1.7 .6,1.1 .6-7.2 .6,5.5 .6,6 .6-6.9 .6,2 .6,1.5 .6-4 .6,1.9 .6,3.5 .6-3.9 .6,2 .6-.9 .6-4.3 .6-1.2 .6,15.7 .6-2.9 .6-7.2 .6,5.1 .6,.8 .6-.7 .6-6.4 .6-5.1 .6,.8 .6,4.9 .6,7.6 .6,1 .6-8.7 .6-.5 .6,7.4 .6,4.1 .6-14.4 .6,6.7 .6-1.6 .6-2.3 .6,0 .6-.1 .6,1.5 .6-7.4 .6,7.3 .6,3.8 .6-.2 .6,.1 .6-2.3 .6-.7 .6,8.4 .6-10.3 .6,1.6 .6,5.1 .6-5.8 .6-6.5 .6,3.5 .6,.5 .6,1.3 .6-1.5 .6,6.8 .6-1.4 .6-1.1 .6-4.4 .6,6.8 .6-.3 .6,5.7 .6-13.5 .6,2.4 .6,7 .6-11.9 .6,6.4 .6-.3 .6-.9 .6-4.8 .6,4.6 .6-7.4 .6,12.7 .6-8.1 .6,3 .6-1 .6,.9 .6-.4 .6,1.3 .6-3.8 .6,1.8 .6-5.6 .6,.2 .6,.8 .6-.9 .6-1.9 .6,3.4 .6,5.9 .6-1.2 .6-4.1 .6,3.3 .6,0 .6,10.9 .6-20.6 .6,8.6 .6-7.6 .6,12 .6-7.3 .6,3 .6-1.4 .6,2.1 .6-17.5 .6,8.2 .6,5.6 .6-6.9 .6,8.7 .6,2.9 .6-12.3 .6,3.9 .6,4.7 .6,5.4 .6-4.1 .6-1.6 .6-7.9 .6,4 .6,.1 .6-3.7 .6,4.5 .6-3.7 .6-.9 .6,11.9 .6-11.2 .6,9.4 .6-11 .6,1.1 .6-5.8 .6,2.9 .6,10 .6-7.8 .6-9.9 .6,16 .6-11.3 .6,2 .6,1.5 .6-9 .6,16 .6-1.4 .6-8 .6,3 .6-3.3 .6-1.7 .6,1.5 .6-6 .6,4.7 .6-.9 .6,11.6 .6-16.4 .6,12.9 .6-2.9 .6-2.9 .6-3.8 .6,11.3 .6-1.9 .6-7.3 .6-1 .6,1.7 .6,7.6 .6-13.3 .6,4.5 .6,4.9 .6-12.3 .6,6 .6,5.5 .6-7.6 .6,1.4 .6-7.1 .6,9 .6-7.6 .6,3.5 .6,3.3 .6-4.5 .6,6.6 .6-.9 .6-1.3 .6,2.2 .6-5.7 .6-9.7 .6,14.2 .6-.6 .6-6.1 .6-1.9 .6,9.3 .6-8 .6,.3 .6-.5 .6,13.1 .6-14.8 .6-9.1 .6,11.6 .6-4.7 .6-3.6 .6,8.7 .6-3.3 .6,6.5 .6-5.9 .6,7 .6-1.1 .6-4.7 .6,3.4 .6,4.8 .6-5.5 .6-10.2 .6,7.1 .6,.5 .6,4.8 .6-6.7 .6,5.9 .6-6.1 .6,.6 .6-1.3 .6,1 .6-.8 .6,2.2 .6-5.4 .6-1.4 .6,4.4 .6,1 .6-2.7 .6,3.7 .6-.5 .6,6.4 .6-15.1 .6,16.2 .6-20.7 .6,2.6 .6,9.5 .6-5.9 .6,3 .6-.8 .6-4.3 .6-.4 .6,4.6 .6,3.4 .6,1.1 .6-2.1 .6-2.5 .6,7.2 .6-16.2 .6,10.5 .6,5.8 .6,1.6 .6-2 .6,.6 .6-1.5 .6-4.4 .6-11.3 .6,8.2 .6,1.1 .6,8.8 .6-9.6 .6,.3 .6,4.8 .6-7.7 .6,4.7 .6,2.5 .6-4.2 .6,1.2 .6-8.1 .6,2.5 .6,4.7 .6,6.7 .6-8.2 .6-1.7 .6,.6 .6,6.9 .6-9.9 .6,7.6 .6-2.6 .6,2.1 .6-3.9 .6,4 .6,6.1 .6-7.9 .6-1 .6-9.8 .6,14.5 .6-5.4 .6,4.9 .6-1.3 .6-4.3 .6,.8 .6-3.4 .6,15.9 .6-5 .6-.4 .6,1.9 .6,1.2 .6-2.2 .6,1.2 .6,7.4 .6-19.5 .6,9.8 .6-3.3 .6,3.9 .6-11.5 .6,7.6 .6,9.8 .6-9 .6,9.5 .6-5.8 .6,4 .6-5.5 .6,5.1 .6-3.4 .6,10.7 .6-10.1 .6,10.7 .6-3.3 .6,2.5 .6,8.4 .6-7.3 .6-1.2 .6,3.7 .6,3.8 .6-5.4 .6,11.3 .6-6.7 .6-2 .6-.9 .6,2.9 .6,4 .6,2.9 .6-4.1 .6-2.7 .6,3.1 .6-9.3 .6,15.9 .6-.8 .6-4.4 .6,4.8 .6-7.5 .6,13.8 .6-8.6 .6-.9 .6,12.7 .6-13.8 .6,7.2 .6-5.5 .6,1.9 .6,1.7 .6-.9 .6,10.1 .6-1.3 .6-7.5 .6,14.5 .6-11.3 .6-.3 .6,3.2 .6-6.6 .6,11.7 .6-10.5 .6-1.3 .6,11.3 .6-9.2 .6,3.4 .6-4.4 .6,3.8 .6,2.8 .6-11.7 .6,11.3 .6-3.3 .6,10.7 .6,3.2 .6-7 .6,.5 .6,2.4 .6,.2 .6-11.7 .6,.7 .6,4.1 .6-4.1 .6,5.2 .6,2.2 .6-4.1 .6,6.2 .6,4.8 .6-6.5 .6,2 .6-2 .6-.1 .6-1.9 .6-2.7 .6,8.1 .6,2.7 .6-5.2 .6,.8 .6-6.9 .6,5.6 .6,2.7 .6-1.8 .6,.9 .6-4.9 .6-1.1 .6,5 .6,8.4 .6-8.8 .6-5.2 .6,4.2 .6,2.2 .6,6.9 .6-.5 .6-8.8 .6-.8 .6,3.6 .6,1.3 .6-4.5 .6,9.4 .6-6.6 .6,3.4 .6-2 .6,3.5 .6-2.9 .6,1.8 .6,4.8 .6-4.6 .6,5.8 .6-12.7 .6,5.2 .6-3.9 .6-1.7 .6,6.6 .6,9.3 .6-7.8 .6,3.7 .6-13.7 .6,10.3 .6-6.5 .6,6.6 .6,3.9 .6-7 .6,7.4 .6-8.7 .6,4.3 .6-3.4 .6,3.4 .6-1 .6-9.6 .6,8.8 .6-.6 .6,10.4 .6-19.7 .6,12.3 .6,3.6 .6,5.2 .6-2.8 .6-6.3 .6,7.2 .6-7.4 .6-.2 .6-.6 .6-.1 .6,9.1 .6-14.9 .6,.5 .6,11.9 .6-2.3 .6,2 .6-5.2 .6,4.3 .6-4.2 .6-1.2 .6,.4 .6,2.8 .6-.3 .6-2.2 .6,9.4 .6-5.3 .6-3.7 .6-4.5 .6,5.9 .6-7.4 .6,3.6 .6-1.2 .6,1.2 .6,5.1 .6-16.2 .6,22.2 .6-4.9 .6-4.1 .6-.9 .6,6.4 .6-4 .6,8.8 .6-8.9 .6-3.7 .6-2.4 .6,6.3 .6,5.4 .6-10.7 .6,11.9 .6-2.1 .6-5.4 .6,7.6 .6-14.4 .6-2.1 .6,11.7 .6,.7 .6-.2 .6-1.9 .6-6.8 .6,9.6 .6-4.3 .6,5.9 .6-3.1 .6-6.6 .6,8.5 .6,.9 .6,0 .6-7.2 .6-1.6 .6,8.8 .6-4.1 .6-.2 .6,5.3 .6,.3 .6-2.6 .6-3.5 .6,8.2 .6-12.1 .6,4.9 .6,1.6 .6-8.2 .6,3.2 .6,7.6 .6-4.6 .6-4.7 .6,13.1 .6-7.1 .6-.5 .6,8.2 .6-15.8 .6,4.3 .6-1.9 .6,10.6 .6-10.4 .6,15.1 .6-9.2 .6-1 .6,3 .6-5.9 .6-3.5 .6,1.2 .6,2.8 .6-5.1 .6,5.1 .6-3.9 .6,1.7 .6,.4 .6,7.7 .6,3.2 .6-2.3 .6-9.8 .6-2.8 .6,8.1 .6,.9 .6-2.3 .6-7.8 .6,3.5 .6-3.7 .6,4.2 .6-2.9 .6-5.9 .6-6.3 .6,.3 .6-10.9 .6-6.7 .6-7.9 .6-5.1 .6-.6 .6,2.6 .6,6.3 .6,9.2 .6-1.7 .6,13.3 .6,3 .6,7.8 .6,.9 .6-.8 .6-3.5 .6,5.2 .6-.2 .6,2.1 .6,1 .6-4.3 .6,6 .6-5 .6,4.5 .6-.6 .6,4.6 .6-6.2 .6,7.6 .6-9.5 .6-2.8 .6,7.1 .6-9.3 .6,7.4 .6-.2 .6-1.3 .6,.7 .6-1.3 .6,4.8 .6-7 .6-9.1 .6,7.3 .6,5.4 .6,.4 .6-1.7 .6-3.4 .6-4.9 .6,11.5 .6-10.5 .6-2.8 .6-6.4 .6,18.5 .6-9.3 .6-8.4 .6,7.8 .6-3.7 .6-8.7 .6,1.1 .6-5.2 .6-2.5 .6-.9 .6-.3 .6,5.7 .6,1 .6,2.4 .6,7.5 .6-3.1 .6,2.5 .6,5.7 .6-6.8 .6-2.2 .6,7 .6-2.2 .6-3.3 .6,3 .6-8.9 .6,1.3 .6-7.2 .6-1.8 .6-4.4 .6,.5 .6,1.1 .6,3 .6,4.6 .6,3.4 .6,5.8 .6-2.1 .6,5.7 .6-1.8 .6-.6 .6,.9 .6-2.6 .6,6.9 .6-1 .6,1.3 .6-9.4 .6,5.5 .6,9.1 .6-1.5 .6-6.6 .6,.3 .6,.6 .6,3.8 .6,1.5 .6-6 .6-.7 .6-1.8 .6,1.1 .6,6.3 .6-12.1 .6,5.5 .6-9.1 .6-.4 .6-3.4 .6,4.4 .6,9.2 .6,.1 .6-4.7 .6-4.6 .6,4.5 .6-10.7 .6-2.4 .6,1.8 .6,2.4 .6-8.4 .6,3.9 .6,10.5 .6-10.2 .6-2.7 .6-3.6 .6,1.6 .6-5.7 .6-8.9 .6-9.4 .6-13.7 .6-9 .6-7.8 .6-4.7 .6,2 .6,7.1 .6,13.1 .6,9.5 .6,3.4 .6,12 .6,3.8 .6,1.6 .6,.9 .6,3.5 .6,6.8 .6-11.6 .6-.1 .6-2.7 .6-9.6 .6-.2 .6-9.8 .6-7 .6-10.1 .6-8 .6-7 .6,.6 .6,7.2 .6,11.2 .6,7 .6,9.3 .6,7.3 .6,5 .6-.3 .6,.9 .6,1.5 .6,1.9 .6,3 .6-5.8 .6-.7 .6,1.1 .6-3.8 .6-3.9 .6-9.5 .6-1.2 .6-12.4 .6-8.5 .6-6.9 .6-2 .6,.7 .6-.4 .6-1.7 .6-5.8 .6-4.5 .6-16.9 .6-15.7 .6-10.3 .6-1.6 .6,8 .6,16.4 .6,18.8 .6,17 .6,17 .6,15.5 .6,5 .6,3 .6,1.7 .6,5.7 .6-.7 .6-.7 .6,6.4 .6-2.5 .6,.6 .6-6 .6-7.9 .6-3.8 .6-9.7 .6-7.8 .6-9.9 .6-2.9 .6,2.6 .6,8.6 .6,8.3 .6,6.4 .6,8.2 .6,10.6 .6-2.2 .6,6.5 .6,4.7 .6,.8 .6,4.3 .6,3.4 .6-1.5 .6-6.3 .6,12.7 .6-.6 .6-8 .6,2.7 .6-4.1 .6,13.1 .6-8.3 .6,4.5 .6,.6 .6,3.9 .6-5.1 .6-1.8 .6,4.6 .6,2 .6-6.8 .6,2.3 .6-6.5 .6,13.7 .6-9.3 .6,7.7 .6-.4 .6-.3 .6,.9 .6-7.8 .6,4.7 .6-4.2 .6,2.7 .6-2.7 .6,14.4 .6-9.8 .6,3.6 .6-7.7 .6,11.3 .6-8.7 .6-.4 .6-.5 .6-5.9 .6-2.3 .6,10.2 .6-6 .6,3.6 .6,10.2 .6-10.9 .6,10.3 .6-8.2 .6-6.9 .6,6.5 .6,.9 .6-3.3 .6-7.6 .6-4 .6,.8 .6-3.7 .6-6.4 .6-7.4 .6-2.7 .6,.4 .6,3.7 .6,3.6 .6,4.1 .6,1.9 .6-6.9 .6,3 .6,1.3 .6-9 .6,0 .6-11.8 .6-4.9 .6-2.9 .6,2.2 .6,4.1 .6,9.1 .6,11.6 .6,4.3 .6,8.1 .6-6.9 .6,13.4 .6,1.3 .6,.3 .6-6.3 .6,5.5 .6,2.8 .6,.1 .6-2.9 .6,10.8 .6-.2 .6-5.7 .6,8.9 .6-12 .6,7.4 .6,6.6 .6-4.6 .6-3.1 .6,3.3 .6-2.6 .6-1.8 .6-.9 .6,3.9 .6-.6 .6,2.3 .6-5.3 .6,5.2 .6,3.2 .6-7.2 .6,10.3 .6-10.9 .6,.1 .6,.5 .6-2.8 .6-1.6 .6,1.8 .6,4.3 .6-2.7 .6,10.8 .6-8 .6-1 .6-.8 .6,4.7 .6-1.7 .6,1 .6,2.1 .6,3.1 .6-11.4 .6,6.8 .6-3.4 .6,.1 .6-4.3 .6,3 .6-2.2 .6-3.4 .6-5.6 .6-.5 .6-6.2 .6-3.6 .6-.4 .6-1.7 .6-.1 .6,3.1 .6,4.2 .6,5.3 .6,1.3 .6,1.3 .6,1.4 .6,.5 .6,5.8 .6-1.6 .6,6.6 .6-5.2 .6,8.3 .6-5.4 .6,1.4 .6-.5 .6,.1 .6,8.2 .6-10.6 .6,1 .6,1.4 .6,4.2 .6-7.6 .6,11.3 .6-11.1 .6,2 .6,3 .6,.3 .6-5 .6,8.4 .6,4.4 .6-8.6 .6,3.6 .6-.1 .6,8.5 .6-10.9 .6,1.1 .6-3.3 .6,2.8 .6-2.9 .6-.4 .6,.5 .6,5.1 .6-5.7 .6,5.3 .6-4.7 .6,5.9 .6-11 .6,.1 .6,7.7 .6,3.7 .6-9.1 .6-7.4 .6,12.9 .6-3.6 .6-5.6 .6,5.7 .6-2.7 .6-7.5 .6-2.1 .6-1.3 .6-3.2 .6-2 .6-2.1 .6,1.3 .6-.1 .6,1.8 .6,3 .6,2.2 .6,3.8 .6-.1 .6,6.8 .6,3 .6,3 .6-7.9 .6-3 .6,4.1 .6,2.1 .6-2.2 .6,4.4 .6,.2 .6-.7 .6-5.6 .6,7.9 .6-7.9 .6-7.3 .6,10.4 .6,6 .6-5.6 .6-7.5 .6,5.7 .6,6.8 .6-4.6 .6-1.4 .6-5.2 .6,5.2 .6-2.9 .6,9.8 .6-5.5 .6,2.3 .6-11.3 .6,7.3 .6,3.8 .6,4.1 .6-1.8 .6-9.6 .6,17 .6-14.1 .6-.6 .6,0 .6-3.7 .6,3.6 .6-1.6 .6,1 .6-1.1 .6,2 .6,4.3 .6-6.3 .6-2.2 .6,8 .6-2.8 .6,3.3 .6-7.4 .6,3.7 .6-3.3 .6-2.3 .6,3.8 .6,1.7 .6,1.9 .6-6.9 .6,8.9 .6,1.4 .6-3.4 .6-3.5 .6-1.9 .6,8.3 .6-8.3 .6,9.6 .6-14.4 .6-.5 .6,10.6 .6-7.8 .6,10 .6-6.7 .6-.6 .6,3.1 .6,2.3 .6-2.1 .6-4.8 .6-2 .6,1 .6-6 .6-2.7 .6-2.5 .6,1.4 .6-3.4 .6-1 .6,.7 .6,3.2 .6,0 .6,4.8 .6,5.3 .6,.8 .6-2.4 .6,4.9 .6,.6 .6,7.2 .6-1.5 .6-2.3 .6,9.4 .6-11.6 .6,7.8 .6-2.9 .6-2.4 .6-1.7 .6,4.8 .6,4.7 .6-14.3 .6,8 .6,3.8 .6-7.8 .6,.4 .6,9.9 .6-7.5 .6-.7 .6,3.8 .6-.5 .6,1.4 .6,0 .6,4.1 .6-4.8 .6,2.4 .6-7.7 .6,4.7 .6-3.5 .6,9.1 .6-5.1 .6,4.1 .6-6.5 .6-3.2 .6,7.8 .6-4.2 .6-6.1 .6,5.4 .6-2.1 .6,10 .6-6.8 .6,3.7 .6-.8 .6,3.2 .6-3.4 .6,.3 .6-.4 .6-8 .6,6.1 .6-5.6 .6,.1 .6,5.6 .6-8.4 .6,6.8 .6,5.5 .6-4.9 .6,3.5 .6-8.2 .6,4.4 .6-11.4 .6,6.4 .6,1.6 .6,9.1 .6-.2 .6-13.8 .6,4 .6-1.8 .6,3.2 .6-3.2 .6-3 .6-.2 .6-.3 .6-.9 .6,2.5 .6,1.4 .6,2.2 .6-3.2 .6,4.8 .6-5.7 .6,9.2 .6-3.3 .6,8.9 .6,1.2 .6-13.1 .6,14.6 .6-8.7 .6,6.7 .6-3.6 .6-2.1 .6,.6 .6-.9 .6,8.9 .6-6.1 .6-4.9 .6,7.8 .6-5.2 .6,4.7 .6-5.9 .6,5.3 .6-5.8 .6,.7 .6,5.2 .6,2.7 .6-3.2 .6-1 .6,12.6 .6-12.6 .6-11.4 .6,14.7 .6-5.3 .6-4.2 .6,11.8 .6-.8 .6-5.7 .6-.5 .6,2.3 .6,5 .6-9.1 .6,10.6 .6-5 .6,.9 .6,5.3 .6-8.4 .6,4.3 .6-2.7 .6-14.2 .6,13.2 .6,.9 .6-1 .6,6.5 .6-8.1 .6,4.7 .6-.7 .6,.5 .6-10.2 .6,5.9 .6-.1 .6,9.7 .6-9.1 .6,4.5 .6-1.8 .6-7.7 .6,1.2 .6,6.5 .6,2.2 .6,3.9 .6-8.6 .6-4.8 .6,5.6 .6-6.1 .6,12.7 .6-7.9 .6,1.3 .6,8.9 .6-6.8 .6-8 .6,8.1 .6-5.3 .6-2.8 .6,1.9 .6-2.7 .6,9 .6-6.5 .6,2.1 .6,6.7 .6-5.8 .6-1.3 .6,2.8 .6-3.3 .6,3 .6-1.3 .6,5.1 .6-5.8 .6-2.5 .6,2.3 .6-8.3 .6,9.3 .6,4.5 .6,5.3 .6-7.4 .6,4.1 .6-14.5 .6,15 .6-4.3 .6,3.6 .6-8 .6,4.3 .6-1.2 .6-2.8 .6,1.4 .6,7.5 .6-14.1 .6,5.5 .6,3.7 .6,4.4 .6-11.7 .6-1.1 .6-3.2 .6,10.7 .6-2.2 .6,.6 .6-.3 .6-7.8 .6,13.4 .6-.7 .6-10.6 .6,2.8 .6-1.1 .6,.8 .6,12.2 .6-4 .6-9.4 .6,14.4 .6-7.2 .6-1.3 .6-4.6 .6,.3 .6,2.8 .6,14.2 .6-18.4 .6,1.6 .6,7.5 .6-3.2 .6-4.6 .6,16.5 .6-13.9 .6-1.7 .6,1.9 .6,3.6 .6,.5 .6,1.5 .6-3.2 .6-3.4 .6,8.7 .6-7.4 .6-1.8 .6,6.1 .6,2.2 .6-7.8 .6-.1 .6,1.4 .6-2.7 .6,1.8 .6,5.3 .6-.5 .6-14.5 .6,18.4 .6-.5 .6-11.7 .6,12 .6-13 .6,13 .6-9.2 .6,4.9 .6-1.4 .6,1.9 .6-9 .6,13.3 .6-3.6 .6-2.7 .6,5.1 .6-6.2 .6,9.9 .6-3 .6,3 .6-13.1 .6,4.6 .6-9.8 .6,9.7 .6-4.7 .6-.3 .6,8 .6-4.7 .6,5.5 .6-10.4 .6,1.5 .6,5 .6-12.1 .6,5.4 .6,4.8 .6-9.1 .6,11 .6-6.9 .6,8.4 .6-7 .6,10.3 .6-15.3 .6,13.9 .6-12.9 .6,13.7 .6-6.9 .6-8.8 .6,11.9 .6-5.6 .6,1.7 .6,.5 .6,4 .6-5.9 .6,4.5 .6-7.7 .6,1.9 .6,4.1 .6,2.4 .6-5.8 .6-2.2 .6,.7 .6-1.8 .6-5.4 .6,3.9 .6-7.6 .6-2.8 .6-.2 .6,.4 .6,.9 .6,1.4 .6,3.1 .6,3.7 .6-.5 .6,.9 .6,4.6 .6,1.2 .6-4.3 .6,15.5 .6-5.5 .6,3.7 .6-2.4 .6-11.6 .6,16.7 .6-17.3 .6,3.2 .6,6 .6-4.3 .6,6.4 .6,1.1 .6-4.8 .6,8.7 .6-15.4 .6,9.8 .6,1.1 .6,5.7 .6-5 .6-11.8 .6,10.5 .6-4.6 .6,2.5 .6,1.7 .6,3.3 .6-7.9 .6,4.5 .6,2.7 .6-.9 .6,.1 .6-11.6 .6,9.4 .6,3.1 .6-7.2 .6,4 .6-3.8 .6,5 .6-1.8 .6-5.7 .6,6.7 .6-.4 .6-8.4 .6,4.9 .6-.4 .6-4.5 .6,11 .6-8.5 .6,3.8 .6-10.5 .6,9.2 .6-5.7 .6,8.1 .6-3.2 .6,5.8 .6,3.4 .6-16.3 .6,8.7 .6-1.2 .6-2 .6-1.2 .6,3.4 .6,3.1 .6,.4 .6,2.1 .6-5.2 .6,5 .6-1.6 .6,1.7 .6-.2 .6-1.6 .6,1.3 .6-7.6 .6-6.5 .6,3.7 .6,8.1 .6-2.2 .6-2.6 .6,8.7 .6-2.7 .6,4.2 .6-13.1 .6,3 .6,4.3 .6,2.3 .6,2.5 .6-5.1 .6,5.5 .6-1.2 .6-5.2 .6,5.8 .6-4.7 .6,.2 .6-7.4 .6,1.1 .6,.4 .6,4.8 .6-7 .6-3.2 .6,7.7 .6,13 .6-11.9 .6-5.3 .6,2.9 .6,4.3 .6,2.5 .6-3.2 .6,6.5 .6-4.5 .6-8.6 .6,10.2 .6-8.5 .6,8.5 .6-4.7 .6-10.7 .6,.3 .6,8.4 .6,1.6 .6,4.6 .6-2.6 .6,4.3 .6-3.6 .6-3.3 .6-5.3 .6,11.6 .6-1.7 .6-.4 .6-8.6 .6,8.8 .6-14.3 .6,11.6 .6-2.7 .6-.1 .6-14.3 .6,23.6 .6-15 .6,1.2 .6,1.8 .6-1.1 .6-6.3 .6,12.4 .6-4.4 .6,1.8 .6-8.6 .6,9.2 .6-1.6 .6,6.7 .6-10.3 .6-6.4 .6,9.9 .6,1.3 .6,3.6 .6-2 .6-7.7 .6,4.2 .6-5.7 .6,7.5 .6,9.4 .6-17.2 .6-1.8 .6-.1 .6,4.1 .6,2.5 .6-3.3 .6-6.2 .6,6.6 .6,.4 .6,1.4 .6-3.6 .6-6.2 .6,4.9 .6-3.8 .6-2.8 .6,1.1 .6-.8 .6-.9 .6-2 .6-.4 .6-.1 .6-.1 .6,.1 .6-1.1 .6,2.5 .6-1.5 .6,2.6 .6,.5 .6-3.2 .6,3.8 .6,2.3 .6,1.7 .6-.2 .6,2.5 .6-.8 .6,0 .6,4.5 .6,11.4 .6-15 .6,.9 .6,3.6 .6-5 .6,7.2 .6-3.7 .6,8.8 .6-13.2 .6,5.6 .6-4.9 .6,6.4 .6-5.1 .6-2.6 .6,1.7 .6,1.1 .6,3.8 .6-5.1 .6,7.9 .6-4.2 .6,.1 .6-.6 .6,1.9 .6,8.2 .6-12.7 .6,4.5 .6,1 .6,1.4 .6-4.8 .6-8.3 .6,14.4 .6,0 .6,1.5 .6-1.6 .6-7.7 .6,11.8 .6-7.9 .6,3.8 .6,8 .6-3.9 .6-9.7 .6,4.7 .6,6.5 .6-2.2 .6-5 .6-5.9 .6,2.3 .6,2.7 .6,2.7 .6,5.3 .6-.6 .6-13.8 .6,6.2 .6-2 .6,1.1 .6,6 .6-2.9 .6-4.9 .6,12.7 .6-10.7 .6-1.8 .6,2.9 .6,11.5 .6-5.1 .6-6.8 .6,4.7 .6-6 .6,9.1 .6-2.7 .6-13 .6,12.1 .6,4.8 .6-12.7 .6,7 .6-2.3 .6,4.5 .6-9.5 .6,11.4 .6-5.8 .6,8.1 .6-3 .6-5.5 .6-4.1 .6,2.3 .6,9.3 .6-1.9 .6-3.2 .6,.1 .6-2.9 .6-2.6 .6,1 .6-.8 .6-2 .6,2.5 .6,4.3 .6-12.1 .6,4.6 .6-2.7 .6-3.3 .6,.6 .6,.3 .6-4.3 .6,.7 .6-1.1 .6,2.4 .6,.7 .6,.8 .6,1 .6,3.4 .6,1.9 .6-3.9 .6-1 .6,4.8 .6,4.6 .6-3.3 .6,8 .6-6.5 .6-1.6 .6,3.7 .6-7.5 .6,1.9 .6,2.4 .6-.9 .6,11 .6-3.2 .6-3.2 .6-3 .6,7.2 .6,.9 .6-7.1 .6-5 .6,8.8 .6-2.7 .6-.8 .6,2.4 .6,5.2 .6-5.4 .6,.9 .6-1.7 .6-.7 .6-.8 .6,8.5 .6-2.5 .6-2.2 .6,1 .6,3.7 .6,1.4 .6-2.4 .6,.7 .6,1.8 .6-6 .6-3.3 .6,17.3 .6-6.9 .6,4.1 .6-11.5 .6,5.8 .6,6.1 .6,1.1 .6-5.8 .6,3.5 .6-4.1 .6-5.7 .6-1 .6-1.5 .6,4 .6,7.8 .6-6.6 .6,9.5 .6-4.1 .6-1.7 .6-7.3 .6,2 .6,1.9 .6-5.8 .6,2.7 .6-1.4 .6-3.1 .6-4.4 .6,.5 .6-2.6 .6,1.4 .6-1.5 .6,.7 .6,1.8 .6,1 .6,3.9 .6,1.2 .6,5.4 .6-6.2 .6,5.4 .6,2.4 .6-.6 .6-3.2 .6,.5 .6,7.2 .6-4.3 .6-4.8 .6,2.8 .6,7.2 .6,1.6 .6-2.6 .6,3.8 .6-2.6 .6,1 .6-7.2 .6,2.7 .6,7.6 .6-2.5 .6,1.6 .6,2.2 .6-16.6 .6,14.9 .6,.5 .6-2.7 .6,.8 .6-7 .6,8.5 .6-.5 .6-1.3 .6,2.2 .6,2.8 .6-5.7 .6-2.8 .6,1.2 .6,2.6 .6-3 .6-3.3 .6-1.3 .6-.8 .6-2.1 .6,.3 .6,2 .6,1.8 .6,1.2 .6,2.7 .6,1.8 .6,6.2 .6-2.6 .6,2.6 .6-.3 .6-2.7 .6-4.3 .6,7.1 .6,15.8 .6-14.3 .6,5.9 .6-1.4 .6,6.6 .6-9.4 .6-3.3 .6-3.4 .6,17.4 .6-2.6 .6-14.3 .6,12.6 .6-4.7 .6,4 .6-2.8 .6,5.1 .6,7.1 .6-6.2 .6,.9 .6-.1 .6-2.2 .6,0 .6,6.3 .6,3 .6-3.6 .6-2.8 .6,3.4 .6,1.3 .6-3.2 .6-4.1 .6,7.4 .6-9.4 .6,9.3"/>
<path stroke="#9467bd" d="M188.8,388.7l.4,2.6 .4,5.4 .4,.1 .4,5.2 .4,2.9 .4-.1 .4,3.4 .4,4.5 .4-3 .4-.1 .4,3.6 .4,.9 .4-5.4 .4,5.3 .4-2.5 .4,9.2 .4-7.9 .4,2.2 .4,3 .4-8.1 .4,2.1 .4,5.1 .4,1.8 .4-3.7 .4,5.5 .4,2.2 .4,.6 .4,4.2 .4-2.6 .4-2.8 .4,5.9 .4-.3 .4-4.6 .4-1.2 .4,4.8 .4,.2 .4,3.9 .4-4.1 .4,3 .4,.8 .4-3.2 .4,1.7 .4-7.6 .4,1.6 .4,3.4 .4-1.3 .4,.6 .4,1.2 .4-5.2 .4,8.8 .4-2.7 .4,1.2 .4-9.5 .4,3 .4-2.5 .4,2 .4,4.5 .4,.5 .4,2.5 .4-6.4 .4,6 .4-6.2 .4,4.9 .4,1.7 .4-7.4 .4,2.4 .4,3.2 .4,.3 .4-6.4 .4-1.5 .4,1.1 .4,6.5 .4,.5 .4-1.5 .4,1.8 .4,0 .4-1.8 .4,4 .4-11.9 .4,2 .4,.7 .4,5.2 .4-8.4 .4,13.7 .4-.8 .4,.2 .4-12.1 .4,8.3 .4-1.5 .4,4.6 .4-5.6 .4,1.4 .4-5.8 .4,8.4 .4,2.5 .4-5.4 .4-8.3 .4,5.5 .4-2.1 .4,5.7 .4-2.3 .4,3.5 .4-.5 .4-.3 .4,2.6 .4-8 .4,8.2 .4-5.6 .4-2 .4,6.7 .4-1.2 .4,1.9 .4,.9 .4-5.8 .4,4.3 .4-7.7 .4,5 .4-1.6 .4-2.2 .4-2.5 .4,7.2 .4-7.8 .4,4.3 .4,8 .4-.1 .4-4 .4-3.1 .4,7.2 .4-6.5 .4,1.3 .4,1.7 .4-6.4 .4-2.3 .4-1.1 .4,1.8 .4,.9 .4,2.8 .4,4.1 .4-3.7 .4-1.6 .4,5 .4-6.1 .4,7.9 .4-2.5 .4,3.5 .4-3.4 .4-.9 .4,1.3 .4-.2 .4,.6 .4-1.4 .4,2.3 .4-6.1 .4,7.4 .4-6.3 .4,9.4 .4-10.7 .4,2.8 .4,7.9 .4-4 .4-7 .4,7 .4-4.1 .4-3.7 .4,9.6 .4-5.1 .4,6.9 .4-8.2 .4,1.1 .4,3.5 .4-6.7 .4,2.3 .4-7.1 .4,10.5 .4,1.6 .4-1.2 .4-3.6 .4-4.9 .4,9.9 .4-7.9 .4,1.7 .4,6.2 .4-3.4 .4,.1 .4,5.4 .4-9.2 .4,4.3 .4-7.8 .4,3.4 .4,0 .4,.9 .4-.3 .4-6.6 .4,2.9 .4,5.3 .4-7.3 .4,8.8 .4,1 .4-10.8 .4,.4 .4,11.7 .4-3.2 .4-6.2 .4,.2 .4,.6 .4,2.4 .4-5.7 .4,9.6 .4-8.4 .4,.8 .4,3 .4,2.5 .4-3.4 .4,.8 .4,4.8 .4-5.6 .4-.5 .4,3.7 .4-1.3 .4-2.5 .4-1.9 .4,4.2 .4-.3 .4,.7 .4-4.9 .4-3.7 .4,1 .4,12.9 .4-10.3 .4-.8 .4,.6 .4-3.4 .4,1.2 .4,6.2 .4,1 .4-7.2 .4,2.7 .4-.5 .4,2.1 .4-2.6 .4,0 .4-.7 .4-.4 .4-1.9 .4,4.8 .4,1.3 .4-8 .4,7.7 .4-5.4 .4,5.8 .4-1.4 .4-10.8 .4,2.5 .4,6.7 .4,1 .4-1.1 .4-3.5 .4,4.1 .4-9.7 .4,11.6 .4-2 .4-3.2 .4,4.3 .4-7.6 .4,6.4 .4,.4 .4-2.9 .4,2.6 .4-3.7 .4,8.1 .4-15 .4,7.6 .4,2.1 .4,1.6 .4,2.6 .4-6.2 .4-2.4 .4,2.8 .4-2.3 .4,2 .4-2.6 .4-4.5 .4,10.7 .4-8.4 .4,6.3 .4,.7 .4-4.5 .4,5.1 .4-8.8 .4,1.7 .4,2.9 .4,3.1 .4-6.7 .4-.9 .4,5.1 .4,.7 .4-6.9 .4,7.8 .4,2.5 .4-3.8 .4,.6 .4,1.5 .4-7.9 .4,4.7 .4-4.8 .4,3.2 .4-.8 .4-1.8 .4-3.6 .4,.6 .4-2.7 .4,2.3 .4,.8 .4,6.2 .4-2 .4-.5 .4-5.3 .4,.1 .4,1.9 .4,4.2 .4-9.5 .4,2 .4,4.7 .4-2.6 .4,4.4 .4-2.3 .4-4.3 .4,.2 .4-.4 .4,.8 .4,4.5 .4-4.8 .4-.7 .4,5.1 .4-3 .4,5.1 .4-4.7 .4-4 .4,5.2 .4-4.6 .4,2.3 .4-.4 .4,3.6 .4-.4 .4-4.9 .4,.5 .4-4.1 .4-.1 .4,3.2 .4-.2 .4-5.2 .4,4.8 .4-3 .4,4.7 .4-7.9 .4,7.1 .4-3.4 .4-3.5 .4,3.2 .4-2.2 .4-3.7 .4-.4 .4,8.1 .4-4 .4,3.1 .4,2.4 .4-7.1 .4-.7 .4-4.6 .4,6.2 .4-4.8 .4-1.8 .4,4.2 .4,3.2 .4-2.5 .4-7.3 .4,13.2 .4-3.7 .4-3.1 .4,2.6 .4-5.8 .4,2.4 .4,1.3 .4-3.5 .4,4.5 .4-7.5 .4,2.8 .4-.8 .4-5.6 .4,.6 .4-1.3 .4,9.4 .4-4.8 .4-6.1 .4,2.8 .4-2.1 .4,8.3 .4-10.4 .4,9.6 .4-7 .4,3.1 .4-4.1 .4-5.6 .4,11.2 .4-1.7 .4-.8 .4,0 .4,2 .4-8.3 .4,1.6 .4,3.3 .4-5.4 .4,1.3 .4-2 .4,7.4 .4-6.6 .4,6.4 .4-1.3 .4-.6 .4-2.9 .4,4.1 .4-7.8 .4,8.1 .4-8.9 .4,8.9 .4-3 .4-.9 .4,3.2 .4-1 .4-1.8 .4,1 .4-7.6 .4,9.6 .4-5 .4,5.2 .4-3.2 .4,4 .4-6.1 .4-.1 .4,4.2 .4-2.1 .4-2.4 .4,4.5 .4-5.2 .4,.7 .4,3.6 .4-1 .4,0 .4,1.2 .4-4.4 .4,4.3 .4-.8 .4,.3 .4-1.1 .4-5.4 .4,10 .4-10 .4,4.6 .4,2.6 .4,5.4 .4-10.7 .4,5.8 .4-.7 .4,.7 .4-4.3 .4,6.1 .4-5.4 .4,.7 .4,.8 .4,2.6 .4-4.4 .4,2.9 .4-.3 .4-.9 .4-3.8 .4,5 .4,1.4 .4-.8 .4,3.5 .4-4.2 .4,4 .4-2.6 .4-.1 .4,3.7 .4-4.5 .4-2.4 .4,5.6 .4-1.6 .4-4.9 .4,.7 .4,4.2 .4,1.5 .4-4.1 .4,4 .4-4.4 .4,5.9 .4-12 .4,10.5 .4-.1 .4-1.9 .4-5 .4,3.9 .4-4.6 .4,8.4 .4-9.7 .4,6.7 .4-3.4 .4-4.4 .4,7.6 .4,6.3 .4-1.9 .4-6.7 .4,2.5 .4,1.2 .4,3.4 .4-4.5 .4,5.4 .4-5.9 .4,1.7 .4-1.2 .4-.4 .4,1.2 .4-1.2 .4,8.2 .4-14.2 .4,12.9 .4-2.8 .4-2.2 .4,3.4 .4,0 .4-7.3 .4-2.3 .4,14.5 .4-6.1 .4-1.6 .4,7.8 .4-10.4 .4-1.2 .4,6 .4-3.2 .4-1.6 .4-1.8 .4,3.2 .4-4.9 .4,9.1 .4-9.2 .4,1.5 .4,1.3 .4-3.3 .4,10.7 .4-9.1 .4,5.6 .4-7.1 .4,14.4 .4-8.2 .4,1.5 .4-3.8 .4,2.4 .4-5.3 .4,2.3 .4,2.5 .4-6.9 .4,2.4 .4,7.8 .4-1.7 .4-3.4 .4,3.6 .4-3.2 .4,4.5 .4-6.9 .4-3.4 .4,3 .4,8.4 .4-11.4 .4,4 .4,1.3 .4-4.4 .4,4.9 .4-3.1 .4,3.5 .4-3.1 .4,4.7 .4-6 .4-5.1 .4,15.3 .4-2.6 .4-6 .4,.1 .4-2.7 .4,9.8 .4-10.7 .4,7 .4-1 .4-4.9 .4,8.4 .4-10.6 .4,6.5 .4-2.4 .4,1.4 .4-8.3 .4,5.9 .4,3.1 .4-7.5 .4,6.4 .4,2.8 .4-.7 .4-8.2 .4,8.6 .4-8.5 .4,7 .4-10 .4,4.6 .4-3.9 .4,12.4 .4-3.7 .4-7.8 .4,.7 .4,6.8 .4-1.7 .4-2.6 .4,1.1 .4,1.1 .4-3 .4-5.3 .4,3.1 .4,5.1 .4,.5 .4,1.2 .4-.4 .4-3.6 .4-.7 .4,6.2 .4-9.9 .4,1.7 .4,7.5 .4-2.4 .4-6.3 .4-3.7 .4,.9 .4,7.2 .4-4.2 .4,4.2 .4-8.9 .4,9.3 .4-5.7 .4,3.2 .4,6.5 .4-5.8 .4,1.5 .4-7.8 .4,.9 .4-2.5 .4,9.1 .4-7.4 .4,4.5 .4,4.8 .4-10.6 .4,3.8 .4-5.7 .4,7.4 .4-2.8 .4,4 .4-2.3 .4,2.5 .4-10.1 .4,1.4 .4,7 .4-1.8 .4-2.6 .4-2.2 .4,.8 .4-2.3 .4,5.3 .4-5.3 .4,3.2 .4-5.4 .4,10.1 .4-4.7 .4-1.9 .4-1.2 .4-3.3 .4,6.4 .4,1.3 .4,3 .4-6.3 .4-4.8 .4,1.5 .4,3.8 .4-4 .4-3.1 .4,10.7 .4-7.7 .4,.9 .4,8.8 .4-11.4 .4,5.8 .4,.9 .4-3.2 .4-1.7 .4-.2 .4,1.9 .4-3.6 .4,7.4 .4,1.8 .4-15.2 .4,11 .4-3 .4,.6 .4,.8 .4-2 .4,1.4 .4-4.6 .4,6.4 .4,.5 .4-1.8 .4,2.3 .4-6.7 .4,5 .4,1.3 .4-6.6 .4,2.7 .4-2.5 .4-.6 .4,8.7 .4-6.6 .4-2.6 .4,2 .4,.8 .4,9.9 .4-6.3 .4-6.4 .4,2.7 .4-.6 .4-2.1 .4,.7 .4-.5 .4,2.3 .4,2.6 .4-8.4 .4,1.4 .4,.6 .4,4.5 .4-6.9 .4,.6 .4,5.3 .4-6.3 .4-3.4 .4,10.1 .4-5.2 .4,3.6 .4-5.1 .4-2.8 .4-.3 .4,13.6 .4-.2 .4-2.5 .4,1.5 .4-8.1 .4,1.8 .4-9.1 .4,7 .4,3.4 .4-3.4 .4,9 .4-12.2 .4,4.3 .4-3.6 .4,.8 .4-1.3 .4,2.4 .4-6.5 .4,9.3 .4-3.9 .4-2.7 .4-2.1 .4,5.6 .4-2.3 .4,1.4 .4-1.9 .4,5.8 .4,.7 .4-7.4 .4,8.6 .4-3.6 .4-2.3 .4,2.5 .4-4.7 .4,3.7 .4-2.1 .4,4.3 .4-5.9 .4,2 .4,2.1 .4,.5 .4-8.6 .4,11.8 .4-7.8 .4-.9 .4,3 .4-6.9 .4,.7 .4,3.1 .4-3.4 .4,10.5 .4-5.9 .4,.2 .4,.9 .4,2 .4-.3 .4-4.9 .4,6.8 .4-.6 .4,3.7 .4-7 .4-.8 .4-1.8 .4-2.9 .4,3.7 .4-4.2 .4,4 .4,5.9 .4-1.2 .4,1.9 .4-11.2 .4,8.6 .4-2.3 .4-.2 .4,2.5 .4-2.8 .4-.2 .4-3.8 .4,10.1 .4-8.3 .4,4.2 .4-5.6 .4-.6 .4,4.8 .4-3 .4,4.4 .4-3.1 .4,1.9 .4,1.8 .4-8.9 .4,6.9 .4-10.5 .4,5.4 .4,.2 .4-2.5 .4,4.7 .4-1.8 .4-2.4 .4,10 .4-7.4 .4,.3 .4-1.1 .4,4.6 .4-1.3 .4-3 .4,10.5 .4-4.6 .4-3.3 .4-8.1 .4,7.9 .4-1.6 .4-1.3 .4-1.7 .4,7.1 .4,.7 .4-5.9 .4-4 .4,.4 .4,4.4 .4-2.7 .4,2.3 .4,4.1 .4-.2 .4-3.2 .4-4.6 .4,7.8 .4-.9 .4-5.2 .4,4.4 .4,2.1 .4,4 .4-6 .4,2.2 .4-3.9 .4,2.8 .4-1.3 .4,2.9 .4-7.9 .4,4.8 .4-8.1 .4,3.2 .4,1.5 .4-.6 .4,3 .4,1.7 .4,2.3 .4-2.4 .4,0 .4-.1 .4,3.1 .4-5.1 .4,9.9 .4-5.1 .4-4.1 .4-7.4 .4,6.4 .4,.3 .4,2.2 .4,0 .4,5.6 .4-10.9 .4,4 .4,2.5 .4,1.9 .4-8.3 .4,10 .4-7.1 .4-.1 .4,3.5 .4,2.6 .4-1.2 .4,1.1 .4-1.2 .4,2.9 .4-4.6 .4,2.6 .4,1.6 .4-.6 .4,3 .4-4.8 .4,.8 .4,6.6 .4-2.9 .4,1.6 .4,1.4 .4,2.1 .4-6.8 .4,9.2 .4-8.8 .4,7.4 .4-7.2 .4,4.6 .4,.4 .4,2.8 .4,.6 .4-4.9 .4,3.9 .4-.1 .4,2.8 .4-2.6 .4-1 .4,4.2 .4,3 .4-9.9 .4,11.2 .4-2.8 .4,2.9 .4-4.1 .4-.9 .4,6.1 .4-3.4 .4-1.1 .4,2.6 .4,4.5 .4,.2 .4,1.6 .4-4.9 .4-5.2 .4,11 .4-4.2 .4-4.4 .4,2.3 .4,.8 .4-2.4 .4,5.4 .4,1 .4,.8 .4,1.2 .4-1 .4-6.4 .4,3.4 .4,4.8 .4-2.2 .4,.5 .4-2.2 .4,4.5 .4-2 .4,2.1 .4,1.6 .4,4.3 .4-3.5 .4-3.3 .4-3 .4,11.4 .4-2.3 .4-9.8 .4,6.9 .4,3.2 .4-4.4 .4,2.2 .4-3.3 .4,6.3 .4-.7 .4-5.4 .4,4.1 .4-4.4 .4,6.8 .4-6.7 .4,6.9 .4-4.7 .4-.3 .4,7 .4-3.3 .4,.3 .4-.1 .4-4.6 .4,6.5 .4-4 .4,5.4 .4,2.6 .4-1.1 .4-4.4 .4-2.4 .4,9.8 .4-6.6 .4,2.5 .4-7.8 .4,3.4 .4,2.6 .4-3.5 .4,5.2 .4-3.2 .4,2.8 .4-5.7 .4,8.1 .4,.6 .4-1.6 .4-4.5 .4-2.6 .4,2.6 .4,2.9 .4-1.9 .4,1.8 .4,6.5 .4-7 .4-3.8 .4,10.5 .4-1.8 .4,4 .4-4.2 .4-.8 .4,2 .4-.2 .4,6.2 .4-12.2 .4,3 .4,.2 .4-2.8 .4,13.7 .4-7.6 .4,.8 .4,1.5 .4-6.9 .4,5 .4,1.9 .4-5.5 .4,9.2 .4-3.8 .4,1.7 .4-3.3 .4-4.2 .4-2.6 .4,8.1 .4-.6 .4,1 .4-7.7 .4,14 .4-11.3 .4-.2 .4,7 .4-6 .4,7.5 .4-2.5 .4-5.4 .4-4.3 .4,7.7 .4,2 .4-5.4 .4,5.8 .4-2.2 .4-1.1 .4,3 .4-1.4 .4,2.3 .4-14.2 .4,6.6 .4,7.9 .4,1.2 .4,3.2 .4-3.1 .4,1 .4-2.4 .4-4.8 .4,1.5 .4,3.7 .4-3.1 .4-1.8 .4,8.9 .4-8.3 .4,3.7 .4-5.8 .4,6.2 .4-2.5 .4-3.7 .4,11.9 .4-7.7 .4,.7 .4,1.2 .4,2.9 .4-6.5 .4,5.3 .4-1.9 .4-8.5 .4,7.8 .4-8.5 .4,7.9 .4-3.9 .4,2.8 .4,2.1 .4-1.9 .4,4.3 .4-1.5 .4,4.1 .4-8.3 .4,2.6 .4-.2 .4-3.1 .4,4.9 .4,3 .4-1.2 .4,.4 .4-1.8 .4-1.7 .4-2.4 .4,2.7 .4-.8 .4,2.8 .4,1.1 .4-1.3 .4,4.1 .4-2.9 .4-3.3 .4,.8 .4,6.5 .4-6.9 .4,3.1 .4-1.8 .4,5.2 .4-9 .4,12.2 .4-7.3 .4-1.6 .4,6.7 .4-5.1 .4,.5 .4-4.9 .4,6.8 .4-1.4 .4-4.1 .4-1.1 .4,1.3 .4,9.5 .4-3.9 .4-5.7 .4,1.1 .4-1.5 .4,10.3 .4-2.9 .4-3.6 .4,4.1 .4-7.8 .4,7.3 .4,1.5 .4-8.4 .4,1.3 .4,6.6 .4,.8 .4-8.4 .4-1.2 .4,9.1 .4-4.5 .4,2 .4-.1 .4,3 .4-11.9 .4,6.5 .4,3.2 .4-1.1 .4-4.4 .4-.4 .4,12.4 .4-13.8 .4,13.2 .4-7.6 .4-.9 .4-3.2 .4,5.4 .4-.5 .4-.3 .4-1.2 .4-1.8 .4,.5 .4-.4 .4,.3 .4,2.2 .4-3.2 .4,7.3 .4-6.6 .4,1.7 .4,1.9 .4,.1 .4-2.2 .4,2.8 .4,1.8 .4-7.2 .4,4.9 .4-.3 .4-2.7 .4,1.1 .4,.6 .4-.5 .4-2.9 .4,4.2 .4-2.4 .4,7.6 .4-6.3 .4,4.5 .4-7.8 .4,3.8 .4-4.1 .4,1.3 .4,7.2 .4-2.2 .4-7.6 .4,6.9 .4-5.7 .4,4.2 .4,2.8 .4-2.7 .4-2.1 .4,6.2 .4-4.6 .4,4.1 .4-.1 .4-1.4 .4-5.5 .4,4.2 .4-2.9 .4,3.5 .4-1.1 .4,.1 .4-.4 .4,2.3 .4-1.5 .4,2.1 .4-.2 .4-3.5 .4-1.1 .4,1.8 .4-1.9 .4,4 .4-2.2 .4-4.4 .4,.3 .4,9.8 .4-11 .4,3.4 .4,1.4 .4,2.4 .4-8.3 .4,3.9 .4,.5 .4,7.7 .4-6 .4,5.7 .4-8.6 .4-.9 .4,3.5 .4-1.4 .4-2.5 .4,1.1 .4,1.4 .4,4.6 .4-3.2 .4-1.5 .4-3 .4,3.6 .4-1.7 .4-2.5 .4,1.2 .4,4.3 .4,4.7 .4-8.4 .4,1.3 .4,2.2 .4-7.1 .4,5.4 .4-4.1 .4,3.6 .4-3.2 .4-4.7 .4,8.8 .4-9.8 .4-.9 .4,8.5 .4-6 .4,7.2 .4-6 .4,3.5 .4,3.5 .4-1.9 .4-3.1 .4-3.4 .4,2 .4-5.1 .4-.4 .4,5.9 .4-11.5 .4,1.8 .4-6.2 .4-7.3 .4-1.1 .4-7.1 .4-3.7 .4-3.7 .4-6.3 .4-.2 .4-1.1 .4,2.5 .4,3.5 .4,5.2 .4,4.5 .4,6.2 .4,3.1 .4,2.5 .4,10.1 .4,1.1 .4-1.6 .4,7.8 .4,.4 .4,.1 .4-5.2 .4,2.8 .4,6.5 .4-2 .4,.8 .4-6 .4,2.8 .4-1.5 .4,3.3 .4,6.2 .4-11.5 .4,5.2 .4,.4 .4-1.8 .4-10.6 .4,10.3 .4-1.1 .4,7.2 .4-7 .4,6.3 .4-3.3 .4-9.3 .4,3.6 .4,6.1 .4-3.1 .4-2.3 .4,9.1 .4-9.3 .4,2.7 .4,1.2 .4,0 .4-9.5 .4,6.6 .4,2.6 .4,3.6 .4-8.1 .4,2.6 .4,3.7 .4-2.6 .4-5.1 .4-.9 .4,11.7 .4-3.6 .4-10.9 .4,6.9 .4-2.5 .4-2.2 .4,6.3 .4-2.8 .4-3.4 .4,3.4 .4,1.2 .4-5.5 .4,1.3 .4,4.8 .4-10.1 .4,6 .4-3.6 .4-2.4 .4-.9 .4-.2 .4-1.3 .4-3.9 .4-3 .4-4.6 .4-2.5 .4-.2 .4-.7 .4,0 .4,2 .4,2.7 .4,2.7 .4-2 .4,3.8 .4,5.2 .4,0 .4,4 .4-4.2 .4,5.3 .4,6.3 .4-7.8 .4,1.3 .4-7.2 .4,8.6 .4-.7 .4-2.5 .4-1 .4-2 .4-1.5 .4,.5 .4,1.1 .4-7.4 .4-1.8 .4-2.9 .4-2.2 .4-1.6 .4-1.6 .4-.9 .4,1.2 .4,1.4 .4,2.2 .4,2.2 .4,5.1 .4,.6 .4,2.6 .4,7 .4-6 .4,6.7 .4,.6 .4,2.1 .4-1.1 .4-.2 .4,3.4 .4-7 .4-1 .4-4.2 .4,9.5 .4,2.3 .4-.5 .4-7 .4,2.3 .4,.4 .4,1.6 .4,.8 .4,6.1 .4,.5 .4-7.7 .4,8.2 .4-1.4 .4-2.7 .4-3.4 .4-6.1 .4,12.4 .4-4.2 .4-7.4 .4,3.2 .4-.9 .4,1.7 .4-8.2 .4,3.1 .4,1.2 .4-4.5 .4,3.4 .4-.4 .4-2 .4,4.3 .4-13.9 .4,9.3 .4-2.6 .4,11.3 .4-8 .4-6.1 .4,5.9 .4-.9 .4,3.6 .4-4.6 .4,3.9 .4-8.1 .4-.2 .4,3.1 .4-1.6 .4-6.5 .4,2.6 .4,5.3 .4-9 .4,12.9 .4-14.3 .4,9.4 .4-8.8 .4,4.8 .4-2 .4-6 .4-.2 .4-4.6 .4-4.8 .4-5.1 .4-5.9 .4-6.5 .4-6 .4-8 .4-7.8 .4-7.4 .4-1.8 .4-1 .4,1.9 .4,4.4 .4,5.4 .4,6.7 .4,7.9 .4,7.4 .4,3.3 .4,5.8 .4,7.3 .4-1.6 .4,7.2 .4-2.2 .4,2 .4,1.4 .4-3.1 .4,.2 .4,4.9 .4-3.8 .4,2.1 .4-5.9 .4-2.3 .4-4 .4-1.1 .4-7.8 .4-5.8 .4-4.1 .4-8.1 .4-7.4 .4-5.7 .4-6.6 .4-1.8 .4,1.7 .4,.7 .4,5.5 .4,4.3 .4,9.7 .4,5.5 .4,4.5 .4,6.8 .4,7.6 .4-2.2 .4,4.3 .4,2.2 .4-5 .4,1.7 .4,4.8 .4-3.4 .4,3.6 .4,.5 .4-.3 .4-1.8 .4-.2 .4,1.1 .4-8.9 .4,3.7 .4-5.4 .4,2.4 .4-8.6 .4-4.6 .4-5.6 .4-6.4 .4-4.4 .4-7.1 .4-2.2 .4-2.9 .4,.1 .4-.5 .4-.1 .4,.7 .4-1.7 .4-3.5 .4-3.4 .4-7.3 .4-8.6 .4-10.4 .4-9.3 .4-8.9 .4-5.3 .4,1.4 .4,4.5 .4,8.5 .4,12.3 .4,12.7 .4,11.4 .4,8.4 .4,12.3 .4,10.1 .4,6.7 .4,4.5 .4,1.7 .4,7.8 .4,4.5 .4,4.5 .4-2.3 .4,9.5 .4-8.9 .4,.8 .4,5.2 .4,1.6 .4,0 .4-4.3 .4-5.3 .4,3.5 .4-8.9 .4-1.7 .4-8.9 .4-3.3 .4-4.8 .4-8.4 .4-5 .4-2.4 .4-2 .4,.6 .4,2.5 .4,5.5 .4,5.8 .4,7.8 .4,5.5 .4,3.3 .4,5.8 .4,4.6 .4,4.6 .4,4.3 .4-.4 .4-1.2 .4,3.7 .4-1.2 .4,8.2 .4-4.8 .4,2.1 .4,2.2 .4-2 .4,3 .4,0 .4-1.1 .4,3 .4-2.7 .4,3.5 .4-.9 .4,.8 .4,3.9 .4-3.7 .4,1.6 .4-1.7 .4,2.8 .4-.3 .4-2.8 .4-1.5 .4,5.2 .4,9.5 .4-5 .4-2.8 .4-3.5 .4,11.7 .4-9.4 .4-3.4 .4,3.4 .4,4.3 .4-4.7 .4-3.9 .4,1.2 .4,1.2 .4,4.7 .4-3.9 .4,2.2 .4,1 .4,4.8 .4-7.6 .4-2.9 .4,8.6 .4-8.6 .4,5.6 .4-4.7 .4,4.9 .4-8.8 .4,10.6 .4,.5 .4-4.1 .4-.5 .4,5.6 .4-3.7 .4-4.4 .4,3.9 .4,0 .4-1.5 .4,.8 .4-1.1 .4-2.2 .4-2.3 .4,7 .4-.4 .4-8.1 .4,6.5 .4-2 .4,.1 .4,1.6 .4,.8 .4-4.4 .4,3.1 .4-1.8 .4,1.1 .4,1.2 .4-1.6 .4,3 .4,1.1 .4-3.7 .4-3.3 .4-7.3 .4,4.9 .4-7.1 .4-.8 .4-2.6 .4-4.3 .4-2.6 .4-4.3 .4-3.3 .4-1.2 .4-1.3 .4,2.6 .4,1.9 .4,2.9 .4,2.8 .4-1.5 .4,5.8 .4-2.6 .4,7.3 .4-.7 .4-5.1 .4,2.1 .4-7.4 .4-4 .4-5.8 .4-4 .4-4.4 .4-2.9 .4-3.2 .4-1.6 .4,3.4 .4,2.1 .4,6 .4,6.4 .4,5.1 .4,2.7 .4,11.6 .4-.7 .4,2 .4,5.5 .4-.5 .4,6.9 .4-2.2 .4-.5 .4-1 .4,1.9 .4,5.8 .4-7.3 .4,1.1 .4-1 .4,5.3 .4,3.1 .4,1.8 .4,1.5 .4-8.9 .4,6.2 .4,1.3 .4-3.8 .4-2.6 .4,3.3 .4,3.3 .4-.6 .4-6.7 .4,7.2 .4,8.2 .4-13.3 .4,8.7 .4-2.5 .4-.4 .4-2.2 .4-3.1 .4,10.3 .4-4 .4,.7 .4-8.3 .4,2.7 .4,2.8 .4,8.6 .4-10.7 .4,8.1 .4-1.2 .4-6.2 .4-2.7 .4,2.8 .4,6.9 .4-3.2 .4-.4 .4-1.6 .4-2 .4,3.1 .4,6.5 .4-3.5 .4,2.8 .4-11.5 .4,12.5 .4,0 .4-8.6 .4,2.3 .4,3.5 .4-3.2 .4-4.1 .4,2.3 .4,1.3 .4-2.5 .4,3.5 .4-2.9 .4,1.6 .4-5.7 .4,3.2 .4-1.3 .4-.2 .4,4.9 .4-7.6 .4,9.3 .4-5.7 .4,3.9 .4-2.2 .4-7.2 .4,.9 .4,2.1 .4-3 .4-4.5 .4-1.5 .4-.2 .4-4.1 .4-.6 .4-2.9 .4-2.7 .4-1.1 .4-.6 .4,1.1 .4,.8 .4,2.8 .4,2.7 .4,1.3 .4,1.2 .4,4.5 .4,.5 .4,2.1 .4,.4 .4,4.4 .4-3 .4,5.6 .4-3.9 .4,4.9 .4,4.8 .4-4.2 .4,.3 .4-1.5 .4-1.7 .4,5.3 .4,1.1 .4-4.9 .4,2.8 .4-7.2 .4,8.4 .4-1.7 .4,.1 .4,2.5 .4,1.5 .4-7.3 .4,5 .4-.8 .4,.6 .4-6.2 .4,10.3 .4-8.1 .4,4.8 .4-1.2 .4,3.7 .4-3.4 .4,6.8 .4-7.5 .4,3.5 .4-6 .4-.1 .4-1.6 .4,4.5 .4-8.6 .4-.8 .4,7.8 .4-3.7 .4,5.7 .4-3.3 .4,1.4 .4,.2 .4,1.3 .4-.9 .4,4.6 .4-6 .4-3.5 .4,11.2 .4-8.8 .4,4.9 .4-2.4 .4-5.4 .4,5.2 .4,5.9 .4-2.2 .4-.8 .4-1.8 .4-7.3 .4,3.9 .4-.6 .4,3.7 .4-2.1 .4,0 .4-.8 .4-.4 .4,1.7 .4-2.3 .4-.3 .4-2 .4,7.1 .4-12.7 .4,7.5 .4-.7 .4-2.8 .4-4.7 .4,0 .4-4.5 .4,1.1 .4-3.7 .4-1.7 .4-1.7 .4,.5 .4,.2 .4-.7 .4,2.2 .4,1.7 .4,3.6 .4,1.1 .4,3 .4,.7 .4,4 .4,3.1 .4-2.8 .4-1.6 .4,6.3 .4,.5 .4-3.3 .4-.5 .4,3.5 .4,.5 .4,5.8 .4-5.2 .4-3.8 .4-.7 .4-.6 .4,9.1 .4-11.6 .4,5 .4,1.1 .4,8 .4-4.5 .4-3.3 .4,2.3 .4-7 .4-1.3 .4,2.2 .4,7.5 .4-.9 .4-6.7 .4-2.3 .4,5.5 .4-1.3 .4,2.8 .4-.6 .4-5.9 .4-.9 .4,9.5 .4-3.7 .4-1 .4,1 .4,3 .4,.4 .4-4.3 .4-4.2 .4,6.3 .4-1.3 .4-3 .4,3.7 .4-.8 .4-2.9 .4,3.3 .4,3.5 .4-5.3 .4-.4 .4,.2 .4-.4 .4-.4 .4,6.1 .4,1.5 .4,.7 .4-5.2 .4,.3 .4,1.3 .4,1.7 .4-8 .4,1 .4,.4 .4,2.7 .4,1.1 .4,.6 .4-.7 .4,1.5 .4-2.5 .4-1 .4,4.5 .4-2.8 .4,3.1 .4-1.7 .4,2.3 .4-8.2 .4,6.1 .4,2.7 .4-4.9 .4-2.4 .4,.2 .4-2.2 .4,5.4 .4-5.8 .4,9.1 .4-9.8 .4,4.9 .4,.1 .4-.6 .4-5 .4,8.9 .4-1.2 .4-4.2 .4-3.2 .4,2.2 .4-1.3 .4,8.6 .4-4.3 .4-2.4 .4,2.2 .4,1.1 .4,.3 .4-1.4 .4-1.8 .4,7.3 .4-8.5 .4-2 .4,3.1 .4,2.1 .4-5.2 .4-.4 .4,4.3 .4-.2 .4-1.6 .4,3 .4-6.8 .4-2.8 .4,1.7 .4,1.3 .4-3.1 .4-2.8 .4-2.7 .4-2.2 .4-1.4 .4-2.1 .4-.1 .4-.4 .4,.9 .4-.8 .4,1.6 .4,3.6 .4,1 .4,1.8 .4,2.1 .4,.5 .4,3.6 .4,.6 .4,.8 .4,3.6 .4-2.6 .4,7.2 .4-1.2 .4-.5 .4-.7 .4-4.9 .4,6 .4,5.2 .4-5.2 .4-3.7 .4,6.1 .4-1.7 .4,3.1 .4-.1 .4-8 .4,.1 .4-1 .4,7.8 .4,.8 .4,1.7 .4-.9 .4-3.6 .4,.1 .4,2.8 .4-1.1 .4-1.5 .4,3 .4-1.9 .4-3 .4,6 .4-6.3 .4,9.6 .4-8.2 .4,1.3 .4,2.2 .4-4.5 .4-6.4 .4,13.3 .4-1.1 .4-10.1 .4,8.4 .4,4.4 .4-10.6 .4,6.6 .4-1.8 .4,6.2 .4-3.3 .4-7.8 .4,.3 .4,2.5 .4-3.1 .4,2.4 .4,8.5 .4-10.4 .4,4.2 .4,7.9 .4-1 .4-6.2 .4-6.1 .4,1.6 .4,4.2 .4,4 .4-.3 .4-1.2 .4-4 .4,6.5 .4-6.7 .4,5.1 .4-4.9 .4-.6 .4,7.6 .4,.1 .4-6 .4,4.7 .4-2.5 .4-6.3 .4,4.7 .4-2.8 .4,1.7 .4-3.8 .4,1.1 .4-1.3 .4,10.9 .4-4.2 .4-3.3 .4,.4 .4-4.7 .4,10.4 .4-5.7 .4-2.6 .4,4.4 .4-5 .4-2.7 .4,5.2 .4-4.2 .4,5 .4,1.3 .4-5.6 .4,.3 .4,7.8 .4-5.1 .4-2.6 .4-2.5 .4-1.8 .4,1.2 .4-.1 .4-1.4 .4,.5 .4-2.8 .4,.2 .4,.5 .4,.2 .4,.4 .4,2 .4,1.4 .4,.3 .4,.7 .4,1.8 .4,3.4 .4-1.8 .4-1.1 .4,1.9 .4,3.9 .4,.1 .4-5.1 .4,8.1 .4,1 .4-6.4 .4-2.7 .4,.4 .4,4.8 .4-.4 .4,3.5 .4-2.4 .4,2 .4-1.2 .4-.3 .4-8.9 .4,8.5 .4-2.4 .4-1.3 .4,1.5 .4,.8 .4-2.1 .4-.5 .4,1.8 .4-1.9 .4,2.2 .4,6.2 .4,.1 .4-2 .4,.2 .4-2.3 .4,3.1 .4-2.4 .4,7.6 .4-9.3 .4,7.5 .4-4 .4-5.1 .4-.9 .4,7.3 .4-5.2 .4,3.4 .4-1.6 .4-2.9 .4,.9 .4,3.2 .4-2 .4,3.5 .4-1 .4,.1 .4,.8 .4-5.7 .4,6.3 .4-2.2 .4-9 .4,13.7 .4-1 .4,1.8 .4-15.3 .4,13.6 .4-7.6 .4,2.1 .4-5.6 .4,8.7 .4-3.4 .4,7.6 .4-7.8 .4,2.6 .4,5 .4-7 .4-3 .4,6.9 .4-5.2 .4,1 .4,3.5 .4,0 .4,4.4 .4-7.6 .4,.6 .4,6.5 .4-3.9 .4-2.8 .4,1.8 .4,1.5 .4-4.5 .4,1.3 .4-5.7 .4,11.8 .4-10.3 .4,8.6 .4-2.1 .4,4 .4-5.7 .4,4.3 .4-2.8 .4-5.6 .4,6.2 .4,.6 .4-6.3 .4,7.2 .4,1.3 .4-3.3 .4,4.8 .4-4.1 .4,.6 .4,2 .4-5.5 .4,4.4 .4,.5 .4-1.6 .4-4.9 .4,2.5 .4,4.5 .4-3.6 .4,1.5 .4,3.5 .4-9.8 .4,2.9 .4-1.8 .4,2.8 .4,4.3 .4-5.8 .4,9.3 .4-10.1 .4,4 .4,2.8 .4-7.5 .4-2.8 .4,3.3 .4,9 .4,.3 .4-18.4 .4,12.5 .4-.5 .4-6.2 .4,4.7 .4,5 .4-7.4 .4,9 .4-4.5 .4-1.7 .4-2.3 .4,3.8 .4,3.7 .4-6 .4-2 .4,1.1 .4-.2 .4,4.3 .4-3.5 .4-4.3 .4,8.1 .4-1.8 .4-1 .4,2.3 .4,5.3 .4-5 .4,.2 .4-7.4 .4,2.3 .4-2.4 .4,8.6 .4-6.6 .4,1.5 .4,1.6 .4,1.3 .4-4.9 .4,1.6 .4,7.5 .4-5.4 .4,4.2 .4-6.5 .4,4.6 .4,1.4 .4,2.5 .4-7.3 .4-2.6 .4,4.8 .4-2.2 .4-2.1 .4,2.8 .4,2.8 .4-2 .4,3.8 .4-5.8 .4-3 .4,4.2 .4,3 .4-9.1 .4,4.7 .4,5.7 .4-3.8 .4,9.8 .4-18.2 .4,2.4 .4,7.2 .4-1.3 .4-3.1 .4,0 .4-1 .4-.5 .4,7.3 .4-5.2 .4,4.9 .4-5.1 .4,.1 .4,3.3 .4,.5 .4,5.6 .4-7.9 .4-4.9 .4,6.9 .4-2.4 .4,4.1 .4-4 .4-2.8 .4,.2 .4,4.9 .4-5.1 .4,9.3 .4-3.6 .4-4.4 .4-2.2 .4,6.9 .4-4 .4-2.5 .4,1.1 .4,3.8 .4-4.2 .4,6.3 .4,3.3 .4-8 .4,.9 .4,8.3 .4-9.7 .4,8.4 .4-14.9 .4,1.5 .4,.7 .4,11.8 .4-6.3 .4,3.5 .4-5.5 .4,5.2 .4-5.8 .4,5.1 .4-6.5 .4,7 .4,1.2 .4-4 .4,4.4 .4-1.1 .4-5.6 .4,1.3 .4,6.7 .4-8.6 .4,4.9 .4-1.5 .4,3.3 .4,3.3 .4-4.8 .4-1 .4-5.3 .4,5.1 .4-6.1 .4,6.2 .4-6.5 .4,7.7 .4,2.7 .4-7.1 .4-4.2 .4,10.1 .4-6.5 .4,.9 .4,1.9 .4-1.2 .4,2.4 .4,5.2 .4-6.8 .4,2 .4-.8 .4,1.2 .4-5.7 .4,4.1 .4,5.3 .4-2.4 .4-2.9 .4,1.7 .4,.9 .4-3.2 .4-3.8 .4,8.7 .4-.2 .4-5.8 .4-.3 .4,8.1 .4,1 .4-15.1 .4,8.9 .4,1.7 .4-2.1 .4-2.7 .4,5 .4,4.3 .4-13.2 .4-1.6 .4,12.5 .4-3.4 .4-1.6 .4,1.9 .4,5.3 .4-14 .4-.4 .4,12.5 .4-10.2 .4,10.1 .4-12.2 .4,1.9 .4-2.8 .4,7.3 .4,3.2 .4,.6 .4-3.3 .4-2.4 .4,4.1 .4-8.2 .4,7.5 .4,1.6 .4-.5 .4-4.3 .4-2.5 .4,11 .4-14.1 .4,1.5 .4,7 .4-1.2 .4-7.4 .4-.4 .4,1 .4-.2 .4-2.1 .4-.1 .4-.3 .4-5.6 .4-.7 .4-1.6 .4-.6 .4-1 .4,.6 .4-.4 .4,1.4 .4,2.1 .4,1.5 .4,.9 .4,2.3 .4,1 .4,2.9 .4,.2 .4,3.9 .4-5.6 .4,.8 .4,4.5 .4-.9 .4,1.4 .4,2.7 .4-7.1 .4,3.5 .4-.3 .4,6.4 .4-1.6 .4-1.4 .4-1 .4-3.8 .4,5.1 .4-2 .4,4 .4-5.3 .4,2.7 .4-1 .4-2 .4,7 .4-8.2 .4,5.9 .4-2.7 .4,.4 .4,0 .4,4.2 .4,.3 .4-4.4 .4,3.6 .4-7.5 .4,11.3 .4-13.5 .4,6 .4,6.9 .4-9.6 .4,2.8 .4-1.2 .4,0 .4,3.9 .4-3.5 .4-6 .4,15.7 .4-8.6 .4,1.6 .4-3.1 .4,2.2 .4-6.6 .4,7.4 .4-1.3 .4-6.1 .4,3.9 .4,.9 .4,7.5 .4-5.4 .4-4.5 .4,3.7 .4,3.4 .4,3 .4-6.4 .4,.8 .4-3.1 .4,3.4 .4-.5 .4-5.2 .4,3.9 .4,.9 .4-.3 .4-2 .4,3.3 .4-3.3 .4,5.4 .4-2.7 .4,3.1 .4-7.8 .4,11.8 .4-12.4 .4,.1 .4,4.1 .4-1.6 .4,1.6 .4-2.4 .4-.9 .4,5.9 .4-4.7 .4-5.1 .4,4.6 .4,4.9 .4,1.1 .4-7.2 .4,1 .4,2.6 .4-2.5 .4-.6 .4-2.6 .4,7 .4,2.6 .4-5.8 .4,1 .4,1.8 .4-4.2 .4,3.5 .4-.4 .4-5.5 .4,3.8 .4,2 .4,2 .4,2.4 .4-3.6 .4-.5 .4-.4 .4,.8 .4,3.7 .4,2.6 .4-6.2 .4-1.6 .4,.2 .4-.9 .4-.2 .4,6.6 .4-5.3 .4-1.1 .4,4.1 .4-1.2 .4-5.2 .4,6.7 .4-4.9 .4,2.7 .4-2 .4-5.5 .4,7 .4-5.1 .4,4.6 .4-2.7 .4,.6 .4-1.8 .4,4 .4-1.2 .4-7.5 .4,6.6 .4,1.8 .4,3.7 .4-5.1 .4,1.7 .4-.8 .4,2.4 .4-8.9 .4,2.7 .4,.1 .4,1 .4-.9 .4,3.6 .4,6.9 .4-5.5 .4,1.1 .4-1.4 .4-.6 .4-.8 .4-2.9 .4,.9 .4-4.7 .4,5 .4,5.2 .4,.9 .4,2.7 .4-8.7 .4,3.9 .4-5.1 .4-.9 .4,3.6 .4,4.1 .4-1.7 .4-3.7 .4-2.7 .4-1.2 .4,6.6 .4,1.6 .4-.3 .4-.5 .4-1.3 .4,7.5 .4-6.1 .4-2.6 .4,1.3 .4,1.7 .4-9.9 .4,8.4 .4-1.1 .4-3.1 .4,.3 .4,3.7 .4,3.5 .4-2.5 .4,.2 .4-.9 .4-3.5 .4-.4 .4,2.9 .4-1.8 .4-5.9 .4,3.3 .4,4 .4-8.3 .4,9.4 .4-3.1 .4,2.8 .4,.5 .4-3.2 .4-3.4 .4,8.2 .4-4.3 .4-3.9 .4-2.8 .4,10 .4-4.4 .4-5 .4,.4 .4,4.5 .4-3.9 .4,12 .4-2.8 .4-1.6 .4,.6 .4-4.2 .4,1.4 .4,4.9 .4-5 .4-.6 .4-1.3 .4,2.4 .4-3 .4,3.8 .4-.4 .4-.6 .4-4.4 .4-1.1 .4,4.3 .4-1.7 .4,.6 .4-1.1 .4-8.2 .4,4.5 .4,.6 .4,3.1 .4-3.1 .4,.8 .4,1.1 .4,2 .4-3.6 .4,1.4 .4-2.7 .4-3.4 .4,5.9 .4-2.3 .4-3.9 .4,.2 .4,1.3 .4-2.5 .4-.4 .4-.4 .4-.6 .4-2 .4,.2 .4-.9 .4-1.1 .4-.2 .4,.1 .4-1.7 .4,.3 .4-.4 .4,.1 .4-.3 .4-.1 .4-.1 .4,1.5 .4-1 .4,.2 .4,.9 .4-.2 .4,3.9 .4-2.3 .4,1.5 .4,.1 .4,.3 .4,3.1 .4,2 .4-.5 .4-.8 .4,1.6 .4,.8 .4-1.4 .4,5.4 .4-6.3 .4,.7 .4,6 .4,.8 .4,.2 .4,2.2 .4-8.3 .4,2.5 .4,1.6 .4,1.8 .4-1.4 .4-5.1 .4,7.6 .4-5.8 .4,4.6 .4-4.5 .4,9.9 .4-9.4 .4,6.1 .4-7.8 .4,4.7 .4-.8 .4-.1 .4-2.9 .4,10 .4-8.6 .4,1 .4-.2 .4,1.5 .4,2.4 .4-5.4 .4,5.8 .4-.1 .4,2.3 .4-6.3 .4-1.6 .4,3.3 .4,5.4 .4,1.7 .4-3.3 .4,0 .4-7.8 .4,4.7 .4-1.5 .4-1.3 .4,7.7 .4-3.9 .4,1.1 .4,7.3 .4-9.3 .4-3.7 .4,9.9 .4-17.6 .4,14.7 .4,4.5 .4-11 .4,11.1 .4-12 .4,3 .4,6.7 .4-2.4 .4,2.3 .4-6.5 .4,1.6 .4-3.7 .4,1.9 .4,1 .4,.4 .4,3.8 .4-3 .4,.1 .4,.3 .4,2 .4-1.4 .4-2.4 .4-4.8 .4,5.9 .4-.5 .4,2.7 .4,.7 .4-5.6 .4-.7 .4,7.4 .4-9.4 .4,6.7 .4,1.6 .4,5.3 .4-6.5 .4-2.5 .4,8.2 .4-3.1 .4-4.4 .4-1.7 .4,1.4 .4,2 .4-2.6 .4,4.4 .4-.4 .4,4.3 .4-1.6 .4-6.1 .4-.8 .4,5.5 .4-4.6 .4,2.7 .4-3.1 .4,2 .4,7.2 .4-10.9 .4,1.6 .4,.7 .4,6.5 .4,3.2 .4-8.7 .4,.2 .4,1.7 .4,.2 .4,1 .4-6.2 .4,4.3 .4,5.4 .4-5.5 .4-6 .4,6.8 .4-1.4 .4,2.2 .4-1.4 .4,.2 .4-1 .4,4.5 .4-2.8 .4-1.2 .4-2.3 .4,2.1 .4-5 .4,4.2 .4-2.3 .4,1.2 .4-1.2 .4,1.5 .4-3.5 .4-1 .4-2.4 .4,3.2 .4-2.7 .4,2.5 .4-2 .4,.6 .4-3.5 .4-1 .4-.2 .4-2.7 .4,.6 .4-1 .4-1.8 .4-.7 .4,.1 .4,.2 .4,2.4 .4-.7 .4,1 .4,.2 .4,1.8 .4,1.3 .4-.5 .4,.2 .4,4.3 .4-4.1 .4,2.6 .4-.9 .4-.3 .4,0 .4,2.2 .4,3.6 .4-.7 .4,.4 .4-4.3 .4,6 .4-.5 .4-3.4 .4,1.2 .4-2.9 .4,2.5 .4,4.1 .4-.4 .4-1.5 .4,2 .4,2 .4-10.1 .4,3.5 .4,2.7 .4,7.9 .4-8.3 .4,2.9 .4-6.4 .4-.8 .4,7.9 .4,.4 .4,.2 .4-.6 .4-5.2 .4,7 .4-10.9 .4,6.5 .4,5.3 .4-4 .4,6.8 .4-10.7 .4,2.5 .4,2.3 .4,5.6 .4-6.5 .4,4.7 .4-7.4 .4,4.3 .4-4.9 .4,12.4 .4-1.9 .4,2.5 .4-6.7 .4,4.8 .4-2.7 .4,3.8 .4-5.8 .4,3.6 .4-.1 .4-1.9 .4,.9 .4-3.2 .4,3.1 .4,.7 .4-1.2 .4-.4 .4-1.2 .4,7.4 .4-10 .4,1.7 .4,8.1 .4-6.9 .4-3.9 .4,10.7 .4-3.2 .4-3.8 .4,3.6 .4-2.3 .4-.2 .4-3.4 .4,5.9 .4-2.8 .4,7.9 .4-5.9 .4,6.8 .4-7.1 .4,5.3 .4-4.2 .4-1.2 .4-1.8 .4-1.4 .4,3.1 .4-.8 .4-1 .4-1.5 .4,2.3 .4-1.1 .4-.7 .4-1.6 .4-1.2 .4-1.4 .4-.9 .4,.2 .4-2.6 .4,0 .4-2.1 .4-.6 .4-.5 .4-1.1 .4,1.6 .4,.5 .4,.9 .4,.5 .4,2.4 .4,2.4 .4-1.7 .4,1 .4,.3 .4,3.6 .4-2.1 .4,3.9 .4,.4 .4,5.2 .4-2.7 .4,4.4 .4-1.8 .4,3.8 .4-5.5 .4,1.6 .4,.5 .4-5.4 .4,12.8 .4-10.5 .4-1.5 .4-.2 .4,9.8 .4-1.3 .4-1.4 .4,.1 .4,2.8 .4-2 .4-2.5 .4,4.5 .4,1.4 .4-2 .4-4.1 .4,4 .4-4.3 .4,0 .4,2.6 .4,1 .4,.5 .4,2.8 .4-3.7 .4-3.7 .4,3.8 .4,4 .4-3 .4,.8 .4,3 .4-1.1 .4-8.4 .4,2.4 .4-.3 .4-4.2 .4,2.2 .4,2.9 .4,3.1 .4-1.7 .4,2.5 .4-3 .4,3.7 .4-2.6 .4-2.8 .4-.2 .4-.4 .4-2.9 .4-2.5 .4,1 .4-.3 .4-1.5 .4,.7 .4-1.2 .4,.6 .4,2.8 .4-.6 .4,1.1 .4,2.6 .4,1.3 .4,.9 .4,2.1 .4,.6 .4,2.6 .4,3.2 .4-2.2 .4-2 .4,3.8 .4-1.6 .4,6 .4,1.4 .4,1 .4-10.5 .4,4.2 .4,5.7 .4-.8 .4,.2 .4-4.5 .4,.1 .4,5.3 .4-1.7 .4-2 .4,4 .4,2.2 .4,.7 .4,2 .4-2.7 .4-7.9 .4,2 .4,5.2 .4,.4 .4-8.9 .4,4.1 .4,12.3 .4-9.2 .4,.1 .4,1.6 .4-1.2 .4,0 .4-1.2 .4,9.9 .4-4 .4-2.9 .4-2.2 .4,6.3 .4,2.2 .4-2.5 .4,2.5 .4,1.4 .4-3.8 .4-1 .4-2.1 .4-2 .4,3.1 .4,1.1 .4,2.7 .4-3.7 .4,.3 .4-1.8 .4,6.9 .4-3.3"/>
</g>
<g fill="#000" stroke="#000" stroke-width="3.5" stroke-linejoin="miter">
<polygon points="797.0,1455.5 801.2,1459.8 805.5,1455.5 809.7,1459.8 805.5,1464.0 809.7,1468.2 805.5,1472.5 801.2,1468.2 797.0,1472.5 792.7,1468.2 797.0,1464.0 792.7,1459.8" stroke-width="5.2" stroke-linejoin="round"/>
<rect x="821.6" y="1254.3" width="18.2" height="18.2"/>
<rect x="1129.7" y="1441.6" width="18.2" height="18.2"/>
<rect x="1390.7" y="1425.8" width="18.2" height="18.2"/>
<polygon points="796.5,1207.0 800.8,1211.2 805.0,1207.0 809.3,1211.2 805.0,1215.5 809.3,1219.8 805.0,1224.0 800.8,1219.8 796.5,1224.0 792.3,1219.8 796.5,1215.5 792.3,1211.2" stroke-width="5.2" stroke-linejoin="round"/>
<rect x="821.7" y="993.4" width="18.2" height="18.2"/>
<polygon points="973.0,1210.6 977.3,1214.8 981.5,1210.6 985.8,1214.8 981.5,1219.1 985.8,1223.3 981.5,1227.6 977.3,1223.3 973.0,1227.6 968.8,1223.3 973.0,1219.1 968.8,1214.8" stroke-width="5.2" stroke-linejoin="round"/>
<rect x="1129.7" y="1183.2" width="18.2" height="18.2"/>
<rect x="1390.7" y="1166.7" width="18.2" height="18.2"/>
<circle cx="724.6" cy="932.7" r="9.10"/>
<circle cx="757.6" cy="935.5" r="9.10"/>
<circle cx="770.2" cy="932.7" r="9.10"/>
<polygon points="796.1,901.0 800.4,905.2 804.6,901.0 808.9,905.2 804.6,909.5 808.9,913.8 804.6,918.0 800.4,913.8 796.1,918.0 791.9,913.8 796.1,909.5 791.9,905.2" stroke-width="5.2" stroke-linejoin="round"/>
<circle cx="815.9" cy="899.7" r="9.10"/>
<rect x="821.8" y="731.1" width="18.2" height="18.2"/>
<circle cx="850.3" cy="906.7" r="9.10"/>
<path d="M877.7,911.6L895.9,911.6L886.8,929.8Z"/>
<circle cx="898.7" cy="916.5" r="9.10"/>
<circle cx="938.8" cy="927.8" r="9.10"/>
<polygon points="972.5,923.5 976.7,927.8 981.0,923.5 985.2,927.8 981.0,932.0 985.2,936.2 981.0,940.5 976.7,936.2 972.5,940.5 968.2,936.2 972.5,932.0 968.2,927.8" stroke-width="5.2" stroke-linejoin="round"/>
<circle cx="1031.5" cy="927.6" r="9.10"/>
<rect x="1128.5" y="906.2" width="18.2" height="18.2"/>
<polygon points="1221.7,919.9 1225.9,924.1 1230.2,919.9 1234.4,924.1 1230.2,928.4 1234.4,932.6 1230.2,936.9 1225.9,932.6 1221.7,936.9 1217.4,932.6 1221.7,928.4 1217.4,924.1" stroke-width="5.2" stroke-linejoin="round"/>
<path d="M1332.6,918.5L1350.8,918.5L1341.7,936.7Z"/>
<rect x="1390.4" y="895.1" width="18.2" height="18.2"/>
<circle cx="724.6" cy="645.5" r="9.10"/>
<circle cx="757.6" cy="656.0" r="9.10"/>
<circle cx="770.2" cy="652.5" r="9.10"/>
<polygon points="796.1,608.2 800.4,612.5 804.6,608.2 808.9,612.5 804.6,616.7 808.9,621.0 804.6,625.2 800.4,621.0 796.1,625.2 791.9,621.0 796.1,616.7 791.9,612.5" stroke-width="5.2" stroke-linejoin="round"/>
<circle cx="814.5" cy="611.8" r="9.10"/>
<rect x="821.8" y="469.6" width="18.2" height="18.2"/>
<circle cx="849.6" cy="620.9" r="9.10"/>
<path d="M877.7,623.0L895.9,623.0L886.8,641.2Z"/>
<circle cx="898.7" cy="630.7" r="9.10"/>
<circle cx="939.5" cy="648.3" r="9.10"/>
<polygon points="972.5,643.3 976.7,647.5 981.0,643.3 985.2,647.5 981.0,651.8 985.2,656.0 981.0,660.3 976.7,656.0 972.5,660.3 968.2,656.0 972.5,651.8 968.2,647.5" stroke-width="5.2" stroke-linejoin="round"/>
<circle cx="1031.5" cy="648.6" r="9.10"/>
<circle cx="1083.0" cy="653.8" r="9.10"/>
<rect x="1128.5" y="636.9" width="18.2" height="18.2"/>
<polygon points="1221.7,642.7 1225.9,647.0 1230.2,642.7 1234.4,647.0 1230.2,651.2 1234.4,655.5 1230.2,659.7 1225.9,655.5 1221.7,659.7 1217.4,655.5 1221.7,651.2 1217.4,647.0" stroke-width="5.2" stroke-linejoin="round"/>
<path d="M1332.6,642.1L1350.8,642.1L1341.7,660.3Z"/>
<rect x="1390.4" y="624.0" width="18.2" height="18.2"/>
<circle cx="724.6" cy="332.0" r="9.10"/>
<circle cx="757.6" cy="350.3" r="9.10"/>
<circle cx="769.5" cy="336.9" r="9.10"/>
<polygon points="796.9,274.4 801.1,278.6 805.4,274.4 809.6,278.6 805.4,282.9 809.6,287.1 805.4,291.4 801.1,287.1 796.9,291.4 792.6,287.1 796.9,282.9 792.6,278.6" stroke-width="5.2" stroke-linejoin="round"/>
<circle cx="815.2" cy="270.9" r="9.10"/>
<path d="M818.4,249.9L836.6,249.9L827.5,268.1Z"/>
<rect x="824.3" y="207.8" width="18.2" height="18.2"/>
<circle cx="849.6" cy="285.0" r="9.10"/>
<path d="M877.0,310.9L895.2,310.9L886.1,329.1Z"/>
<circle cx="898.7" cy="300.4" r="9.10"/>
<circle cx="938.8" cy="332.0" r="9.10"/>
<polygon points="972.1,327.7 976.4,331.9 980.6,327.7 984.9,331.9 980.6,336.2 984.9,340.4 980.6,344.7 976.4,340.4 972.1,344.7 967.9,340.4 972.1,336.2 967.9,331.9" stroke-width="5.2" stroke-linejoin="round"/>
<circle cx="1031.5" cy="337.5" r="9.10"/>
<circle cx="1083.0" cy="350.4" r="9.10"/>
<polygon points="1221.7,336.7 1225.9,340.9 1230.2,336.7 1234.4,340.9 1230.2,345.2 1234.4,349.4 1230.2,353.7 1225.9,349.4 1221.7,353.7 1217.4,349.4 1221.7,345.2 1217.4,340.9" stroke-width="5.2" stroke-linejoin="round"/>
<path d="M1332.6,332.8L1350.8,332.8L1341.7,351.0Z"/>
<rect x="1395.2" y="336.1" width="18.2" height="18.2"/>
</g>
<path d="M159.1,1547.6V18.7H2120.9" fill="none" stroke="#4a4a4a" stroke-width="3.6" stroke-linecap="square"/>
<path d="M159.1,1547.6H2120.9V18.7" fill="none" stroke="#111" stroke-width="2.9" stroke-linecap="square"/>
<path d="M309.7,1547.6v12.25 M460.6,1547.6v12.25 M611.6,1547.6v12.25 M762.5,1547.6v12.25 M913.5,1547.6v12.25 M1064.4,1547.6v12.25 M1215.3,1547.6v12.25 M1366.3,1547.6v12.25 M1517.2,1547.6v12.25 M159.1,1547.6h-12.25 M159.1,1286.6h-12.25 M159.1,1025.6h-12.25 M159.1,764.5h-12.25 M159.1,502.9h-12.25 M159.1,240.3h-12.25" stroke="#000" stroke-width="2.8" fill="none"/>
<g font-family="'DejaVu Sans', 'Liberation Sans', sans-serif" font-size="53" fill="#000">
<text x="309.7" y="1610.8" text-anchor="middle">10</text>
<text x="460.6" y="1610.8" text-anchor="middle">20</text>
<text x="611.6" y="1610.8" text-anchor="middle">30</text>
<text x="762.5" y="1610.8" text-anchor="middle">40</text>
<text x="913.5" y="1610.8" text-anchor="middle">50</text>
<text x="1064.4" y="1610.8" text-anchor="middle">60</text>
<text x="1215.3" y="1610.8" text-anchor="middle">70</text>
<text x="1366.3" y="1610.8" text-anchor="middle">80</text>
<text x="1517.2" y="1610.8" text-anchor="middle">90</text>
<text x="134.3" y="1567.2" text-anchor="end">0</text>
<text x="134.3" y="1306.2" text-anchor="end">1</text>
<text x="134.3" y="1045.2" text-anchor="end">2</text>
<text x="134.3" y="784.1" text-anchor="end">3</text>
<text x="134.3" y="522.5" text-anchor="end">4</text>
<text x="134.3" y="259.9" text-anchor="end">5</text>
</g>
<text x="1142" y="1690" font-family="'DejaVu Sans', 'Liberation Sans', sans-serif" font-size="70.7" font-weight="bold" text-anchor="middle">2<tspan font-weight="normal">Θ</tspan> (°)</text>
<text transform="translate(68.8,783) rotate(-90)" font-family="'DejaVu Sans', 'Liberation Sans', sans-serif" font-size="70.7" font-weight="bold" text-anchor="middle">Intensity (a.u.)</text>
<g font-family="'DejaVu Sans', 'Liberation Sans', sans-serif" font-size="42.4" fill="#000">
<text x="1425.8" y="359.4">Fe/CAG-ps 565°C 10% CO</text>
<text x="1425.8" y="664.8">Fe/CAG-ps 665°C</text>
<text x="1425.8" y="940.9">Fe/CAG-ps 620°C</text>
<text x="1425.8" y="1226.8">Fe/CAG-ps 565°C</text>
<text x="1425.8" y="1480.3">Fe/CAG-ps fresh</text>
</g>
<rect x="633.3" y="49.5" width="1474.9" height="95.0" rx="10.6" ry="10.6" fill="#fff" fill-opacity="0.8" stroke="#d6d6d6" stroke-width="3"/>
<g fill="#000" stroke="#000" stroke-width="3.5" stroke-linejoin="miter">
<rect x="697.9" y="83.5" width="18.2" height="18.2"/>
<polygon points="1042.2,84.0 1046.5,88.2 1050.8,84.0 1055.0,88.2 1050.8,92.5 1055.0,96.8 1050.8,101.0 1046.5,96.8 1042.2,101.0 1038.0,96.8 1042.2,92.5 1038.0,88.2" stroke-width="5.2" stroke-linejoin="round"/>
<circle cx="1443.6" cy="92.5" r="9.10"/>
<path d="M1865.2,83.4L1883.4,83.4L1874.3,101.6Z"/>
</g>
<g font-family="'DejaVu Sans', 'Liberation Sans', sans-serif" font-size="53" fill="#000">
<text x="803" y="110.5">F<tspan dx="2.5">e</tspan><tspan font-size="37.1" dx="1" dy="-20.5">0</tspan></text>
<text x="1141" y="110">Fe₃O₄</text>
<text x="1540" y="110"><tspan font-style="italic">γ</tspan>Fe₂O₃</text>
<text x="1967" y="110">Fe₃C</text>
</g>
</svg>
</body></html>
